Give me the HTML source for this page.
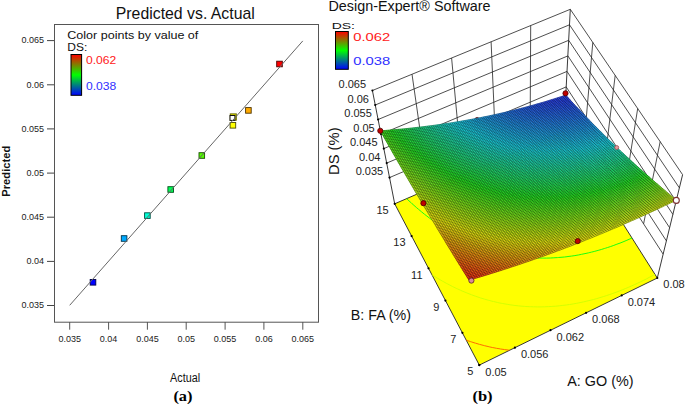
<!DOCTYPE html>
<html><head><meta charset="utf-8"><style>
html,body{margin:0;padding:0;background:#fff;}
svg{display:block;font-family:"Liberation Sans",sans-serif;}
</style></head><body>
<svg width="685" height="404" viewBox="0 0 685 404">
<text x="115.8" y="18.7" font-size="17" textLength="139" lengthAdjust="spacingAndGlyphs" fill="#111">Predicted vs. Actual</text>
<rect x="54.5" y="24.5" width="264" height="297.7" fill="none" stroke="#555" stroke-width="1"/>
<line x1="47" y1="305.5" x2="54" y2="305.5" stroke="#444"/>
<text x="44" y="308.3" font-size="9" text-anchor="end" fill="#222">0.035</text>
<line x1="47" y1="261.4" x2="54" y2="261.4" stroke="#444"/>
<text x="44" y="264.2" font-size="9" text-anchor="end" fill="#222">0.04</text>
<line x1="47" y1="217.2" x2="54" y2="217.2" stroke="#444"/>
<text x="44" y="220" font-size="9" text-anchor="end" fill="#222">0.045</text>
<line x1="47" y1="173.1" x2="54" y2="173.1" stroke="#444"/>
<text x="44" y="175.9" font-size="9" text-anchor="end" fill="#222">0.05</text>
<line x1="47" y1="128.9" x2="54" y2="128.9" stroke="#444"/>
<text x="44" y="131.7" font-size="9" text-anchor="end" fill="#222">0.055</text>
<line x1="47" y1="84.8" x2="54" y2="84.8" stroke="#444"/>
<text x="44" y="87.5" font-size="9" text-anchor="end" fill="#222">0.06</text>
<line x1="47" y1="40.6" x2="54" y2="40.6" stroke="#444"/>
<text x="44" y="43.4" font-size="9" text-anchor="end" fill="#222">0.065</text>
<line x1="69.7" y1="322" x2="69.7" y2="329.7" stroke="#555"/>
<text x="69.7" y="342" font-size="9" text-anchor="middle" fill="#222">0.035</text>
<line x1="108.6" y1="322" x2="108.6" y2="329.7" stroke="#555"/>
<text x="108.6" y="342" font-size="9" text-anchor="middle" fill="#222">0.04</text>
<line x1="147.4" y1="322" x2="147.4" y2="329.7" stroke="#555"/>
<text x="147.4" y="342" font-size="9" text-anchor="middle" fill="#222">0.045</text>
<line x1="186.2" y1="322" x2="186.2" y2="329.7" stroke="#555"/>
<text x="186.2" y="342" font-size="9" text-anchor="middle" fill="#222">0.05</text>
<line x1="225.1" y1="322" x2="225.1" y2="329.7" stroke="#555"/>
<text x="225.1" y="342" font-size="9" text-anchor="middle" fill="#222">0.055</text>
<line x1="263.9" y1="322" x2="263.9" y2="329.7" stroke="#555"/>
<text x="263.9" y="342" font-size="9" text-anchor="middle" fill="#222">0.06</text>
<line x1="302.8" y1="322" x2="302.8" y2="329.7" stroke="#555"/>
<text x="302.8" y="342" font-size="9" text-anchor="middle" fill="#222">0.065</text>
<rect x="90.2" y="279.5" width="5.6" height="5.6" fill="#0000ff" stroke="#00004c" stroke-width="0.9"/>
<rect x="121.3" y="235.7" width="5.6" height="5.6" fill="#00aaff" stroke="#00334c" stroke-width="0.9"/>
<rect x="144.6" y="212.8" width="5.6" height="5.6" fill="#00ffd5" stroke="#004c40" stroke-width="0.9"/>
<rect x="167.9" y="186.7" width="5.6" height="5.6" fill="#00ff55" stroke="#004c19" stroke-width="0.9"/>
<rect x="199" y="152.7" width="5.6" height="5.6" fill="#55ff00" stroke="#194c00" stroke-width="0.9"/>
<rect x="230.1" y="122.5" width="5.6" height="5.6" fill="#ffff00" stroke="#4c4c00" stroke-width="0.9"/>
<rect x="245.6" y="107.6" width="5.6" height="5.6" fill="#ffaa00" stroke="#4c3300" stroke-width="0.9"/>
<rect x="276.7" y="61.2" width="5.6" height="5.6" fill="#ff0000" stroke="#4c0000" stroke-width="0.9"/>
<rect x="230.3" y="113.9" width="6" height="6.3" fill="#e8e800" stroke="#6a6a00" stroke-width="1"/>
<rect x="230" y="115.5" width="4.9" height="4.9" fill="#fff" stroke="#111" stroke-width="1"/>
<line x1="69.7" y1="305.3" x2="302.8" y2="40.9" stroke="#666" stroke-width="1"/>
<text x="67.3" y="38.5" font-size="11" textLength="131" lengthAdjust="spacingAndGlyphs" fill="#111">Color points by value of</text>
<text x="67.3" y="51.3" font-size="11" textLength="20" lengthAdjust="spacingAndGlyphs" fill="#111">DS:</text>
<defs><linearGradient id="cb" x1="0" y1="0" x2="0" y2="1"><stop offset="0" stop-color="#ff0000"/><stop offset="0.5" stop-color="#00ff00"/><stop offset="1" stop-color="#0000ff"/></linearGradient></defs>
<rect x="71" y="54.5" width="10.6" height="40.8" fill="url(#cb)" stroke="#000" stroke-width="1"/>
<text x="86" y="64" font-size="10.5" textLength="30.3" lengthAdjust="spacingAndGlyphs" fill="#ff2020">0.062</text>
<text x="86" y="90" font-size="10.5" textLength="30.3" lengthAdjust="spacingAndGlyphs" fill="#3030ff">0.038</text>
<text transform="translate(10,171.2) rotate(-90)" font-size="11" font-weight="bold" text-anchor="middle" textLength="51" lengthAdjust="spacingAndGlyphs" fill="#111">Predicted</text>
<text x="170.1" y="382.3" font-size="12.5" textLength="30" lengthAdjust="spacingAndGlyphs" fill="#111">Actual</text>
<text x="173.4" y="400.5" font-size="15" font-family="Liberation Serif" font-weight="bold" textLength="19.1" lengthAdjust="spacingAndGlyphs" fill="#000">(a)</text>
<polyline points="389.5,177.6 565.4,102.5" fill="none" stroke="#222" stroke-width="0.8"/>
<polyline points="386.7,163.1 566.2,86.9" fill="none" stroke="#222" stroke-width="0.8"/>
<polyline points="383.8,148.6 567,71.4" fill="none" stroke="#222" stroke-width="0.8"/>
<polyline points="381,134.1 567.9,55.9" fill="none" stroke="#222" stroke-width="0.8"/>
<polyline points="378.1,119.5 568.7,40.3" fill="none" stroke="#222" stroke-width="0.8"/>
<polyline points="375.2,105 569.5,24.8" fill="none" stroke="#222" stroke-width="0.8"/>
<polyline points="372.4,90.5 570.3,9.3" fill="none" stroke="#222" stroke-width="0.8"/>
<polyline points="412,74.2 424.7,162.6" fill="none" stroke="#222" stroke-width="0.8"/>
<polyline points="451.6,58 459.9,147.6" fill="none" stroke="#222" stroke-width="0.8"/>
<polyline points="491.1,41.7 495.1,132.5" fill="none" stroke="#222" stroke-width="0.8"/>
<polyline points="530.7,25.5 530.2,117.5" fill="none" stroke="#222" stroke-width="0.8"/>
<polyline points="565.4,102.5 663.1,254.1" fill="none" stroke="#222" stroke-width="0.8"/>
<polyline points="566.2,86.9 666.4,240.9" fill="none" stroke="#222" stroke-width="0.8"/>
<polyline points="567,71.4 669.6,227.7" fill="none" stroke="#222" stroke-width="0.8"/>
<polyline points="567.9,55.9 672.9,214.4" fill="none" stroke="#222" stroke-width="0.8"/>
<polyline points="568.7,40.3 676.1,201.2" fill="none" stroke="#222" stroke-width="0.8"/>
<polyline points="569.5,24.8 679.4,187.9" fill="none" stroke="#222" stroke-width="0.8"/>
<polyline points="570.3,9.3 682.6,174.7" fill="none" stroke="#222" stroke-width="0.8"/>
<polyline points="660.2,141.6 643.6,223.8" fill="none" stroke="#222" stroke-width="0.8"/>
<polyline points="637.7,108.5 624.1,193.5" fill="none" stroke="#222" stroke-width="0.8"/>
<polyline points="615.2,75.4 604.5,163.1" fill="none" stroke="#222" stroke-width="0.8"/>
<polyline points="592.8,42.3 585,132.8" fill="none" stroke="#222" stroke-width="0.8"/>
<polyline points="372.4,90.5 394.7,203.8" fill="none" stroke="#222" stroke-width="0.9"/>
<polyline points="570.3,9.3 563.9,130.4" fill="none" stroke="#222" stroke-width="0.9"/>
<polyline points="682.6,174.7 657.3,278" fill="none" stroke="#222" stroke-width="0.9"/>
<polygon points="479.3,365.1 657.3,278 563.9,130.4 394.7,203.8" fill="#ffff00" stroke="#222" stroke-width="0.9"/>
<path d="M411.9,203.5L411.5,203.1M411.5,203.1L409,200.9M409,200.9L406.7,198.6M418.4,209.2L416.4,207.5M416.4,207.5L413.9,205.3M413.9,205.3L411.9,203.5M424.7,214.4L424.2,214M424.2,214L421.5,211.8M421.5,211.8L419,209.7M419,209.7L418.4,209.2M430.7,219L429.6,218.2M429.6,218.2L426.9,216.1M426.9,216.1L424.7,214.4M436.4,223.1L435.2,222.3M435.2,222.3L432.4,220.2M432.4,220.2L430.7,219M442,226.9L441,226.2M441,226.2L438.1,224.3M438.1,224.3L436.4,223.1M447.4,230.3L447.1,230.1M447.1,230.1L444,228.2M444,228.2L442,226.9M452.6,233.4L450.2,232M450.2,232L447.4,230.3M457.7,236.2L456.7,235.7M456.7,235.7L453.4,233.8M453.4,233.8L452.6,233.4M462.7,238.8L460.1,237.4M460.1,237.4L457.7,236.2M467.6,241.1L467,240.9M467,240.9L463.5,239.2M463.5,239.2L462.7,238.8M472.4,243.2L470.7,242.5M470.7,242.5L467.6,241.1M477,245.2L474.4,244.1M474.4,244.1L472.4,243.2M481.6,247L478.2,245.6M478.2,245.6L477,245.2M486.1,248.5L482.1,247.1M482.1,247.1L481.6,247M490.6,250L490.3,249.9M490.3,249.9L486.2,248.6M486.2,248.6L486.1,248.5M494.9,251.3L494.7,251.2M494.7,251.2L490.6,250M499.2,252.4L499.1,252.4M499.1,252.4L494.9,251.3M503.4,253.5L499.2,252.4M507.6,254.4L503.8,253.6M503.8,253.6L503.4,253.5M511.7,255.2L508.6,254.6M508.6,254.6L507.6,254.4M515.8,255.9L513.7,255.5M513.7,255.5L511.7,255.2M519.8,256.5L519,256.4M519,256.4L515.8,255.9M523.7,257L519.8,256.5M527.6,257.4L524.5,257M524.5,257L523.7,257M531.5,257.7L530.4,257.6M530.4,257.6L527.6,257.4M535.3,257.9L531.5,257.7M539.1,258L536.6,257.9M536.6,257.9L535.3,257.9M542.8,258.1L539.1,258M546.5,258.1L543.2,258.1M543.2,258.1L542.8,258.1M550.2,258L546.5,258.1M553.8,257.8L550.4,258M550.4,258L550.2,258M557.4,257.6L553.8,257.8M561,257.3L558.3,257.5M558.3,257.5L557.4,257.6M564.5,257L561,257.3M568,256.5L567,256.7M567,256.7L564.5,257M571.4,256.1L568,256.5M574.9,255.6L571.4,256.1M578.3,255L577,255.2M577,255.2L574.9,255.6M581.6,254.3L578.3,255M585,253.6L581.6,254.3M588.3,252.9L585,253.6M591.6,252.1L589.1,252.7M589.1,252.7L588.3,252.9M594.8,251.3L591.6,252.1M598.1,250.4L594.8,251.3M601.3,249.5L598.1,250.4M604.4,248.5L601.3,249.5M607.6,247.5L605.5,248.2M605.5,248.2L604.4,248.5M610.7,246.5L607.6,247.5M613.8,245.4L610.7,246.5M616.9,244.2L613.8,245.4M620,243.1L616.9,244.2M623,241.9L620,243.1M626.1,240.6L623,241.9M629.1,239.3L626.1,240.6M632,238L629.1,239.3" stroke="#00ff11" stroke-width="0.9" fill="none"/>
<path d="M437.2,278L436.9,277.8M436.9,277.8L433.8,275.9M433.8,275.9L431.9,274.7M442.4,281.1L440,279.7M440,279.7L437.2,278M447.5,283.9L446.5,283.4M446.5,283.4L443.2,281.5M443.2,281.5L442.4,281.1M452.5,286.5L449.9,285.1M449.9,285.1L447.5,283.9M457.3,288.8L456.8,288.6M456.8,288.6L453.3,286.9M453.3,286.9L452.5,286.5M462.1,291L460.4,290.2M460.4,290.2L457.3,288.8M466.8,292.9L464.1,291.8M464.1,291.8L462.1,291M471.4,294.7L467.9,293.4M467.9,293.4L466.8,292.9M476,296.4L475.8,296.3M475.8,296.3L471.8,294.9M471.8,294.9L471.4,294.7M480.4,297.9L479.9,297.7M479.9,297.7L476,296.4M484.8,299.2L484.2,299M484.2,299L480.4,297.9M489.2,300.4L488.6,300.3M488.6,300.3L484.8,299.2M493.5,301.5L493.1,301.5M493.1,301.5L489.2,300.4M497.7,302.5L493.5,301.5M501.8,303.4L497.8,302.6M497.8,302.6L497.7,302.5M506,304.1L502.7,303.5M502.7,303.5L501.8,303.4M510,304.8L507.8,304.4M507.8,304.4L506,304.1M514.1,305.4L513.1,305.2M513.1,305.2L510,304.8M518,305.8L514.1,305.4M522,306.2L518.6,305.9M518.6,305.9L518,305.8M525.9,306.5L524.5,306.4M524.5,306.4L522,306.2M529.7,306.7L525.9,306.5M533.5,306.8L530.7,306.7M530.7,306.7L529.7,306.7M537.3,306.9L537.2,306.9M537.2,306.9L533.5,306.8M541,306.9L537.3,306.9M544.8,306.8L544.2,306.8M544.2,306.8L541,306.9M548.4,306.6L544.8,306.8M552.1,306.4L551.8,306.5M551.8,306.5L548.4,306.6M555.7,306.2L552.1,306.4M559.3,305.8L555.7,306.2M562.8,305.4L560.1,305.7M560.1,305.7L559.3,305.8M566.3,305L562.8,305.4M569.8,304.5L569.4,304.5M569.4,304.5L566.3,305M573.3,303.9L569.8,304.5M576.7,303.3L573.3,303.9M580.1,302.6L576.7,303.3M583.5,301.9L580.1,302.6M580.1,302.6L580.1,302.6M586.8,301.1L583.5,301.9M590.2,300.3L586.8,301.1M593.5,299.5L593.1,299.6M593.1,299.6L590.2,300.3M596.8,298.6L593.5,299.5M600,297.6L596.8,298.6M603.3,296.6L600,297.6M606.5,295.6L603.3,296.6M609.7,294.5L606.5,295.6M612.8,293.4L611.2,294M611.2,294L609.7,294.5M616,292.3L612.8,293.4M619.1,291.1L616,292.3M622.2,289.9L619.1,291.1M625.3,288.6L622.2,289.9M628.3,287.4L625.3,288.6M631.4,286L628.3,287.4M634.4,284.7L631.4,286M637.4,283.3L634.4,284.7M640.4,281.9L637.4,283.3M643.4,280.4L640.4,281.9M646.3,279L643.4,280.4M649.2,277.4L646.3,279M652.1,275.9L649.2,277.4M655,274.3L652.1,275.9" stroke="#ceff00" stroke-width="0.9" fill="none"/>
<path d="M470.7,341.7L467.3,340.5M467.3,340.5L466.2,340.1M475.2,343.1L471.4,341.9M471.4,341.9L470.7,341.7M479.5,344.4L475.7,343.2M475.7,343.2L475.2,343.1M483.9,345.5L480,344.5M480,344.5L479.5,344.4M488.1,346.5L484.5,345.7M484.5,345.7L483.9,345.5M492.3,347.5L489.2,346.8M489.2,346.8L488.1,346.5M496.5,348.3L494,347.8M494,347.8L492.3,347.5M500.6,349L499,348.7M499,348.7L496.5,348.3M504.7,349.6L504.2,349.5M504.2,349.5L500.6,349M508.7,350.1L504.7,349.6M509.6,350.2L508.7,350.1" stroke="#ff5900" stroke-width="0.9" fill="none"/>
<circle cx="479.3" cy="365.1" r="1.1" fill="#000"/>
<circle cx="479.3" cy="365.1" r="1.1" fill="#000"/>
<circle cx="462.4" cy="332.8" r="1.1" fill="#000"/>
<circle cx="514.9" cy="347.7" r="1.1" fill="#000"/>
<circle cx="445.4" cy="300.6" r="1.1" fill="#000"/>
<circle cx="550.5" cy="330.2" r="1.1" fill="#000"/>
<circle cx="428.5" cy="268.3" r="1.1" fill="#000"/>
<circle cx="586.1" cy="312.8" r="1.1" fill="#000"/>
<circle cx="411.6" cy="236.1" r="1.1" fill="#000"/>
<circle cx="621.7" cy="295.4" r="1.1" fill="#000"/>
<circle cx="394.7" cy="203.8" r="1.1" fill="#000"/>
<circle cx="657.3" cy="278" r="1.1" fill="#000"/>
<circle cx="389.5" cy="177.6" r="1.1" fill="#000"/>
<circle cx="386.7" cy="163.1" r="1.1" fill="#000"/>
<circle cx="383.8" cy="148.6" r="1.1" fill="#000"/>
<circle cx="381" cy="134.1" r="1.1" fill="#000"/>
<circle cx="378.1" cy="119.5" r="1.1" fill="#000"/>
<circle cx="375.2" cy="105" r="1.1" fill="#000"/>
<circle cx="372.4" cy="90.5" r="1.1" fill="#000"/>
<circle cx="477.1" cy="119.8" r="2.3" fill="#c00000" stroke="#4a0000" stroke-width="0.8"/>
<g><polygon points="469,280.2 473.9,278.8 471.8,275.5 466.9,276.9" fill="#fa3119" stroke="#fa3119" stroke-width="0.6"/><polygon points="466.9,276.9 471.8,275.5 469.8,272.3 464.9,273.7" fill="#f93d19" stroke="#f93d19" stroke-width="0.6"/><polygon points="464.9,273.7 469.8,272.3 467.7,269 462.8,270.4" fill="#f94818" stroke="#f94818" stroke-width="0.6"/><polygon points="462.8,270.4 467.7,269 465.6,265.7 460.8,267.1" fill="#f85318" stroke="#f85318" stroke-width="0.6"/><polygon points="460.8,267.1 465.6,265.7 463.6,262.4 458.7,263.8" fill="#f75e18" stroke="#f75e18" stroke-width="0.6"/><polygon points="458.7,263.8 463.6,262.4 461.5,259.2 456.7,260.4" fill="#f76917" stroke="#f76917" stroke-width="0.6"/><polygon points="456.7,260.4 461.5,259.2 459.5,255.9 454.7,257.1" fill="#f67417" stroke="#f67417" stroke-width="0.6"/><polygon points="454.7,257.1 459.5,255.9 457.4,252.6 452.6,253.8" fill="#f67f17" stroke="#f67f17" stroke-width="0.6"/><polygon points="452.6,253.8 457.4,252.6 455.4,249.3 450.6,250.5" fill="#f58917" stroke="#f58917" stroke-width="0.6"/><polygon points="450.6,250.5 455.4,249.3 453.3,246 448.6,247.2" fill="#f59316" stroke="#f59316" stroke-width="0.6"/><polygon points="448.6,247.2 453.3,246 451.3,242.7 446.5,243.9" fill="#f49d16" stroke="#f49d16" stroke-width="0.6"/><polygon points="446.5,243.9 451.3,242.7 449.3,239.4 444.5,240.5" fill="#f4a716" stroke="#f4a716" stroke-width="0.6"/><polygon points="444.5,240.5 449.3,239.4 447.2,236.1 442.5,237.2" fill="#f3b116" stroke="#f3b116" stroke-width="0.6"/><polygon points="442.5,237.2 447.2,236.1 445.2,232.8 440.5,233.9" fill="#f3bb15" stroke="#f3bb15" stroke-width="0.6"/><polygon points="440.5,233.9 445.2,232.8 443.2,229.5 438.4,230.5" fill="#f2c415" stroke="#f2c415" stroke-width="0.6"/><polygon points="438.4,230.5 443.2,229.5 441.2,226.1 436.4,227.2" fill="#f2ce15" stroke="#f2ce15" stroke-width="0.6"/><polygon points="436.4,227.2 441.2,226.1 439.1,222.8 434.4,223.8" fill="#f1d715" stroke="#f1d715" stroke-width="0.6"/><polygon points="434.4,223.8 439.1,222.8 437.1,219.5 432.4,220.5" fill="#f1e014" stroke="#f1e014" stroke-width="0.6"/><polygon points="432.4,220.5 437.1,219.5 435.1,216.2 430.4,217.1" fill="#f0e914" stroke="#f0e914" stroke-width="0.6"/><polygon points="430.4,217.1 435.1,216.2 433.1,212.8 428.4,213.8" fill="#eef014" stroke="#eef014" stroke-width="0.6"/><polygon points="428.4,213.8 433.1,212.8 431,209.5 426.4,210.4" fill="#e5f015" stroke="#e5f015" stroke-width="0.6"/><polygon points="426.4,210.4 431,209.5 429,206.1 424.4,207" fill="#ddf016" stroke="#ddf016" stroke-width="0.6"/><polygon points="424.4,207 429,206.1 427,202.8 422.3,203.6" fill="#d4f017" stroke="#d4f017" stroke-width="0.6"/><polygon points="422.3,203.6 427,202.8 425,199.4 420.3,200.2" fill="#ccf018" stroke="#ccf018" stroke-width="0.6"/><polygon points="420.3,200.2 425,199.4 423,196 418.3,196.8" fill="#c4f018" stroke="#c4f018" stroke-width="0.6"/><polygon points="418.3,196.8 423,196 421,192.6 416.3,193.4" fill="#bcf019" stroke="#bcf019" stroke-width="0.6"/><polygon points="416.3,193.4 421,192.6 419,189.3 414.3,190" fill="#b4f01a" stroke="#b4f01a" stroke-width="0.6"/><polygon points="414.3,190 419,189.3 417,185.9 412.3,186.6" fill="#acf01b" stroke="#acf01b" stroke-width="0.6"/><polygon points="412.3,186.6 417,185.9 414.9,182.5 410.3,183.2" fill="#a5f01c" stroke="#a5f01c" stroke-width="0.6"/><polygon points="410.3,183.2 414.9,182.5 412.9,179.1 408.3,179.7" fill="#9df01c" stroke="#9df01c" stroke-width="0.6"/><polygon points="408.3,179.7 412.9,179.1 410.9,175.6 406.3,176.3" fill="#96f01d" stroke="#96f01d" stroke-width="0.6"/><polygon points="406.3,176.3 410.9,175.6 408.9,172.2 404.3,172.9" fill="#8ff01e" stroke="#8ff01e" stroke-width="0.6"/><polygon points="404.3,172.9 408.9,172.2 406.9,168.8 402.3,169.4" fill="#88f01e" stroke="#88f01e" stroke-width="0.6"/><polygon points="402.3,169.4 406.9,168.8 404.9,165.3 400.3,165.9" fill="#82f01f" stroke="#82f01f" stroke-width="0.6"/><polygon points="400.3,165.9 404.9,165.3 402.9,161.9 398.3,162.5" fill="#7bf020" stroke="#7bf020" stroke-width="0.6"/><polygon points="398.3,162.5 402.9,161.9 400.9,158.4 396.3,159" fill="#75f020" stroke="#75f020" stroke-width="0.6"/><polygon points="396.3,159 400.9,158.4 398.9,155 394.3,155.5" fill="#6ff021" stroke="#6ff021" stroke-width="0.6"/><polygon points="394.3,155.5 398.9,155 396.9,151.5 392.3,152" fill="#68f022" stroke="#68f022" stroke-width="0.6"/><polygon points="392.3,152 396.9,151.5 394.9,148 390.3,148.5" fill="#63f022" stroke="#63f022" stroke-width="0.6"/><polygon points="390.3,148.5 394.9,148 392.9,144.5 388.3,145" fill="#5df023" stroke="#5df023" stroke-width="0.6"/><polygon points="388.3,145 392.9,144.5 390.9,141 386.3,141.4" fill="#57f023" stroke="#57f023" stroke-width="0.6"/><polygon points="386.3,141.4 390.9,141 388.9,137.5 384.3,137.9" fill="#52f024" stroke="#52f024" stroke-width="0.6"/><polygon points="384.3,137.9 388.9,137.5 386.9,134 382.3,134.4" fill="#4cf024" stroke="#4cf024" stroke-width="0.6"/><polygon points="382.3,134.4 386.9,134 384.9,130.5 380.3,130.8" fill="#47f025" stroke="#47f025" stroke-width="0.6"/><polygon points="473.9,278.8 478.8,277.3 476.7,274.1 471.8,275.5" fill="#f93c19" stroke="#f93c19" stroke-width="0.6"/><polygon points="471.8,275.5 476.7,274.1 474.6,270.9 469.8,272.3" fill="#f94818" stroke="#f94818" stroke-width="0.6"/><polygon points="469.8,272.3 474.6,270.9 472.5,267.6 467.7,269" fill="#f85318" stroke="#f85318" stroke-width="0.6"/><polygon points="467.7,269 472.5,267.6 470.5,264.4 465.6,265.7" fill="#f75e18" stroke="#f75e18" stroke-width="0.6"/><polygon points="465.6,265.7 470.5,264.4 468.4,261.1 463.6,262.4" fill="#f76a17" stroke="#f76a17" stroke-width="0.6"/><polygon points="463.6,262.4 468.4,261.1 466.3,257.8 461.5,259.2" fill="#f67517" stroke="#f67517" stroke-width="0.6"/><polygon points="461.5,259.2 466.3,257.8 464.3,254.6 459.5,255.9" fill="#f68017" stroke="#f68017" stroke-width="0.6"/><polygon points="459.5,255.9 464.3,254.6 462.2,251.3 457.4,252.6" fill="#f58a17" stroke="#f58a17" stroke-width="0.6"/><polygon points="457.4,252.6 462.2,251.3 460.2,248.1 455.4,249.3" fill="#f59516" stroke="#f59516" stroke-width="0.6"/><polygon points="455.4,249.3 460.2,248.1 458.1,244.8 453.3,246" fill="#f49f16" stroke="#f49f16" stroke-width="0.6"/><polygon points="453.3,246 458.1,244.8 456.1,241.5 451.3,242.7" fill="#f4aa16" stroke="#f4aa16" stroke-width="0.6"/><polygon points="451.3,242.7 456.1,241.5 454,238.2 449.3,239.4" fill="#f3b416" stroke="#f3b416" stroke-width="0.6"/><polygon points="449.3,239.4 454,238.2 452,235 447.2,236.1" fill="#f3be15" stroke="#f3be15" stroke-width="0.6"/><polygon points="447.2,236.1 452,235 449.9,231.7 445.2,232.8" fill="#f2c715" stroke="#f2c715" stroke-width="0.6"/><polygon points="445.2,232.8 449.9,231.7 447.9,228.4 443.2,229.5" fill="#f2d115" stroke="#f2d115" stroke-width="0.6"/><polygon points="443.2,229.5 447.9,228.4 445.9,225.1 441.2,226.1" fill="#f1da15" stroke="#f1da15" stroke-width="0.6"/><polygon points="441.2,226.1 445.9,225.1 443.8,221.8 439.1,222.8" fill="#f1e414" stroke="#f1e414" stroke-width="0.6"/><polygon points="439.1,222.8 443.8,221.8 441.8,218.5 437.1,219.5" fill="#f0ed14" stroke="#f0ed14" stroke-width="0.6"/><polygon points="437.1,219.5 441.8,218.5 439.8,215.2 435.1,216.2" fill="#eaf015" stroke="#eaf015" stroke-width="0.6"/><polygon points="435.1,216.2 439.8,215.2 437.7,211.8 433.1,212.8" fill="#e1f016" stroke="#e1f016" stroke-width="0.6"/><polygon points="433.1,212.8 437.7,211.8 435.7,208.5 431,209.5" fill="#d8f016" stroke="#d8f016" stroke-width="0.6"/><polygon points="431,209.5 435.7,208.5 433.7,205.2 429,206.1" fill="#cff017" stroke="#cff017" stroke-width="0.6"/><polygon points="429,206.1 433.7,205.2 431.7,201.9 427,202.8" fill="#c7f018" stroke="#c7f018" stroke-width="0.6"/><polygon points="427,202.8 431.7,201.9 429.6,198.5 425,199.4" fill="#bef019" stroke="#bef019" stroke-width="0.6"/><polygon points="425,199.4 429.6,198.5 427.6,195.2 423,196" fill="#b6f01a" stroke="#b6f01a" stroke-width="0.6"/><polygon points="423,196 427.6,195.2 425.6,191.8 421,192.6" fill="#aef01b" stroke="#aef01b" stroke-width="0.6"/><polygon points="421,192.6 425.6,191.8 423.6,188.5 419,189.3" fill="#a6f01b" stroke="#a6f01b" stroke-width="0.6"/><polygon points="419,189.3 423.6,188.5 421.6,185.1 417,185.9" fill="#9ef01c" stroke="#9ef01c" stroke-width="0.6"/><polygon points="417,185.9 421.6,185.1 419.6,181.7 414.9,182.5" fill="#96f01d" stroke="#96f01d" stroke-width="0.6"/><polygon points="414.9,182.5 419.6,181.7 417.5,178.3 412.9,179.1" fill="#8ff01e" stroke="#8ff01e" stroke-width="0.6"/><polygon points="412.9,179.1 417.5,178.3 415.5,174.9 410.9,175.6" fill="#88f01e" stroke="#88f01e" stroke-width="0.6"/><polygon points="410.9,175.6 415.5,174.9 413.5,171.5 408.9,172.2" fill="#80f01f" stroke="#80f01f" stroke-width="0.6"/><polygon points="408.9,172.2 413.5,171.5 411.5,168.1 406.9,168.8" fill="#79f020" stroke="#79f020" stroke-width="0.6"/><polygon points="406.9,168.8 411.5,168.1 409.5,164.7 404.9,165.3" fill="#73f021" stroke="#73f021" stroke-width="0.6"/><polygon points="404.9,165.3 409.5,164.7 407.5,161.3 402.9,161.9" fill="#6cf021" stroke="#6cf021" stroke-width="0.6"/><polygon points="402.9,161.9 407.5,161.3 405.5,157.9 400.9,158.4" fill="#65f022" stroke="#65f022" stroke-width="0.6"/><polygon points="400.9,158.4 405.5,157.9 403.5,154.4 398.9,155" fill="#5ff022" stroke="#5ff022" stroke-width="0.6"/><polygon points="398.9,155 403.5,154.4 401.4,151 396.9,151.5" fill="#59f023" stroke="#59f023" stroke-width="0.6"/><polygon points="396.9,151.5 401.4,151 399.4,147.5 394.9,148" fill="#53f024" stroke="#53f024" stroke-width="0.6"/><polygon points="394.9,148 399.4,147.5 397.4,144.1 392.9,144.5" fill="#4df024" stroke="#4df024" stroke-width="0.6"/><polygon points="392.9,144.5 397.4,144.1 395.4,140.6 390.9,141" fill="#47f025" stroke="#47f025" stroke-width="0.6"/><polygon points="390.9,141 395.4,140.6 393.4,137.1 388.9,137.5" fill="#42f025" stroke="#42f025" stroke-width="0.6"/><polygon points="388.9,137.5 393.4,137.1 391.4,133.6 386.9,134" fill="#3cf026" stroke="#3cf026" stroke-width="0.6"/><polygon points="386.9,134 391.4,133.6 389.4,130.1 384.9,130.5" fill="#37f026" stroke="#37f026" stroke-width="0.6"/><polygon points="478.8,277.3 483.7,275.9 481.6,272.7 476.7,274.1" fill="#f94718" stroke="#f94718" stroke-width="0.6"/><polygon points="476.7,274.1 481.6,272.7 479.5,269.4 474.6,270.9" fill="#f85218" stroke="#f85218" stroke-width="0.6"/><polygon points="474.6,270.9 479.5,269.4 477.4,266.2 472.5,267.6" fill="#f75e18" stroke="#f75e18" stroke-width="0.6"/><polygon points="472.5,267.6 477.4,266.2 475.3,263 470.5,264.4" fill="#f76917" stroke="#f76917" stroke-width="0.6"/><polygon points="470.5,264.4 475.3,263 473.2,259.8 468.4,261.1" fill="#f67517" stroke="#f67517" stroke-width="0.6"/><polygon points="468.4,261.1 473.2,259.8 471.1,256.5 466.3,257.8" fill="#f68017" stroke="#f68017" stroke-width="0.6"/><polygon points="466.3,257.8 471.1,256.5 469.1,253.3 464.3,254.6" fill="#f58b17" stroke="#f58b17" stroke-width="0.6"/><polygon points="464.3,254.6 469.1,253.3 467,250.1 462.2,251.3" fill="#f59616" stroke="#f59616" stroke-width="0.6"/><polygon points="462.2,251.3 467,250.1 464.9,246.8 460.2,248.1" fill="#f4a016" stroke="#f4a016" stroke-width="0.6"/><polygon points="460.2,248.1 464.9,246.8 462.9,243.6 458.1,244.8" fill="#f4ab16" stroke="#f4ab16" stroke-width="0.6"/><polygon points="458.1,244.8 462.9,243.6 460.8,240.3 456.1,241.5" fill="#f3b516" stroke="#f3b516" stroke-width="0.6"/><polygon points="456.1,241.5 460.8,240.3 458.8,237.1 454,238.2" fill="#f2c015" stroke="#f2c015" stroke-width="0.6"/><polygon points="454,238.2 458.8,237.1 456.7,233.8 452,235" fill="#f2ca15" stroke="#f2ca15" stroke-width="0.6"/><polygon points="452,235 456.7,233.8 454.7,230.5 449.9,231.7" fill="#f1d415" stroke="#f1d415" stroke-width="0.6"/><polygon points="449.9,231.7 454.7,230.5 452.6,227.3 447.9,228.4" fill="#f1dd14" stroke="#f1dd14" stroke-width="0.6"/><polygon points="447.9,228.4 452.6,227.3 450.6,224 445.9,225.1" fill="#f0e714" stroke="#f0e714" stroke-width="0.6"/><polygon points="445.9,225.1 450.6,224 448.5,220.7 443.8,221.8" fill="#f0f014" stroke="#f0f014" stroke-width="0.6"/><polygon points="443.8,221.8 448.5,220.7 446.5,217.4 441.8,218.5" fill="#e6f015" stroke="#e6f015" stroke-width="0.6"/><polygon points="441.8,218.5 446.5,217.4 444.4,214.2 439.8,215.2" fill="#ddf016" stroke="#ddf016" stroke-width="0.6"/><polygon points="439.8,215.2 444.4,214.2 442.4,210.9 437.7,211.8" fill="#d4f017" stroke="#d4f017" stroke-width="0.6"/><polygon points="437.7,211.8 442.4,210.9 440.4,207.6 435.7,208.5" fill="#cbf018" stroke="#cbf018" stroke-width="0.6"/><polygon points="435.7,208.5 440.4,207.6 438.3,204.3 433.7,205.2" fill="#c2f019" stroke="#c2f019" stroke-width="0.6"/><polygon points="433.7,205.2 438.3,204.3 436.3,201 431.7,201.9" fill="#b9f019" stroke="#b9f019" stroke-width="0.6"/><polygon points="431.7,201.9 436.3,201 434.3,197.6 429.6,198.5" fill="#b0f01a" stroke="#b0f01a" stroke-width="0.6"/><polygon points="429.6,198.5 434.3,197.6 432.2,194.3 427.6,195.2" fill="#a8f01b" stroke="#a8f01b" stroke-width="0.6"/><polygon points="427.6,195.2 432.2,194.3 430.2,191 425.6,191.8" fill="#a0f01c" stroke="#a0f01c" stroke-width="0.6"/><polygon points="425.6,191.8 430.2,191 428.2,187.7 423.6,188.5" fill="#98f01d" stroke="#98f01d" stroke-width="0.6"/><polygon points="423.6,188.5 428.2,187.7 426.2,184.3 421.6,185.1" fill="#90f01e" stroke="#90f01e" stroke-width="0.6"/><polygon points="421.6,185.1 426.2,184.3 424.1,181 419.6,181.7" fill="#88f01e" stroke="#88f01e" stroke-width="0.6"/><polygon points="419.6,181.7 424.1,181 422.1,177.6 417.5,178.3" fill="#81f01f" stroke="#81f01f" stroke-width="0.6"/><polygon points="417.5,178.3 422.1,177.6 420.1,174.2 415.5,174.9" fill="#79f020" stroke="#79f020" stroke-width="0.6"/><polygon points="415.5,174.9 420.1,174.2 418.1,170.9 413.5,171.5" fill="#72f021" stroke="#72f021" stroke-width="0.6"/><polygon points="413.5,171.5 418.1,170.9 416.1,167.5 411.5,168.1" fill="#6bf021" stroke="#6bf021" stroke-width="0.6"/><polygon points="411.5,168.1 416.1,167.5 414,164.1 409.5,164.7" fill="#64f022" stroke="#64f022" stroke-width="0.6"/><polygon points="409.5,164.7 414,164.1 412,160.7 407.5,161.3" fill="#5df023" stroke="#5df023" stroke-width="0.6"/><polygon points="407.5,161.3 412,160.7 410,157.3 405.5,157.9" fill="#56f023" stroke="#56f023" stroke-width="0.6"/><polygon points="405.5,157.9 410,157.3 408,153.9 403.5,154.4" fill="#50f024" stroke="#50f024" stroke-width="0.6"/><polygon points="403.5,154.4 408,153.9 406,150.5 401.4,151" fill="#4af025" stroke="#4af025" stroke-width="0.6"/><polygon points="401.4,151 406,150.5 404,147 399.4,147.5" fill="#43f025" stroke="#43f025" stroke-width="0.6"/><polygon points="399.4,147.5 404,147 401.9,143.6 397.4,144.1" fill="#3df026" stroke="#3df026" stroke-width="0.6"/><polygon points="397.4,144.1 401.9,143.6 399.9,140.1 395.4,140.6" fill="#38f026" stroke="#38f026" stroke-width="0.6"/><polygon points="395.4,140.6 399.9,140.1 397.9,136.7 393.4,137.1" fill="#32f027" stroke="#32f027" stroke-width="0.6"/><polygon points="393.4,137.1 397.9,136.7 395.9,133.2 391.4,133.6" fill="#2cf028" stroke="#2cf028" stroke-width="0.6"/><polygon points="391.4,133.6 395.9,133.2 393.9,129.7 389.4,130.1" fill="#28f029" stroke="#28f029" stroke-width="0.6"/><polygon points="483.7,275.9 488.5,274.4 486.4,271.2 481.6,272.7" fill="#f85118" stroke="#f85118" stroke-width="0.6"/><polygon points="481.6,272.7 486.4,271.2 484.3,268 479.5,269.4" fill="#f85d18" stroke="#f85d18" stroke-width="0.6"/><polygon points="479.5,269.4 484.3,268 482.2,264.8 477.4,266.2" fill="#f76917" stroke="#f76917" stroke-width="0.6"/><polygon points="477.4,266.2 482.2,264.8 480.1,261.6 475.3,263" fill="#f67417" stroke="#f67417" stroke-width="0.6"/><polygon points="475.3,263 480.1,261.6 478,258.4 473.2,259.8" fill="#f68017" stroke="#f68017" stroke-width="0.6"/><polygon points="473.2,259.8 478,258.4 475.9,255.2 471.1,256.5" fill="#f58b17" stroke="#f58b17" stroke-width="0.6"/><polygon points="471.1,256.5 475.9,255.2 473.8,252 469.1,253.3" fill="#f59616" stroke="#f59616" stroke-width="0.6"/><polygon points="469.1,253.3 473.8,252 471.8,248.8 467,250.1" fill="#f4a116" stroke="#f4a116" stroke-width="0.6"/><polygon points="467,250.1 471.8,248.8 469.7,245.5 464.9,246.8" fill="#f4ac16" stroke="#f4ac16" stroke-width="0.6"/><polygon points="464.9,246.8 469.7,245.5 467.6,242.3 462.9,243.6" fill="#f3b615" stroke="#f3b615" stroke-width="0.6"/><polygon points="462.9,243.6 467.6,242.3 465.5,239.1 460.8,240.3" fill="#f2c115" stroke="#f2c115" stroke-width="0.6"/><polygon points="460.8,240.3 465.5,239.1 463.5,235.9 458.8,237.1" fill="#f2cb15" stroke="#f2cb15" stroke-width="0.6"/><polygon points="458.8,237.1 463.5,235.9 461.4,232.6 456.7,233.8" fill="#f1d515" stroke="#f1d515" stroke-width="0.6"/><polygon points="456.7,233.8 461.4,232.6 459.3,229.4 454.7,230.5" fill="#f1df14" stroke="#f1df14" stroke-width="0.6"/><polygon points="454.7,230.5 459.3,229.4 457.3,226.2 452.6,227.3" fill="#f0e914" stroke="#f0e914" stroke-width="0.6"/><polygon points="452.6,227.3 457.3,226.2 455.2,222.9 450.6,224" fill="#edf014" stroke="#edf014" stroke-width="0.6"/><polygon points="450.6,224 455.2,222.9 453.2,219.7 448.5,220.7" fill="#e3f015" stroke="#e3f015" stroke-width="0.6"/><polygon points="448.5,220.7 453.2,219.7 451.1,216.4 446.5,217.4" fill="#daf016" stroke="#daf016" stroke-width="0.6"/><polygon points="446.5,217.4 451.1,216.4 449.1,213.1 444.4,214.2" fill="#d0f017" stroke="#d0f017" stroke-width="0.6"/><polygon points="444.4,214.2 449.1,213.1 447,209.9 442.4,210.9" fill="#c7f018" stroke="#c7f018" stroke-width="0.6"/><polygon points="442.4,210.9 447,209.9 445,206.6 440.4,207.6" fill="#bef019" stroke="#bef019" stroke-width="0.6"/><polygon points="440.4,207.6 445,206.6 442.9,203.3 438.3,204.3" fill="#b5f01a" stroke="#b5f01a" stroke-width="0.6"/><polygon points="438.3,204.3 442.9,203.3 440.9,200 436.3,201" fill="#acf01b" stroke="#acf01b" stroke-width="0.6"/><polygon points="436.3,201 440.9,200 438.9,196.7 434.3,197.6" fill="#a3f01c" stroke="#a3f01c" stroke-width="0.6"/><polygon points="434.3,197.6 438.9,196.7 436.8,193.4 432.2,194.3" fill="#9bf01d" stroke="#9bf01d" stroke-width="0.6"/><polygon points="432.2,194.3 436.8,193.4 434.8,190.1 430.2,191" fill="#92f01d" stroke="#92f01d" stroke-width="0.6"/><polygon points="430.2,191 434.8,190.1 432.8,186.8 428.2,187.7" fill="#8af01e" stroke="#8af01e" stroke-width="0.6"/><polygon points="428.2,187.7 432.8,186.8 430.7,183.5 426.2,184.3" fill="#82f01f" stroke="#82f01f" stroke-width="0.6"/><polygon points="426.2,184.3 430.7,183.5 428.7,180.2 424.1,181" fill="#7af020" stroke="#7af020" stroke-width="0.6"/><polygon points="424.1,181 428.7,180.2 426.7,176.8 422.1,177.6" fill="#72f021" stroke="#72f021" stroke-width="0.6"/><polygon points="422.1,177.6 426.7,176.8 424.6,173.5 420.1,174.2" fill="#6bf021" stroke="#6bf021" stroke-width="0.6"/><polygon points="420.1,174.2 424.6,173.5 422.6,170.2 418.1,170.9" fill="#63f022" stroke="#63f022" stroke-width="0.6"/><polygon points="418.1,170.9 422.6,170.2 420.6,166.8 416.1,167.5" fill="#5cf023" stroke="#5cf023" stroke-width="0.6"/><polygon points="416.1,167.5 420.6,166.8 418.6,163.4 414,164.1" fill="#55f023" stroke="#55f023" stroke-width="0.6"/><polygon points="414,164.1 418.6,163.4 416.5,160.1 412,160.7" fill="#4ef024" stroke="#4ef024" stroke-width="0.6"/><polygon points="412,160.7 416.5,160.1 414.5,156.7 410,157.3" fill="#48f025" stroke="#48f025" stroke-width="0.6"/><polygon points="410,157.3 414.5,156.7 412.5,153.3 408,153.9" fill="#41f026" stroke="#41f026" stroke-width="0.6"/><polygon points="408,153.9 412.5,153.3 410.5,149.9 406,150.5" fill="#3af026" stroke="#3af026" stroke-width="0.6"/><polygon points="406,150.5 410.5,149.9 408.5,146.5 404,147" fill="#34f027" stroke="#34f027" stroke-width="0.6"/><polygon points="404,147 408.5,146.5 406.4,143.1 401.9,143.6" fill="#2ef027" stroke="#2ef027" stroke-width="0.6"/><polygon points="401.9,143.6 406.4,143.1 404.4,139.7 399.9,140.1" fill="#28f028" stroke="#28f028" stroke-width="0.6"/><polygon points="399.9,140.1 404.4,139.7 402.4,136.2 397.9,136.7" fill="#28f02e" stroke="#28f02e" stroke-width="0.6"/><polygon points="397.9,136.7 402.4,136.2 400.4,132.8 395.9,133.2" fill="#27ef33" stroke="#27ef33" stroke-width="0.6"/><polygon points="395.9,133.2 400.4,132.8 398.4,129.3 393.9,129.7" fill="#27ef39" stroke="#27ef39" stroke-width="0.6"/><polygon points="488.5,274.4 493.3,272.9 491.2,269.7 486.4,271.2" fill="#f85b18" stroke="#f85b18" stroke-width="0.6"/><polygon points="486.4,271.2 491.2,269.7 489.1,266.5 484.3,268" fill="#f76718" stroke="#f76718" stroke-width="0.6"/><polygon points="484.3,268 489.1,266.5 487,263.4 482.2,264.8" fill="#f67317" stroke="#f67317" stroke-width="0.6"/><polygon points="482.2,264.8 487,263.4 484.9,260.2 480.1,261.6" fill="#f67f17" stroke="#f67f17" stroke-width="0.6"/><polygon points="480.1,261.6 484.9,260.2 482.8,257 478,258.4" fill="#f58a17" stroke="#f58a17" stroke-width="0.6"/><polygon points="478,258.4 482.8,257 480.7,253.8 475.9,255.2" fill="#f59516" stroke="#f59516" stroke-width="0.6"/><polygon points="475.9,255.2 480.7,253.8 478.6,250.6 473.8,252" fill="#f4a116" stroke="#f4a116" stroke-width="0.6"/><polygon points="473.8,252 478.6,250.6 476.5,247.5 471.8,248.8" fill="#f3ac16" stroke="#f3ac16" stroke-width="0.6"/><polygon points="471.8,248.8 476.5,247.5 474.4,244.3 469.7,245.5" fill="#f3b715" stroke="#f3b715" stroke-width="0.6"/><polygon points="469.7,245.5 474.4,244.3 472.3,241.1 467.6,242.3" fill="#f2c115" stroke="#f2c115" stroke-width="0.6"/><polygon points="467.6,242.3 472.3,241.1 470.2,237.9 465.5,239.1" fill="#f2cc15" stroke="#f2cc15" stroke-width="0.6"/><polygon points="465.5,239.1 470.2,237.9 468.2,234.7 463.5,235.9" fill="#f1d715" stroke="#f1d715" stroke-width="0.6"/><polygon points="463.5,235.9 468.2,234.7 466.1,231.4 461.4,232.6" fill="#f1e114" stroke="#f1e114" stroke-width="0.6"/><polygon points="461.4,232.6 466.1,231.4 464,228.2 459.3,229.4" fill="#f0eb14" stroke="#f0eb14" stroke-width="0.6"/><polygon points="459.3,229.4 464,228.2 462,225 457.3,226.2" fill="#ebf015" stroke="#ebf015" stroke-width="0.6"/><polygon points="457.3,226.2 462,225 459.9,221.8 455.2,222.9" fill="#e1f016" stroke="#e1f016" stroke-width="0.6"/><polygon points="455.2,222.9 459.9,221.8 457.8,218.6 453.2,219.7" fill="#d7f017" stroke="#d7f017" stroke-width="0.6"/><polygon points="453.2,219.7 457.8,218.6 455.8,215.3 451.1,216.4" fill="#cdf017" stroke="#cdf017" stroke-width="0.6"/><polygon points="451.1,216.4 455.8,215.3 453.7,212.1 449.1,213.1" fill="#c4f018" stroke="#c4f018" stroke-width="0.6"/><polygon points="449.1,213.1 453.7,212.1 451.7,208.8 447,209.9" fill="#baf019" stroke="#baf019" stroke-width="0.6"/><polygon points="447,209.9 451.7,208.8 449.6,205.6 445,206.6" fill="#b1f01a" stroke="#b1f01a" stroke-width="0.6"/><polygon points="445,206.6 449.6,205.6 447.5,202.3 442.9,203.3" fill="#a8f01b" stroke="#a8f01b" stroke-width="0.6"/><polygon points="442.9,203.3 447.5,202.3 445.5,199.1 440.9,200" fill="#9ff01c" stroke="#9ff01c" stroke-width="0.6"/><polygon points="440.9,200 445.5,199.1 443.5,195.8 438.9,196.7" fill="#96f01d" stroke="#96f01d" stroke-width="0.6"/><polygon points="438.9,196.7 443.5,195.8 441.4,192.5 436.8,193.4" fill="#8df01e" stroke="#8df01e" stroke-width="0.6"/><polygon points="436.8,193.4 441.4,192.5 439.4,189.3 434.8,190.1" fill="#85f01f" stroke="#85f01f" stroke-width="0.6"/><polygon points="434.8,190.1 439.4,189.3 437.3,186 432.8,186.8" fill="#7df020" stroke="#7df020" stroke-width="0.6"/><polygon points="432.8,186.8 437.3,186 435.3,182.7 430.7,183.5" fill="#74f020" stroke="#74f020" stroke-width="0.6"/><polygon points="430.7,183.5 435.3,182.7 433.3,179.4 428.7,180.2" fill="#6cf021" stroke="#6cf021" stroke-width="0.6"/><polygon points="428.7,180.2 433.3,179.4 431.2,176.1 426.7,176.8" fill="#65f022" stroke="#65f022" stroke-width="0.6"/><polygon points="426.7,176.8 431.2,176.1 429.2,172.8 424.6,173.5" fill="#5df023" stroke="#5df023" stroke-width="0.6"/><polygon points="424.6,173.5 429.2,172.8 427.1,169.4 422.6,170.2" fill="#55f023" stroke="#55f023" stroke-width="0.6"/><polygon points="422.6,170.2 427.1,169.4 425.1,166.1 420.6,166.8" fill="#4ef024" stroke="#4ef024" stroke-width="0.6"/><polygon points="420.6,166.8 425.1,166.1 423.1,162.8 418.6,163.4" fill="#47f025" stroke="#47f025" stroke-width="0.6"/><polygon points="418.6,163.4 423.1,162.8 421.1,159.4 416.5,160.1" fill="#40f026" stroke="#40f026" stroke-width="0.6"/><polygon points="416.5,160.1 421.1,159.4 419,156.1 414.5,156.7" fill="#39f026" stroke="#39f026" stroke-width="0.6"/><polygon points="414.5,156.7 419,156.1 417,152.7 412.5,153.3" fill="#32f027" stroke="#32f027" stroke-width="0.6"/><polygon points="412.5,153.3 417,152.7 415,149.3 410.5,149.9" fill="#2cf028" stroke="#2cf028" stroke-width="0.6"/><polygon points="410.5,149.9 415,149.3 412.9,145.9 408.5,146.5" fill="#28f02b" stroke="#28f02b" stroke-width="0.6"/><polygon points="408.5,146.5 412.9,145.9 410.9,142.6 406.4,143.1" fill="#28ef31" stroke="#28ef31" stroke-width="0.6"/><polygon points="406.4,143.1 410.9,142.6 408.9,139.2 404.4,139.7" fill="#27ef37" stroke="#27ef37" stroke-width="0.6"/><polygon points="404.4,139.7 408.9,139.2 406.9,135.8 402.4,136.2" fill="#27ee3d" stroke="#27ee3d" stroke-width="0.6"/><polygon points="402.4,136.2 406.9,135.8 404.8,132.3 400.4,132.8" fill="#27ee43" stroke="#27ee43" stroke-width="0.6"/><polygon points="400.4,132.8 404.8,132.3 402.8,128.9 398.4,129.3" fill="#26ee48" stroke="#26ee48" stroke-width="0.6"/><polygon points="493.3,272.9 498.2,271.4 496,268.2 491.2,269.7" fill="#f76518" stroke="#f76518" stroke-width="0.6"/><polygon points="491.2,269.7 496,268.2 493.9,265.1 489.1,266.5" fill="#f77117" stroke="#f77117" stroke-width="0.6"/><polygon points="489.1,266.5 493.9,265.1 491.8,261.9 487,263.4" fill="#f67d17" stroke="#f67d17" stroke-width="0.6"/><polygon points="487,263.4 491.8,261.9 489.7,258.8 484.9,260.2" fill="#f58917" stroke="#f58917" stroke-width="0.6"/><polygon points="484.9,260.2 489.7,258.8 487.6,255.6 482.8,257" fill="#f59416" stroke="#f59416" stroke-width="0.6"/><polygon points="482.8,257 487.6,255.6 485.4,252.5 480.7,253.8" fill="#f4a016" stroke="#f4a016" stroke-width="0.6"/><polygon points="480.7,253.8 485.4,252.5 483.3,249.3 478.6,250.6" fill="#f4ab16" stroke="#f4ab16" stroke-width="0.6"/><polygon points="478.6,250.6 483.3,249.3 481.2,246.1 476.5,247.5" fill="#f3b615" stroke="#f3b615" stroke-width="0.6"/><polygon points="476.5,247.5 481.2,246.1 479.1,243 474.4,244.3" fill="#f2c115" stroke="#f2c115" stroke-width="0.6"/><polygon points="474.4,244.3 479.1,243 477,239.8 472.3,241.1" fill="#f2cc15" stroke="#f2cc15" stroke-width="0.6"/><polygon points="472.3,241.1 477,239.8 474.9,236.6 470.2,237.9" fill="#f1d715" stroke="#f1d715" stroke-width="0.6"/><polygon points="470.2,237.9 474.9,236.6 472.9,233.4 468.2,234.7" fill="#f1e214" stroke="#f1e214" stroke-width="0.6"/><polygon points="468.2,234.7 472.9,233.4 470.8,230.2 466.1,231.4" fill="#f0ec14" stroke="#f0ec14" stroke-width="0.6"/><polygon points="466.1,231.4 470.8,230.2 468.7,227 464,228.2" fill="#eaf015" stroke="#eaf015" stroke-width="0.6"/><polygon points="464,228.2 468.7,227 466.6,223.9 462,225" fill="#dff016" stroke="#dff016" stroke-width="0.6"/><polygon points="462,225 466.6,223.9 464.5,220.7 459.9,221.8" fill="#d5f017" stroke="#d5f017" stroke-width="0.6"/><polygon points="459.9,221.8 464.5,220.7 462.5,217.5 457.8,218.6" fill="#cbf018" stroke="#cbf018" stroke-width="0.6"/><polygon points="457.8,218.6 462.5,217.5 460.4,214.2 455.8,215.3" fill="#c1f019" stroke="#c1f019" stroke-width="0.6"/><polygon points="455.8,215.3 460.4,214.2 458.3,211 453.7,212.1" fill="#b7f01a" stroke="#b7f01a" stroke-width="0.6"/><polygon points="453.7,212.1 458.3,211 456.3,207.8 451.7,208.8" fill="#aef01b" stroke="#aef01b" stroke-width="0.6"/><polygon points="451.7,208.8 456.3,207.8 454.2,204.6 449.6,205.6" fill="#a4f01c" stroke="#a4f01c" stroke-width="0.6"/><polygon points="449.6,205.6 454.2,204.6 452.1,201.4 447.5,202.3" fill="#9bf01c" stroke="#9bf01c" stroke-width="0.6"/><polygon points="447.5,202.3 452.1,201.4 450.1,198.1 445.5,199.1" fill="#92f01d" stroke="#92f01d" stroke-width="0.6"/><polygon points="445.5,199.1 450.1,198.1 448,194.9 443.5,195.8" fill="#89f01e" stroke="#89f01e" stroke-width="0.6"/><polygon points="443.5,195.8 448,194.9 446,191.6 441.4,192.5" fill="#80f01f" stroke="#80f01f" stroke-width="0.6"/><polygon points="441.4,192.5 446,191.6 443.9,188.4 439.4,189.3" fill="#78f020" stroke="#78f020" stroke-width="0.6"/><polygon points="439.4,189.3 443.9,188.4 441.9,185.1 437.3,186" fill="#6ff021" stroke="#6ff021" stroke-width="0.6"/><polygon points="437.3,186 441.9,185.1 439.8,181.8 435.3,182.7" fill="#67f022" stroke="#67f022" stroke-width="0.6"/><polygon points="435.3,182.7 439.8,181.8 437.8,178.6 433.3,179.4" fill="#5ff022" stroke="#5ff022" stroke-width="0.6"/><polygon points="433.3,179.4 437.8,178.6 435.7,175.3 431.2,176.1" fill="#57f023" stroke="#57f023" stroke-width="0.6"/><polygon points="431.2,176.1 435.7,175.3 433.7,172 429.2,172.8" fill="#4ff024" stroke="#4ff024" stroke-width="0.6"/><polygon points="429.2,172.8 433.7,172 431.7,168.7 427.1,169.4" fill="#48f025" stroke="#48f025" stroke-width="0.6"/><polygon points="427.1,169.4 431.7,168.7 429.6,165.4 425.1,166.1" fill="#40f026" stroke="#40f026" stroke-width="0.6"/><polygon points="425.1,166.1 429.6,165.4 427.6,162.1 423.1,162.8" fill="#39f026" stroke="#39f026" stroke-width="0.6"/><polygon points="423.1,162.8 427.6,162.1 425.5,158.8 421.1,159.4" fill="#32f027" stroke="#32f027" stroke-width="0.6"/><polygon points="421.1,159.4 425.5,158.8 423.5,155.4 419,156.1" fill="#2bf028" stroke="#2bf028" stroke-width="0.6"/><polygon points="419,156.1 423.5,155.4 421.5,152.1 417,152.7" fill="#28f02c" stroke="#28f02c" stroke-width="0.6"/><polygon points="417,152.7 421.5,152.1 419.4,148.7 415,149.3" fill="#27ef33" stroke="#27ef33" stroke-width="0.6"/><polygon points="415,149.3 419.4,148.7 417.4,145.4 412.9,145.9" fill="#27ef39" stroke="#27ef39" stroke-width="0.6"/><polygon points="412.9,145.9 417.4,145.4 415.4,142 410.9,142.6" fill="#27ee40" stroke="#27ee40" stroke-width="0.6"/><polygon points="410.9,142.6 415.4,142 413.3,138.6 408.9,139.2" fill="#27ee46" stroke="#27ee46" stroke-width="0.6"/><polygon points="408.9,139.2 413.3,138.6 411.3,135.3 406.9,135.8" fill="#26ed4c" stroke="#26ed4c" stroke-width="0.6"/><polygon points="406.9,135.8 411.3,135.3 409.3,131.9 404.8,132.3" fill="#26ed52" stroke="#26ed52" stroke-width="0.6"/><polygon points="404.8,132.3 409.3,131.9 407.3,128.5 402.8,128.9" fill="#26ec57" stroke="#26ec57" stroke-width="0.6"/><polygon points="498.2,271.4 503,269.8 500.8,266.7 496,268.2" fill="#f76e17" stroke="#f76e17" stroke-width="0.6"/><polygon points="496,268.2 500.8,266.7 498.7,263.6 493.9,265.1" fill="#f67b17" stroke="#f67b17" stroke-width="0.6"/><polygon points="493.9,265.1 498.7,263.6 496.6,260.5 491.8,261.9" fill="#f58717" stroke="#f58717" stroke-width="0.6"/><polygon points="491.8,261.9 496.6,260.5 494.4,257.3 489.7,258.8" fill="#f59316" stroke="#f59316" stroke-width="0.6"/><polygon points="489.7,258.8 494.4,257.3 492.3,254.2 487.6,255.6" fill="#f49e16" stroke="#f49e16" stroke-width="0.6"/><polygon points="487.6,255.6 492.3,254.2 490.2,251.1 485.4,252.5" fill="#f4aa16" stroke="#f4aa16" stroke-width="0.6"/><polygon points="485.4,252.5 490.2,251.1 488.1,247.9 483.3,249.3" fill="#f3b516" stroke="#f3b516" stroke-width="0.6"/><polygon points="483.3,249.3 488.1,247.9 485.9,244.8 481.2,246.1" fill="#f2c115" stroke="#f2c115" stroke-width="0.6"/><polygon points="481.2,246.1 485.9,244.8 483.8,241.6 479.1,243" fill="#f2cc15" stroke="#f2cc15" stroke-width="0.6"/><polygon points="479.1,243 483.8,241.6 481.7,238.5 477,239.8" fill="#f1d715" stroke="#f1d715" stroke-width="0.6"/><polygon points="477,239.8 481.7,238.5 479.6,235.3 474.9,236.6" fill="#f1e214" stroke="#f1e214" stroke-width="0.6"/><polygon points="474.9,236.6 479.6,235.3 477.5,232.2 472.9,233.4" fill="#f0ec14" stroke="#f0ec14" stroke-width="0.6"/><polygon points="472.9,233.4 477.5,232.2 475.4,229 470.8,230.2" fill="#e9f015" stroke="#e9f015" stroke-width="0.6"/><polygon points="470.8,230.2 475.4,229 473.3,225.9 468.7,227" fill="#def016" stroke="#def016" stroke-width="0.6"/><polygon points="468.7,227 473.3,225.9 471.2,222.7 466.6,223.9" fill="#d4f017" stroke="#d4f017" stroke-width="0.6"/><polygon points="466.6,223.9 471.2,222.7 469.2,219.5 464.5,220.7" fill="#c9f018" stroke="#c9f018" stroke-width="0.6"/><polygon points="464.5,220.7 469.2,219.5 467.1,216.3 462.5,217.5" fill="#bff019" stroke="#bff019" stroke-width="0.6"/><polygon points="462.5,217.5 467.1,216.3 465,213.1 460.4,214.2" fill="#b5f01a" stroke="#b5f01a" stroke-width="0.6"/><polygon points="460.4,214.2 465,213.1 462.9,210 458.3,211" fill="#acf01b" stroke="#acf01b" stroke-width="0.6"/><polygon points="458.3,211 462.9,210 460.8,206.8 456.3,207.8" fill="#a2f01c" stroke="#a2f01c" stroke-width="0.6"/><polygon points="456.3,207.8 460.8,206.8 458.8,203.6 454.2,204.6" fill="#98f01d" stroke="#98f01d" stroke-width="0.6"/><polygon points="454.2,204.6 458.8,203.6 456.7,200.3 452.1,201.4" fill="#8ff01e" stroke="#8ff01e" stroke-width="0.6"/><polygon points="452.1,201.4 456.7,200.3 454.6,197.1 450.1,198.1" fill="#86f01f" stroke="#86f01f" stroke-width="0.6"/><polygon points="450.1,198.1 454.6,197.1 452.6,193.9 448,194.9" fill="#7df020" stroke="#7df020" stroke-width="0.6"/><polygon points="448,194.9 452.6,193.9 450.5,190.7 446,191.6" fill="#74f020" stroke="#74f020" stroke-width="0.6"/><polygon points="446,191.6 450.5,190.7 448.5,187.5 443.9,188.4" fill="#6bf021" stroke="#6bf021" stroke-width="0.6"/><polygon points="443.9,188.4 448.5,187.5 446.4,184.2 441.9,185.1" fill="#63f022" stroke="#63f022" stroke-width="0.6"/><polygon points="441.9,185.1 446.4,184.2 444.3,181 439.8,181.8" fill="#5af023" stroke="#5af023" stroke-width="0.6"/><polygon points="439.8,181.8 444.3,181 442.3,177.7 437.8,178.6" fill="#52f024" stroke="#52f024" stroke-width="0.6"/><polygon points="437.8,178.6 442.3,177.7 440.2,174.5 435.7,175.3" fill="#4af025" stroke="#4af025" stroke-width="0.6"/><polygon points="435.7,175.3 440.2,174.5 438.2,171.2 433.7,172" fill="#42f025" stroke="#42f025" stroke-width="0.6"/><polygon points="433.7,172 438.2,171.2 436.1,167.9 431.7,168.7" fill="#3af026" stroke="#3af026" stroke-width="0.6"/><polygon points="431.7,168.7 436.1,167.9 434.1,164.7 429.6,165.4" fill="#33f027" stroke="#33f027" stroke-width="0.6"/><polygon points="429.6,165.4 434.1,164.7 432.1,161.4 427.6,162.1" fill="#2bf028" stroke="#2bf028" stroke-width="0.6"/><polygon points="427.6,162.1 432.1,161.4 430,158.1 425.5,158.8" fill="#28f02c" stroke="#28f02c" stroke-width="0.6"/><polygon points="425.5,158.8 430,158.1 428,154.8 423.5,155.4" fill="#27ef33" stroke="#27ef33" stroke-width="0.6"/><polygon points="423.5,155.4 428,154.8 425.9,151.4 421.5,152.1" fill="#27ef3a" stroke="#27ef3a" stroke-width="0.6"/><polygon points="421.5,152.1 425.9,151.4 423.9,148.1 419.4,148.7" fill="#27ee41" stroke="#27ee41" stroke-width="0.6"/><polygon points="419.4,148.7 423.9,148.1 421.9,144.8 417.4,145.4" fill="#26ee48" stroke="#26ee48" stroke-width="0.6"/><polygon points="417.4,145.4 421.9,144.8 419.8,141.5 415.4,142" fill="#26ed4e" stroke="#26ed4e" stroke-width="0.6"/><polygon points="415.4,142 419.8,141.5 417.8,138.1 413.3,138.6" fill="#26ed54" stroke="#26ed54" stroke-width="0.6"/><polygon points="413.3,138.6 417.8,138.1 415.7,134.7 411.3,135.3" fill="#25ec5a" stroke="#25ec5a" stroke-width="0.6"/><polygon points="411.3,135.3 415.7,134.7 413.7,131.4 409.3,131.9" fill="#25ec60" stroke="#25ec60" stroke-width="0.6"/><polygon points="409.3,131.9 413.7,131.4 411.7,128 407.3,128.5" fill="#25eb66" stroke="#25eb66" stroke-width="0.6"/><polygon points="503,269.8 507.8,268.3 505.6,265.2 500.8,266.7" fill="#f67817" stroke="#f67817" stroke-width="0.6"/><polygon points="500.8,266.7 505.6,265.2 503.5,262.1 498.7,263.6" fill="#f68417" stroke="#f68417" stroke-width="0.6"/><polygon points="498.7,263.6 503.5,262.1 501.3,259 496.6,260.5" fill="#f59016" stroke="#f59016" stroke-width="0.6"/><polygon points="496.6,260.5 501.3,259 499.2,255.9 494.4,257.3" fill="#f49c16" stroke="#f49c16" stroke-width="0.6"/><polygon points="494.4,257.3 499.2,255.9 497,252.8 492.3,254.2" fill="#f4a816" stroke="#f4a816" stroke-width="0.6"/><polygon points="492.3,254.2 497,252.8 494.9,249.7 490.2,251.1" fill="#f3b416" stroke="#f3b416" stroke-width="0.6"/><polygon points="490.2,251.1 494.9,249.7 492.8,246.5 488.1,247.9" fill="#f2bf15" stroke="#f2bf15" stroke-width="0.6"/><polygon points="488.1,247.9 492.8,246.5 490.6,243.4 485.9,244.8" fill="#f2cb15" stroke="#f2cb15" stroke-width="0.6"/><polygon points="485.9,244.8 490.6,243.4 488.5,240.3 483.8,241.6" fill="#f1d615" stroke="#f1d615" stroke-width="0.6"/><polygon points="483.8,241.6 488.5,240.3 486.4,237.2 481.7,238.5" fill="#f1e114" stroke="#f1e114" stroke-width="0.6"/><polygon points="481.7,238.5 486.4,237.2 484.3,234 479.6,235.3" fill="#f0ec14" stroke="#f0ec14" stroke-width="0.6"/><polygon points="479.6,235.3 484.3,234 482.2,230.9 477.5,232.2" fill="#e9f015" stroke="#e9f015" stroke-width="0.6"/><polygon points="477.5,232.2 482.2,230.9 480.1,227.8 475.4,229" fill="#def016" stroke="#def016" stroke-width="0.6"/><polygon points="475.4,229 480.1,227.8 478,224.6 473.3,225.9" fill="#d3f017" stroke="#d3f017" stroke-width="0.6"/><polygon points="473.3,225.9 478,224.6 475.9,221.5 471.2,222.7" fill="#c9f018" stroke="#c9f018" stroke-width="0.6"/><polygon points="471.2,222.7 475.9,221.5 473.8,218.3 469.2,219.5" fill="#bef019" stroke="#bef019" stroke-width="0.6"/><polygon points="469.2,219.5 473.8,218.3 471.7,215.2 467.1,216.3" fill="#b4f01a" stroke="#b4f01a" stroke-width="0.6"/><polygon points="467.1,216.3 471.7,215.2 469.6,212 465,213.1" fill="#aaf01b" stroke="#aaf01b" stroke-width="0.6"/><polygon points="465,213.1 469.6,212 467.5,208.9 462.9,210" fill="#a0f01c" stroke="#a0f01c" stroke-width="0.6"/><polygon points="462.9,210 467.5,208.9 465.4,205.7 460.8,206.8" fill="#96f01d" stroke="#96f01d" stroke-width="0.6"/><polygon points="460.8,206.8 465.4,205.7 463.3,202.5 458.8,203.6" fill="#8cf01e" stroke="#8cf01e" stroke-width="0.6"/><polygon points="458.8,203.6 463.3,202.5 461.3,199.3 456.7,200.3" fill="#83f01f" stroke="#83f01f" stroke-width="0.6"/><polygon points="456.7,200.3 461.3,199.3 459.2,196.1 454.6,197.1" fill="#7af020" stroke="#7af020" stroke-width="0.6"/><polygon points="454.6,197.1 459.2,196.1 457.1,192.9 452.6,193.9" fill="#71f021" stroke="#71f021" stroke-width="0.6"/><polygon points="452.6,193.9 457.1,192.9 455,189.7 450.5,190.7" fill="#68f022" stroke="#68f022" stroke-width="0.6"/><polygon points="450.5,190.7 455,189.7 453,186.5 448.5,187.5" fill="#5ff023" stroke="#5ff023" stroke-width="0.6"/><polygon points="448.5,187.5 453,186.5 450.9,183.3 446.4,184.2" fill="#56f023" stroke="#56f023" stroke-width="0.6"/><polygon points="446.4,184.2 450.9,183.3 448.8,180.1 444.3,181" fill="#4ef024" stroke="#4ef024" stroke-width="0.6"/><polygon points="444.3,181 448.8,180.1 446.8,176.9 442.3,177.7" fill="#45f025" stroke="#45f025" stroke-width="0.6"/><polygon points="442.3,177.7 446.8,176.9 444.7,173.6 440.2,174.5" fill="#3df026" stroke="#3df026" stroke-width="0.6"/><polygon points="440.2,174.5 444.7,173.6 442.7,170.4 438.2,171.2" fill="#35f027" stroke="#35f027" stroke-width="0.6"/><polygon points="438.2,171.2 442.7,170.4 440.6,167.2 436.1,167.9" fill="#2df027" stroke="#2df027" stroke-width="0.6"/><polygon points="436.1,167.9 440.6,167.2 438.6,163.9 434.1,164.7" fill="#28f02b" stroke="#28f02b" stroke-width="0.6"/><polygon points="434.1,164.7 438.6,163.9 436.5,160.6 432.1,161.4" fill="#27ef32" stroke="#27ef32" stroke-width="0.6"/><polygon points="432.1,161.4 436.5,160.6 434.5,157.4 430,158.1" fill="#27ef3a" stroke="#27ef3a" stroke-width="0.6"/><polygon points="430,158.1 434.5,157.4 432.4,154.1 428,154.8" fill="#27ee41" stroke="#27ee41" stroke-width="0.6"/><polygon points="428,154.8 432.4,154.1 430.4,150.8 425.9,151.4" fill="#26ee48" stroke="#26ee48" stroke-width="0.6"/><polygon points="425.9,151.4 430.4,150.8 428.3,147.5 423.9,148.1" fill="#26ed4f" stroke="#26ed4f" stroke-width="0.6"/><polygon points="423.9,148.1 428.3,147.5 426.3,144.2 421.9,144.8" fill="#26ed56" stroke="#26ed56" stroke-width="0.6"/><polygon points="421.9,144.8 426.3,144.2 424.2,140.9 419.8,141.5" fill="#25ec5c" stroke="#25ec5c" stroke-width="0.6"/><polygon points="419.8,141.5 424.2,140.9 422.2,137.5 417.8,138.1" fill="#25ec63" stroke="#25ec63" stroke-width="0.6"/><polygon points="417.8,138.1 422.2,137.5 420.2,134.2 415.7,134.7" fill="#25eb69" stroke="#25eb69" stroke-width="0.6"/><polygon points="415.7,134.7 420.2,134.2 418.1,130.9 413.7,131.4" fill="#24eb6f" stroke="#24eb6f" stroke-width="0.6"/><polygon points="413.7,131.4 418.1,130.9 416.1,127.5 411.7,128" fill="#24ea75" stroke="#24ea75" stroke-width="0.6"/><polygon points="507.8,268.3 512.6,266.7 510.4,263.7 505.6,265.2" fill="#f68017" stroke="#f68017" stroke-width="0.6"/><polygon points="505.6,265.2 510.4,263.7 508.2,260.6 503.5,262.1" fill="#f58d17" stroke="#f58d17" stroke-width="0.6"/><polygon points="503.5,262.1 508.2,260.6 506.1,257.5 501.3,259" fill="#f49916" stroke="#f49916" stroke-width="0.6"/><polygon points="501.3,259 506.1,257.5 503.9,254.4 499.2,255.9" fill="#f4a516" stroke="#f4a516" stroke-width="0.6"/><polygon points="499.2,255.9 503.9,254.4 501.8,251.3 497,252.8" fill="#f3b116" stroke="#f3b116" stroke-width="0.6"/><polygon points="497,252.8 501.8,251.3 499.6,248.2 494.9,249.7" fill="#f3bd15" stroke="#f3bd15" stroke-width="0.6"/><polygon points="494.9,249.7 499.6,248.2 497.5,245.1 492.8,246.5" fill="#f2c915" stroke="#f2c915" stroke-width="0.6"/><polygon points="492.8,246.5 497.5,245.1 495.3,242 490.6,243.4" fill="#f1d515" stroke="#f1d515" stroke-width="0.6"/><polygon points="490.6,243.4 495.3,242 493.2,238.9 488.5,240.3" fill="#f1e014" stroke="#f1e014" stroke-width="0.6"/><polygon points="488.5,240.3 493.2,238.9 491.1,235.8 486.4,237.2" fill="#f0eb14" stroke="#f0eb14" stroke-width="0.6"/><polygon points="486.4,237.2 491.1,235.8 488.9,232.7 484.3,234" fill="#eaf015" stroke="#eaf015" stroke-width="0.6"/><polygon points="484.3,234 488.9,232.7 486.8,229.6 482.2,230.9" fill="#def016" stroke="#def016" stroke-width="0.6"/><polygon points="482.2,230.9 486.8,229.6 484.7,226.5 480.1,227.8" fill="#d3f017" stroke="#d3f017" stroke-width="0.6"/><polygon points="480.1,227.8 484.7,226.5 482.6,223.4 478,224.6" fill="#c8f018" stroke="#c8f018" stroke-width="0.6"/><polygon points="478,224.6 482.6,223.4 480.5,220.3 475.9,221.5" fill="#bef019" stroke="#bef019" stroke-width="0.6"/><polygon points="475.9,221.5 480.5,220.3 478.4,217.2 473.8,218.3" fill="#b3f01a" stroke="#b3f01a" stroke-width="0.6"/><polygon points="473.8,218.3 478.4,217.2 476.3,214 471.7,215.2" fill="#a9f01b" stroke="#a9f01b" stroke-width="0.6"/><polygon points="471.7,215.2 476.3,214 474.2,210.9 469.6,212" fill="#9ff01c" stroke="#9ff01c" stroke-width="0.6"/><polygon points="469.6,212 474.2,210.9 472.1,207.7 467.5,208.9" fill="#95f01d" stroke="#95f01d" stroke-width="0.6"/><polygon points="467.5,208.9 472.1,207.7 470,204.6 465.4,205.7" fill="#8bf01e" stroke="#8bf01e" stroke-width="0.6"/><polygon points="465.4,205.7 470,204.6 467.9,201.4 463.3,202.5" fill="#81f01f" stroke="#81f01f" stroke-width="0.6"/><polygon points="463.3,202.5 467.9,201.4 465.8,198.3 461.3,199.3" fill="#77f020" stroke="#77f020" stroke-width="0.6"/><polygon points="461.3,199.3 465.8,198.3 463.7,195.1 459.2,196.1" fill="#6ef021" stroke="#6ef021" stroke-width="0.6"/><polygon points="459.2,196.1 463.7,195.1 461.6,191.9 457.1,192.9" fill="#65f022" stroke="#65f022" stroke-width="0.6"/><polygon points="457.1,192.9 461.6,191.9 459.6,188.8 455,189.7" fill="#5bf023" stroke="#5bf023" stroke-width="0.6"/><polygon points="455,189.7 459.6,188.8 457.5,185.6 453,186.5" fill="#53f024" stroke="#53f024" stroke-width="0.6"/><polygon points="453,186.5 457.5,185.6 455.4,182.4 450.9,183.3" fill="#4af025" stroke="#4af025" stroke-width="0.6"/><polygon points="450.9,183.3 455.4,182.4 453.3,179.2 448.8,180.1" fill="#41f025" stroke="#41f025" stroke-width="0.6"/><polygon points="448.8,180.1 453.3,179.2 451.3,176 446.8,176.9" fill="#39f026" stroke="#39f026" stroke-width="0.6"/><polygon points="446.8,176.9 451.3,176 449.2,172.8 444.7,173.6" fill="#30f027" stroke="#30f027" stroke-width="0.6"/><polygon points="444.7,173.6 449.2,172.8 447.1,169.6 442.7,170.4" fill="#28f028" stroke="#28f028" stroke-width="0.6"/><polygon points="442.7,170.4 447.1,169.6 445.1,166.3 440.6,167.2" fill="#28ef30" stroke="#28ef30" stroke-width="0.6"/><polygon points="440.6,167.2 445.1,166.3 443,163.1 438.6,163.9" fill="#27ef38" stroke="#27ef38" stroke-width="0.6"/><polygon points="438.6,163.9 443,163.1 441,159.9 436.5,160.6" fill="#27ee3f" stroke="#27ee3f" stroke-width="0.6"/><polygon points="436.5,160.6 441,159.9 438.9,156.6 434.5,157.4" fill="#26ee47" stroke="#26ee47" stroke-width="0.6"/><polygon points="434.5,157.4 438.9,156.6 436.8,153.4 432.4,154.1" fill="#26ed4e" stroke="#26ed4e" stroke-width="0.6"/><polygon points="432.4,154.1 436.8,153.4 434.8,150.1 430.4,150.8" fill="#26ed55" stroke="#26ed55" stroke-width="0.6"/><polygon points="430.4,150.8 434.8,150.1 432.7,146.8 428.3,147.5" fill="#25ec5c" stroke="#25ec5c" stroke-width="0.6"/><polygon points="428.3,147.5 432.7,146.8 430.7,143.6 426.3,144.2" fill="#25ec63" stroke="#25ec63" stroke-width="0.6"/><polygon points="426.3,144.2 430.7,143.6 428.6,140.3 424.2,140.9" fill="#25eb6a" stroke="#25eb6a" stroke-width="0.6"/><polygon points="424.2,140.9 428.6,140.3 426.6,137 422.2,137.5" fill="#24eb71" stroke="#24eb71" stroke-width="0.6"/><polygon points="422.2,137.5 426.6,137 424.6,133.7 420.2,134.2" fill="#24ea77" stroke="#24ea77" stroke-width="0.6"/><polygon points="420.2,134.2 424.6,133.7 422.5,130.3 418.1,130.9" fill="#24ea7d" stroke="#24ea7d" stroke-width="0.6"/><polygon points="418.1,130.9 422.5,130.3 420.5,127 416.1,127.5" fill="#23e983" stroke="#23e983" stroke-width="0.6"/><polygon points="512.6,266.7 517.3,265.1 515.2,262.1 510.4,263.7" fill="#f58917" stroke="#f58917" stroke-width="0.6"/><polygon points="510.4,263.7 515.2,262.1 513,259 508.2,260.6" fill="#f59616" stroke="#f59616" stroke-width="0.6"/><polygon points="508.2,260.6 513,259 510.8,256 506.1,257.5" fill="#f4a216" stroke="#f4a216" stroke-width="0.6"/><polygon points="506.1,257.5 510.8,256 508.6,252.9 503.9,254.4" fill="#f3ae16" stroke="#f3ae16" stroke-width="0.6"/><polygon points="503.9,254.4 508.6,252.9 506.5,249.9 501.8,251.3" fill="#f3bb15" stroke="#f3bb15" stroke-width="0.6"/><polygon points="501.8,251.3 506.5,249.9 504.3,246.8 499.6,248.2" fill="#f2c715" stroke="#f2c715" stroke-width="0.6"/><polygon points="499.6,248.2 504.3,246.8 502.1,243.7 497.5,245.1" fill="#f2d215" stroke="#f2d215" stroke-width="0.6"/><polygon points="497.5,245.1 502.1,243.7 500,240.7 495.3,242" fill="#f1de14" stroke="#f1de14" stroke-width="0.6"/><polygon points="495.3,242 500,240.7 497.8,237.6 493.2,238.9" fill="#f0ea14" stroke="#f0ea14" stroke-width="0.6"/><polygon points="493.2,238.9 497.8,237.6 495.7,234.5 491.1,235.8" fill="#ebf015" stroke="#ebf015" stroke-width="0.6"/><polygon points="491.1,235.8 495.7,234.5 493.6,231.4 488.9,232.7" fill="#dff016" stroke="#dff016" stroke-width="0.6"/><polygon points="488.9,232.7 493.6,231.4 491.4,228.3 486.8,229.6" fill="#d4f017" stroke="#d4f017" stroke-width="0.6"/><polygon points="486.8,229.6 491.4,228.3 489.3,225.2 484.7,226.5" fill="#c9f018" stroke="#c9f018" stroke-width="0.6"/><polygon points="484.7,226.5 489.3,225.2 487.2,222.1 482.6,223.4" fill="#bef019" stroke="#bef019" stroke-width="0.6"/><polygon points="482.6,223.4 487.2,222.1 485.1,219 480.5,220.3" fill="#b3f01a" stroke="#b3f01a" stroke-width="0.6"/><polygon points="480.5,220.3 485.1,219 482.9,215.9 478.4,217.2" fill="#a9f01b" stroke="#a9f01b" stroke-width="0.6"/><polygon points="478.4,217.2 482.9,215.9 480.8,212.8 476.3,214" fill="#9ef01c" stroke="#9ef01c" stroke-width="0.6"/><polygon points="476.3,214 480.8,212.8 478.7,209.7 474.2,210.9" fill="#94f01d" stroke="#94f01d" stroke-width="0.6"/><polygon points="474.2,210.9 478.7,209.7 476.6,206.6 472.1,207.7" fill="#89f01e" stroke="#89f01e" stroke-width="0.6"/><polygon points="472.1,207.7 476.6,206.6 474.5,203.5 470,204.6" fill="#7ff01f" stroke="#7ff01f" stroke-width="0.6"/><polygon points="470,204.6 474.5,203.5 472.4,200.4 467.9,201.4" fill="#76f020" stroke="#76f020" stroke-width="0.6"/><polygon points="467.9,201.4 472.4,200.4 470.3,197.2 465.8,198.3" fill="#6cf021" stroke="#6cf021" stroke-width="0.6"/><polygon points="465.8,198.3 470.3,197.2 468.2,194.1 463.7,195.1" fill="#62f022" stroke="#62f022" stroke-width="0.6"/><polygon points="463.7,195.1 468.2,194.1 466.1,190.9 461.6,191.9" fill="#59f023" stroke="#59f023" stroke-width="0.6"/><polygon points="461.6,191.9 466.1,190.9 464,187.8 459.6,188.8" fill="#50f024" stroke="#50f024" stroke-width="0.6"/><polygon points="459.6,188.8 464,187.8 462,184.6 457.5,185.6" fill="#47f025" stroke="#47f025" stroke-width="0.6"/><polygon points="457.5,185.6 462,184.6 459.9,181.5 455.4,182.4" fill="#3ef026" stroke="#3ef026" stroke-width="0.6"/><polygon points="455.4,182.4 459.9,181.5 457.8,178.3 453.3,179.2" fill="#35f027" stroke="#35f027" stroke-width="0.6"/><polygon points="453.3,179.2 457.8,178.3 455.7,175.1 451.3,176" fill="#2cf028" stroke="#2cf028" stroke-width="0.6"/><polygon points="451.3,176 455.7,175.1 453.7,171.9 449.2,172.8" fill="#28f02c" stroke="#28f02c" stroke-width="0.6"/><polygon points="449.2,172.8 453.7,171.9 451.6,168.7 447.1,169.6" fill="#27ef34" stroke="#27ef34" stroke-width="0.6"/><polygon points="447.1,169.6 451.6,168.7 449.5,165.5 445.1,166.3" fill="#27ee3c" stroke="#27ee3c" stroke-width="0.6"/><polygon points="445.1,166.3 449.5,165.5 447.4,162.3 443,163.1" fill="#27ee44" stroke="#27ee44" stroke-width="0.6"/><polygon points="443,163.1 447.4,162.3 445.4,159.1 441,159.9" fill="#26ed4c" stroke="#26ed4c" stroke-width="0.6"/><polygon points="441,159.9 445.4,159.1 443.3,155.9 438.9,156.6" fill="#26ed54" stroke="#26ed54" stroke-width="0.6"/><polygon points="438.9,156.6 443.3,155.9 441.3,152.6 436.8,153.4" fill="#25ec5b" stroke="#25ec5b" stroke-width="0.6"/><polygon points="436.8,153.4 441.3,152.6 439.2,149.4 434.8,150.1" fill="#25ec63" stroke="#25ec63" stroke-width="0.6"/><polygon points="434.8,150.1 439.2,149.4 437.1,146.2 432.7,146.8" fill="#25eb6a" stroke="#25eb6a" stroke-width="0.6"/><polygon points="432.7,146.8 437.1,146.2 435.1,142.9 430.7,143.6" fill="#24eb71" stroke="#24eb71" stroke-width="0.6"/><polygon points="430.7,143.6 435.1,142.9 433,139.6 428.6,140.3" fill="#24ea78" stroke="#24ea78" stroke-width="0.6"/><polygon points="428.6,140.3 433,139.6 431,136.4 426.6,137" fill="#24ea7e" stroke="#24ea7e" stroke-width="0.6"/><polygon points="426.6,137 431,136.4 428.9,133.1 424.6,133.7" fill="#23e985" stroke="#23e985" stroke-width="0.6"/><polygon points="424.6,133.7 428.9,133.1 426.9,129.8 422.5,130.3" fill="#23e98b" stroke="#23e98b" stroke-width="0.6"/><polygon points="422.5,130.3 426.9,129.8 424.8,126.5 420.5,127" fill="#23e891" stroke="#23e891" stroke-width="0.6"/><polygon points="517.3,265.1 522.1,263.5 519.9,260.5 515.2,262.1" fill="#f59216" stroke="#f59216" stroke-width="0.6"/><polygon points="515.2,262.1 519.9,260.5 517.7,257.5 513,259" fill="#f49e16" stroke="#f49e16" stroke-width="0.6"/><polygon points="513,259 517.7,257.5 515.5,254.5 510.8,256" fill="#f4ab16" stroke="#f4ab16" stroke-width="0.6"/><polygon points="510.8,256 515.5,254.5 513.3,251.4 508.6,252.9" fill="#f3b715" stroke="#f3b715" stroke-width="0.6"/><polygon points="508.6,252.9 513.3,251.4 511.2,248.4 506.5,249.9" fill="#f2c315" stroke="#f2c315" stroke-width="0.6"/><polygon points="506.5,249.9 511.2,248.4 509,245.3 504.3,246.8" fill="#f2d015" stroke="#f2d015" stroke-width="0.6"/><polygon points="504.3,246.8 509,245.3 506.8,242.3 502.1,243.7" fill="#f1dc15" stroke="#f1dc15" stroke-width="0.6"/><polygon points="502.1,243.7 506.8,242.3 504.7,239.2 500,240.7" fill="#f0e714" stroke="#f0e714" stroke-width="0.6"/><polygon points="500,240.7 504.7,239.2 502.5,236.2 497.8,237.6" fill="#edf014" stroke="#edf014" stroke-width="0.6"/><polygon points="497.8,237.6 502.5,236.2 500.3,233.1 495.7,234.5" fill="#e1f015" stroke="#e1f015" stroke-width="0.6"/><polygon points="495.7,234.5 500.3,233.1 498.2,230.1 493.6,231.4" fill="#d6f017" stroke="#d6f017" stroke-width="0.6"/><polygon points="493.6,231.4 498.2,230.1 496,227 491.4,228.3" fill="#caf018" stroke="#caf018" stroke-width="0.6"/><polygon points="491.4,228.3 496,227 493.9,223.9 489.3,225.2" fill="#bff019" stroke="#bff019" stroke-width="0.6"/><polygon points="489.3,225.2 493.9,223.9 491.8,220.9 487.2,222.1" fill="#b4f01a" stroke="#b4f01a" stroke-width="0.6"/><polygon points="487.2,222.1 491.8,220.9 489.6,217.8 485.1,219" fill="#a9f01b" stroke="#a9f01b" stroke-width="0.6"/><polygon points="485.1,219 489.6,217.8 487.5,214.7 482.9,215.9" fill="#9ef01c" stroke="#9ef01c" stroke-width="0.6"/><polygon points="482.9,215.9 487.5,214.7 485.4,211.6 480.8,212.8" fill="#93f01d" stroke="#93f01d" stroke-width="0.6"/><polygon points="480.8,212.8 485.4,211.6 483.3,208.5 478.7,209.7" fill="#89f01e" stroke="#89f01e" stroke-width="0.6"/><polygon points="478.7,209.7 483.3,208.5 481.1,205.5 476.6,206.6" fill="#7ff01f" stroke="#7ff01f" stroke-width="0.6"/><polygon points="476.6,206.6 481.1,205.5 479,202.4 474.5,203.5" fill="#75f020" stroke="#75f020" stroke-width="0.6"/><polygon points="474.5,203.5 479,202.4 476.9,199.3 472.4,200.4" fill="#6bf021" stroke="#6bf021" stroke-width="0.6"/><polygon points="472.4,200.4 476.9,199.3 474.8,196.1 470.3,197.2" fill="#61f022" stroke="#61f022" stroke-width="0.6"/><polygon points="470.3,197.2 474.8,196.1 472.7,193 468.2,194.1" fill="#57f023" stroke="#57f023" stroke-width="0.6"/><polygon points="468.2,194.1 472.7,193 470.6,189.9 466.1,190.9" fill="#4ef024" stroke="#4ef024" stroke-width="0.6"/><polygon points="466.1,190.9 470.6,189.9 468.5,186.8 464,187.8" fill="#44f025" stroke="#44f025" stroke-width="0.6"/><polygon points="464,187.8 468.5,186.8 466.4,183.6 462,184.6" fill="#3bf026" stroke="#3bf026" stroke-width="0.6"/><polygon points="462,184.6 466.4,183.6 464.3,180.5 459.9,181.5" fill="#32f027" stroke="#32f027" stroke-width="0.6"/><polygon points="459.9,181.5 464.3,180.5 462.3,177.3 457.8,178.3" fill="#29f028" stroke="#29f028" stroke-width="0.6"/><polygon points="457.8,178.3 462.3,177.3 460.2,174.2 455.7,175.1" fill="#28ef30" stroke="#28ef30" stroke-width="0.6"/><polygon points="455.7,175.1 460.2,174.2 458.1,171 453.7,171.9" fill="#27ef38" stroke="#27ef38" stroke-width="0.6"/><polygon points="453.7,171.9 458.1,171 456,167.9 451.6,168.7" fill="#27ee41" stroke="#27ee41" stroke-width="0.6"/><polygon points="451.6,168.7 456,167.9 453.9,164.7 449.5,165.5" fill="#26ee49" stroke="#26ee49" stroke-width="0.6"/><polygon points="449.5,165.5 453.9,164.7 451.9,161.5 447.4,162.3" fill="#26ed51" stroke="#26ed51" stroke-width="0.6"/><polygon points="447.4,162.3 451.9,161.5 449.8,158.3 445.4,159.1" fill="#26ec59" stroke="#26ec59" stroke-width="0.6"/><polygon points="445.4,159.1 449.8,158.3 447.7,155.1 443.3,155.9" fill="#25ec60" stroke="#25ec60" stroke-width="0.6"/><polygon points="443.3,155.9 447.7,155.1 445.7,151.9 441.3,152.6" fill="#25eb68" stroke="#25eb68" stroke-width="0.6"/><polygon points="441.3,152.6 445.7,151.9 443.6,148.7 439.2,149.4" fill="#24eb70" stroke="#24eb70" stroke-width="0.6"/><polygon points="439.2,149.4 443.6,148.7 441.5,145.5 437.1,146.2" fill="#24ea77" stroke="#24ea77" stroke-width="0.6"/><polygon points="437.1,146.2 441.5,145.5 439.5,142.2 435.1,142.9" fill="#24ea7e" stroke="#24ea7e" stroke-width="0.6"/><polygon points="435.1,142.9 439.5,142.2 437.4,139 433,139.6" fill="#23e985" stroke="#23e985" stroke-width="0.6"/><polygon points="433,139.6 437.4,139 435.3,135.7 431,136.4" fill="#23e98c" stroke="#23e98c" stroke-width="0.6"/><polygon points="431,136.4 435.3,135.7 433.3,132.5 428.9,133.1" fill="#23e892" stroke="#23e892" stroke-width="0.6"/><polygon points="428.9,133.1 433.3,132.5 431.2,129.2 426.9,129.8" fill="#22e899" stroke="#22e899" stroke-width="0.6"/><polygon points="426.9,129.8 431.2,129.2 429.2,125.9 424.8,126.5" fill="#22e79f" stroke="#22e79f" stroke-width="0.6"/><polygon points="522.1,263.5 526.9,261.9 524.6,258.9 519.9,260.5" fill="#f49a16" stroke="#f49a16" stroke-width="0.6"/><polygon points="519.9,260.5 524.6,258.9 522.4,255.9 517.7,257.5" fill="#f4a716" stroke="#f4a716" stroke-width="0.6"/><polygon points="517.7,257.5 522.4,255.9 520.2,252.9 515.5,254.5" fill="#f3b316" stroke="#f3b316" stroke-width="0.6"/><polygon points="515.5,254.5 520.2,252.9 518,249.9 513.3,251.4" fill="#f2c015" stroke="#f2c015" stroke-width="0.6"/><polygon points="513.3,251.4 518,249.9 515.8,246.9 511.2,248.4" fill="#f2cc15" stroke="#f2cc15" stroke-width="0.6"/><polygon points="511.2,248.4 515.8,246.9 513.7,243.9 509,245.3" fill="#f1d815" stroke="#f1d815" stroke-width="0.6"/><polygon points="509,245.3 513.7,243.9 511.5,240.8 506.8,242.3" fill="#f1e414" stroke="#f1e414" stroke-width="0.6"/><polygon points="506.8,242.3 511.5,240.8 509.3,237.8 504.7,239.2" fill="#f0f014" stroke="#f0f014" stroke-width="0.6"/><polygon points="504.7,239.2 509.3,237.8 507.1,234.8 502.5,236.2" fill="#e4f015" stroke="#e4f015" stroke-width="0.6"/><polygon points="502.5,236.2 507.1,234.8 505,231.8 500.3,233.1" fill="#d8f016" stroke="#d8f016" stroke-width="0.6"/><polygon points="500.3,233.1 505,231.8 502.8,228.7 498.2,230.1" fill="#ccf018" stroke="#ccf018" stroke-width="0.6"/><polygon points="498.2,230.1 502.8,228.7 500.6,225.7 496,227" fill="#c1f019" stroke="#c1f019" stroke-width="0.6"/><polygon points="496,227 500.6,225.7 498.5,222.6 493.9,223.9" fill="#b5f01a" stroke="#b5f01a" stroke-width="0.6"/><polygon points="493.9,223.9 498.5,222.6 496.3,219.6 491.8,220.9" fill="#aaf01b" stroke="#aaf01b" stroke-width="0.6"/><polygon points="491.8,220.9 496.3,219.6 494.2,216.5 489.6,217.8" fill="#9ff01c" stroke="#9ff01c" stroke-width="0.6"/><polygon points="489.6,217.8 494.2,216.5 492.1,213.5 487.5,214.7" fill="#94f01d" stroke="#94f01d" stroke-width="0.6"/><polygon points="487.5,214.7 492.1,213.5 489.9,210.4 485.4,211.6" fill="#89f01e" stroke="#89f01e" stroke-width="0.6"/><polygon points="485.4,211.6 489.9,210.4 487.8,207.4 483.3,208.5" fill="#7ff01f" stroke="#7ff01f" stroke-width="0.6"/><polygon points="483.3,208.5 487.8,207.4 485.7,204.3 481.1,205.5" fill="#74f020" stroke="#74f020" stroke-width="0.6"/><polygon points="481.1,205.5 485.7,204.3 483.5,201.2 479,202.4" fill="#6af021" stroke="#6af021" stroke-width="0.6"/><polygon points="479,202.4 483.5,201.2 481.4,198.1 476.9,199.3" fill="#60f022" stroke="#60f022" stroke-width="0.6"/><polygon points="476.9,199.3 481.4,198.1 479.3,195 474.8,196.1" fill="#56f023" stroke="#56f023" stroke-width="0.6"/><polygon points="474.8,196.1 479.3,195 477.2,191.9 472.7,193" fill="#4cf024" stroke="#4cf024" stroke-width="0.6"/><polygon points="472.7,193 477.2,191.9 475.1,188.8 470.6,189.9" fill="#42f025" stroke="#42f025" stroke-width="0.6"/><polygon points="470.6,189.9 475.1,188.8 473,185.7 468.5,186.8" fill="#39f026" stroke="#39f026" stroke-width="0.6"/><polygon points="468.5,186.8 473,185.7 470.9,182.6 466.4,183.6" fill="#30f027" stroke="#30f027" stroke-width="0.6"/><polygon points="466.4,183.6 470.9,182.6 468.8,179.5 464.3,180.5" fill="#28f029" stroke="#28f029" stroke-width="0.6"/><polygon points="464.3,180.5 468.8,179.5 466.7,176.4 462.3,177.3" fill="#27ef32" stroke="#27ef32" stroke-width="0.6"/><polygon points="462.3,177.3 466.7,176.4 464.6,173.3 460.2,174.2" fill="#27ef3b" stroke="#27ef3b" stroke-width="0.6"/><polygon points="460.2,174.2 464.6,173.3 462.5,170.1 458.1,171" fill="#27ee44" stroke="#27ee44" stroke-width="0.6"/><polygon points="458.1,171 462.5,170.1 460.4,167 456,167.9" fill="#26ed4c" stroke="#26ed4c" stroke-width="0.6"/><polygon points="456,167.9 460.4,167 458.3,163.8 453.9,164.7" fill="#26ed55" stroke="#26ed55" stroke-width="0.6"/><polygon points="453.9,164.7 458.3,163.8 456.3,160.7 451.9,161.5" fill="#25ec5d" stroke="#25ec5d" stroke-width="0.6"/><polygon points="451.9,161.5 456.3,160.7 454.2,157.5 449.8,158.3" fill="#25eb65" stroke="#25eb65" stroke-width="0.6"/><polygon points="449.8,158.3 454.2,157.5 452.1,154.3 447.7,155.1" fill="#25eb6d" stroke="#25eb6d" stroke-width="0.6"/><polygon points="447.7,155.1 452.1,154.3 450,151.1 445.7,151.9" fill="#24ea75" stroke="#24ea75" stroke-width="0.6"/><polygon points="445.7,151.9 450,151.1 448,148 443.6,148.7" fill="#24ea7c" stroke="#24ea7c" stroke-width="0.6"/><polygon points="443.6,148.7 448,148 445.9,144.8 441.5,145.5" fill="#23e984" stroke="#23e984" stroke-width="0.6"/><polygon points="441.5,145.5 445.9,144.8 443.8,141.5 439.5,142.2" fill="#23e98b" stroke="#23e98b" stroke-width="0.6"/><polygon points="439.5,142.2 443.8,141.5 441.8,138.3 437.4,139" fill="#23e892" stroke="#23e892" stroke-width="0.6"/><polygon points="437.4,139 441.8,138.3 439.7,135.1 435.3,135.7" fill="#22e899" stroke="#22e899" stroke-width="0.6"/><polygon points="435.3,135.7 439.7,135.1 437.6,131.9 433.3,132.5" fill="#22e79f" stroke="#22e79f" stroke-width="0.6"/><polygon points="433.3,132.5 437.6,131.9 435.6,128.6 431.2,129.2" fill="#22e7a6" stroke="#22e7a6" stroke-width="0.6"/><polygon points="431.2,129.2 435.6,128.6 433.5,125.4 429.2,125.9" fill="#21e6ac" stroke="#21e6ac" stroke-width="0.6"/><polygon points="526.9,261.9 531.6,260.3 529.4,257.3 524.6,258.9" fill="#f4a216" stroke="#f4a216" stroke-width="0.6"/><polygon points="524.6,258.9 529.4,257.3 527.2,254.3 522.4,255.9" fill="#f3af16" stroke="#f3af16" stroke-width="0.6"/><polygon points="522.4,255.9 527.2,254.3 524.9,251.3 520.2,252.9" fill="#f3bb15" stroke="#f3bb15" stroke-width="0.6"/><polygon points="520.2,252.9 524.9,251.3 522.7,248.3 518,249.9" fill="#f2c815" stroke="#f2c815" stroke-width="0.6"/><polygon points="518,249.9 522.7,248.3 520.5,245.4 515.8,246.9" fill="#f1d415" stroke="#f1d415" stroke-width="0.6"/><polygon points="515.8,246.9 520.5,245.4 518.3,242.4 513.7,243.9" fill="#f1e114" stroke="#f1e114" stroke-width="0.6"/><polygon points="513.7,243.9 518.3,242.4 516.1,239.4 511.5,240.8" fill="#f0ed14" stroke="#f0ed14" stroke-width="0.6"/><polygon points="511.5,240.8 516.1,239.4 513.9,236.4 509.3,237.8" fill="#e7f015" stroke="#e7f015" stroke-width="0.6"/><polygon points="509.3,237.8 513.9,236.4 511.7,233.4 507.1,234.8" fill="#dbf016" stroke="#dbf016" stroke-width="0.6"/><polygon points="507.1,234.8 511.7,233.4 509.6,230.4 505,231.8" fill="#cff017" stroke="#cff017" stroke-width="0.6"/><polygon points="505,231.8 509.6,230.4 507.4,227.3 502.8,228.7" fill="#c3f019" stroke="#c3f019" stroke-width="0.6"/><polygon points="502.8,228.7 507.4,227.3 505.2,224.3 500.6,225.7" fill="#b7f01a" stroke="#b7f01a" stroke-width="0.6"/><polygon points="500.6,225.7 505.2,224.3 503.1,221.3 498.5,222.6" fill="#acf01b" stroke="#acf01b" stroke-width="0.6"/><polygon points="498.5,222.6 503.1,221.3 500.9,218.3 496.3,219.6" fill="#a0f01c" stroke="#a0f01c" stroke-width="0.6"/><polygon points="496.3,219.6 500.9,218.3 498.7,215.3 494.2,216.5" fill="#95f01d" stroke="#95f01d" stroke-width="0.6"/><polygon points="494.2,216.5 498.7,215.3 496.6,212.2 492.1,213.5" fill="#8af01e" stroke="#8af01e" stroke-width="0.6"/><polygon points="492.1,213.5 496.6,212.2 494.5,209.2 489.9,210.4" fill="#7ff01f" stroke="#7ff01f" stroke-width="0.6"/><polygon points="489.9,210.4 494.5,209.2 492.3,206.1 487.8,207.4" fill="#75f020" stroke="#75f020" stroke-width="0.6"/><polygon points="487.8,207.4 492.3,206.1 490.2,203.1 485.7,204.3" fill="#6af021" stroke="#6af021" stroke-width="0.6"/><polygon points="485.7,204.3 490.2,203.1 488,200 483.5,201.2" fill="#60f022" stroke="#60f022" stroke-width="0.6"/><polygon points="483.5,201.2 488,200 485.9,197 481.4,198.1" fill="#55f023" stroke="#55f023" stroke-width="0.6"/><polygon points="481.4,198.1 485.9,197 483.8,193.9 479.3,195" fill="#4bf024" stroke="#4bf024" stroke-width="0.6"/><polygon points="479.3,195 483.8,193.9 481.7,190.9 477.2,191.9" fill="#41f025" stroke="#41f025" stroke-width="0.6"/><polygon points="477.2,191.9 481.7,190.9 479.6,187.8 475.1,188.8" fill="#38f026" stroke="#38f026" stroke-width="0.6"/><polygon points="475.1,188.8 479.6,187.8 477.4,184.7 473,185.7" fill="#2ef027" stroke="#2ef027" stroke-width="0.6"/><polygon points="473,185.7 477.4,184.7 475.3,181.6 470.9,182.6" fill="#28f02b" stroke="#28f02b" stroke-width="0.6"/><polygon points="470.9,182.6 475.3,181.6 473.2,178.5 468.8,179.5" fill="#27ef35" stroke="#27ef35" stroke-width="0.6"/><polygon points="468.8,179.5 473.2,178.5 471.1,175.4 466.7,176.4" fill="#27ee3e" stroke="#27ee3e" stroke-width="0.6"/><polygon points="466.7,176.4 471.1,175.4 469,172.3 464.6,173.3" fill="#26ee47" stroke="#26ee47" stroke-width="0.6"/><polygon points="464.6,173.3 469,172.3 466.9,169.2 462.5,170.1" fill="#26ed4f" stroke="#26ed4f" stroke-width="0.6"/><polygon points="462.5,170.1 466.9,169.2 464.8,166.1 460.4,167" fill="#26ec58" stroke="#26ec58" stroke-width="0.6"/><polygon points="460.4,167 464.8,166.1 462.7,162.9 458.3,163.8" fill="#25ec61" stroke="#25ec61" stroke-width="0.6"/><polygon points="458.3,163.8 462.7,162.9 460.7,159.8 456.3,160.7" fill="#25eb69" stroke="#25eb69" stroke-width="0.6"/><polygon points="456.3,160.7 460.7,159.8 458.6,156.7 454.2,157.5" fill="#24eb71" stroke="#24eb71" stroke-width="0.6"/><polygon points="454.2,157.5 458.6,156.7 456.5,153.5 452.1,154.3" fill="#24ea79" stroke="#24ea79" stroke-width="0.6"/><polygon points="452.1,154.3 456.5,153.5 454.4,150.4 450,151.1" fill="#24e981" stroke="#24e981" stroke-width="0.6"/><polygon points="450,151.1 454.4,150.4 452.3,147.2 448,148" fill="#23e989" stroke="#23e989" stroke-width="0.6"/><polygon points="448,148 452.3,147.2 450.2,144 445.9,144.8" fill="#23e890" stroke="#23e890" stroke-width="0.6"/><polygon points="445.9,144.8 450.2,144 448.2,140.8 443.8,141.5" fill="#22e897" stroke="#22e897" stroke-width="0.6"/><polygon points="443.8,141.5 448.2,140.8 446.1,137.6 441.8,138.3" fill="#22e79f" stroke="#22e79f" stroke-width="0.6"/><polygon points="441.8,138.3 446.1,137.6 444,134.4 439.7,135.1" fill="#22e7a6" stroke="#22e7a6" stroke-width="0.6"/><polygon points="439.7,135.1 444,134.4 442,131.2 437.6,131.9" fill="#21e6ac" stroke="#21e6ac" stroke-width="0.6"/><polygon points="437.6,131.9 442,131.2 439.9,128 435.6,128.6" fill="#21e6b3" stroke="#21e6b3" stroke-width="0.6"/><polygon points="435.6,128.6 439.9,128 437.8,124.8 433.5,125.4" fill="#21e5ba" stroke="#21e5ba" stroke-width="0.6"/><polygon points="531.6,260.3 536.3,258.6 534.1,255.7 529.4,257.3" fill="#f4a916" stroke="#f4a916" stroke-width="0.6"/><polygon points="529.4,257.3 534.1,255.7 531.9,252.7 527.2,254.3" fill="#f3b615" stroke="#f3b615" stroke-width="0.6"/><polygon points="527.2,254.3 531.9,252.7 529.6,249.8 524.9,251.3" fill="#f2c315" stroke="#f2c315" stroke-width="0.6"/><polygon points="524.9,251.3 529.6,249.8 527.4,246.8 522.7,248.3" fill="#f2d015" stroke="#f2d015" stroke-width="0.6"/><polygon points="522.7,248.3 527.4,246.8 525.2,243.8 520.5,245.4" fill="#f1dc15" stroke="#f1dc15" stroke-width="0.6"/><polygon points="520.5,245.4 525.2,243.8 523,240.8 518.3,242.4" fill="#f0e914" stroke="#f0e914" stroke-width="0.6"/><polygon points="518.3,242.4 523,240.8 520.8,237.9 516.1,239.4" fill="#ebf015" stroke="#ebf015" stroke-width="0.6"/><polygon points="516.1,239.4 520.8,237.9 518.6,234.9 513.9,236.4" fill="#def016" stroke="#def016" stroke-width="0.6"/><polygon points="513.9,236.4 518.6,234.9 516.4,231.9 511.7,233.4" fill="#d2f017" stroke="#d2f017" stroke-width="0.6"/><polygon points="511.7,233.4 516.4,231.9 514.2,228.9 509.6,230.4" fill="#c6f018" stroke="#c6f018" stroke-width="0.6"/><polygon points="509.6,230.4 514.2,228.9 512,225.9 507.4,227.3" fill="#baf019" stroke="#baf019" stroke-width="0.6"/><polygon points="507.4,227.3 512,225.9 509.8,223 505.2,224.3" fill="#aef01b" stroke="#aef01b" stroke-width="0.6"/><polygon points="505.2,224.3 509.8,223 507.6,220 503.1,221.3" fill="#a2f01c" stroke="#a2f01c" stroke-width="0.6"/><polygon points="503.1,221.3 507.6,220 505.5,217 500.9,218.3" fill="#97f01d" stroke="#97f01d" stroke-width="0.6"/><polygon points="500.9,218.3 505.5,217 503.3,213.9 498.7,215.3" fill="#8cf01e" stroke="#8cf01e" stroke-width="0.6"/><polygon points="498.7,215.3 503.3,213.9 501.1,210.9 496.6,212.2" fill="#81f01f" stroke="#81f01f" stroke-width="0.6"/><polygon points="496.6,212.2 501.1,210.9 499,207.9 494.5,209.2" fill="#76f020" stroke="#76f020" stroke-width="0.6"/><polygon points="494.5,209.2 499,207.9 496.8,204.9 492.3,206.1" fill="#6bf021" stroke="#6bf021" stroke-width="0.6"/><polygon points="492.3,206.1 496.8,204.9 494.7,201.9 490.2,203.1" fill="#60f022" stroke="#60f022" stroke-width="0.6"/><polygon points="490.2,203.1 494.7,201.9 492.5,198.9 488,200" fill="#56f023" stroke="#56f023" stroke-width="0.6"/><polygon points="488,200 492.5,198.9 490.4,195.8 485.9,197" fill="#4bf024" stroke="#4bf024" stroke-width="0.6"/><polygon points="485.9,197 490.4,195.8 488.3,192.8 483.8,193.9" fill="#41f025" stroke="#41f025" stroke-width="0.6"/><polygon points="483.8,193.9 488.3,192.8 486.1,189.7 481.7,190.9" fill="#37f027" stroke="#37f027" stroke-width="0.6"/><polygon points="481.7,190.9 486.1,189.7 484,186.7 479.6,187.8" fill="#2df027" stroke="#2df027" stroke-width="0.6"/><polygon points="479.6,187.8 484,186.7 481.9,183.6 477.4,184.7" fill="#28f02d" stroke="#28f02d" stroke-width="0.6"/><polygon points="477.4,184.7 481.9,183.6 479.8,180.6 475.3,181.6" fill="#27ef36" stroke="#27ef36" stroke-width="0.6"/><polygon points="475.3,181.6 479.8,180.6 477.6,177.5 473.2,178.5" fill="#27ee40" stroke="#27ee40" stroke-width="0.6"/><polygon points="473.2,178.5 477.6,177.5 475.5,174.4 471.1,175.4" fill="#26ee49" stroke="#26ee49" stroke-width="0.6"/><polygon points="471.1,175.4 475.5,174.4 473.4,171.3 469,172.3" fill="#26ed52" stroke="#26ed52" stroke-width="0.6"/><polygon points="469,172.3 473.4,171.3 471.3,168.2 466.9,169.2" fill="#25ec5b" stroke="#25ec5b" stroke-width="0.6"/><polygon points="466.9,169.2 471.3,168.2 469.2,165.1 464.8,166.1" fill="#25ec63" stroke="#25ec63" stroke-width="0.6"/><polygon points="464.8,166.1 469.2,165.1 467.1,162 462.7,162.9" fill="#25eb6c" stroke="#25eb6c" stroke-width="0.6"/><polygon points="462.7,162.9 467.1,162 465,158.9 460.7,159.8" fill="#24ea74" stroke="#24ea74" stroke-width="0.6"/><polygon points="460.7,159.8 465,158.9 462.9,155.8 458.6,156.7" fill="#24ea7d" stroke="#24ea7d" stroke-width="0.6"/><polygon points="458.6,156.7 462.9,155.8 460.8,152.7 456.5,153.5" fill="#23e985" stroke="#23e985" stroke-width="0.6"/><polygon points="456.5,153.5 460.8,152.7 458.8,149.6 454.4,150.4" fill="#23e88d" stroke="#23e88d" stroke-width="0.6"/><polygon points="454.4,150.4 458.8,149.6 456.7,146.4 452.3,147.2" fill="#23e895" stroke="#23e895" stroke-width="0.6"/><polygon points="452.3,147.2 456.7,146.4 454.6,143.3 450.2,144" fill="#22e79c" stroke="#22e79c" stroke-width="0.6"/><polygon points="450.2,144 454.6,143.3 452.5,140.1 448.2,140.8" fill="#22e7a4" stroke="#22e7a4" stroke-width="0.6"/><polygon points="448.2,140.8 452.5,140.1 450.4,136.9 446.1,137.6" fill="#21e6ab" stroke="#21e6ab" stroke-width="0.6"/><polygon points="446.1,137.6 450.4,136.9 448.3,133.7 444,134.4" fill="#21e6b2" stroke="#21e6b2" stroke-width="0.6"/><polygon points="444,134.4 448.3,133.7 446.3,130.6 442,131.2" fill="#21e5b9" stroke="#21e5b9" stroke-width="0.6"/><polygon points="442,131.2 446.3,130.6 444.2,127.4 439.9,128" fill="#20e5c0" stroke="#20e5c0" stroke-width="0.6"/><polygon points="439.9,128 444.2,127.4 442.1,124.2 437.8,124.8" fill="#20e4c7" stroke="#20e4c7" stroke-width="0.6"/><polygon points="536.3,258.6 541.1,257 538.8,254 534.1,255.7" fill="#f3b016" stroke="#f3b016" stroke-width="0.6"/><polygon points="534.1,255.7 538.8,254 536.5,251.1 531.9,252.7" fill="#f3be15" stroke="#f3be15" stroke-width="0.6"/><polygon points="531.9,252.7 536.5,251.1 534.3,248.2 529.6,249.8" fill="#f2cb15" stroke="#f2cb15" stroke-width="0.6"/><polygon points="529.6,249.8 534.3,248.2 532.1,245.2 527.4,246.8" fill="#f1d815" stroke="#f1d815" stroke-width="0.6"/><polygon points="527.4,246.8 532.1,245.2 529.8,242.3 525.2,243.8" fill="#f1e414" stroke="#f1e414" stroke-width="0.6"/><polygon points="525.2,243.8 529.8,242.3 527.6,239.3 523,240.8" fill="#eff014" stroke="#eff014" stroke-width="0.6"/><polygon points="523,240.8 527.6,239.3 525.4,236.4 520.8,237.9" fill="#e2f015" stroke="#e2f015" stroke-width="0.6"/><polygon points="520.8,237.9 525.4,236.4 523.2,233.4 518.6,234.9" fill="#d6f017" stroke="#d6f017" stroke-width="0.6"/><polygon points="518.6,234.9 523.2,233.4 521,230.5 516.4,231.9" fill="#caf018" stroke="#caf018" stroke-width="0.6"/><polygon points="516.4,231.9 521,230.5 518.8,227.5 514.2,228.9" fill="#bdf019" stroke="#bdf019" stroke-width="0.6"/><polygon points="514.2,228.9 518.8,227.5 516.6,224.5 512,225.9" fill="#b1f01a" stroke="#b1f01a" stroke-width="0.6"/><polygon points="512,225.9 516.6,224.5 514.4,221.6 509.8,223" fill="#a5f01b" stroke="#a5f01b" stroke-width="0.6"/><polygon points="509.8,223 514.4,221.6 512.2,218.6 507.6,220" fill="#9af01d" stroke="#9af01d" stroke-width="0.6"/><polygon points="507.6,220 512.2,218.6 510,215.6 505.5,217" fill="#8ef01e" stroke="#8ef01e" stroke-width="0.6"/><polygon points="505.5,217 510,215.6 507.8,212.6 503.3,213.9" fill="#83f01f" stroke="#83f01f" stroke-width="0.6"/><polygon points="503.3,213.9 507.8,212.6 505.6,209.6 501.1,210.9" fill="#77f020" stroke="#77f020" stroke-width="0.6"/><polygon points="501.1,210.9 505.6,209.6 503.5,206.7 499,207.9" fill="#6cf021" stroke="#6cf021" stroke-width="0.6"/><polygon points="499,207.9 503.5,206.7 501.3,203.7 496.8,204.9" fill="#61f022" stroke="#61f022" stroke-width="0.6"/><polygon points="496.8,204.9 501.3,203.7 499.2,200.7 494.7,201.9" fill="#56f023" stroke="#56f023" stroke-width="0.6"/><polygon points="494.7,201.9 499.2,200.7 497,197.7 492.5,198.9" fill="#4cf024" stroke="#4cf024" stroke-width="0.6"/><polygon points="492.5,198.9 497,197.7 494.9,194.6 490.4,195.8" fill="#41f025" stroke="#41f025" stroke-width="0.6"/><polygon points="490.4,195.8 494.9,194.6 492.7,191.6 488.3,192.8" fill="#37f026" stroke="#37f026" stroke-width="0.6"/><polygon points="488.3,192.8 492.7,191.6 490.6,188.6 486.1,189.7" fill="#2df028" stroke="#2df028" stroke-width="0.6"/><polygon points="486.1,189.7 490.6,188.6 488.4,185.6 484,186.7" fill="#28f02d" stroke="#28f02d" stroke-width="0.6"/><polygon points="484,186.7 488.4,185.6 486.3,182.5 481.9,183.6" fill="#27ef37" stroke="#27ef37" stroke-width="0.6"/><polygon points="481.9,183.6 486.3,182.5 484.2,179.5 479.8,180.6" fill="#27ee41" stroke="#27ee41" stroke-width="0.6"/><polygon points="479.8,180.6 484.2,179.5 482.1,176.5 477.6,177.5" fill="#26ed4a" stroke="#26ed4a" stroke-width="0.6"/><polygon points="477.6,177.5 482.1,176.5 479.9,173.4 475.5,174.4" fill="#26ed53" stroke="#26ed53" stroke-width="0.6"/><polygon points="475.5,174.4 479.9,173.4 477.8,170.3 473.4,171.3" fill="#25ec5d" stroke="#25ec5d" stroke-width="0.6"/><polygon points="473.4,171.3 477.8,170.3 475.7,167.3 471.3,168.2" fill="#25eb66" stroke="#25eb66" stroke-width="0.6"/><polygon points="471.3,168.2 475.7,167.3 473.6,164.2 469.2,165.1" fill="#24eb6f" stroke="#24eb6f" stroke-width="0.6"/><polygon points="469.2,165.1 473.6,164.2 471.5,161.1 467.1,162" fill="#24ea77" stroke="#24ea77" stroke-width="0.6"/><polygon points="467.1,162 471.5,161.1 469.4,158 465,158.9" fill="#24e980" stroke="#24e980" stroke-width="0.6"/><polygon points="465,158.9 469.4,158 467.3,154.9 462.9,155.8" fill="#23e988" stroke="#23e988" stroke-width="0.6"/><polygon points="462.9,155.8 467.3,154.9 465.2,151.8 460.8,152.7" fill="#23e890" stroke="#23e890" stroke-width="0.6"/><polygon points="460.8,152.7 465.2,151.8 463.1,148.7 458.8,149.6" fill="#22e898" stroke="#22e898" stroke-width="0.6"/><polygon points="458.8,149.6 463.1,148.7 461,145.6 456.7,146.4" fill="#22e7a0" stroke="#22e7a0" stroke-width="0.6"/><polygon points="456.7,146.4 461,145.6 458.9,142.5 454.6,143.3" fill="#22e6a8" stroke="#22e6a8" stroke-width="0.6"/><polygon points="454.6,143.3 458.9,142.5 456.8,139.3 452.5,140.1" fill="#21e6b0" stroke="#21e6b0" stroke-width="0.6"/><polygon points="452.5,140.1 456.8,139.3 454.7,136.2 450.4,136.9" fill="#21e5b7" stroke="#21e5b7" stroke-width="0.6"/><polygon points="450.4,136.9 454.7,136.2 452.6,133 448.3,133.7" fill="#20e5be" stroke="#20e5be" stroke-width="0.6"/><polygon points="448.3,133.7 452.6,133 450.6,129.9 446.3,130.6" fill="#20e4c5" stroke="#20e4c5" stroke-width="0.6"/><polygon points="446.3,130.6 450.6,129.9 448.5,126.7 444.2,127.4" fill="#20e4cc" stroke="#20e4cc" stroke-width="0.6"/><polygon points="444.2,127.4 448.5,126.7 446.4,123.5 442.1,124.2" fill="#1fe3d3" stroke="#1fe3d3" stroke-width="0.6"/><polygon points="541.1,257 545.8,255.3 543.5,252.4 538.8,254" fill="#f3b815" stroke="#f3b815" stroke-width="0.6"/><polygon points="538.8,254 543.5,252.4 541.2,249.5 536.5,251.1" fill="#f2c515" stroke="#f2c515" stroke-width="0.6"/><polygon points="536.5,251.1 541.2,249.5 539,246.5 534.3,248.2" fill="#f2d215" stroke="#f2d215" stroke-width="0.6"/><polygon points="534.3,248.2 539,246.5 536.7,243.6 532.1,245.2" fill="#f1df14" stroke="#f1df14" stroke-width="0.6"/><polygon points="532.1,245.2 536.7,243.6 534.5,240.7 529.8,242.3" fill="#f0ec14" stroke="#f0ec14" stroke-width="0.6"/><polygon points="529.8,242.3 534.5,240.7 532.2,237.8 527.6,239.3" fill="#e7f015" stroke="#e7f015" stroke-width="0.6"/><polygon points="527.6,239.3 532.2,237.8 530,234.8 525.4,236.4" fill="#dbf016" stroke="#dbf016" stroke-width="0.6"/><polygon points="525.4,236.4 530,234.8 527.8,231.9 523.2,233.4" fill="#cef017" stroke="#cef017" stroke-width="0.6"/><polygon points="523.2,233.4 527.8,231.9 525.5,229 521,230.5" fill="#c1f019" stroke="#c1f019" stroke-width="0.6"/><polygon points="521,230.5 525.5,229 523.3,226 518.8,227.5" fill="#b5f01a" stroke="#b5f01a" stroke-width="0.6"/><polygon points="518.8,227.5 523.3,226 521.1,223.1 516.6,224.5" fill="#a9f01b" stroke="#a9f01b" stroke-width="0.6"/><polygon points="516.6,224.5 521.1,223.1 518.9,220.1 514.4,221.6" fill="#9df01c" stroke="#9df01c" stroke-width="0.6"/><polygon points="514.4,221.6 518.9,220.1 516.7,217.2 512.2,218.6" fill="#91f01e" stroke="#91f01e" stroke-width="0.6"/><polygon points="512.2,218.6 516.7,217.2 514.5,214.2 510,215.6" fill="#85f01f" stroke="#85f01f" stroke-width="0.6"/><polygon points="510,215.6 514.5,214.2 512.3,211.3 507.8,212.6" fill="#7af020" stroke="#7af020" stroke-width="0.6"/><polygon points="507.8,212.6 512.3,211.3 510.1,208.3 505.6,209.6" fill="#6ef021" stroke="#6ef021" stroke-width="0.6"/><polygon points="505.6,209.6 510.1,208.3 508,205.4 503.5,206.7" fill="#63f022" stroke="#63f022" stroke-width="0.6"/><polygon points="503.5,206.7 508,205.4 505.8,202.4 501.3,203.7" fill="#58f023" stroke="#58f023" stroke-width="0.6"/><polygon points="501.3,203.7 505.8,202.4 503.6,199.4 499.2,200.7" fill="#4df024" stroke="#4df024" stroke-width="0.6"/><polygon points="499.2,200.7 503.6,199.4 501.5,196.4 497,197.7" fill="#42f025" stroke="#42f025" stroke-width="0.6"/><polygon points="497,197.7 501.5,196.4 499.3,193.4 494.9,194.6" fill="#38f026" stroke="#38f026" stroke-width="0.6"/><polygon points="494.9,194.6 499.3,193.4 497.2,190.4 492.7,191.6" fill="#2df027" stroke="#2df027" stroke-width="0.6"/><polygon points="492.7,191.6 497.2,190.4 495,187.4 490.6,188.6" fill="#28f02d" stroke="#28f02d" stroke-width="0.6"/><polygon points="490.6,188.6 495,187.4 492.9,184.4 488.4,185.6" fill="#27ef37" stroke="#27ef37" stroke-width="0.6"/><polygon points="488.4,185.6 492.9,184.4 490.7,181.4 486.3,182.5" fill="#27ee41" stroke="#27ee41" stroke-width="0.6"/><polygon points="486.3,182.5 490.7,181.4 488.6,178.4 484.2,179.5" fill="#26ed4b" stroke="#26ed4b" stroke-width="0.6"/><polygon points="484.2,179.5 488.6,178.4 486.4,175.4 482.1,176.5" fill="#26ed54" stroke="#26ed54" stroke-width="0.6"/><polygon points="482.1,176.5 486.4,175.4 484.3,172.4 479.9,173.4" fill="#25ec5e" stroke="#25ec5e" stroke-width="0.6"/><polygon points="479.9,173.4 484.3,172.4 482.2,169.3 477.8,170.3" fill="#25eb67" stroke="#25eb67" stroke-width="0.6"/><polygon points="477.8,170.3 482.2,169.3 480.1,166.3 475.7,167.3" fill="#24eb70" stroke="#24eb70" stroke-width="0.6"/><polygon points="475.7,167.3 480.1,166.3 478,163.2 473.6,164.2" fill="#24ea79" stroke="#24ea79" stroke-width="0.6"/><polygon points="473.6,164.2 478,163.2 475.8,160.2 471.5,161.1" fill="#23e982" stroke="#23e982" stroke-width="0.6"/><polygon points="471.5,161.1 475.8,160.2 473.7,157.1 469.4,158" fill="#23e98b" stroke="#23e98b" stroke-width="0.6"/><polygon points="469.4,158 473.7,157.1 471.6,154 467.3,154.9" fill="#23e893" stroke="#23e893" stroke-width="0.6"/><polygon points="467.3,154.9 471.6,154 469.5,151 465.2,151.8" fill="#22e79c" stroke="#22e79c" stroke-width="0.6"/><polygon points="465.2,151.8 469.5,151 467.4,147.9 463.1,148.7" fill="#22e7a4" stroke="#22e7a4" stroke-width="0.6"/><polygon points="463.1,148.7 467.4,147.9 465.3,144.8 461,145.6" fill="#21e6ac" stroke="#21e6ac" stroke-width="0.6"/><polygon points="461,145.6 465.3,144.8 463.2,141.7 458.9,142.5" fill="#21e6b4" stroke="#21e6b4" stroke-width="0.6"/><polygon points="458.9,142.5 463.2,141.7 461.1,138.6 456.8,139.3" fill="#21e5bb" stroke="#21e5bb" stroke-width="0.6"/><polygon points="456.8,139.3 461.1,138.6 459,135.4 454.7,136.2" fill="#20e4c3" stroke="#20e4c3" stroke-width="0.6"/><polygon points="454.7,136.2 459,135.4 456.9,132.3 452.6,133" fill="#20e4ca" stroke="#20e4ca" stroke-width="0.6"/><polygon points="452.6,133 456.9,132.3 454.8,129.2 450.6,129.9" fill="#20e3d2" stroke="#20e3d2" stroke-width="0.6"/><polygon points="450.6,129.9 454.8,129.2 452.8,126 448.5,126.7" fill="#1fe3d9" stroke="#1fe3d9" stroke-width="0.6"/><polygon points="448.5,126.7 452.8,126 450.7,122.9 446.4,123.5" fill="#1fe2e0" stroke="#1fe2e0" stroke-width="0.6"/><polygon points="545.8,255.3 550.5,253.6 548.2,250.7 543.5,252.4" fill="#f3be15" stroke="#f3be15" stroke-width="0.6"/><polygon points="543.5,252.4 548.2,250.7 545.9,247.8 541.2,249.5" fill="#f2cc15" stroke="#f2cc15" stroke-width="0.6"/><polygon points="541.2,249.5 545.9,247.8 543.6,244.9 539,246.5" fill="#f1d915" stroke="#f1d915" stroke-width="0.6"/><polygon points="539,246.5 543.6,244.9 541.4,242 536.7,243.6" fill="#f1e614" stroke="#f1e614" stroke-width="0.6"/><polygon points="536.7,243.6 541.4,242 539.1,239.1 534.5,240.7" fill="#edf014" stroke="#edf014" stroke-width="0.6"/><polygon points="534.5,240.7 539.1,239.1 536.8,236.2 532.2,237.8" fill="#e0f016" stroke="#e0f016" stroke-width="0.6"/><polygon points="532.2,237.8 536.8,236.2 534.6,233.3 530,234.8" fill="#d3f017" stroke="#d3f017" stroke-width="0.6"/><polygon points="530,234.8 534.6,233.3 532.4,230.4 527.8,231.9" fill="#c6f018" stroke="#c6f018" stroke-width="0.6"/><polygon points="527.8,231.9 532.4,230.4 530.1,227.5 525.5,229" fill="#b9f019" stroke="#b9f019" stroke-width="0.6"/><polygon points="525.5,229 530.1,227.5 527.9,224.6 523.3,226" fill="#adf01b" stroke="#adf01b" stroke-width="0.6"/><polygon points="523.3,226 527.9,224.6 525.7,221.6 521.1,223.1" fill="#a1f01c" stroke="#a1f01c" stroke-width="0.6"/><polygon points="521.1,223.1 525.7,221.6 523.5,218.7 518.9,220.1" fill="#95f01d" stroke="#95f01d" stroke-width="0.6"/><polygon points="518.9,220.1 523.5,218.7 521.2,215.8 516.7,217.2" fill="#89f01e" stroke="#89f01e" stroke-width="0.6"/><polygon points="516.7,217.2 521.2,215.8 519,212.9 514.5,214.2" fill="#7df020" stroke="#7df020" stroke-width="0.6"/><polygon points="514.5,214.2 519,212.9 516.8,209.9 512.3,211.3" fill="#71f021" stroke="#71f021" stroke-width="0.6"/><polygon points="512.3,211.3 516.8,209.9 514.6,207 510.1,208.3" fill="#66f022" stroke="#66f022" stroke-width="0.6"/><polygon points="510.1,208.3 514.6,207 512.4,204 508,205.4" fill="#5af023" stroke="#5af023" stroke-width="0.6"/><polygon points="508,205.4 512.4,204 510.3,201.1 505.8,202.4" fill="#4ff024" stroke="#4ff024" stroke-width="0.6"/><polygon points="505.8,202.4 510.3,201.1 508.1,198.1 503.6,199.4" fill="#44f025" stroke="#44f025" stroke-width="0.6"/><polygon points="503.6,199.4 508.1,198.1 505.9,195.2 501.5,196.4" fill="#39f026" stroke="#39f026" stroke-width="0.6"/><polygon points="501.5,196.4 505.9,195.2 503.7,192.2 499.3,193.4" fill="#2ef027" stroke="#2ef027" stroke-width="0.6"/><polygon points="499.3,193.4 503.7,192.2 501.6,189.2 497.2,190.4" fill="#28f02c" stroke="#28f02c" stroke-width="0.6"/><polygon points="497.2,190.4 501.6,189.2 499.4,186.3 495,187.4" fill="#27ef37" stroke="#27ef37" stroke-width="0.6"/><polygon points="495,187.4 499.4,186.3 497.3,183.3 492.9,184.4" fill="#27ee41" stroke="#27ee41" stroke-width="0.6"/><polygon points="492.9,184.4 497.3,183.3 495.1,180.3 490.7,181.4" fill="#26ed4b" stroke="#26ed4b" stroke-width="0.6"/><polygon points="490.7,181.4 495.1,180.3 493,177.3 488.6,178.4" fill="#26ed55" stroke="#26ed55" stroke-width="0.6"/><polygon points="488.6,178.4 493,177.3 490.8,174.3 486.4,175.4" fill="#25ec5e" stroke="#25ec5e" stroke-width="0.6"/><polygon points="486.4,175.4 490.8,174.3 488.7,171.3 484.3,172.4" fill="#25eb68" stroke="#25eb68" stroke-width="0.6"/><polygon points="484.3,172.4 488.7,171.3 486.6,168.3 482.2,169.3" fill="#24ea71" stroke="#24ea71" stroke-width="0.6"/><polygon points="482.2,169.3 486.6,168.3 484.4,165.3 480.1,166.3" fill="#24ea7b" stroke="#24ea7b" stroke-width="0.6"/><polygon points="480.1,166.3 484.4,165.3 482.3,162.2 478,163.2" fill="#23e984" stroke="#23e984" stroke-width="0.6"/><polygon points="478,163.2 482.3,162.2 480.2,159.2 475.8,160.2" fill="#23e88d" stroke="#23e88d" stroke-width="0.6"/><polygon points="475.8,160.2 480.2,159.2 478.1,156.2 473.7,157.1" fill="#23e896" stroke="#23e896" stroke-width="0.6"/><polygon points="473.7,157.1 478.1,156.2 475.9,153.1 471.6,154" fill="#22e79e" stroke="#22e79e" stroke-width="0.6"/><polygon points="471.6,154 475.9,153.1 473.8,150.1 469.5,151" fill="#22e7a7" stroke="#22e7a7" stroke-width="0.6"/><polygon points="469.5,151 473.8,150.1 471.7,147 467.4,147.9" fill="#21e6af" stroke="#21e6af" stroke-width="0.6"/><polygon points="467.4,147.9 471.7,147 469.6,143.9 465.3,144.8" fill="#21e5b7" stroke="#21e5b7" stroke-width="0.6"/><polygon points="465.3,144.8 469.6,143.9 467.5,140.9 463.2,141.7" fill="#20e5bf" stroke="#20e5bf" stroke-width="0.6"/><polygon points="463.2,141.7 467.5,140.9 465.4,137.8 461.1,138.6" fill="#20e4c7" stroke="#20e4c7" stroke-width="0.6"/><polygon points="461.1,138.6 465.4,137.8 463.3,134.7 459,135.4" fill="#20e4cf" stroke="#20e4cf" stroke-width="0.6"/><polygon points="459,135.4 463.3,134.7 461.2,131.6 456.9,132.3" fill="#1fe3d6" stroke="#1fe3d6" stroke-width="0.6"/><polygon points="456.9,132.3 461.2,131.6 459.1,128.4 454.8,129.2" fill="#1fe2dd" stroke="#1fe2dd" stroke-width="0.6"/><polygon points="454.8,129.2 459.1,128.4 457,125.3 452.8,126" fill="#1fe2e5" stroke="#1fe2e5" stroke-width="0.6"/><polygon points="452.8,126 457,125.3 454.9,122.2 450.7,122.9" fill="#1ee1ec" stroke="#1ee1ec" stroke-width="0.6"/><polygon points="550.5,253.6 555.2,251.9 552.9,249 548.2,250.7" fill="#f2c515" stroke="#f2c515" stroke-width="0.6"/><polygon points="548.2,250.7 552.9,249 550.6,246.1 545.9,247.8" fill="#f2d215" stroke="#f2d215" stroke-width="0.6"/><polygon points="545.9,247.8 550.6,246.1 548.3,243.2 543.6,244.9" fill="#f1e014" stroke="#f1e014" stroke-width="0.6"/><polygon points="543.6,244.9 548.3,243.2 546,240.4 541.4,242" fill="#f0ed14" stroke="#f0ed14" stroke-width="0.6"/><polygon points="541.4,242 546,240.4 543.7,237.5 539.1,239.1" fill="#e6f015" stroke="#e6f015" stroke-width="0.6"/><polygon points="539.1,239.1 543.7,237.5 541.5,234.6 536.8,236.2" fill="#d9f016" stroke="#d9f016" stroke-width="0.6"/><polygon points="536.8,236.2 541.5,234.6 539.2,231.7 534.6,233.3" fill="#ccf018" stroke="#ccf018" stroke-width="0.6"/><polygon points="534.6,233.3 539.2,231.7 536.9,228.8 532.4,230.4" fill="#bff019" stroke="#bff019" stroke-width="0.6"/><polygon points="532.4,230.4 536.9,228.8 534.7,226 530.1,227.5" fill="#b2f01a" stroke="#b2f01a" stroke-width="0.6"/><polygon points="530.1,227.5 534.7,226 532.4,223.1 527.9,224.6" fill="#a5f01b" stroke="#a5f01b" stroke-width="0.6"/><polygon points="527.9,224.6 532.4,223.1 530.2,220.2 525.7,221.6" fill="#99f01d" stroke="#99f01d" stroke-width="0.6"/><polygon points="525.7,221.6 530.2,220.2 528,217.3 523.5,218.7" fill="#8df01e" stroke="#8df01e" stroke-width="0.6"/><polygon points="523.5,218.7 528,217.3 525.8,214.4 521.2,215.8" fill="#80f01f" stroke="#80f01f" stroke-width="0.6"/><polygon points="521.2,215.8 525.8,214.4 523.5,211.5 519,212.9" fill="#75f020" stroke="#75f020" stroke-width="0.6"/><polygon points="519,212.9 523.5,211.5 521.3,208.5 516.8,209.9" fill="#69f022" stroke="#69f022" stroke-width="0.6"/><polygon points="516.8,209.9 521.3,208.5 519.1,205.6 514.6,207" fill="#5df023" stroke="#5df023" stroke-width="0.6"/><polygon points="514.6,207 519.1,205.6 516.9,202.7 512.4,204" fill="#52f024" stroke="#52f024" stroke-width="0.6"/><polygon points="512.4,204 516.9,202.7 514.7,199.8 510.3,201.1" fill="#46f025" stroke="#46f025" stroke-width="0.6"/><polygon points="510.3,201.1 514.7,199.8 512.5,196.9 508.1,198.1" fill="#3bf026" stroke="#3bf026" stroke-width="0.6"/><polygon points="508.1,198.1 512.5,196.9 510.4,193.9 505.9,195.2" fill="#30f027" stroke="#30f027" stroke-width="0.6"/><polygon points="505.9,195.2 510.4,193.9 508.2,191 503.7,192.2" fill="#28f02b" stroke="#28f02b" stroke-width="0.6"/><polygon points="503.7,192.2 508.2,191 506,188 501.6,189.2" fill="#27ef35" stroke="#27ef35" stroke-width="0.6"/><polygon points="501.6,189.2 506,188 503.8,185.1 499.4,186.3" fill="#27ee40" stroke="#27ee40" stroke-width="0.6"/><polygon points="499.4,186.3 503.8,185.1 501.7,182.1 497.3,183.3" fill="#26ed4a" stroke="#26ed4a" stroke-width="0.6"/><polygon points="497.3,183.3 501.7,182.1 499.5,179.2 495.1,180.3" fill="#26ed54" stroke="#26ed54" stroke-width="0.6"/><polygon points="495.1,180.3 499.5,179.2 497.3,176.2 493,177.3" fill="#25ec5e" stroke="#25ec5e" stroke-width="0.6"/><polygon points="493,177.3 497.3,176.2 495.2,173.2 490.8,174.3" fill="#25eb68" stroke="#25eb68" stroke-width="0.6"/><polygon points="490.8,174.3 495.2,173.2 493,170.2 488.7,171.3" fill="#24ea72" stroke="#24ea72" stroke-width="0.6"/><polygon points="488.7,171.3 493,170.2 490.9,167.2 486.6,168.3" fill="#24ea7b" stroke="#24ea7b" stroke-width="0.6"/><polygon points="486.6,168.3 490.9,167.2 488.8,164.2 484.4,165.3" fill="#23e985" stroke="#23e985" stroke-width="0.6"/><polygon points="484.4,165.3 488.8,164.2 486.6,161.2 482.3,162.2" fill="#23e88e" stroke="#23e88e" stroke-width="0.6"/><polygon points="482.3,162.2 486.6,161.2 484.5,158.2 480.2,159.2" fill="#22e897" stroke="#22e897" stroke-width="0.6"/><polygon points="480.2,159.2 484.5,158.2 482.4,155.2 478.1,156.2" fill="#22e7a0" stroke="#22e7a0" stroke-width="0.6"/><polygon points="478.1,156.2 482.4,155.2 480.2,152.2 475.9,153.1" fill="#22e6a9" stroke="#22e6a9" stroke-width="0.6"/><polygon points="475.9,153.1 480.2,152.2 478.1,149.2 473.8,150.1" fill="#21e6b1" stroke="#21e6b1" stroke-width="0.6"/><polygon points="473.8,150.1 478.1,149.2 476,146.1 471.7,147" fill="#21e5ba" stroke="#21e5ba" stroke-width="0.6"/><polygon points="471.7,147 476,146.1 473.9,143.1 469.6,143.9" fill="#20e4c2" stroke="#20e4c2" stroke-width="0.6"/><polygon points="469.6,143.9 473.9,143.1 471.8,140 467.5,140.9" fill="#20e4ca" stroke="#20e4ca" stroke-width="0.6"/><polygon points="467.5,140.9 471.8,140 469.7,136.9 465.4,137.8" fill="#1fe3d2" stroke="#1fe3d2" stroke-width="0.6"/><polygon points="465.4,137.8 469.7,136.9 467.6,133.9 463.3,134.7" fill="#1fe3da" stroke="#1fe3da" stroke-width="0.6"/><polygon points="463.3,134.7 467.6,133.9 465.5,130.8 461.2,131.6" fill="#1fe2e1" stroke="#1fe2e1" stroke-width="0.6"/><polygon points="461.2,131.6 465.5,130.8 463.4,127.7 459.1,128.4" fill="#1ee2e9" stroke="#1ee2e9" stroke-width="0.6"/><polygon points="459.1,128.4 463.4,127.7 461.3,124.6 457,125.3" fill="#1ee1f0" stroke="#1ee1f0" stroke-width="0.6"/><polygon points="457,125.3 461.3,124.6 459.2,121.5 454.9,122.2" fill="#1fdbf1" stroke="#1fdbf1" stroke-width="0.6"/><polygon points="555.2,251.9 559.9,250.1 557.6,247.3 552.9,249" fill="#f2cb15" stroke="#f2cb15" stroke-width="0.6"/><polygon points="552.9,249 557.6,247.3 555.2,244.4 550.6,246.1" fill="#f1d915" stroke="#f1d915" stroke-width="0.6"/><polygon points="550.6,246.1 555.2,244.4 552.9,241.6 548.3,243.2" fill="#f1e614" stroke="#f1e614" stroke-width="0.6"/><polygon points="548.3,243.2 552.9,241.6 550.6,238.7 546,240.4" fill="#edf014" stroke="#edf014" stroke-width="0.6"/><polygon points="546,240.4 550.6,238.7 548.3,235.9 543.7,237.5" fill="#dff016" stroke="#dff016" stroke-width="0.6"/><polygon points="543.7,237.5 548.3,235.9 546.1,233 541.5,234.6" fill="#d2f017" stroke="#d2f017" stroke-width="0.6"/><polygon points="541.5,234.6 546.1,233 543.8,230.2 539.2,231.7" fill="#c4f018" stroke="#c4f018" stroke-width="0.6"/><polygon points="539.2,231.7 543.8,230.2 541.5,227.3 536.9,228.8" fill="#b7f01a" stroke="#b7f01a" stroke-width="0.6"/><polygon points="536.9,228.8 541.5,227.3 539.3,224.4 534.7,226" fill="#abf01b" stroke="#abf01b" stroke-width="0.6"/><polygon points="534.7,226 539.3,224.4 537,221.6 532.4,223.1" fill="#9ef01c" stroke="#9ef01c" stroke-width="0.6"/><polygon points="532.4,223.1 537,221.6 534.7,218.7 530.2,220.2" fill="#91f01d" stroke="#91f01d" stroke-width="0.6"/><polygon points="530.2,220.2 534.7,218.7 532.5,215.8 528,217.3" fill="#85f01f" stroke="#85f01f" stroke-width="0.6"/><polygon points="528,217.3 532.5,215.8 530.3,212.9 525.8,214.4" fill="#79f020" stroke="#79f020" stroke-width="0.6"/><polygon points="525.8,214.4 530.3,212.9 528,210 523.5,211.5" fill="#6df021" stroke="#6df021" stroke-width="0.6"/><polygon points="523.5,211.5 528,210 525.8,207.2 521.3,208.5" fill="#61f022" stroke="#61f022" stroke-width="0.6"/><polygon points="521.3,208.5 525.8,207.2 523.6,204.3 519.1,205.6" fill="#55f024" stroke="#55f024" stroke-width="0.6"/><polygon points="519.1,205.6 523.6,204.3 521.4,201.4 516.9,202.7" fill="#49f025" stroke="#49f025" stroke-width="0.6"/><polygon points="516.9,202.7 521.4,201.4 519.2,198.5 514.7,199.8" fill="#3ef026" stroke="#3ef026" stroke-width="0.6"/><polygon points="514.7,199.8 519.2,198.5 517,195.5 512.5,196.9" fill="#33f027" stroke="#33f027" stroke-width="0.6"/><polygon points="512.5,196.9 517,195.5 514.8,192.6 510.4,193.9" fill="#28f028" stroke="#28f028" stroke-width="0.6"/><polygon points="510.4,193.9 514.8,192.6 512.6,189.7 508.2,191" fill="#27ef33" stroke="#27ef33" stroke-width="0.6"/><polygon points="508.2,191 512.6,189.7 510.4,186.8 506,188" fill="#27ee3e" stroke="#27ee3e" stroke-width="0.6"/><polygon points="506,188 510.4,186.8 508.2,183.9 503.8,185.1" fill="#26ee49" stroke="#26ee49" stroke-width="0.6"/><polygon points="503.8,185.1 508.2,183.9 506,180.9 501.7,182.1" fill="#26ed53" stroke="#26ed53" stroke-width="0.6"/><polygon points="501.7,182.1 506,180.9 503.9,178 499.5,179.2" fill="#25ec5e" stroke="#25ec5e" stroke-width="0.6"/><polygon points="499.5,179.2 503.9,178 501.7,175 497.3,176.2" fill="#25eb68" stroke="#25eb68" stroke-width="0.6"/><polygon points="497.3,176.2 501.7,175 499.6,172.1 495.2,173.2" fill="#24ea72" stroke="#24ea72" stroke-width="0.6"/><polygon points="495.2,173.2 499.6,172.1 497.4,169.1 493,170.2" fill="#24ea7c" stroke="#24ea7c" stroke-width="0.6"/><polygon points="493,170.2 497.4,169.1 495.2,166.2 490.9,167.2" fill="#23e985" stroke="#23e985" stroke-width="0.6"/><polygon points="490.9,167.2 495.2,166.2 493.1,163.2 488.8,164.2" fill="#23e88f" stroke="#23e88f" stroke-width="0.6"/><polygon points="488.8,164.2 493.1,163.2 491,160.2 486.6,161.2" fill="#22e898" stroke="#22e898" stroke-width="0.6"/><polygon points="486.6,161.2 491,160.2 488.8,157.2 484.5,158.2" fill="#22e7a1" stroke="#22e7a1" stroke-width="0.6"/><polygon points="484.5,158.2 488.8,157.2 486.7,154.2 482.4,155.2" fill="#21e6aa" stroke="#21e6aa" stroke-width="0.6"/><polygon points="482.4,155.2 486.7,154.2 484.5,151.2 480.2,152.2" fill="#21e6b3" stroke="#21e6b3" stroke-width="0.6"/><polygon points="480.2,152.2 484.5,151.2 482.4,148.2 478.1,149.2" fill="#21e5bc" stroke="#21e5bc" stroke-width="0.6"/><polygon points="478.1,149.2 482.4,148.2 480.3,145.2 476,146.1" fill="#20e4c4" stroke="#20e4c4" stroke-width="0.6"/><polygon points="476,146.1 480.3,145.2 478.2,142.2 473.9,143.1" fill="#20e4cd" stroke="#20e4cd" stroke-width="0.6"/><polygon points="473.9,143.1 478.2,142.2 476,139.1 471.8,140" fill="#1fe3d5" stroke="#1fe3d5" stroke-width="0.6"/><polygon points="471.8,140 476,139.1 473.9,136.1 469.7,136.9" fill="#1fe2dd" stroke="#1fe2dd" stroke-width="0.6"/><polygon points="469.7,136.9 473.9,136.1 471.8,133.1 467.6,133.9" fill="#1fe2e5" stroke="#1fe2e5" stroke-width="0.6"/><polygon points="467.6,133.9 471.8,133.1 469.7,130 465.5,130.8" fill="#1ee1ed" stroke="#1ee1ed" stroke-width="0.6"/><polygon points="465.5,130.8 469.7,130 467.6,126.9 463.4,127.7" fill="#1edef0" stroke="#1edef0" stroke-width="0.6"/><polygon points="463.4,127.7 467.6,126.9 465.5,123.9 461.3,124.6" fill="#1fd8f1" stroke="#1fd8f1" stroke-width="0.6"/><polygon points="461.3,124.6 465.5,123.9 463.4,120.8 459.2,121.5" fill="#1fd3f1" stroke="#1fd3f1" stroke-width="0.6"/><polygon points="559.9,250.1 564.6,248.4 562.2,245.5 557.6,247.3" fill="#f2d115" stroke="#f2d115" stroke-width="0.6"/><polygon points="557.6,247.3 562.2,245.5 559.9,242.7 555.2,244.4" fill="#f1df14" stroke="#f1df14" stroke-width="0.6"/><polygon points="555.2,244.4 559.9,242.7 557.6,239.9 552.9,241.6" fill="#f0ec14" stroke="#f0ec14" stroke-width="0.6"/><polygon points="552.9,241.6 557.6,239.9 555.3,237.1 550.6,238.7" fill="#e6f015" stroke="#e6f015" stroke-width="0.6"/><polygon points="550.6,238.7 555.3,237.1 553,234.2 548.3,235.9" fill="#d8f016" stroke="#d8f016" stroke-width="0.6"/><polygon points="548.3,235.9 553,234.2 550.7,231.4 546.1,233" fill="#cbf018" stroke="#cbf018" stroke-width="0.6"/><polygon points="546.1,233 550.7,231.4 548.4,228.6 543.8,230.2" fill="#bef019" stroke="#bef019" stroke-width="0.6"/><polygon points="543.8,230.2 548.4,228.6 546.1,225.7 541.5,227.3" fill="#b1f01a" stroke="#b1f01a" stroke-width="0.6"/><polygon points="541.5,227.3 546.1,225.7 543.8,222.9 539.3,224.4" fill="#a4f01c" stroke="#a4f01c" stroke-width="0.6"/><polygon points="539.3,224.4 543.8,222.9 541.5,220 537,221.6" fill="#97f01d" stroke="#97f01d" stroke-width="0.6"/><polygon points="537,221.6 541.5,220 539.3,217.2 534.7,218.7" fill="#8af01e" stroke="#8af01e" stroke-width="0.6"/><polygon points="534.7,218.7 539.3,217.2 537,214.3 532.5,215.8" fill="#7ef01f" stroke="#7ef01f" stroke-width="0.6"/><polygon points="532.5,215.8 537,214.3 534.8,211.5 530.3,212.9" fill="#71f021" stroke="#71f021" stroke-width="0.6"/><polygon points="530.3,212.9 534.8,211.5 532.5,208.6 528,210" fill="#65f022" stroke="#65f022" stroke-width="0.6"/><polygon points="528,210 532.5,208.6 530.3,205.7 525.8,207.2" fill="#59f023" stroke="#59f023" stroke-width="0.6"/><polygon points="525.8,207.2 530.3,205.7 528.1,202.9 523.6,204.3" fill="#4df024" stroke="#4df024" stroke-width="0.6"/><polygon points="523.6,204.3 528.1,202.9 525.8,200 521.4,201.4" fill="#41f025" stroke="#41f025" stroke-width="0.6"/><polygon points="521.4,201.4 525.8,200 523.6,197.1 519.2,198.5" fill="#36f027" stroke="#36f027" stroke-width="0.6"/><polygon points="519.2,198.5 523.6,197.1 521.4,194.2 517,195.5" fill="#2af028" stroke="#2af028" stroke-width="0.6"/><polygon points="517,195.5 521.4,194.2 519.2,191.3 514.8,192.6" fill="#28ef31" stroke="#28ef31" stroke-width="0.6"/><polygon points="514.8,192.6 519.2,191.3 517,188.4 512.6,189.7" fill="#27ef3c" stroke="#27ef3c" stroke-width="0.6"/><polygon points="512.6,189.7 517,188.4 514.8,185.5 510.4,186.8" fill="#26ee47" stroke="#26ee47" stroke-width="0.6"/><polygon points="510.4,186.8 514.8,185.5 512.6,182.6 508.2,183.9" fill="#26ed51" stroke="#26ed51" stroke-width="0.6"/><polygon points="508.2,183.9 512.6,182.6 510.4,179.7 506,180.9" fill="#25ec5c" stroke="#25ec5c" stroke-width="0.6"/><polygon points="506,180.9 510.4,179.7 508.2,176.8 503.9,178" fill="#25eb66" stroke="#25eb66" stroke-width="0.6"/><polygon points="503.9,178 508.2,176.8 506.1,173.9 501.7,175" fill="#24eb71" stroke="#24eb71" stroke-width="0.6"/><polygon points="501.7,175 506.1,173.9 503.9,170.9 499.6,172.1" fill="#24ea7b" stroke="#24ea7b" stroke-width="0.6"/><polygon points="499.6,172.1 503.9,170.9 501.7,168 497.4,169.1" fill="#23e985" stroke="#23e985" stroke-width="0.6"/><polygon points="497.4,169.1 501.7,168 499.6,165.1 495.2,166.2" fill="#23e88f" stroke="#23e88f" stroke-width="0.6"/><polygon points="495.2,166.2 499.6,165.1 497.4,162.1 493.1,163.2" fill="#22e898" stroke="#22e898" stroke-width="0.6"/><polygon points="493.1,163.2 497.4,162.1 495.3,159.2 491,160.2" fill="#22e7a2" stroke="#22e7a2" stroke-width="0.6"/><polygon points="491,160.2 495.3,159.2 493.1,156.2 488.8,157.2" fill="#21e6ab" stroke="#21e6ab" stroke-width="0.6"/><polygon points="488.8,157.2 493.1,156.2 491,153.2 486.7,154.2" fill="#21e5b4" stroke="#21e5b4" stroke-width="0.6"/><polygon points="486.7,154.2 491,153.2 488.8,150.3 484.5,151.2" fill="#21e5bd" stroke="#21e5bd" stroke-width="0.6"/><polygon points="484.5,151.2 488.8,150.3 486.7,147.3 482.4,148.2" fill="#20e4c6" stroke="#20e4c6" stroke-width="0.6"/><polygon points="482.4,148.2 486.7,147.3 484.6,144.3 480.3,145.2" fill="#20e4cf" stroke="#20e4cf" stroke-width="0.6"/><polygon points="480.3,145.2 484.6,144.3 482.4,141.3 478.2,142.2" fill="#1fe3d7" stroke="#1fe3d7" stroke-width="0.6"/><polygon points="478.2,142.2 482.4,141.3 480.3,138.3 476,139.1" fill="#1fe2df" stroke="#1fe2df" stroke-width="0.6"/><polygon points="476,139.1 480.3,138.3 478.2,135.2 473.9,136.1" fill="#1ee2e8" stroke="#1ee2e8" stroke-width="0.6"/><polygon points="473.9,136.1 478.2,135.2 476.1,132.2 471.8,133.1" fill="#1ee1f0" stroke="#1ee1f0" stroke-width="0.6"/><polygon points="471.8,133.1 476.1,132.2 473.9,129.2 469.7,130" fill="#1fdbf1" stroke="#1fdbf1" stroke-width="0.6"/><polygon points="469.7,130 473.9,129.2 471.8,126.1 467.6,126.9" fill="#1fd6f1" stroke="#1fd6f1" stroke-width="0.6"/><polygon points="467.6,126.9 471.8,126.1 469.7,123.1 465.5,123.9" fill="#20d0f2" stroke="#20d0f2" stroke-width="0.6"/><polygon points="465.5,123.9 469.7,123.1 467.6,120 463.4,120.8" fill="#20caf2" stroke="#20caf2" stroke-width="0.6"/><polygon points="564.6,248.4 569.2,246.6 566.9,243.8 562.2,245.5" fill="#f1d715" stroke="#f1d715" stroke-width="0.6"/><polygon points="562.2,245.5 566.9,243.8 564.5,241 559.9,242.7" fill="#f1e414" stroke="#f1e414" stroke-width="0.6"/><polygon points="559.9,242.7 564.5,241 562.2,238.2 557.6,239.9" fill="#eef014" stroke="#eef014" stroke-width="0.6"/><polygon points="557.6,239.9 562.2,238.2 559.9,235.4 555.3,237.1" fill="#e0f016" stroke="#e0f016" stroke-width="0.6"/><polygon points="555.3,237.1 559.9,235.4 557.6,232.6 553,234.2" fill="#d2f017" stroke="#d2f017" stroke-width="0.6"/><polygon points="553,234.2 557.6,232.6 555.2,229.7 550.7,231.4" fill="#c5f018" stroke="#c5f018" stroke-width="0.6"/><polygon points="550.7,231.4 555.2,229.7 552.9,226.9 548.4,228.6" fill="#b7f01a" stroke="#b7f01a" stroke-width="0.6"/><polygon points="548.4,228.6 552.9,226.9 550.6,224.1 546.1,225.7" fill="#aaf01b" stroke="#aaf01b" stroke-width="0.6"/><polygon points="546.1,225.7 550.6,224.1 548.3,221.3 543.8,222.9" fill="#9df01c" stroke="#9df01c" stroke-width="0.6"/><polygon points="543.8,222.9 548.3,221.3 546.1,218.5 541.5,220" fill="#90f01e" stroke="#90f01e" stroke-width="0.6"/><polygon points="541.5,220 546.1,218.5 543.8,215.6 539.3,217.2" fill="#83f01f" stroke="#83f01f" stroke-width="0.6"/><polygon points="539.3,217.2 543.8,215.6 541.5,212.8 537,214.3" fill="#76f020" stroke="#76f020" stroke-width="0.6"/><polygon points="537,214.3 541.5,212.8 539.3,210 534.8,211.5" fill="#6af021" stroke="#6af021" stroke-width="0.6"/><polygon points="534.8,211.5 539.3,210 537,207.1 532.5,208.6" fill="#5ef023" stroke="#5ef023" stroke-width="0.6"/><polygon points="532.5,208.6 537,207.1 534.8,204.3 530.3,205.7" fill="#52f024" stroke="#52f024" stroke-width="0.6"/><polygon points="530.3,205.7 534.8,204.3 532.5,201.4 528.1,202.9" fill="#46f025" stroke="#46f025" stroke-width="0.6"/><polygon points="528.1,202.9 532.5,201.4 530.3,198.6 525.8,200" fill="#3af026" stroke="#3af026" stroke-width="0.6"/><polygon points="525.8,200 530.3,198.6 528,195.7 523.6,197.1" fill="#2ef027" stroke="#2ef027" stroke-width="0.6"/><polygon points="523.6,197.1 528,195.7 525.8,192.9 521.4,194.2" fill="#28f02d" stroke="#28f02d" stroke-width="0.6"/><polygon points="521.4,194.2 525.8,192.9 523.6,190 519.2,191.3" fill="#27ef39" stroke="#27ef39" stroke-width="0.6"/><polygon points="519.2,191.3 523.6,190 521.4,187.1 517,188.4" fill="#27ee44" stroke="#27ee44" stroke-width="0.6"/><polygon points="517,188.4 521.4,187.1 519.2,184.3 514.8,185.5" fill="#26ed4f" stroke="#26ed4f" stroke-width="0.6"/><polygon points="514.8,185.5 519.2,184.3 517,181.4 512.6,182.6" fill="#26ec5a" stroke="#26ec5a" stroke-width="0.6"/><polygon points="512.6,182.6 517,181.4 514.8,178.5 510.4,179.7" fill="#25eb65" stroke="#25eb65" stroke-width="0.6"/><polygon points="510.4,179.7 514.8,178.5 512.6,175.6 508.2,176.8" fill="#24eb6f" stroke="#24eb6f" stroke-width="0.6"/><polygon points="508.2,176.8 512.6,175.6 510.4,172.7 506.1,173.9" fill="#24ea7a" stroke="#24ea7a" stroke-width="0.6"/><polygon points="506.1,173.9 510.4,172.7 508.2,169.8 503.9,170.9" fill="#23e984" stroke="#23e984" stroke-width="0.6"/><polygon points="503.9,170.9 508.2,169.8 506.1,166.9 501.7,168" fill="#23e88e" stroke="#23e88e" stroke-width="0.6"/><polygon points="501.7,168 506.1,166.9 503.9,164 499.6,165.1" fill="#22e898" stroke="#22e898" stroke-width="0.6"/><polygon points="499.6,165.1 503.9,164 501.7,161 497.4,162.1" fill="#22e7a1" stroke="#22e7a1" stroke-width="0.6"/><polygon points="497.4,162.1 501.7,161 499.6,158.1 495.3,159.2" fill="#21e6ab" stroke="#21e6ab" stroke-width="0.6"/><polygon points="495.3,159.2 499.6,158.1 497.4,155.2 493.1,156.2" fill="#21e5b4" stroke="#21e5b4" stroke-width="0.6"/><polygon points="493.1,156.2 497.4,155.2 495.2,152.2 491,153.2" fill="#21e5be" stroke="#21e5be" stroke-width="0.6"/><polygon points="491,153.2 495.2,152.2 493.1,149.2 488.8,150.3" fill="#20e4c7" stroke="#20e4c7" stroke-width="0.6"/><polygon points="488.8,150.3 493.1,149.2 491,146.3 486.7,147.3" fill="#20e3d0" stroke="#20e3d0" stroke-width="0.6"/><polygon points="486.7,147.3 491,146.3 488.8,143.3 484.6,144.3" fill="#1fe3d9" stroke="#1fe3d9" stroke-width="0.6"/><polygon points="484.6,144.3 488.8,143.3 486.7,140.3 482.4,141.3" fill="#1fe2e1" stroke="#1fe2e1" stroke-width="0.6"/><polygon points="482.4,141.3 486.7,140.3 484.5,137.4 480.3,138.3" fill="#1ee1ea" stroke="#1ee1ea" stroke-width="0.6"/><polygon points="480.3,138.3 484.5,137.4 482.4,134.4 478.2,135.2" fill="#1ee0f0" stroke="#1ee0f0" stroke-width="0.6"/><polygon points="478.2,135.2 482.4,134.4 480.3,131.4 476.1,132.2" fill="#1fd9f1" stroke="#1fd9f1" stroke-width="0.6"/><polygon points="476.1,132.2 480.3,131.4 478.2,128.3 473.9,129.2" fill="#1fd3f1" stroke="#1fd3f1" stroke-width="0.6"/><polygon points="473.9,129.2 478.2,128.3 476,125.3 471.8,126.1" fill="#20cef2" stroke="#20cef2" stroke-width="0.6"/><polygon points="471.8,126.1 476,125.3 473.9,122.3 469.7,123.1" fill="#21c8f3" stroke="#21c8f3" stroke-width="0.6"/><polygon points="469.7,123.1 473.9,122.3 471.8,119.3 467.6,120" fill="#21c2f3" stroke="#21c2f3" stroke-width="0.6"/><polygon points="569.2,246.6 573.9,244.8 571.5,242 566.9,243.8" fill="#f1dc15" stroke="#f1dc15" stroke-width="0.6"/><polygon points="566.9,243.8 571.5,242 569.2,239.2 564.5,241" fill="#f0ea14" stroke="#f0ea14" stroke-width="0.6"/><polygon points="564.5,241 569.2,239.2 566.8,236.4 562.2,238.2" fill="#e8f015" stroke="#e8f015" stroke-width="0.6"/><polygon points="562.2,238.2 566.8,236.4 564.5,233.7 559.9,235.4" fill="#daf016" stroke="#daf016" stroke-width="0.6"/><polygon points="559.9,235.4 564.5,233.7 562.1,230.9 557.6,232.6" fill="#ccf018" stroke="#ccf018" stroke-width="0.6"/><polygon points="557.6,232.6 562.1,230.9 559.8,228.1 555.2,229.7" fill="#bef019" stroke="#bef019" stroke-width="0.6"/><polygon points="555.2,229.7 559.8,228.1 557.5,225.3 552.9,226.9" fill="#b1f01a" stroke="#b1f01a" stroke-width="0.6"/><polygon points="552.9,226.9 557.5,225.3 555.2,222.5 550.6,224.1" fill="#a4f01c" stroke="#a4f01c" stroke-width="0.6"/><polygon points="550.6,224.1 555.2,222.5 552.9,219.7 548.3,221.3" fill="#96f01d" stroke="#96f01d" stroke-width="0.6"/><polygon points="548.3,221.3 552.9,219.7 550.6,216.9 546.1,218.5" fill="#89f01e" stroke="#89f01e" stroke-width="0.6"/><polygon points="546.1,218.5 550.6,216.9 548.3,214.1 543.8,215.6" fill="#7cf020" stroke="#7cf020" stroke-width="0.6"/><polygon points="543.8,215.6 548.3,214.1 546,211.3 541.5,212.8" fill="#70f021" stroke="#70f021" stroke-width="0.6"/><polygon points="541.5,212.8 546,211.3 543.7,208.5 539.3,210" fill="#63f022" stroke="#63f022" stroke-width="0.6"/><polygon points="539.3,210 543.7,208.5 541.5,205.7 537,207.1" fill="#57f023" stroke="#57f023" stroke-width="0.6"/><polygon points="537,207.1 541.5,205.7 539.2,202.8 534.8,204.3" fill="#4af025" stroke="#4af025" stroke-width="0.6"/><polygon points="534.8,204.3 539.2,202.8 537,200 532.5,201.4" fill="#3ef026" stroke="#3ef026" stroke-width="0.6"/><polygon points="532.5,201.4 537,200 534.7,197.2 530.3,198.6" fill="#32f027" stroke="#32f027" stroke-width="0.6"/><polygon points="530.3,198.6 534.7,197.2 532.5,194.3 528,195.7" fill="#28f02a" stroke="#28f02a" stroke-width="0.6"/><polygon points="528,195.7 532.5,194.3 530.2,191.5 525.8,192.9" fill="#27ef35" stroke="#27ef35" stroke-width="0.6"/><polygon points="525.8,192.9 530.2,191.5 528,188.7 523.6,190" fill="#27ee41" stroke="#27ee41" stroke-width="0.6"/><polygon points="523.6,190 528,188.7 525.8,185.8 521.4,187.1" fill="#26ed4c" stroke="#26ed4c" stroke-width="0.6"/><polygon points="521.4,187.1 525.8,185.8 523.6,183 519.2,184.3" fill="#26ec57" stroke="#26ec57" stroke-width="0.6"/><polygon points="519.2,184.3 523.6,183 521.3,180.1 517,181.4" fill="#25ec62" stroke="#25ec62" stroke-width="0.6"/><polygon points="517,181.4 521.3,180.1 519.1,177.2 514.8,178.5" fill="#25eb6d" stroke="#25eb6d" stroke-width="0.6"/><polygon points="514.8,178.5 519.1,177.2 516.9,174.4 512.6,175.6" fill="#24ea78" stroke="#24ea78" stroke-width="0.6"/><polygon points="512.6,175.6 516.9,174.4 514.7,171.5 510.4,172.7" fill="#23e982" stroke="#23e982" stroke-width="0.6"/><polygon points="510.4,172.7 514.7,171.5 512.6,168.6 508.2,169.8" fill="#23e88c" stroke="#23e88c" stroke-width="0.6"/><polygon points="508.2,169.8 512.6,168.6 510.4,165.7 506.1,166.9" fill="#22e897" stroke="#22e897" stroke-width="0.6"/><polygon points="506.1,166.9 510.4,165.7 508.2,162.8 503.9,164" fill="#22e7a1" stroke="#22e7a1" stroke-width="0.6"/><polygon points="503.9,164 508.2,162.8 506,159.9 501.7,161" fill="#21e6aa" stroke="#21e6aa" stroke-width="0.6"/><polygon points="501.7,161 506,159.9 503.8,157 499.6,158.1" fill="#21e5b4" stroke="#21e5b4" stroke-width="0.6"/><polygon points="499.6,158.1 503.8,157 501.7,154.1 497.4,155.2" fill="#21e5be" stroke="#21e5be" stroke-width="0.6"/><polygon points="497.4,155.2 501.7,154.1 499.5,151.2 495.2,152.2" fill="#20e4c7" stroke="#20e4c7" stroke-width="0.6"/><polygon points="495.2,152.2 499.5,151.2 497.4,148.2 493.1,149.2" fill="#20e3d0" stroke="#20e3d0" stroke-width="0.6"/><polygon points="493.1,149.2 497.4,148.2 495.2,145.3 491,146.3" fill="#1fe3d9" stroke="#1fe3d9" stroke-width="0.6"/><polygon points="491,146.3 495.2,145.3 493.1,142.3 488.8,143.3" fill="#1fe2e2" stroke="#1fe2e2" stroke-width="0.6"/><polygon points="488.8,143.3 493.1,142.3 490.9,139.4 486.7,140.3" fill="#1ee1eb" stroke="#1ee1eb" stroke-width="0.6"/><polygon points="486.7,140.3 490.9,139.4 488.8,136.4 484.5,137.4" fill="#1edef0" stroke="#1edef0" stroke-width="0.6"/><polygon points="484.5,137.4 488.8,136.4 486.6,133.5 482.4,134.4" fill="#1fd8f1" stroke="#1fd8f1" stroke-width="0.6"/><polygon points="482.4,134.4 486.6,133.5 484.5,130.5 480.3,131.4" fill="#20d2f2" stroke="#20d2f2" stroke-width="0.6"/><polygon points="480.3,131.4 484.5,130.5 482.4,127.5 478.2,128.3" fill="#20ccf2" stroke="#20ccf2" stroke-width="0.6"/><polygon points="478.2,128.3 482.4,127.5 480.2,124.5 476,125.3" fill="#21c6f3" stroke="#21c6f3" stroke-width="0.6"/><polygon points="476,125.3 480.2,124.5 478.1,121.5 473.9,122.3" fill="#21c0f3" stroke="#21c0f3" stroke-width="0.6"/><polygon points="473.9,122.3 478.1,121.5 476,118.5 471.8,119.3" fill="#22baf4" stroke="#22baf4" stroke-width="0.6"/><polygon points="573.9,244.8 578.6,243 576.2,240.2 571.5,242" fill="#f1e114" stroke="#f1e114" stroke-width="0.6"/><polygon points="571.5,242 576.2,240.2 573.8,237.5 569.2,239.2" fill="#f0ef14" stroke="#f0ef14" stroke-width="0.6"/><polygon points="569.2,239.2 573.8,237.5 571.4,234.7 566.8,236.4" fill="#e3f015" stroke="#e3f015" stroke-width="0.6"/><polygon points="566.8,236.4 571.4,234.7 569.1,231.9 564.5,233.7" fill="#d4f017" stroke="#d4f017" stroke-width="0.6"/><polygon points="564.5,233.7 569.1,231.9 566.7,229.2 562.1,230.9" fill="#c6f018" stroke="#c6f018" stroke-width="0.6"/><polygon points="562.1,230.9 566.7,229.2 564.4,226.4 559.8,228.1" fill="#b9f01a" stroke="#b9f01a" stroke-width="0.6"/><polygon points="559.8,228.1 564.4,226.4 562.1,223.6 557.5,225.3" fill="#abf01b" stroke="#abf01b" stroke-width="0.6"/><polygon points="557.5,225.3 562.1,223.6 559.7,220.9 555.2,222.5" fill="#9df01c" stroke="#9df01c" stroke-width="0.6"/><polygon points="555.2,222.5 559.7,220.9 557.4,218.1 552.9,219.7" fill="#90f01e" stroke="#90f01e" stroke-width="0.6"/><polygon points="552.9,219.7 557.4,218.1 555.1,215.3 550.6,216.9" fill="#83f01f" stroke="#83f01f" stroke-width="0.6"/><polygon points="550.6,216.9 555.1,215.3 552.8,212.5 548.3,214.1" fill="#76f020" stroke="#76f020" stroke-width="0.6"/><polygon points="548.3,214.1 552.8,212.5 550.5,209.7 546,211.3" fill="#69f021" stroke="#69f021" stroke-width="0.6"/><polygon points="546,211.3 550.5,209.7 548.2,207 543.7,208.5" fill="#5cf023" stroke="#5cf023" stroke-width="0.6"/><polygon points="543.7,208.5 548.2,207 545.9,204.2 541.5,205.7" fill="#50f024" stroke="#50f024" stroke-width="0.6"/><polygon points="541.5,205.7 545.9,204.2 543.7,201.4 539.2,202.8" fill="#43f025" stroke="#43f025" stroke-width="0.6"/><polygon points="539.2,202.8 543.7,201.4 541.4,198.6 537,200" fill="#37f026" stroke="#37f026" stroke-width="0.6"/><polygon points="537,200 541.4,198.6 539.1,195.7 534.7,197.2" fill="#2bf028" stroke="#2bf028" stroke-width="0.6"/><polygon points="534.7,197.2 539.1,195.7 536.9,192.9 532.5,194.3" fill="#28ef31" stroke="#28ef31" stroke-width="0.6"/><polygon points="532.5,194.3 536.9,192.9 534.6,190.1 530.2,191.5" fill="#27ee3d" stroke="#27ee3d" stroke-width="0.6"/><polygon points="530.2,191.5 534.6,190.1 532.4,187.3 528,188.7" fill="#26ee48" stroke="#26ee48" stroke-width="0.6"/><polygon points="528,188.7 532.4,187.3 530.2,184.5 525.8,185.8" fill="#26ed54" stroke="#26ed54" stroke-width="0.6"/><polygon points="525.8,185.8 530.2,184.5 527.9,181.6 523.6,183" fill="#25ec5f" stroke="#25ec5f" stroke-width="0.6"/><polygon points="523.6,183 527.9,181.6 525.7,178.8 521.3,180.1" fill="#25eb6a" stroke="#25eb6a" stroke-width="0.6"/><polygon points="521.3,180.1 525.7,178.8 523.5,176 519.1,177.2" fill="#24ea75" stroke="#24ea75" stroke-width="0.6"/><polygon points="519.1,177.2 523.5,176 521.3,173.1 516.9,174.4" fill="#24e980" stroke="#24e980" stroke-width="0.6"/><polygon points="516.9,174.4 521.3,173.1 519.1,170.3 514.7,171.5" fill="#23e98a" stroke="#23e98a" stroke-width="0.6"/><polygon points="514.7,171.5 519.1,170.3 516.9,167.4 512.6,168.6" fill="#23e895" stroke="#23e895" stroke-width="0.6"/><polygon points="512.6,168.6 516.9,167.4 514.7,164.5 510.4,165.7" fill="#22e79f" stroke="#22e79f" stroke-width="0.6"/><polygon points="510.4,165.7 514.7,164.5 512.5,161.7 508.2,162.8" fill="#22e6a9" stroke="#22e6a9" stroke-width="0.6"/><polygon points="508.2,162.8 512.5,161.7 510.3,158.8 506,159.9" fill="#21e6b3" stroke="#21e6b3" stroke-width="0.6"/><polygon points="506,159.9 510.3,158.8 508.1,155.9 503.8,157" fill="#21e5bd" stroke="#21e5bd" stroke-width="0.6"/><polygon points="503.8,157 508.1,155.9 505.9,153 501.7,154.1" fill="#20e4c7" stroke="#20e4c7" stroke-width="0.6"/><polygon points="501.7,154.1 505.9,153 503.8,150.1 499.5,151.2" fill="#20e3d0" stroke="#20e3d0" stroke-width="0.6"/><polygon points="499.5,151.2 503.8,150.1 501.6,147.2 497.4,148.2" fill="#1fe3d9" stroke="#1fe3d9" stroke-width="0.6"/><polygon points="497.4,148.2 501.6,147.2 499.4,144.3 495.2,145.3" fill="#1fe2e3" stroke="#1fe2e3" stroke-width="0.6"/><polygon points="495.2,145.3 499.4,144.3 497.3,141.3 493.1,142.3" fill="#1ee1ec" stroke="#1ee1ec" stroke-width="0.6"/><polygon points="493.1,142.3 497.3,141.3 495.1,138.4 490.9,139.4" fill="#1edef0" stroke="#1edef0" stroke-width="0.6"/><polygon points="490.9,139.4 495.1,138.4 493,135.5 488.8,136.4" fill="#1fd7f1" stroke="#1fd7f1" stroke-width="0.6"/><polygon points="488.8,136.4 493,135.5 490.8,132.5 486.6,133.5" fill="#20d1f2" stroke="#20d1f2" stroke-width="0.6"/><polygon points="486.6,133.5 490.8,132.5 488.7,129.6 484.5,130.5" fill="#20caf2" stroke="#20caf2" stroke-width="0.6"/><polygon points="484.5,130.5 488.7,129.6 486.6,126.6 482.4,127.5" fill="#21c4f3" stroke="#21c4f3" stroke-width="0.6"/><polygon points="482.4,127.5 486.6,126.6 484.4,123.6 480.2,124.5" fill="#21bef3" stroke="#21bef3" stroke-width="0.6"/><polygon points="480.2,124.5 484.4,123.6 482.3,120.6 478.1,121.5" fill="#22b8f4" stroke="#22b8f4" stroke-width="0.6"/><polygon points="478.1,121.5 482.3,120.6 480.2,117.7 476,118.5" fill="#23b2f5" stroke="#23b2f5" stroke-width="0.6"/><polygon points="578.6,243 583.2,241.1 580.8,238.4 576.2,240.2" fill="#f1e614" stroke="#f1e614" stroke-width="0.6"/><polygon points="576.2,240.2 580.8,238.4 578.4,235.7 573.8,237.5" fill="#ecf014" stroke="#ecf014" stroke-width="0.6"/><polygon points="573.8,237.5 578.4,235.7 576.1,232.9 571.4,234.7" fill="#ddf016" stroke="#ddf016" stroke-width="0.6"/><polygon points="571.4,234.7 576.1,232.9 573.7,230.2 569.1,231.9" fill="#cff017" stroke="#cff017" stroke-width="0.6"/><polygon points="569.1,231.9 573.7,230.2 571.3,227.4 566.7,229.2" fill="#c1f019" stroke="#c1f019" stroke-width="0.6"/><polygon points="566.7,229.2 571.3,227.4 569,224.7 564.4,226.4" fill="#b3f01a" stroke="#b3f01a" stroke-width="0.6"/><polygon points="564.4,226.4 569,224.7 566.6,222 562.1,223.6" fill="#a5f01b" stroke="#a5f01b" stroke-width="0.6"/><polygon points="562.1,223.6 566.6,222 564.3,219.2 559.7,220.9" fill="#98f01d" stroke="#98f01d" stroke-width="0.6"/><polygon points="559.7,220.9 564.3,219.2 561.9,216.5 557.4,218.1" fill="#8af01e" stroke="#8af01e" stroke-width="0.6"/><polygon points="557.4,218.1 561.9,216.5 559.6,213.7 555.1,215.3" fill="#7df020" stroke="#7df020" stroke-width="0.6"/><polygon points="555.1,215.3 559.6,213.7 557.3,210.9 552.8,212.5" fill="#70f021" stroke="#70f021" stroke-width="0.6"/><polygon points="552.8,212.5 557.3,210.9 555,208.2 550.5,209.7" fill="#63f022" stroke="#63f022" stroke-width="0.6"/><polygon points="550.5,209.7 555,208.2 552.7,205.4 548.2,207" fill="#56f023" stroke="#56f023" stroke-width="0.6"/><polygon points="548.2,207 552.7,205.4 550.4,202.6 545.9,204.2" fill="#49f025" stroke="#49f025" stroke-width="0.6"/><polygon points="545.9,204.2 550.4,202.6 548.1,199.9 543.7,201.4" fill="#3df026" stroke="#3df026" stroke-width="0.6"/><polygon points="543.7,201.4 548.1,199.9 545.8,197.1 541.4,198.6" fill="#30f027" stroke="#30f027" stroke-width="0.6"/><polygon points="541.4,198.6 545.8,197.1 543.6,194.3 539.1,195.7" fill="#28f02c" stroke="#28f02c" stroke-width="0.6"/><polygon points="539.1,195.7 543.6,194.3 541.3,191.5 536.9,192.9" fill="#27ef38" stroke="#27ef38" stroke-width="0.6"/><polygon points="536.9,192.9 541.3,191.5 539,188.7 534.6,190.1" fill="#27ee44" stroke="#27ee44" stroke-width="0.6"/><polygon points="534.6,190.1 539,188.7 536.8,185.9 532.4,187.3" fill="#26ed4f" stroke="#26ed4f" stroke-width="0.6"/><polygon points="532.4,187.3 536.8,185.9 534.5,183.1 530.2,184.5" fill="#25ec5b" stroke="#25ec5b" stroke-width="0.6"/><polygon points="530.2,184.5 534.5,183.1 532.3,180.3 527.9,181.6" fill="#25eb66" stroke="#25eb66" stroke-width="0.6"/><polygon points="527.9,181.6 532.3,180.3 530.1,177.5 525.7,178.8" fill="#24ea71" stroke="#24ea71" stroke-width="0.6"/><polygon points="525.7,178.8 530.1,177.5 527.8,174.7 523.5,176" fill="#24ea7d" stroke="#24ea7d" stroke-width="0.6"/><polygon points="523.5,176 527.8,174.7 525.6,171.8 521.3,173.1" fill="#23e987" stroke="#23e987" stroke-width="0.6"/><polygon points="521.3,173.1 525.6,171.8 523.4,169 519.1,170.3" fill="#23e892" stroke="#23e892" stroke-width="0.6"/><polygon points="519.1,170.3 523.4,169 521.2,166.2 516.9,167.4" fill="#22e79d" stroke="#22e79d" stroke-width="0.6"/><polygon points="516.9,167.4 521.2,166.2 519,163.3 514.7,164.5" fill="#22e6a7" stroke="#22e6a7" stroke-width="0.6"/><polygon points="514.7,164.5 519,163.3 516.8,160.5 512.5,161.7" fill="#21e6b1" stroke="#21e6b1" stroke-width="0.6"/><polygon points="512.5,161.7 516.8,160.5 514.6,157.6 510.3,158.8" fill="#21e5bc" stroke="#21e5bc" stroke-width="0.6"/><polygon points="510.3,158.8 514.6,157.6 512.4,154.8 508.1,155.9" fill="#20e4c5" stroke="#20e4c5" stroke-width="0.6"/><polygon points="508.1,155.9 512.4,154.8 510.2,151.9 505.9,153" fill="#20e3cf" stroke="#20e3cf" stroke-width="0.6"/><polygon points="505.9,153 510.2,151.9 508,149 503.8,150.1" fill="#1fe3d9" stroke="#1fe3d9" stroke-width="0.6"/><polygon points="503.8,150.1 508,149 505.9,146.1 501.6,147.2" fill="#1fe2e2" stroke="#1fe2e2" stroke-width="0.6"/><polygon points="501.6,147.2 505.9,146.1 503.7,143.2 499.4,144.3" fill="#1ee1ec" stroke="#1ee1ec" stroke-width="0.6"/><polygon points="499.4,144.3 503.7,143.2 501.5,140.3 497.3,141.3" fill="#1eddf0" stroke="#1eddf0" stroke-width="0.6"/><polygon points="497.3,141.3 501.5,140.3 499.4,137.4 495.1,138.4" fill="#1fd7f1" stroke="#1fd7f1" stroke-width="0.6"/><polygon points="495.1,138.4 499.4,137.4 497.2,134.5 493,135.5" fill="#20d0f2" stroke="#20d0f2" stroke-width="0.6"/><polygon points="493,135.5 497.2,134.5 495,131.6 490.8,132.5" fill="#20caf2" stroke="#20caf2" stroke-width="0.6"/><polygon points="490.8,132.5 495,131.6 492.9,128.6 488.7,129.6" fill="#21c3f3" stroke="#21c3f3" stroke-width="0.6"/><polygon points="488.7,129.6 492.9,128.6 490.8,125.7 486.6,126.6" fill="#22bdf4" stroke="#22bdf4" stroke-width="0.6"/><polygon points="486.6,126.6 490.8,125.7 488.6,122.7 484.4,123.6" fill="#22b7f4" stroke="#22b7f4" stroke-width="0.6"/><polygon points="484.4,123.6 488.6,122.7 486.5,119.8 482.3,120.6" fill="#23b1f5" stroke="#23b1f5" stroke-width="0.6"/><polygon points="482.3,120.6 486.5,119.8 484.3,116.8 480.2,117.7" fill="#23abf5" stroke="#23abf5" stroke-width="0.6"/><polygon points="583.2,241.1 587.9,239.3 585.5,236.6 580.8,238.4" fill="#f0ea14" stroke="#f0ea14" stroke-width="0.6"/><polygon points="580.8,238.4 585.5,236.6 583.1,233.9 578.4,235.7" fill="#e7f015" stroke="#e7f015" stroke-width="0.6"/><polygon points="578.4,235.7 583.1,233.9 580.7,231.1 576.1,232.9" fill="#d9f016" stroke="#d9f016" stroke-width="0.6"/><polygon points="576.1,232.9 580.7,231.1 578.3,228.4 573.7,230.2" fill="#caf018" stroke="#caf018" stroke-width="0.6"/><polygon points="573.7,230.2 578.3,228.4 575.9,225.7 571.3,227.4" fill="#bcf019" stroke="#bcf019" stroke-width="0.6"/><polygon points="571.3,227.4 575.9,225.7 573.5,223 569,224.7" fill="#aef01b" stroke="#aef01b" stroke-width="0.6"/><polygon points="569,224.7 573.5,223 571.2,220.3 566.6,222" fill="#a0f01c" stroke="#a0f01c" stroke-width="0.6"/><polygon points="566.6,222 571.2,220.3 568.8,217.5 564.3,219.2" fill="#92f01d" stroke="#92f01d" stroke-width="0.6"/><polygon points="564.3,219.2 568.8,217.5 566.5,214.8 561.9,216.5" fill="#85f01f" stroke="#85f01f" stroke-width="0.6"/><polygon points="561.9,216.5 566.5,214.8 564.1,212.1 559.6,213.7" fill="#77f020" stroke="#77f020" stroke-width="0.6"/><polygon points="559.6,213.7 564.1,212.1 561.8,209.3 557.3,210.9" fill="#6af021" stroke="#6af021" stroke-width="0.6"/><polygon points="557.3,210.9 561.8,209.3 559.5,206.6 555,208.2" fill="#5df023" stroke="#5df023" stroke-width="0.6"/><polygon points="555,208.2 559.5,206.6 557.2,203.8 552.7,205.4" fill="#50f024" stroke="#50f024" stroke-width="0.6"/><polygon points="552.7,205.4 557.2,203.8 554.8,201.1 550.4,202.6" fill="#43f025" stroke="#43f025" stroke-width="0.6"/><polygon points="550.4,202.6 554.8,201.1 552.5,198.3 548.1,199.9" fill="#36f027" stroke="#36f027" stroke-width="0.6"/><polygon points="548.1,199.9 552.5,198.3 550.2,195.6 545.8,197.1" fill="#2af028" stroke="#2af028" stroke-width="0.6"/><polygon points="545.8,197.1 550.2,195.6 548,192.8 543.6,194.3" fill="#27ef32" stroke="#27ef32" stroke-width="0.6"/><polygon points="543.6,194.3 548,192.8 545.7,190.1 541.3,191.5" fill="#27ee3e" stroke="#27ee3e" stroke-width="0.6"/><polygon points="541.3,191.5 545.7,190.1 543.4,187.3 539,188.7" fill="#26ed4a" stroke="#26ed4a" stroke-width="0.6"/><polygon points="539,188.7 543.4,187.3 541.1,184.5 536.8,185.9" fill="#26ed56" stroke="#26ed56" stroke-width="0.6"/><polygon points="536.8,185.9 541.1,184.5 538.9,181.7 534.5,183.1" fill="#25ec62" stroke="#25ec62" stroke-width="0.6"/><polygon points="534.5,183.1 538.9,181.7 536.6,178.9 532.3,180.3" fill="#25eb6d" stroke="#25eb6d" stroke-width="0.6"/><polygon points="532.3,180.3 536.6,178.9 534.4,176.1 530.1,177.5" fill="#24ea79" stroke="#24ea79" stroke-width="0.6"/><polygon points="530.1,177.5 534.4,176.1 532.2,173.3 527.8,174.7" fill="#23e984" stroke="#23e984" stroke-width="0.6"/><polygon points="527.8,174.7 532.2,173.3 529.9,170.5 525.6,171.8" fill="#23e88f" stroke="#23e88f" stroke-width="0.6"/><polygon points="525.6,171.8 529.9,170.5 527.7,167.7 523.4,169" fill="#22e79a" stroke="#22e79a" stroke-width="0.6"/><polygon points="523.4,169 527.7,167.7 525.5,164.9 521.2,166.2" fill="#22e7a5" stroke="#22e7a5" stroke-width="0.6"/><polygon points="521.2,166.2 525.5,164.9 523.3,162.1 519,163.3" fill="#21e6af" stroke="#21e6af" stroke-width="0.6"/><polygon points="519,163.3 523.3,162.1 521,159.3 516.8,160.5" fill="#21e5b9" stroke="#21e5b9" stroke-width="0.6"/><polygon points="516.8,160.5 521,159.3 518.8,156.4 514.6,157.6" fill="#20e4c4" stroke="#20e4c4" stroke-width="0.6"/><polygon points="514.6,157.6 518.8,156.4 516.6,153.6 512.4,154.8" fill="#20e4ce" stroke="#20e4ce" stroke-width="0.6"/><polygon points="512.4,154.8 516.6,153.6 514.5,150.7 510.2,151.9" fill="#1fe3d8" stroke="#1fe3d8" stroke-width="0.6"/><polygon points="510.2,151.9 514.5,150.7 512.3,147.9 508,149" fill="#1fe2e1" stroke="#1fe2e1" stroke-width="0.6"/><polygon points="508,149 512.3,147.9 510.1,145 505.9,146.1" fill="#1ee1eb" stroke="#1ee1eb" stroke-width="0.6"/><polygon points="505.9,146.1 510.1,145 507.9,142.2 503.7,143.2" fill="#1edef0" stroke="#1edef0" stroke-width="0.6"/><polygon points="503.7,143.2 507.9,142.2 505.7,139.3 501.5,140.3" fill="#1fd7f1" stroke="#1fd7f1" stroke-width="0.6"/><polygon points="501.5,140.3 505.7,139.3 503.6,136.4 499.4,137.4" fill="#20d0f2" stroke="#20d0f2" stroke-width="0.6"/><polygon points="499.4,137.4 503.6,136.4 501.4,133.5 497.2,134.5" fill="#20c9f2" stroke="#20c9f2" stroke-width="0.6"/><polygon points="497.2,134.5 501.4,133.5 499.2,130.6 495,131.6" fill="#21c3f3" stroke="#21c3f3" stroke-width="0.6"/><polygon points="495,131.6 499.2,130.6 497.1,127.7 492.9,128.6" fill="#22bcf4" stroke="#22bcf4" stroke-width="0.6"/><polygon points="492.9,128.6 497.1,127.7 494.9,124.8 490.8,125.7" fill="#22b6f4" stroke="#22b6f4" stroke-width="0.6"/><polygon points="490.8,125.7 494.9,124.8 492.8,121.8 488.6,122.7" fill="#23b0f5" stroke="#23b0f5" stroke-width="0.6"/><polygon points="488.6,122.7 492.8,121.8 490.6,118.9 486.5,119.8" fill="#24aaf6" stroke="#24aaf6" stroke-width="0.6"/><polygon points="486.5,119.8 490.6,118.9 488.5,116 484.3,116.8" fill="#24a4f6" stroke="#24a4f6" stroke-width="0.6"/><polygon points="587.9,239.3 592.6,237.4 590.1,234.7 585.5,236.6" fill="#f0ef14" stroke="#f0ef14" stroke-width="0.6"/><polygon points="585.5,236.6 590.1,234.7 587.7,232 583.1,233.9" fill="#e3f015" stroke="#e3f015" stroke-width="0.6"/><polygon points="583.1,233.9 587.7,232 585.3,229.3 580.7,231.1" fill="#d4f017" stroke="#d4f017" stroke-width="0.6"/><polygon points="580.7,231.1 585.3,229.3 582.9,226.6 578.3,228.4" fill="#c5f018" stroke="#c5f018" stroke-width="0.6"/><polygon points="578.3,228.4 582.9,226.6 580.5,223.9 575.9,225.7" fill="#b7f01a" stroke="#b7f01a" stroke-width="0.6"/><polygon points="575.9,225.7 580.5,223.9 578.1,221.2 573.5,223" fill="#a9f01b" stroke="#a9f01b" stroke-width="0.6"/><polygon points="573.5,223 578.1,221.2 575.7,218.5 571.2,220.3" fill="#9bf01d" stroke="#9bf01d" stroke-width="0.6"/><polygon points="571.2,220.3 575.7,218.5 573.3,215.8 568.8,217.5" fill="#8df01e" stroke="#8df01e" stroke-width="0.6"/><polygon points="568.8,217.5 573.3,215.8 571,213.1 566.5,214.8" fill="#7ff01f" stroke="#7ff01f" stroke-width="0.6"/><polygon points="566.5,214.8 571,213.1 568.6,210.4 564.1,212.1" fill="#72f021" stroke="#72f021" stroke-width="0.6"/><polygon points="564.1,212.1 568.6,210.4 566.3,207.7 561.8,209.3" fill="#64f022" stroke="#64f022" stroke-width="0.6"/><polygon points="561.8,209.3 566.3,207.7 563.9,205 559.5,206.6" fill="#57f023" stroke="#57f023" stroke-width="0.6"/><polygon points="559.5,206.6 563.9,205 561.6,202.3 557.2,203.8" fill="#4af025" stroke="#4af025" stroke-width="0.6"/><polygon points="557.2,203.8 561.6,202.3 559.3,199.5 554.8,201.1" fill="#3df026" stroke="#3df026" stroke-width="0.6"/><polygon points="554.8,201.1 559.3,199.5 557,196.8 552.5,198.3" fill="#30f027" stroke="#30f027" stroke-width="0.6"/><polygon points="552.5,198.3 557,196.8 554.7,194.1 550.2,195.6" fill="#28f02c" stroke="#28f02c" stroke-width="0.6"/><polygon points="550.2,195.6 554.7,194.1 552.4,191.3 548,192.8" fill="#27ef39" stroke="#27ef39" stroke-width="0.6"/><polygon points="548,192.8 552.4,191.3 550.1,188.6 545.7,190.1" fill="#27ee45" stroke="#27ee45" stroke-width="0.6"/><polygon points="545.7,190.1 550.1,188.6 547.8,185.8 543.4,187.3" fill="#26ed51" stroke="#26ed51" stroke-width="0.6"/><polygon points="543.4,187.3 547.8,185.8 545.5,183.1 541.1,184.5" fill="#25ec5d" stroke="#25ec5d" stroke-width="0.6"/><polygon points="541.1,184.5 545.5,183.1 543.2,180.3 538.9,181.7" fill="#25eb69" stroke="#25eb69" stroke-width="0.6"/><polygon points="538.9,181.7 543.2,180.3 541,177.6 536.6,178.9" fill="#24ea74" stroke="#24ea74" stroke-width="0.6"/><polygon points="536.6,178.9 541,177.6 538.7,174.8 534.4,176.1" fill="#24e980" stroke="#24e980" stroke-width="0.6"/><polygon points="534.4,176.1 538.7,174.8 536.5,172 532.2,173.3" fill="#23e98b" stroke="#23e98b" stroke-width="0.6"/><polygon points="532.2,173.3 536.5,172 534.2,169.2 529.9,170.5" fill="#22e896" stroke="#22e896" stroke-width="0.6"/><polygon points="529.9,170.5 534.2,169.2 532,166.4 527.7,167.7" fill="#22e7a1" stroke="#22e7a1" stroke-width="0.6"/><polygon points="527.7,167.7 532,166.4 529.8,163.7 525.5,164.9" fill="#21e6ac" stroke="#21e6ac" stroke-width="0.6"/><polygon points="525.5,164.9 529.8,163.7 527.5,160.9 523.3,162.1" fill="#21e5b7" stroke="#21e5b7" stroke-width="0.6"/><polygon points="523.3,162.1 527.5,160.9 525.3,158 521,159.3" fill="#20e5c1" stroke="#20e5c1" stroke-width="0.6"/><polygon points="521,159.3 525.3,158 523.1,155.2 518.8,156.4" fill="#20e4cb" stroke="#20e4cb" stroke-width="0.6"/><polygon points="518.8,156.4 523.1,155.2 520.9,152.4 516.6,153.6" fill="#1fe3d6" stroke="#1fe3d6" stroke-width="0.6"/><polygon points="516.6,153.6 520.9,152.4 518.7,149.6 514.5,150.7" fill="#1fe2e0" stroke="#1fe2e0" stroke-width="0.6"/><polygon points="514.5,150.7 518.7,149.6 516.5,146.8 512.3,147.9" fill="#1ee1ea" stroke="#1ee1ea" stroke-width="0.6"/><polygon points="512.3,147.9 516.5,146.8 514.3,143.9 510.1,145" fill="#1edff0" stroke="#1edff0" stroke-width="0.6"/><polygon points="510.1,145 514.3,143.9 512.1,141.1 507.9,142.2" fill="#1fd7f1" stroke="#1fd7f1" stroke-width="0.6"/><polygon points="507.9,142.2 512.1,141.1 509.9,138.2 505.7,139.3" fill="#20d0f2" stroke="#20d0f2" stroke-width="0.6"/><polygon points="505.7,139.3 509.9,138.2 507.8,135.3 503.6,136.4" fill="#20c9f2" stroke="#20c9f2" stroke-width="0.6"/><polygon points="503.6,136.4 507.8,135.3 505.6,132.5 501.4,133.5" fill="#21c3f3" stroke="#21c3f3" stroke-width="0.6"/><polygon points="501.4,133.5 505.6,132.5 503.4,129.6 499.2,130.6" fill="#22bcf4" stroke="#22bcf4" stroke-width="0.6"/><polygon points="499.2,130.6 503.4,129.6 501.2,126.7 497.1,127.7" fill="#22b5f4" stroke="#22b5f4" stroke-width="0.6"/><polygon points="497.1,127.7 501.2,126.7 499.1,123.8 494.9,124.8" fill="#23aff5" stroke="#23aff5" stroke-width="0.6"/><polygon points="494.9,124.8 499.1,123.8 496.9,120.9 492.8,121.8" fill="#24a9f6" stroke="#24a9f6" stroke-width="0.6"/><polygon points="492.8,121.8 496.9,120.9 494.8,118 490.6,118.9" fill="#24a3f6" stroke="#24a3f6" stroke-width="0.6"/><polygon points="490.6,118.9 494.8,118 492.6,115.1 488.5,116" fill="#259cf7" stroke="#259cf7" stroke-width="0.6"/><polygon points="592.6,237.4 597.2,235.5 594.8,232.8 590.1,234.7" fill="#edf014" stroke="#edf014" stroke-width="0.6"/><polygon points="590.1,234.7 594.8,232.8 592.3,230.2 587.7,232" fill="#def016" stroke="#def016" stroke-width="0.6"/><polygon points="587.7,232 592.3,230.2 589.9,227.5 585.3,229.3" fill="#d0f017" stroke="#d0f017" stroke-width="0.6"/><polygon points="585.3,229.3 589.9,227.5 587.5,224.8 582.9,226.6" fill="#c1f019" stroke="#c1f019" stroke-width="0.6"/><polygon points="582.9,226.6 587.5,224.8 585,222.2 580.5,223.9" fill="#b3f01a" stroke="#b3f01a" stroke-width="0.6"/><polygon points="580.5,223.9 585,222.2 582.6,219.5 578.1,221.2" fill="#a4f01c" stroke="#a4f01c" stroke-width="0.6"/><polygon points="578.1,221.2 582.6,219.5 580.2,216.8 575.7,218.5" fill="#96f01d" stroke="#96f01d" stroke-width="0.6"/><polygon points="575.7,218.5 580.2,216.8 577.9,214.1 573.3,215.8" fill="#88f01e" stroke="#88f01e" stroke-width="0.6"/><polygon points="573.3,215.8 577.9,214.1 575.5,211.4 571,213.1" fill="#7af020" stroke="#7af020" stroke-width="0.6"/><polygon points="571,213.1 575.5,211.4 573.1,208.7 568.6,210.4" fill="#6df021" stroke="#6df021" stroke-width="0.6"/><polygon points="568.6,210.4 573.1,208.7 570.8,206.1 566.3,207.7" fill="#5ff022" stroke="#5ff022" stroke-width="0.6"/><polygon points="566.3,207.7 570.8,206.1 568.4,203.4 563.9,205" fill="#52f024" stroke="#52f024" stroke-width="0.6"/><polygon points="563.9,205 568.4,203.4 566.1,200.7 561.6,202.3" fill="#45f025" stroke="#45f025" stroke-width="0.6"/><polygon points="561.6,202.3 566.1,200.7 563.7,197.9 559.3,199.5" fill="#38f026" stroke="#38f026" stroke-width="0.6"/><polygon points="559.3,199.5 563.7,197.9 561.4,195.2 557,196.8" fill="#2bf028" stroke="#2bf028" stroke-width="0.6"/><polygon points="557,196.8 561.4,195.2 559.1,192.5 554.7,194.1" fill="#27ef32" stroke="#27ef32" stroke-width="0.6"/><polygon points="554.7,194.1 559.1,192.5 556.8,189.8 552.4,191.3" fill="#27ee3f" stroke="#27ee3f" stroke-width="0.6"/><polygon points="552.4,191.3 556.8,189.8 554.5,187.1 550.1,188.6" fill="#26ed4b" stroke="#26ed4b" stroke-width="0.6"/><polygon points="550.1,188.6 554.5,187.1 552.2,184.4 547.8,185.8" fill="#26ec57" stroke="#26ec57" stroke-width="0.6"/><polygon points="547.8,185.8 552.2,184.4 549.9,181.6 545.5,183.1" fill="#25ec63" stroke="#25ec63" stroke-width="0.6"/><polygon points="545.5,183.1 549.9,181.6 547.6,178.9 543.2,180.3" fill="#24eb6f" stroke="#24eb6f" stroke-width="0.6"/><polygon points="543.2,180.3 547.6,178.9 545.3,176.2 541,177.6" fill="#24ea7b" stroke="#24ea7b" stroke-width="0.6"/><polygon points="541,177.6 545.3,176.2 543,173.4 538.7,174.8" fill="#23e986" stroke="#23e986" stroke-width="0.6"/><polygon points="538.7,174.8 543,173.4 540.8,170.7 536.5,172" fill="#23e892" stroke="#23e892" stroke-width="0.6"/><polygon points="536.5,172 540.8,170.7 538.5,167.9 534.2,169.2" fill="#22e79d" stroke="#22e79d" stroke-width="0.6"/><polygon points="534.2,169.2 538.5,167.9 536.3,165.1 532,166.4" fill="#22e6a8" stroke="#22e6a8" stroke-width="0.6"/><polygon points="532,166.4 536.3,165.1 534,162.4 529.8,163.7" fill="#21e6b3" stroke="#21e6b3" stroke-width="0.6"/><polygon points="529.8,163.7 534,162.4 531.8,159.6 527.5,160.9" fill="#21e5be" stroke="#21e5be" stroke-width="0.6"/><polygon points="527.5,160.9 531.8,159.6 529.6,156.8 525.3,158" fill="#20e4c9" stroke="#20e4c9" stroke-width="0.6"/><polygon points="525.3,158 529.6,156.8 527.4,154 523.1,155.2" fill="#1fe3d3" stroke="#1fe3d3" stroke-width="0.6"/><polygon points="523.1,155.2 527.4,154 525.1,151.2 520.9,152.4" fill="#1fe2dd" stroke="#1fe2dd" stroke-width="0.6"/><polygon points="520.9,152.4 525.1,151.2 522.9,148.4 518.7,149.6" fill="#1ee2e7" stroke="#1ee2e7" stroke-width="0.6"/><polygon points="518.7,149.6 522.9,148.4 520.7,145.6 516.5,146.8" fill="#1ee0f0" stroke="#1ee0f0" stroke-width="0.6"/><polygon points="516.5,146.8 520.7,145.6 518.5,142.8 514.3,143.9" fill="#1fd9f1" stroke="#1fd9f1" stroke-width="0.6"/><polygon points="514.3,143.9 518.5,142.8 516.3,140 512.1,141.1" fill="#20d1f2" stroke="#20d1f2" stroke-width="0.6"/><polygon points="512.1,141.1 516.3,140 514.1,137.1 509.9,138.2" fill="#20caf2" stroke="#20caf2" stroke-width="0.6"/><polygon points="509.9,138.2 514.1,137.1 511.9,134.3 507.8,135.3" fill="#21c3f3" stroke="#21c3f3" stroke-width="0.6"/><polygon points="507.8,135.3 511.9,134.3 509.8,131.4 505.6,132.5" fill="#22bcf4" stroke="#22bcf4" stroke-width="0.6"/><polygon points="505.6,132.5 509.8,131.4 507.6,128.6 503.4,129.6" fill="#22b6f4" stroke="#22b6f4" stroke-width="0.6"/><polygon points="503.4,129.6 507.6,128.6 505.4,125.7 501.2,126.7" fill="#23aff5" stroke="#23aff5" stroke-width="0.6"/><polygon points="501.2,126.7 505.4,125.7 503.2,122.8 499.1,123.8" fill="#24a8f6" stroke="#24a8f6" stroke-width="0.6"/><polygon points="499.1,123.8 503.2,122.8 501.1,120 496.9,120.9" fill="#24a2f6" stroke="#24a2f6" stroke-width="0.6"/><polygon points="496.9,120.9 501.1,120 498.9,117.1 494.8,118" fill="#259cf7" stroke="#259cf7" stroke-width="0.6"/><polygon points="494.8,118 498.9,117.1 496.8,114.2 492.6,115.1" fill="#2696f8" stroke="#2696f8" stroke-width="0.6"/><polygon points="597.2,235.5 601.9,233.6 599.4,230.9 594.8,232.8" fill="#eaf015" stroke="#eaf015" stroke-width="0.6"/><polygon points="594.8,232.8 599.4,230.9 596.9,228.3 592.3,230.2" fill="#daf016" stroke="#daf016" stroke-width="0.6"/><polygon points="592.3,230.2 596.9,228.3 594.5,225.7 589.9,227.5" fill="#ccf018" stroke="#ccf018" stroke-width="0.6"/><polygon points="589.9,227.5 594.5,225.7 592,223 587.5,224.8" fill="#bdf019" stroke="#bdf019" stroke-width="0.6"/><polygon points="587.5,224.8 592,223 589.6,220.4 585,222.2" fill="#aef01b" stroke="#aef01b" stroke-width="0.6"/><polygon points="585,222.2 589.6,220.4 587.2,217.7 582.6,219.5" fill="#a0f01c" stroke="#a0f01c" stroke-width="0.6"/><polygon points="582.6,219.5 587.2,217.7 584.8,215 580.2,216.8" fill="#92f01d" stroke="#92f01d" stroke-width="0.6"/><polygon points="580.2,216.8 584.8,215 582.4,212.4 577.9,214.1" fill="#83f01f" stroke="#83f01f" stroke-width="0.6"/><polygon points="577.9,214.1 582.4,212.4 580,209.7 575.5,211.4" fill="#75f020" stroke="#75f020" stroke-width="0.6"/><polygon points="575.5,211.4 580,209.7 577.6,207.1 573.1,208.7" fill="#68f022" stroke="#68f022" stroke-width="0.6"/><polygon points="573.1,208.7 577.6,207.1 575.2,204.4 570.8,206.1" fill="#5af023" stroke="#5af023" stroke-width="0.6"/><polygon points="570.8,206.1 575.2,204.4 572.9,201.7 568.4,203.4" fill="#4df024" stroke="#4df024" stroke-width="0.6"/><polygon points="568.4,203.4 572.9,201.7 570.5,199 566.1,200.7" fill="#3ff026" stroke="#3ff026" stroke-width="0.6"/><polygon points="566.1,200.7 570.5,199 568.2,196.3 563.7,197.9" fill="#32f027" stroke="#32f027" stroke-width="0.6"/><polygon points="563.7,197.9 568.2,196.3 565.8,193.7 561.4,195.2" fill="#28f02b" stroke="#28f02b" stroke-width="0.6"/><polygon points="561.4,195.2 565.8,193.7 563.5,191 559.1,192.5" fill="#27ef38" stroke="#27ef38" stroke-width="0.6"/><polygon points="559.1,192.5 563.5,191 561.2,188.3 556.8,189.8" fill="#27ee44" stroke="#27ee44" stroke-width="0.6"/><polygon points="556.8,189.8 561.2,188.3 558.8,185.6 554.5,187.1" fill="#26ed51" stroke="#26ed51" stroke-width="0.6"/><polygon points="554.5,187.1 558.8,185.6 556.5,182.9 552.2,184.4" fill="#25ec5d" stroke="#25ec5d" stroke-width="0.6"/><polygon points="552.2,184.4 556.5,182.9 554.2,180.2 549.9,181.6" fill="#25eb69" stroke="#25eb69" stroke-width="0.6"/><polygon points="549.9,181.6 554.2,180.2 551.9,177.4 547.6,178.9" fill="#24ea75" stroke="#24ea75" stroke-width="0.6"/><polygon points="547.6,178.9 551.9,177.4 549.6,174.7 545.3,176.2" fill="#24e981" stroke="#24e981" stroke-width="0.6"/><polygon points="545.3,176.2 549.6,174.7 547.4,172 543,173.4" fill="#23e88d" stroke="#23e88d" stroke-width="0.6"/><polygon points="543,173.4 547.4,172 545.1,169.3 540.8,170.7" fill="#22e898" stroke="#22e898" stroke-width="0.6"/><polygon points="540.8,170.7 545.1,169.3 542.8,166.5 538.5,167.9" fill="#22e7a4" stroke="#22e7a4" stroke-width="0.6"/><polygon points="538.5,167.9 542.8,166.5 540.6,163.8 536.3,165.1" fill="#21e6af" stroke="#21e6af" stroke-width="0.6"/><polygon points="536.3,165.1 540.6,163.8 538.3,161 534,162.4" fill="#21e5ba" stroke="#21e5ba" stroke-width="0.6"/><polygon points="534,162.4 538.3,161 536.1,158.3 531.8,159.6" fill="#20e4c5" stroke="#20e4c5" stroke-width="0.6"/><polygon points="531.8,159.6 536.1,158.3 533.8,155.5 529.6,156.8" fill="#20e3d0" stroke="#20e3d0" stroke-width="0.6"/><polygon points="529.6,156.8 533.8,155.5 531.6,152.8 527.4,154" fill="#1fe3da" stroke="#1fe3da" stroke-width="0.6"/><polygon points="527.4,154 531.6,152.8 529.4,150 525.1,151.2" fill="#1fe2e5" stroke="#1fe2e5" stroke-width="0.6"/><polygon points="525.1,151.2 529.4,150 527.1,147.2 522.9,148.4" fill="#1ee1ef" stroke="#1ee1ef" stroke-width="0.6"/><polygon points="522.9,148.4 527.1,147.2 524.9,144.4 520.7,145.6" fill="#1fdaf1" stroke="#1fdaf1" stroke-width="0.6"/><polygon points="520.7,145.6 524.9,144.4 522.7,141.6 518.5,142.8" fill="#1fd3f1" stroke="#1fd3f1" stroke-width="0.6"/><polygon points="518.5,142.8 522.7,141.6 520.5,138.8 516.3,140" fill="#20cbf2" stroke="#20cbf2" stroke-width="0.6"/><polygon points="516.3,140 520.5,138.8 518.3,136 514.1,137.1" fill="#21c4f3" stroke="#21c4f3" stroke-width="0.6"/><polygon points="514.1,137.1 518.3,136 516.1,133.2 511.9,134.3" fill="#22bdf4" stroke="#22bdf4" stroke-width="0.6"/><polygon points="511.9,134.3 516.1,133.2 513.9,130.4 509.8,131.4" fill="#22b6f4" stroke="#22b6f4" stroke-width="0.6"/><polygon points="509.8,131.4 513.9,130.4 511.7,127.5 507.6,128.6" fill="#23aff5" stroke="#23aff5" stroke-width="0.6"/><polygon points="507.6,128.6 511.7,127.5 509.6,124.7 505.4,125.7" fill="#24a9f6" stroke="#24a9f6" stroke-width="0.6"/><polygon points="505.4,125.7 509.6,124.7 507.4,121.8 503.2,122.8" fill="#24a2f6" stroke="#24a2f6" stroke-width="0.6"/><polygon points="503.2,122.8 507.4,121.8 505.2,119 501.1,120" fill="#259bf7" stroke="#259bf7" stroke-width="0.6"/><polygon points="501.1,120 505.2,119 503,116.1 498.9,117.1" fill="#2695f8" stroke="#2695f8" stroke-width="0.6"/><polygon points="498.9,117.1 503,116.1 500.9,113.2 496.8,114.2" fill="#268ff8" stroke="#268ff8" stroke-width="0.6"/><polygon points="601.9,233.6 606.5,231.7 604,229 599.4,230.9" fill="#e6f015" stroke="#e6f015" stroke-width="0.6"/><polygon points="599.4,230.9 604,229 601.5,226.4 596.9,228.3" fill="#d7f017" stroke="#d7f017" stroke-width="0.6"/><polygon points="596.9,228.3 601.5,226.4 599.1,223.8 594.5,225.7" fill="#c8f018" stroke="#c8f018" stroke-width="0.6"/><polygon points="594.5,225.7 599.1,223.8 596.6,221.2 592,223" fill="#b9f01a" stroke="#b9f01a" stroke-width="0.6"/><polygon points="592,223 596.6,221.2 594.2,218.5 589.6,220.4" fill="#aaf01b" stroke="#aaf01b" stroke-width="0.6"/><polygon points="589.6,220.4 594.2,218.5 591.7,215.9 587.2,217.7" fill="#9cf01c" stroke="#9cf01c" stroke-width="0.6"/><polygon points="587.2,217.7 591.7,215.9 589.3,213.3 584.8,215" fill="#8df01e" stroke="#8df01e" stroke-width="0.6"/><polygon points="584.8,215 589.3,213.3 586.9,210.6 582.4,212.4" fill="#7ff01f" stroke="#7ff01f" stroke-width="0.6"/><polygon points="582.4,212.4 586.9,210.6 584.5,208 580,209.7" fill="#71f021" stroke="#71f021" stroke-width="0.6"/><polygon points="580,209.7 584.5,208 582.1,205.3 577.6,207.1" fill="#63f022" stroke="#63f022" stroke-width="0.6"/><polygon points="577.6,207.1 582.1,205.3 579.7,202.7 575.2,204.4" fill="#55f023" stroke="#55f023" stroke-width="0.6"/><polygon points="575.2,204.4 579.7,202.7 577.3,200 572.9,201.7" fill="#48f025" stroke="#48f025" stroke-width="0.6"/><polygon points="572.9,201.7 577.3,200 574.9,197.4 570.5,199" fill="#3af026" stroke="#3af026" stroke-width="0.6"/><polygon points="570.5,199 574.9,197.4 572.6,194.7 568.2,196.3" fill="#2df027" stroke="#2df027" stroke-width="0.6"/><polygon points="568.2,196.3 572.6,194.7 570.2,192.1 565.8,193.7" fill="#28ef30" stroke="#28ef30" stroke-width="0.6"/><polygon points="565.8,193.7 570.2,192.1 567.9,189.4 563.5,191" fill="#27ee3d" stroke="#27ee3d" stroke-width="0.6"/><polygon points="563.5,191 567.9,189.4 565.5,186.7 561.2,188.3" fill="#26ed4a" stroke="#26ed4a" stroke-width="0.6"/><polygon points="561.2,188.3 565.5,186.7 563.2,184 558.8,185.6" fill="#26ed56" stroke="#26ed56" stroke-width="0.6"/><polygon points="558.8,185.6 563.2,184 560.9,181.4 556.5,182.9" fill="#25ec63" stroke="#25ec63" stroke-width="0.6"/><polygon points="556.5,182.9 560.9,181.4 558.6,178.7 554.2,180.2" fill="#24eb6f" stroke="#24eb6f" stroke-width="0.6"/><polygon points="554.2,180.2 558.6,178.7 556.3,176 551.9,177.4" fill="#24ea7b" stroke="#24ea7b" stroke-width="0.6"/><polygon points="551.9,177.4 556.3,176 554,173.3 549.6,174.7" fill="#23e987" stroke="#23e987" stroke-width="0.6"/><polygon points="549.6,174.7 554,173.3 551.7,170.6 547.4,172" fill="#23e893" stroke="#23e893" stroke-width="0.6"/><polygon points="547.4,172 551.7,170.6 549.4,167.9 545.1,169.3" fill="#22e79f" stroke="#22e79f" stroke-width="0.6"/><polygon points="545.1,169.3 549.4,167.9 547.1,165.2 542.8,166.5" fill="#21e6aa" stroke="#21e6aa" stroke-width="0.6"/><polygon points="542.8,166.5 547.1,165.2 544.8,162.4 540.6,163.8" fill="#21e5b6" stroke="#21e5b6" stroke-width="0.6"/><polygon points="540.6,163.8 544.8,162.4 542.6,159.7 538.3,161" fill="#20e5c1" stroke="#20e5c1" stroke-width="0.6"/><polygon points="538.3,161 542.6,159.7 540.3,157 536.1,158.3" fill="#20e4cc" stroke="#20e4cc" stroke-width="0.6"/><polygon points="536.1,158.3 540.3,157 538.1,154.2 533.8,155.5" fill="#1fe3d7" stroke="#1fe3d7" stroke-width="0.6"/><polygon points="533.8,155.5 538.1,154.2 535.8,151.5 531.6,152.8" fill="#1fe2e1" stroke="#1fe2e1" stroke-width="0.6"/><polygon points="531.6,152.8 535.8,151.5 533.6,148.7 529.4,150" fill="#1ee1ec" stroke="#1ee1ec" stroke-width="0.6"/><polygon points="529.4,150 533.6,148.7 531.4,146 527.1,147.2" fill="#1edcf0" stroke="#1edcf0" stroke-width="0.6"/><polygon points="527.1,147.2 531.4,146 529.1,143.2 524.9,144.4" fill="#1fd5f1" stroke="#1fd5f1" stroke-width="0.6"/><polygon points="524.9,144.4 529.1,143.2 526.9,140.4 522.7,141.6" fill="#20cdf2" stroke="#20cdf2" stroke-width="0.6"/><polygon points="522.7,141.6 526.9,140.4 524.7,137.7 520.5,138.8" fill="#21c6f3" stroke="#21c6f3" stroke-width="0.6"/><polygon points="520.5,138.8 524.7,137.7 522.5,134.9 518.3,136" fill="#21bef3" stroke="#21bef3" stroke-width="0.6"/><polygon points="518.3,136 522.5,134.9 520.3,132.1 516.1,133.2" fill="#22b7f4" stroke="#22b7f4" stroke-width="0.6"/><polygon points="516.1,133.2 520.3,132.1 518.1,129.3 513.9,130.4" fill="#23b0f5" stroke="#23b0f5" stroke-width="0.6"/><polygon points="513.9,130.4 518.1,129.3 515.9,126.5 511.7,127.5" fill="#24a9f6" stroke="#24a9f6" stroke-width="0.6"/><polygon points="511.7,127.5 515.9,126.5 513.7,123.7 509.6,124.7" fill="#24a2f6" stroke="#24a2f6" stroke-width="0.6"/><polygon points="509.6,124.7 513.7,123.7 511.5,120.8 507.4,121.8" fill="#259cf7" stroke="#259cf7" stroke-width="0.6"/><polygon points="507.4,121.8 511.5,120.8 509.3,118 505.2,119" fill="#2695f8" stroke="#2695f8" stroke-width="0.6"/><polygon points="505.2,119 509.3,118 507.2,115.1 503,116.1" fill="#268ff8" stroke="#268ff8" stroke-width="0.6"/><polygon points="503,116.1 507.2,115.1 505,112.3 500.9,113.2" fill="#2788f9" stroke="#2788f9" stroke-width="0.6"/><polygon points="606.5,231.7 611.2,229.7 608.6,227.1 604,229" fill="#e3f015" stroke="#e3f015" stroke-width="0.6"/><polygon points="604,229 608.6,227.1 606.2,224.5 601.5,226.4" fill="#d3f017" stroke="#d3f017" stroke-width="0.6"/><polygon points="601.5,226.4 606.2,224.5 603.7,221.9 599.1,223.8" fill="#c4f018" stroke="#c4f018" stroke-width="0.6"/><polygon points="599.1,223.8 603.7,221.9 601.2,219.3 596.6,221.2" fill="#b5f01a" stroke="#b5f01a" stroke-width="0.6"/><polygon points="596.6,221.2 601.2,219.3 598.7,216.7 594.2,218.5" fill="#a6f01b" stroke="#a6f01b" stroke-width="0.6"/><polygon points="594.2,218.5 598.7,216.7 596.3,214.1 591.7,215.9" fill="#98f01d" stroke="#98f01d" stroke-width="0.6"/><polygon points="591.7,215.9 596.3,214.1 593.8,211.5 589.3,213.3" fill="#89f01e" stroke="#89f01e" stroke-width="0.6"/><polygon points="589.3,213.3 593.8,211.5 591.4,208.8 586.9,210.6" fill="#7bf020" stroke="#7bf020" stroke-width="0.6"/><polygon points="586.9,210.6 591.4,208.8 589,206.2 584.5,208" fill="#6df021" stroke="#6df021" stroke-width="0.6"/><polygon points="584.5,208 589,206.2 586.6,203.6 582.1,205.3" fill="#5ff023" stroke="#5ff023" stroke-width="0.6"/><polygon points="582.1,205.3 586.6,203.6 584.2,201 579.7,202.7" fill="#51f024" stroke="#51f024" stroke-width="0.6"/><polygon points="579.7,202.7 584.2,201 581.8,198.3 577.3,200" fill="#43f025" stroke="#43f025" stroke-width="0.6"/><polygon points="577.3,200 581.8,198.3 579.4,195.7 574.9,197.4" fill="#36f027" stroke="#36f027" stroke-width="0.6"/><polygon points="574.9,197.4 579.4,195.7 577,193.1 572.6,194.7" fill="#28f028" stroke="#28f028" stroke-width="0.6"/><polygon points="572.6,194.7 577,193.1 574.6,190.4 570.2,192.1" fill="#27ef35" stroke="#27ef35" stroke-width="0.6"/><polygon points="570.2,192.1 574.6,190.4 572.3,187.8 567.9,189.4" fill="#27ee42" stroke="#27ee42" stroke-width="0.6"/><polygon points="567.9,189.4 572.3,187.8 569.9,185.1 565.5,186.7" fill="#26ed4f" stroke="#26ed4f" stroke-width="0.6"/><polygon points="565.5,186.7 569.9,185.1 567.6,182.5 563.2,184" fill="#25ec5c" stroke="#25ec5c" stroke-width="0.6"/><polygon points="563.2,184 567.6,182.5 565.2,179.8 560.9,181.4" fill="#25eb68" stroke="#25eb68" stroke-width="0.6"/><polygon points="560.9,181.4 565.2,179.8 562.9,177.2 558.6,178.7" fill="#24ea75" stroke="#24ea75" stroke-width="0.6"/><polygon points="558.6,178.7 562.9,177.2 560.6,174.5 556.3,176" fill="#24e981" stroke="#24e981" stroke-width="0.6"/><polygon points="556.3,176 560.6,174.5 558.3,171.8 554,173.3" fill="#23e88d" stroke="#23e88d" stroke-width="0.6"/><polygon points="554,173.3 558.3,171.8 556,169.1 551.7,170.6" fill="#22e899" stroke="#22e899" stroke-width="0.6"/><polygon points="551.7,170.6 556,169.1 553.7,166.4 549.4,167.9" fill="#22e7a5" stroke="#22e7a5" stroke-width="0.6"/><polygon points="549.4,167.9 553.7,166.4 551.4,163.8 547.1,165.2" fill="#21e6b0" stroke="#21e6b0" stroke-width="0.6"/><polygon points="547.1,165.2 551.4,163.8 549.1,161.1 544.8,162.4" fill="#21e5bc" stroke="#21e5bc" stroke-width="0.6"/><polygon points="544.8,162.4 549.1,161.1 546.8,158.4 542.6,159.7" fill="#20e4c7" stroke="#20e4c7" stroke-width="0.6"/><polygon points="542.6,159.7 546.8,158.4 544.6,155.6 540.3,157" fill="#1fe3d2" stroke="#1fe3d2" stroke-width="0.6"/><polygon points="540.3,157 544.6,155.6 542.3,152.9 538.1,154.2" fill="#1fe2dd" stroke="#1fe2dd" stroke-width="0.6"/><polygon points="538.1,154.2 542.3,152.9 540.1,150.2 535.8,151.5" fill="#1ee2e8" stroke="#1ee2e8" stroke-width="0.6"/><polygon points="535.8,151.5 540.1,150.2 537.8,147.5 533.6,148.7" fill="#1edff0" stroke="#1edff0" stroke-width="0.6"/><polygon points="533.6,148.7 537.8,147.5 535.6,144.7 531.4,146" fill="#1fd7f1" stroke="#1fd7f1" stroke-width="0.6"/><polygon points="531.4,146 535.6,144.7 533.3,142 529.1,143.2" fill="#20cff2" stroke="#20cff2" stroke-width="0.6"/><polygon points="529.1,143.2 533.3,142 531.1,139.2 526.9,140.4" fill="#21c8f3" stroke="#21c8f3" stroke-width="0.6"/><polygon points="526.9,140.4 531.1,139.2 528.9,136.5 524.7,137.7" fill="#21c0f3" stroke="#21c0f3" stroke-width="0.6"/><polygon points="524.7,137.7 528.9,136.5 526.7,133.7 522.5,134.9" fill="#22b9f4" stroke="#22b9f4" stroke-width="0.6"/><polygon points="522.5,134.9 526.7,133.7 524.4,131 520.3,132.1" fill="#23b2f5" stroke="#23b2f5" stroke-width="0.6"/><polygon points="520.3,132.1 524.4,131 522.2,128.2 518.1,129.3" fill="#23aaf5" stroke="#23aaf5" stroke-width="0.6"/><polygon points="518.1,129.3 522.2,128.2 520,125.4 515.9,126.5" fill="#24a3f6" stroke="#24a3f6" stroke-width="0.6"/><polygon points="515.9,126.5 520,125.4 517.8,122.6 513.7,123.7" fill="#259cf7" stroke="#259cf7" stroke-width="0.6"/><polygon points="513.7,123.7 517.8,122.6 515.6,119.8 511.5,120.8" fill="#2696f8" stroke="#2696f8" stroke-width="0.6"/><polygon points="511.5,120.8 515.6,119.8 513.5,117 509.3,118" fill="#268ff8" stroke="#268ff8" stroke-width="0.6"/><polygon points="509.3,118 513.5,117 511.3,114.1 507.2,115.1" fill="#2788f9" stroke="#2788f9" stroke-width="0.6"/><polygon points="507.2,115.1 511.3,114.1 509.1,111.3 505,112.3" fill="#2782f9" stroke="#2782f9" stroke-width="0.6"/><polygon points="611.2,229.7 615.8,227.7 613.3,225.2 608.6,227.1" fill="#e0f016" stroke="#e0f016" stroke-width="0.6"/><polygon points="608.6,227.1 613.3,225.2 610.8,222.6 606.2,224.5" fill="#d0f017" stroke="#d0f017" stroke-width="0.6"/><polygon points="606.2,224.5 610.8,222.6 608.3,220 603.7,221.9" fill="#c1f019" stroke="#c1f019" stroke-width="0.6"/><polygon points="603.7,221.9 608.3,220 605.8,217.4 601.2,219.3" fill="#b2f01a" stroke="#b2f01a" stroke-width="0.6"/><polygon points="601.2,219.3 605.8,217.4 603.3,214.8 598.7,216.7" fill="#a3f01c" stroke="#a3f01c" stroke-width="0.6"/><polygon points="598.7,216.7 603.3,214.8 600.8,212.2 596.3,214.1" fill="#94f01d" stroke="#94f01d" stroke-width="0.6"/><polygon points="596.3,214.1 600.8,212.2 598.4,209.6 593.8,211.5" fill="#86f01f" stroke="#86f01f" stroke-width="0.6"/><polygon points="593.8,211.5 598.4,209.6 595.9,207 591.4,208.8" fill="#77f020" stroke="#77f020" stroke-width="0.6"/><polygon points="591.4,208.8 595.9,207 593.5,204.4 589,206.2" fill="#69f022" stroke="#69f022" stroke-width="0.6"/><polygon points="589,206.2 593.5,204.4 591.1,201.8 586.6,203.6" fill="#5bf023" stroke="#5bf023" stroke-width="0.6"/><polygon points="586.6,203.6 591.1,201.8 588.6,199.2 584.2,201" fill="#4df024" stroke="#4df024" stroke-width="0.6"/><polygon points="584.2,201 588.6,199.2 586.2,196.6 581.8,198.3" fill="#3ff026" stroke="#3ff026" stroke-width="0.6"/><polygon points="581.8,198.3 586.2,196.6 583.8,194 579.4,195.7" fill="#31f027" stroke="#31f027" stroke-width="0.6"/><polygon points="579.4,195.7 583.8,194 581.4,191.4 577,193.1" fill="#28f02c" stroke="#28f02c" stroke-width="0.6"/><polygon points="577,193.1 581.4,191.4 579,188.8 574.6,190.4" fill="#27ef3a" stroke="#27ef3a" stroke-width="0.6"/><polygon points="574.6,190.4 579,188.8 576.7,186.2 572.3,187.8" fill="#26ee47" stroke="#26ee47" stroke-width="0.6"/><polygon points="572.3,187.8 576.7,186.2 574.3,183.5 569.9,185.1" fill="#26ed54" stroke="#26ed54" stroke-width="0.6"/><polygon points="569.9,185.1 574.3,183.5 571.9,180.9 567.6,182.5" fill="#25ec61" stroke="#25ec61" stroke-width="0.6"/><polygon points="567.6,182.5 571.9,180.9 569.6,178.3 565.2,179.8" fill="#25eb6d" stroke="#25eb6d" stroke-width="0.6"/><polygon points="565.2,179.8 569.6,178.3 567.3,175.6 562.9,177.2" fill="#24ea7a" stroke="#24ea7a" stroke-width="0.6"/><polygon points="562.9,177.2 567.3,175.6 564.9,173 560.6,174.5" fill="#23e986" stroke="#23e986" stroke-width="0.6"/><polygon points="560.6,174.5 564.9,173 562.6,170.3 558.3,171.8" fill="#23e892" stroke="#23e892" stroke-width="0.6"/><polygon points="558.3,171.8 562.6,170.3 560.3,167.7 556,169.1" fill="#22e79f" stroke="#22e79f" stroke-width="0.6"/><polygon points="556,169.1 560.3,167.7 558,165 553.7,166.4" fill="#21e6aa" stroke="#21e6aa" stroke-width="0.6"/><polygon points="553.7,166.4 558,165 555.7,162.3 551.4,163.8" fill="#21e5b6" stroke="#21e5b6" stroke-width="0.6"/><polygon points="551.4,163.8 555.7,162.3 553.4,159.7 549.1,161.1" fill="#20e4c2" stroke="#20e4c2" stroke-width="0.6"/><polygon points="549.1,161.1 553.4,159.7 551.1,157 546.8,158.4" fill="#20e4cd" stroke="#20e4cd" stroke-width="0.6"/><polygon points="546.8,158.4 551.1,157 548.8,154.3 544.6,155.6" fill="#1fe3d8" stroke="#1fe3d8" stroke-width="0.6"/><polygon points="544.6,155.6 548.8,154.3 546.5,151.6 542.3,152.9" fill="#1fe2e4" stroke="#1fe2e4" stroke-width="0.6"/><polygon points="542.3,152.9 546.5,151.6 544.3,148.9 540.1,150.2" fill="#1ee1ee" stroke="#1ee1ee" stroke-width="0.6"/><polygon points="540.1,150.2 544.3,148.9 542,146.2 537.8,147.5" fill="#1fdaf1" stroke="#1fdaf1" stroke-width="0.6"/><polygon points="537.8,147.5 542,146.2 539.8,143.5 535.6,144.7" fill="#1fd2f1" stroke="#1fd2f1" stroke-width="0.6"/><polygon points="535.6,144.7 539.8,143.5 537.5,140.8 533.3,142" fill="#20caf2" stroke="#20caf2" stroke-width="0.6"/><polygon points="533.3,142 537.5,140.8 535.3,138 531.1,139.2" fill="#21c3f3" stroke="#21c3f3" stroke-width="0.6"/><polygon points="531.1,139.2 535.3,138 533,135.3 528.9,136.5" fill="#22bbf4" stroke="#22bbf4" stroke-width="0.6"/><polygon points="528.9,136.5 533,135.3 530.8,132.5 526.7,133.7" fill="#23b3f5" stroke="#23b3f5" stroke-width="0.6"/><polygon points="526.7,133.7 530.8,132.5 528.6,129.8 524.4,131" fill="#23acf5" stroke="#23acf5" stroke-width="0.6"/><polygon points="524.4,131 528.6,129.8 526.4,127 522.2,128.2" fill="#24a5f6" stroke="#24a5f6" stroke-width="0.6"/><polygon points="522.2,128.2 526.4,127 524.2,124.3 520,125.4" fill="#259ef7" stroke="#259ef7" stroke-width="0.6"/><polygon points="520,125.4 524.2,124.3 522,121.5 517.8,122.6" fill="#2597f7" stroke="#2597f7" stroke-width="0.6"/><polygon points="517.8,122.6 522,121.5 519.8,118.7 515.6,119.8" fill="#2690f8" stroke="#2690f8" stroke-width="0.6"/><polygon points="515.6,119.8 519.8,118.7 517.6,115.9 513.5,117" fill="#2789f9" stroke="#2789f9" stroke-width="0.6"/><polygon points="513.5,117 517.6,115.9 515.4,113.1 511.3,114.1" fill="#2782f9" stroke="#2782f9" stroke-width="0.6"/><polygon points="511.3,114.1 515.4,113.1 513.2,110.3 509.1,111.3" fill="#287cfa" stroke="#287cfa" stroke-width="0.6"/><polygon points="615.8,227.7 620.4,225.7 617.9,223.2 613.3,225.2" fill="#ddf016" stroke="#ddf016" stroke-width="0.6"/><polygon points="613.3,225.2 617.9,223.2 615.4,220.6 610.8,222.6" fill="#cef017" stroke="#cef017" stroke-width="0.6"/><polygon points="610.8,222.6 615.4,220.6 612.9,218.1 608.3,220" fill="#bef019" stroke="#bef019" stroke-width="0.6"/><polygon points="608.3,220 612.9,218.1 610.4,215.5 605.8,217.4" fill="#aff01b" stroke="#aff01b" stroke-width="0.6"/><polygon points="605.8,217.4 610.4,215.5 607.9,212.9 603.3,214.8" fill="#a0f01c" stroke="#a0f01c" stroke-width="0.6"/><polygon points="603.3,214.8 607.9,212.9 605.4,210.4 600.8,212.2" fill="#91f01d" stroke="#91f01d" stroke-width="0.6"/><polygon points="600.8,212.2 605.4,210.4 602.9,207.8 598.4,209.6" fill="#82f01f" stroke="#82f01f" stroke-width="0.6"/><polygon points="598.4,209.6 602.9,207.8 600.4,205.2 595.9,207" fill="#74f020" stroke="#74f020" stroke-width="0.6"/><polygon points="595.9,207 600.4,205.2 598,202.7 593.5,204.4" fill="#65f022" stroke="#65f022" stroke-width="0.6"/><polygon points="593.5,204.4 598,202.7 595.5,200.1 591.1,201.8" fill="#57f023" stroke="#57f023" stroke-width="0.6"/><polygon points="591.1,201.8 595.5,200.1 593.1,197.5 588.6,199.2" fill="#49f025" stroke="#49f025" stroke-width="0.6"/><polygon points="588.6,199.2 593.1,197.5 590.7,194.9 586.2,196.6" fill="#3bf026" stroke="#3bf026" stroke-width="0.6"/><polygon points="586.2,196.6 590.7,194.9 588.3,192.3 583.8,194" fill="#2df027" stroke="#2df027" stroke-width="0.6"/><polygon points="583.8,194 588.3,192.3 585.8,189.7 581.4,191.4" fill="#28ef30" stroke="#28ef30" stroke-width="0.6"/><polygon points="581.4,191.4 585.8,189.7 583.5,187.1 579,188.8" fill="#27ee3e" stroke="#27ee3e" stroke-width="0.6"/><polygon points="579,188.8 583.5,187.1 581.1,184.5 576.7,186.2" fill="#26ed4b" stroke="#26ed4b" stroke-width="0.6"/><polygon points="576.7,186.2 581.1,184.5 578.7,181.9 574.3,183.5" fill="#26ec58" stroke="#26ec58" stroke-width="0.6"/><polygon points="574.3,183.5 578.7,181.9 576.3,179.3 571.9,180.9" fill="#25eb65" stroke="#25eb65" stroke-width="0.6"/><polygon points="571.9,180.9 576.3,179.3 573.9,176.7 569.6,178.3" fill="#24ea72" stroke="#24ea72" stroke-width="0.6"/><polygon points="569.6,178.3 573.9,176.7 571.6,174.1 567.3,175.6" fill="#24e97f" stroke="#24e97f" stroke-width="0.6"/><polygon points="567.3,175.6 571.6,174.1 569.2,171.4 564.9,173" fill="#23e98b" stroke="#23e98b" stroke-width="0.6"/><polygon points="564.9,173 569.2,171.4 566.9,168.8 562.6,170.3" fill="#22e898" stroke="#22e898" stroke-width="0.6"/><polygon points="562.6,170.3 566.9,168.8 564.6,166.2 560.3,167.7" fill="#22e7a4" stroke="#22e7a4" stroke-width="0.6"/><polygon points="560.3,167.7 564.6,166.2 562.3,163.5 558,165" fill="#21e6b0" stroke="#21e6b0" stroke-width="0.6"/><polygon points="558,165 562.3,163.5 559.9,160.9 555.7,162.3" fill="#21e5bc" stroke="#21e5bc" stroke-width="0.6"/><polygon points="555.7,162.3 559.9,160.9 557.6,158.2 553.4,159.7" fill="#20e4c7" stroke="#20e4c7" stroke-width="0.6"/><polygon points="553.4,159.7 557.6,158.2 555.3,155.6 551.1,157" fill="#1fe3d3" stroke="#1fe3d3" stroke-width="0.6"/><polygon points="551.1,157 555.3,155.6 553.1,152.9 548.8,154.3" fill="#1fe2de" stroke="#1fe2de" stroke-width="0.6"/><polygon points="548.8,154.3 553.1,152.9 550.8,150.2 546.5,151.6" fill="#1ee1ea" stroke="#1ee1ea" stroke-width="0.6"/><polygon points="546.5,151.6 550.8,150.2 548.5,147.6 544.3,148.9" fill="#1edef0" stroke="#1edef0" stroke-width="0.6"/><polygon points="544.3,148.9 548.5,147.6 546.2,144.9 542,146.2" fill="#1fd5f1" stroke="#1fd5f1" stroke-width="0.6"/><polygon points="542,146.2 546.2,144.9 544,142.2 539.8,143.5" fill="#20cdf2" stroke="#20cdf2" stroke-width="0.6"/><polygon points="539.8,143.5 544,142.2 541.7,139.5 537.5,140.8" fill="#21c5f3" stroke="#21c5f3" stroke-width="0.6"/><polygon points="537.5,140.8 541.7,139.5 539.5,136.8 535.3,138" fill="#22bef4" stroke="#22bef4" stroke-width="0.6"/><polygon points="535.3,138 539.5,136.8 537.2,134.1 533,135.3" fill="#22b6f4" stroke="#22b6f4" stroke-width="0.6"/><polygon points="533,135.3 537.2,134.1 535,131.3 530.8,132.5" fill="#23aef5" stroke="#23aef5" stroke-width="0.6"/><polygon points="530.8,132.5 535,131.3 532.7,128.6 528.6,129.8" fill="#24a7f6" stroke="#24a7f6" stroke-width="0.6"/><polygon points="528.6,129.8 532.7,128.6 530.5,125.9 526.4,127" fill="#25a0f7" stroke="#25a0f7" stroke-width="0.6"/><polygon points="526.4,127 530.5,125.9 528.3,123.1 524.2,124.3" fill="#2598f7" stroke="#2598f7" stroke-width="0.6"/><polygon points="524.2,124.3 528.3,123.1 526.1,120.4 522,121.5" fill="#2691f8" stroke="#2691f8" stroke-width="0.6"/><polygon points="522,121.5 526.1,120.4 523.9,117.6 519.8,118.7" fill="#278af9" stroke="#278af9" stroke-width="0.6"/><polygon points="519.8,118.7 523.9,117.6 521.7,114.9 517.6,115.9" fill="#2783f9" stroke="#2783f9" stroke-width="0.6"/><polygon points="517.6,115.9 521.7,114.9 519.5,112.1 515.4,113.1" fill="#287dfa" stroke="#287dfa" stroke-width="0.6"/><polygon points="515.4,113.1 519.5,112.1 517.3,109.3 513.2,110.3" fill="#2976fb" stroke="#2976fb" stroke-width="0.6"/><polygon points="620.4,225.7 625.1,223.7 622.5,221.2 617.9,223.2" fill="#dbf016" stroke="#dbf016" stroke-width="0.6"/><polygon points="617.9,223.2 622.5,221.2 620,218.6 615.4,220.6" fill="#cbf018" stroke="#cbf018" stroke-width="0.6"/><polygon points="615.4,220.6 620,218.6 617.5,216.1 612.9,218.1" fill="#bcf019" stroke="#bcf019" stroke-width="0.6"/><polygon points="612.9,218.1 617.5,216.1 614.9,213.6 610.4,215.5" fill="#acf01b" stroke="#acf01b" stroke-width="0.6"/><polygon points="610.4,215.5 614.9,213.6 612.4,211 607.9,212.9" fill="#9df01c" stroke="#9df01c" stroke-width="0.6"/><polygon points="607.9,212.9 612.4,211 609.9,208.5 605.4,210.4" fill="#8ef01e" stroke="#8ef01e" stroke-width="0.6"/><polygon points="605.4,210.4 609.9,208.5 607.4,205.9 602.9,207.8" fill="#7ff01f" stroke="#7ff01f" stroke-width="0.6"/><polygon points="602.9,207.8 607.4,205.9 604.9,203.4 600.4,205.2" fill="#70f021" stroke="#70f021" stroke-width="0.6"/><polygon points="600.4,205.2 604.9,203.4 602.5,200.8 598,202.7" fill="#62f022" stroke="#62f022" stroke-width="0.6"/><polygon points="598,202.7 602.5,200.8 600,198.3 595.5,200.1" fill="#54f024" stroke="#54f024" stroke-width="0.6"/><polygon points="595.5,200.1 600,198.3 597.6,195.7 593.1,197.5" fill="#45f025" stroke="#45f025" stroke-width="0.6"/><polygon points="593.1,197.5 597.6,195.7 595.1,193.2 590.7,194.9" fill="#37f026" stroke="#37f026" stroke-width="0.6"/><polygon points="590.7,194.9 595.1,193.2 592.7,190.6 588.3,192.3" fill="#29f028" stroke="#29f028" stroke-width="0.6"/><polygon points="588.3,192.3 592.7,190.6 590.3,188 585.8,189.7" fill="#27ef34" stroke="#27ef34" stroke-width="0.6"/><polygon points="585.8,189.7 590.3,188 587.9,185.4 583.5,187.1" fill="#27ee42" stroke="#27ee42" stroke-width="0.6"/><polygon points="583.5,187.1 587.9,185.4 585.4,182.9 581.1,184.5" fill="#26ed4f" stroke="#26ed4f" stroke-width="0.6"/><polygon points="581.1,184.5 585.4,182.9 583.1,180.3 578.7,181.9" fill="#25ec5d" stroke="#25ec5d" stroke-width="0.6"/><polygon points="578.7,181.9 583.1,180.3 580.7,177.7 576.3,179.3" fill="#25eb6a" stroke="#25eb6a" stroke-width="0.6"/><polygon points="576.3,179.3 580.7,177.7 578.3,175.1 573.9,176.7" fill="#24ea77" stroke="#24ea77" stroke-width="0.6"/><polygon points="573.9,176.7 578.3,175.1 575.9,172.5 571.6,174.1" fill="#23e983" stroke="#23e983" stroke-width="0.6"/><polygon points="571.6,174.1 575.9,172.5 573.6,169.9 569.2,171.4" fill="#23e890" stroke="#23e890" stroke-width="0.6"/><polygon points="569.2,171.4 573.6,169.9 571.2,167.3 566.9,168.8" fill="#22e79d" stroke="#22e79d" stroke-width="0.6"/><polygon points="566.9,168.8 571.2,167.3 568.9,164.7 564.6,166.2" fill="#22e6a9" stroke="#22e6a9" stroke-width="0.6"/><polygon points="564.6,166.2 568.9,164.7 566.5,162 562.3,163.5" fill="#21e5b5" stroke="#21e5b5" stroke-width="0.6"/><polygon points="562.3,163.5 566.5,162 564.2,159.4 559.9,160.9" fill="#20e5c1" stroke="#20e5c1" stroke-width="0.6"/><polygon points="559.9,160.9 564.2,159.4 561.9,156.8 557.6,158.2" fill="#20e4cd" stroke="#20e4cd" stroke-width="0.6"/><polygon points="557.6,158.2 561.9,156.8 559.6,154.1 555.3,155.6" fill="#1fe3d8" stroke="#1fe3d8" stroke-width="0.6"/><polygon points="555.3,155.6 559.6,154.1 557.3,151.5 553.1,152.9" fill="#1fe2e4" stroke="#1fe2e4" stroke-width="0.6"/><polygon points="553.1,152.9 557.3,151.5 555,148.9 550.8,150.2" fill="#1ee1ef" stroke="#1ee1ef" stroke-width="0.6"/><polygon points="550.8,150.2 555,148.9 552.7,146.2 548.5,147.6" fill="#1fd9f1" stroke="#1fd9f1" stroke-width="0.6"/><polygon points="548.5,147.6 552.7,146.2 550.4,143.5 546.2,144.9" fill="#20d1f2" stroke="#20d1f2" stroke-width="0.6"/><polygon points="546.2,144.9 550.4,143.5 548.1,140.9 544,142.2" fill="#20c9f2" stroke="#20c9f2" stroke-width="0.6"/><polygon points="544,142.2 548.1,140.9 545.9,138.2 541.7,139.5" fill="#21c1f3" stroke="#21c1f3" stroke-width="0.6"/><polygon points="541.7,139.5 545.9,138.2 543.6,135.5 539.5,136.8" fill="#22b9f4" stroke="#22b9f4" stroke-width="0.6"/><polygon points="539.5,136.8 543.6,135.5 541.4,132.8 537.2,134.1" fill="#23b1f5" stroke="#23b1f5" stroke-width="0.6"/><polygon points="537.2,134.1 541.4,132.8 539.1,130.1 535,131.3" fill="#24a9f6" stroke="#24a9f6" stroke-width="0.6"/><polygon points="535,131.3 539.1,130.1 536.9,127.4 532.7,128.6" fill="#24a2f6" stroke="#24a2f6" stroke-width="0.6"/><polygon points="532.7,128.6 536.9,127.4 534.6,124.7 530.5,125.9" fill="#259af7" stroke="#259af7" stroke-width="0.6"/><polygon points="530.5,125.9 534.6,124.7 532.4,122 528.3,123.1" fill="#2693f8" stroke="#2693f8" stroke-width="0.6"/><polygon points="528.3,123.1 532.4,122 530.2,119.2 526.1,120.4" fill="#278cf9" stroke="#278cf9" stroke-width="0.6"/><polygon points="526.1,120.4 530.2,119.2 528,116.5 523.9,117.6" fill="#2785f9" stroke="#2785f9" stroke-width="0.6"/><polygon points="523.9,117.6 528,116.5 525.8,113.8 521.7,114.9" fill="#287efa" stroke="#287efa" stroke-width="0.6"/><polygon points="521.7,114.9 525.8,113.8 523.6,111 519.5,112.1" fill="#2977fb" stroke="#2977fb" stroke-width="0.6"/><polygon points="519.5,112.1 523.6,111 521.4,108.2 517.3,109.3" fill="#2970fb" stroke="#2970fb" stroke-width="0.6"/><polygon points="625.1,223.7 629.7,221.7 627.2,219.2 622.5,221.2" fill="#d9f016" stroke="#d9f016" stroke-width="0.6"/><polygon points="622.5,221.2 627.2,219.2 624.6,216.7 620,218.6" fill="#c9f018" stroke="#c9f018" stroke-width="0.6"/><polygon points="620,218.6 624.6,216.7 622,214.1 617.5,216.1" fill="#b9f019" stroke="#b9f019" stroke-width="0.6"/><polygon points="617.5,216.1 622,214.1 619.5,211.6 614.9,213.6" fill="#aaf01b" stroke="#aaf01b" stroke-width="0.6"/><polygon points="614.9,213.6 619.5,211.6 617,209.1 612.4,211" fill="#9af01d" stroke="#9af01d" stroke-width="0.6"/><polygon points="612.4,211 617,209.1 614.5,206.6 609.9,208.5" fill="#8bf01e" stroke="#8bf01e" stroke-width="0.6"/><polygon points="609.9,208.5 614.5,206.6 611.9,204.1 607.4,205.9" fill="#7cf020" stroke="#7cf020" stroke-width="0.6"/><polygon points="607.4,205.9 611.9,204.1 609.4,201.5 604.9,203.4" fill="#6ef021" stroke="#6ef021" stroke-width="0.6"/><polygon points="604.9,203.4 609.4,201.5 607,199 602.5,200.8" fill="#5ff023" stroke="#5ff023" stroke-width="0.6"/><polygon points="602.5,200.8 607,199 604.5,196.5 600,198.3" fill="#50f024" stroke="#50f024" stroke-width="0.6"/><polygon points="600,198.3 604.5,196.5 602,193.9 597.6,195.7" fill="#42f025" stroke="#42f025" stroke-width="0.6"/><polygon points="597.6,195.7 602,193.9 599.6,191.4 595.1,193.2" fill="#34f027" stroke="#34f027" stroke-width="0.6"/><polygon points="595.1,193.2 599.6,191.4 597.1,188.8 592.7,190.6" fill="#28f02a" stroke="#28f02a" stroke-width="0.6"/><polygon points="592.7,190.6 597.1,188.8 594.7,186.3 590.3,188" fill="#27ef38" stroke="#27ef38" stroke-width="0.6"/><polygon points="590.3,188 594.7,186.3 592.2,183.7 587.9,185.4" fill="#27ee46" stroke="#27ee46" stroke-width="0.6"/><polygon points="587.9,185.4 592.2,183.7 589.8,181.2 585.4,182.9" fill="#26ed53" stroke="#26ed53" stroke-width="0.6"/><polygon points="585.4,182.9 589.8,181.2 587.4,178.6 583.1,180.3" fill="#25ec61" stroke="#25ec61" stroke-width="0.6"/><polygon points="583.1,180.3 587.4,178.6 585,176 580.7,177.7" fill="#25eb6e" stroke="#25eb6e" stroke-width="0.6"/><polygon points="580.7,177.7 585,176 582.6,173.5 578.3,175.1" fill="#24ea7b" stroke="#24ea7b" stroke-width="0.6"/><polygon points="578.3,175.1 582.6,173.5 580.3,170.9 575.9,172.5" fill="#23e988" stroke="#23e988" stroke-width="0.6"/><polygon points="575.9,172.5 580.3,170.9 577.9,168.3 573.6,169.9" fill="#23e895" stroke="#23e895" stroke-width="0.6"/><polygon points="573.6,169.9 577.9,168.3 575.5,165.7 571.2,167.3" fill="#22e7a1" stroke="#22e7a1" stroke-width="0.6"/><polygon points="571.2,167.3 575.5,165.7 573.2,163.1 568.9,164.7" fill="#21e6ae" stroke="#21e6ae" stroke-width="0.6"/><polygon points="568.9,164.7 573.2,163.1 570.8,160.5 566.5,162" fill="#21e5ba" stroke="#21e5ba" stroke-width="0.6"/><polygon points="566.5,162 570.8,160.5 568.5,157.9 564.2,159.4" fill="#20e4c6" stroke="#20e4c6" stroke-width="0.6"/><polygon points="564.2,159.4 568.5,157.9 566.1,155.3 561.9,156.8" fill="#20e3d2" stroke="#20e3d2" stroke-width="0.6"/><polygon points="561.9,156.8 566.1,155.3 563.8,152.7 559.6,154.1" fill="#1fe2de" stroke="#1fe2de" stroke-width="0.6"/><polygon points="559.6,154.1 563.8,152.7 561.5,150.1 557.3,151.5" fill="#1ee2e9" stroke="#1ee2e9" stroke-width="0.6"/><polygon points="557.3,151.5 561.5,150.1 559.2,147.5 555,148.9" fill="#1eddf0" stroke="#1eddf0" stroke-width="0.6"/><polygon points="555,148.9 559.2,147.5 556.9,144.8 552.7,146.2" fill="#1fd5f1" stroke="#1fd5f1" stroke-width="0.6"/><polygon points="552.7,146.2 556.9,144.8 554.6,142.2 550.4,143.5" fill="#20cdf2" stroke="#20cdf2" stroke-width="0.6"/><polygon points="550.4,143.5 554.6,142.2 552.3,139.5 548.1,140.9" fill="#21c4f3" stroke="#21c4f3" stroke-width="0.6"/><polygon points="548.1,140.9 552.3,139.5 550,136.9 545.9,138.2" fill="#22bcf4" stroke="#22bcf4" stroke-width="0.6"/><polygon points="545.9,138.2 550,136.9 547.8,134.2 543.6,135.5" fill="#22b4f4" stroke="#22b4f4" stroke-width="0.6"/><polygon points="543.6,135.5 547.8,134.2 545.5,131.5 541.4,132.8" fill="#23acf5" stroke="#23acf5" stroke-width="0.6"/><polygon points="541.4,132.8 545.5,131.5 543.3,128.9 539.1,130.1" fill="#24a5f6" stroke="#24a5f6" stroke-width="0.6"/><polygon points="539.1,130.1 543.3,128.9 541,126.2 536.9,127.4" fill="#259df7" stroke="#259df7" stroke-width="0.6"/><polygon points="536.9,127.4 541,126.2 538.8,123.5 534.6,124.7" fill="#2696f8" stroke="#2696f8" stroke-width="0.6"/><polygon points="534.6,124.7 538.8,123.5 536.5,120.8 532.4,122" fill="#268ef8" stroke="#268ef8" stroke-width="0.6"/><polygon points="532.4,122 536.5,120.8 534.3,118.1 530.2,119.2" fill="#2787f9" stroke="#2787f9" stroke-width="0.6"/><polygon points="530.2,119.2 534.3,118.1 532.1,115.4 528,116.5" fill="#2880fa" stroke="#2880fa" stroke-width="0.6"/><polygon points="528,116.5 532.1,115.4 529.8,112.6 525.8,113.8" fill="#2879fa" stroke="#2879fa" stroke-width="0.6"/><polygon points="525.8,113.8 529.8,112.6 527.6,109.9 523.6,111" fill="#2972fb" stroke="#2972fb" stroke-width="0.6"/><polygon points="523.6,111 527.6,109.9 525.4,107.2 521.4,108.2" fill="#2a6bfc" stroke="#2a6bfc" stroke-width="0.6"/><polygon points="629.7,221.7 634.4,219.6 631.8,217.1 627.2,219.2" fill="#d7f017" stroke="#d7f017" stroke-width="0.6"/><polygon points="627.2,219.2 631.8,217.1 629.2,214.6 624.6,216.7" fill="#c7f018" stroke="#c7f018" stroke-width="0.6"/><polygon points="624.6,216.7 629.2,214.6 626.6,212.1 622,214.1" fill="#b7f01a" stroke="#b7f01a" stroke-width="0.6"/><polygon points="622,214.1 626.6,212.1 624.1,209.6 619.5,211.6" fill="#a8f01b" stroke="#a8f01b" stroke-width="0.6"/><polygon points="619.5,211.6 624.1,209.6 621.5,207.1 617,209.1" fill="#98f01d" stroke="#98f01d" stroke-width="0.6"/><polygon points="617,209.1 621.5,207.1 619,204.6 614.5,206.6" fill="#89f01e" stroke="#89f01e" stroke-width="0.6"/><polygon points="614.5,206.6 619,204.6 616.5,202.1 611.9,204.1" fill="#7af020" stroke="#7af020" stroke-width="0.6"/><polygon points="611.9,204.1 616.5,202.1 614,199.6 609.4,201.5" fill="#6bf021" stroke="#6bf021" stroke-width="0.6"/><polygon points="609.4,201.5 614,199.6 611.5,197.1 607,199" fill="#5cf023" stroke="#5cf023" stroke-width="0.6"/><polygon points="607,199 611.5,197.1 609,194.6 604.5,196.5" fill="#4df024" stroke="#4df024" stroke-width="0.6"/><polygon points="604.5,196.5 609,194.6 606.5,192.1 602,193.9" fill="#3ff026" stroke="#3ff026" stroke-width="0.6"/><polygon points="602,193.9 606.5,192.1 604,189.6 599.6,191.4" fill="#31f027" stroke="#31f027" stroke-width="0.6"/><polygon points="599.6,191.4 604,189.6 601.5,187.1 597.1,188.8" fill="#28f02d" stroke="#28f02d" stroke-width="0.6"/><polygon points="597.1,188.8 601.5,187.1 599.1,184.5 594.7,186.3" fill="#27ef3b" stroke="#27ef3b" stroke-width="0.6"/><polygon points="594.7,186.3 599.1,184.5 596.6,182 592.2,183.7" fill="#26ee49" stroke="#26ee49" stroke-width="0.6"/><polygon points="592.2,183.7 596.6,182 594.2,179.5 589.8,181.2" fill="#26ec57" stroke="#26ec57" stroke-width="0.6"/><polygon points="589.8,181.2 594.2,179.5 591.8,176.9 587.4,178.6" fill="#25eb64" stroke="#25eb64" stroke-width="0.6"/><polygon points="587.4,178.6 591.8,176.9 589.4,174.4 585,176" fill="#24ea72" stroke="#24ea72" stroke-width="0.6"/><polygon points="585,176 589.4,174.4 587,171.8 582.6,173.5" fill="#24e97f" stroke="#24e97f" stroke-width="0.6"/><polygon points="582.6,173.5 587,171.8 584.6,169.3 580.3,170.9" fill="#23e98c" stroke="#23e98c" stroke-width="0.6"/><polygon points="580.3,170.9 584.6,169.3 582.2,166.7 577.9,168.3" fill="#22e899" stroke="#22e899" stroke-width="0.6"/><polygon points="577.9,168.3 582.2,166.7 579.8,164.1 575.5,165.7" fill="#22e7a5" stroke="#22e7a5" stroke-width="0.6"/><polygon points="575.5,165.7 579.8,164.1 577.4,161.6 573.2,163.1" fill="#21e6b2" stroke="#21e6b2" stroke-width="0.6"/><polygon points="573.2,163.1 577.4,161.6 575.1,159 570.8,160.5" fill="#20e5be" stroke="#20e5be" stroke-width="0.6"/><polygon points="570.8,160.5 575.1,159 572.7,156.4 568.5,157.9" fill="#20e4cb" stroke="#20e4cb" stroke-width="0.6"/><polygon points="568.5,157.9 572.7,156.4 570.4,153.8 566.1,155.3" fill="#1fe3d7" stroke="#1fe3d7" stroke-width="0.6"/><polygon points="566.1,155.3 570.4,153.8 568.1,151.2 563.8,152.7" fill="#1fe2e3" stroke="#1fe2e3" stroke-width="0.6"/><polygon points="563.8,152.7 568.1,151.2 565.7,148.6 561.5,150.1" fill="#1ee1ee" stroke="#1ee1ee" stroke-width="0.6"/><polygon points="561.5,150.1 565.7,148.6 563.4,146 559.2,147.5" fill="#1fdaf1" stroke="#1fdaf1" stroke-width="0.6"/><polygon points="559.2,147.5 563.4,146 561.1,143.4 556.9,144.8" fill="#20d1f2" stroke="#20d1f2" stroke-width="0.6"/><polygon points="556.9,144.8 561.1,143.4 558.8,140.8 554.6,142.2" fill="#20c9f2" stroke="#20c9f2" stroke-width="0.6"/><polygon points="554.6,142.2 558.8,140.8 556.5,138.2 552.3,139.5" fill="#21c0f3" stroke="#21c0f3" stroke-width="0.6"/><polygon points="552.3,139.5 556.5,138.2 554.2,135.5 550,136.9" fill="#22b8f4" stroke="#22b8f4" stroke-width="0.6"/><polygon points="550,136.9 554.2,135.5 551.9,132.9 547.8,134.2" fill="#23b0f5" stroke="#23b0f5" stroke-width="0.6"/><polygon points="547.8,134.2 551.9,132.9 549.7,130.3 545.5,131.5" fill="#24a8f6" stroke="#24a8f6" stroke-width="0.6"/><polygon points="545.5,131.5 549.7,130.3 547.4,127.6 543.3,128.9" fill="#24a0f6" stroke="#24a0f6" stroke-width="0.6"/><polygon points="543.3,128.9 547.4,127.6 545.1,124.9 541,126.2" fill="#2598f7" stroke="#2598f7" stroke-width="0.6"/><polygon points="541,126.2 545.1,124.9 542.9,122.3 538.8,123.5" fill="#2691f8" stroke="#2691f8" stroke-width="0.6"/><polygon points="538.8,123.5 542.9,122.3 540.6,119.6 536.5,120.8" fill="#2789f9" stroke="#2789f9" stroke-width="0.6"/><polygon points="536.5,120.8 540.6,119.6 538.4,116.9 534.3,118.1" fill="#2782f9" stroke="#2782f9" stroke-width="0.6"/><polygon points="534.3,118.1 538.4,116.9 536.2,114.2 532.1,115.4" fill="#287bfa" stroke="#287bfa" stroke-width="0.6"/><polygon points="532.1,115.4 536.2,114.2 533.9,111.5 529.8,112.6" fill="#2974fb" stroke="#2974fb" stroke-width="0.6"/><polygon points="529.8,112.6 533.9,111.5 531.7,108.8 527.6,109.9" fill="#2a6dfc" stroke="#2a6dfc" stroke-width="0.6"/><polygon points="527.6,109.9 531.7,108.8 529.5,106.1 525.4,107.2" fill="#2a66fc" stroke="#2a66fc" stroke-width="0.6"/><polygon points="634.4,219.6 639,217.5 636.4,215.1 631.8,217.1" fill="#d5f017" stroke="#d5f017" stroke-width="0.6"/><polygon points="631.8,217.1 636.4,215.1 633.8,212.6 629.2,214.6" fill="#c5f018" stroke="#c5f018" stroke-width="0.6"/><polygon points="629.2,214.6 633.8,212.6 631.2,210.1 626.6,212.1" fill="#b5f01a" stroke="#b5f01a" stroke-width="0.6"/><polygon points="626.6,212.1 631.2,210.1 628.7,207.7 624.1,209.6" fill="#a6f01b" stroke="#a6f01b" stroke-width="0.6"/><polygon points="624.1,209.6 628.7,207.7 626.1,205.2 621.5,207.1" fill="#96f01d" stroke="#96f01d" stroke-width="0.6"/><polygon points="621.5,207.1 626.1,205.2 623.5,202.7 619,204.6" fill="#87f01f" stroke="#87f01f" stroke-width="0.6"/><polygon points="619,204.6 623.5,202.7 621,200.2 616.5,202.1" fill="#78f020" stroke="#78f020" stroke-width="0.6"/><polygon points="616.5,202.1 621,200.2 618.5,197.7 614,199.6" fill="#68f022" stroke="#68f022" stroke-width="0.6"/><polygon points="614,199.6 618.5,197.7 615.9,195.2 611.5,197.1" fill="#5af023" stroke="#5af023" stroke-width="0.6"/><polygon points="611.5,197.1 615.9,195.2 613.4,192.8 609,194.6" fill="#4bf025" stroke="#4bf025" stroke-width="0.6"/><polygon points="609,194.6 613.4,192.8 610.9,190.3 606.5,192.1" fill="#3cf026" stroke="#3cf026" stroke-width="0.6"/><polygon points="606.5,192.1 610.9,190.3 608.4,187.8 604,189.6" fill="#2ef027" stroke="#2ef027" stroke-width="0.6"/><polygon points="604,189.6 608.4,187.8 606,185.3 601.5,187.1" fill="#28ef30" stroke="#28ef30" stroke-width="0.6"/><polygon points="601.5,187.1 606,185.3 603.5,182.7 599.1,184.5" fill="#27ee3f" stroke="#27ee3f" stroke-width="0.6"/><polygon points="599.1,184.5 603.5,182.7 601,180.2 596.6,182" fill="#26ed4c" stroke="#26ed4c" stroke-width="0.6"/><polygon points="596.6,182 601,180.2 598.6,177.7 594.2,179.5" fill="#25ec5a" stroke="#25ec5a" stroke-width="0.6"/><polygon points="594.2,179.5 598.6,177.7 596.2,175.2 591.8,176.9" fill="#25eb68" stroke="#25eb68" stroke-width="0.6"/><polygon points="591.8,176.9 596.2,175.2 593.7,172.7 589.4,174.4" fill="#24ea75" stroke="#24ea75" stroke-width="0.6"/><polygon points="589.4,174.4 593.7,172.7 591.3,170.2 587,171.8" fill="#23e983" stroke="#23e983" stroke-width="0.6"/><polygon points="587,171.8 591.3,170.2 588.9,167.6 584.6,169.3" fill="#23e890" stroke="#23e890" stroke-width="0.6"/><polygon points="584.6,169.3 588.9,167.6 586.5,165.1 582.2,166.7" fill="#22e79d" stroke="#22e79d" stroke-width="0.6"/><polygon points="582.2,166.7 586.5,165.1 584.1,162.5 579.8,164.1" fill="#22e6aa" stroke="#22e6aa" stroke-width="0.6"/><polygon points="579.8,164.1 584.1,162.5 581.7,160 577.4,161.6" fill="#21e5b6" stroke="#21e5b6" stroke-width="0.6"/><polygon points="577.4,161.6 581.7,160 579.4,157.4 575.1,159" fill="#20e4c3" stroke="#20e4c3" stroke-width="0.6"/><polygon points="575.1,159 579.4,157.4 577,154.9 572.7,156.4" fill="#20e3cf" stroke="#20e3cf" stroke-width="0.6"/><polygon points="572.7,156.4 577,154.9 574.6,152.3 570.4,153.8" fill="#1fe3db" stroke="#1fe3db" stroke-width="0.6"/><polygon points="570.4,153.8 574.6,152.3 572.3,149.7 568.1,151.2" fill="#1ee2e7" stroke="#1ee2e7" stroke-width="0.6"/><polygon points="568.1,151.2 572.3,149.7 570,147.2 565.7,148.6" fill="#1edff0" stroke="#1edff0" stroke-width="0.6"/><polygon points="565.7,148.6 570,147.2 567.6,144.6 563.4,146" fill="#1fd6f1" stroke="#1fd6f1" stroke-width="0.6"/><polygon points="563.4,146 567.6,144.6 565.3,142 561.1,143.4" fill="#20cdf2" stroke="#20cdf2" stroke-width="0.6"/><polygon points="561.1,143.4 565.3,142 563,139.4 558.8,140.8" fill="#21c5f3" stroke="#21c5f3" stroke-width="0.6"/><polygon points="558.8,140.8 563,139.4 560.7,136.8 556.5,138.2" fill="#22bcf4" stroke="#22bcf4" stroke-width="0.6"/><polygon points="556.5,138.2 560.7,136.8 558.4,134.2 554.2,135.5" fill="#22b4f4" stroke="#22b4f4" stroke-width="0.6"/><polygon points="554.2,135.5 558.4,134.2 556.1,131.6 551.9,132.9" fill="#23acf5" stroke="#23acf5" stroke-width="0.6"/><polygon points="551.9,132.9 556.1,131.6 553.8,128.9 549.7,130.3" fill="#24a4f6" stroke="#24a4f6" stroke-width="0.6"/><polygon points="549.7,130.3 553.8,128.9 551.5,126.3 547.4,127.6" fill="#259cf7" stroke="#259cf7" stroke-width="0.6"/><polygon points="547.4,127.6 551.5,126.3 549.3,123.7 545.1,124.9" fill="#2694f8" stroke="#2694f8" stroke-width="0.6"/><polygon points="545.1,124.9 549.3,123.7 547,121 542.9,122.3" fill="#268cf8" stroke="#268cf8" stroke-width="0.6"/><polygon points="542.9,122.3 547,121 544.7,118.4 540.6,119.6" fill="#2785f9" stroke="#2785f9" stroke-width="0.6"/><polygon points="540.6,119.6 544.7,118.4 542.5,115.7 538.4,116.9" fill="#287dfa" stroke="#287dfa" stroke-width="0.6"/><polygon points="538.4,116.9 542.5,115.7 540.2,113 536.2,114.2" fill="#2976fb" stroke="#2976fb" stroke-width="0.6"/><polygon points="536.2,114.2 540.2,113 538,110.3 533.9,111.5" fill="#296ffb" stroke="#296ffb" stroke-width="0.6"/><polygon points="533.9,111.5 538,110.3 535.8,107.7 531.7,108.8" fill="#2a68fc" stroke="#2a68fc" stroke-width="0.6"/><polygon points="531.7,108.8 535.8,107.7 533.5,105 529.5,106.1" fill="#2b61fd" stroke="#2b61fd" stroke-width="0.6"/><polygon points="639,217.5 643.7,215.4 641.1,213 636.4,215.1" fill="#d4f017" stroke="#d4f017" stroke-width="0.6"/><polygon points="636.4,215.1 641.1,213 638.4,210.5 633.8,212.6" fill="#c4f018" stroke="#c4f018" stroke-width="0.6"/><polygon points="633.8,212.6 638.4,210.5 635.8,208.1 631.2,210.1" fill="#b4f01a" stroke="#b4f01a" stroke-width="0.6"/><polygon points="631.2,210.1 635.8,208.1 633.2,205.6 628.7,207.7" fill="#a4f01c" stroke="#a4f01c" stroke-width="0.6"/><polygon points="628.7,207.7 633.2,205.6 630.7,203.2 626.1,205.2" fill="#94f01d" stroke="#94f01d" stroke-width="0.6"/><polygon points="626.1,205.2 630.7,203.2 628.1,200.7 623.5,202.7" fill="#85f01f" stroke="#85f01f" stroke-width="0.6"/><polygon points="623.5,202.7 628.1,200.7 625.5,198.3 621,200.2" fill="#76f020" stroke="#76f020" stroke-width="0.6"/><polygon points="621,200.2 625.5,198.3 623,195.8 618.5,197.7" fill="#66f022" stroke="#66f022" stroke-width="0.6"/><polygon points="618.5,197.7 623,195.8 620.4,193.3 615.9,195.2" fill="#57f023" stroke="#57f023" stroke-width="0.6"/><polygon points="615.9,195.2 620.4,193.3 617.9,190.9 613.4,192.8" fill="#48f025" stroke="#48f025" stroke-width="0.6"/><polygon points="613.4,192.8 617.9,190.9 615.4,188.4 610.9,190.3" fill="#3af026" stroke="#3af026" stroke-width="0.6"/><polygon points="610.9,190.3 615.4,188.4 612.9,185.9 608.4,187.8" fill="#2bf028" stroke="#2bf028" stroke-width="0.6"/><polygon points="608.4,187.8 612.9,185.9 610.4,183.4 606,185.3" fill="#27ef33" stroke="#27ef33" stroke-width="0.6"/><polygon points="606,185.3 610.4,183.4 607.9,181 603.5,182.7" fill="#27ee41" stroke="#27ee41" stroke-width="0.6"/><polygon points="603.5,182.7 607.9,181 605.4,178.5 601,180.2" fill="#26ed4f" stroke="#26ed4f" stroke-width="0.6"/><polygon points="601,180.2 605.4,178.5 603,176 598.6,177.7" fill="#25ec5d" stroke="#25ec5d" stroke-width="0.6"/><polygon points="598.6,177.7 603,176 600.5,173.5 596.2,175.2" fill="#25eb6b" stroke="#25eb6b" stroke-width="0.6"/><polygon points="596.2,175.2 600.5,173.5 598.1,171 593.7,172.7" fill="#24ea79" stroke="#24ea79" stroke-width="0.6"/><polygon points="593.7,172.7 598.1,171 595.6,168.5 591.3,170.2" fill="#23e986" stroke="#23e986" stroke-width="0.6"/><polygon points="591.3,170.2 595.6,168.5 593.2,166 588.9,167.6" fill="#23e893" stroke="#23e893" stroke-width="0.6"/><polygon points="588.9,167.6 593.2,166 590.8,163.4 586.5,165.1" fill="#22e7a0" stroke="#22e7a0" stroke-width="0.6"/><polygon points="586.5,165.1 590.8,163.4 588.4,160.9 584.1,162.5" fill="#21e6ad" stroke="#21e6ad" stroke-width="0.6"/><polygon points="584.1,162.5 588.4,160.9 586,158.4 581.7,160" fill="#21e5ba" stroke="#21e5ba" stroke-width="0.6"/><polygon points="581.7,160 586,158.4 583.6,155.9 579.4,157.4" fill="#20e4c7" stroke="#20e4c7" stroke-width="0.6"/><polygon points="579.4,157.4 583.6,155.9 581.2,153.3 577,154.9" fill="#1fe3d3" stroke="#1fe3d3" stroke-width="0.6"/><polygon points="577,154.9 581.2,153.3 578.9,150.8 574.6,152.3" fill="#1fe2df" stroke="#1fe2df" stroke-width="0.6"/><polygon points="574.6,152.3 578.9,150.8 576.5,148.2 572.3,149.7" fill="#1ee1ec" stroke="#1ee1ec" stroke-width="0.6"/><polygon points="572.3,149.7 576.5,148.2 574.2,145.7 570,147.2" fill="#1fdbf1" stroke="#1fdbf1" stroke-width="0.6"/><polygon points="570,147.2 574.2,145.7 571.8,143.1 567.6,144.6" fill="#1fd2f1" stroke="#1fd2f1" stroke-width="0.6"/><polygon points="567.6,144.6 571.8,143.1 569.5,140.5 565.3,142" fill="#20caf2" stroke="#20caf2" stroke-width="0.6"/><polygon points="565.3,142 569.5,140.5 567.2,138 563,139.4" fill="#21c1f3" stroke="#21c1f3" stroke-width="0.6"/><polygon points="563,139.4 567.2,138 564.8,135.4 560.7,136.8" fill="#22b9f4" stroke="#22b9f4" stroke-width="0.6"/><polygon points="560.7,136.8 564.8,135.4 562.5,132.8 558.4,134.2" fill="#23b0f5" stroke="#23b0f5" stroke-width="0.6"/><polygon points="558.4,134.2 562.5,132.8 560.2,130.2 556.1,131.6" fill="#24a8f6" stroke="#24a8f6" stroke-width="0.6"/><polygon points="556.1,131.6 560.2,130.2 557.9,127.6 553.8,128.9" fill="#25a0f7" stroke="#25a0f7" stroke-width="0.6"/><polygon points="553.8,128.9 557.9,127.6 555.6,125 551.5,126.3" fill="#2598f7" stroke="#2598f7" stroke-width="0.6"/><polygon points="551.5,126.3 555.6,125 553.4,122.4 549.3,123.7" fill="#2690f8" stroke="#2690f8" stroke-width="0.6"/><polygon points="549.3,123.7 553.4,122.4 551.1,119.7 547,121" fill="#2788f9" stroke="#2788f9" stroke-width="0.6"/><polygon points="547,121 551.1,119.7 548.8,117.1 544.7,118.4" fill="#2880fa" stroke="#2880fa" stroke-width="0.6"/><polygon points="544.7,118.4 548.8,117.1 546.6,114.5 542.5,115.7" fill="#2879fa" stroke="#2879fa" stroke-width="0.6"/><polygon points="542.5,115.7 546.6,114.5 544.3,111.8 540.2,113" fill="#2972fb" stroke="#2972fb" stroke-width="0.6"/><polygon points="540.2,113 544.3,111.8 542.1,109.2 538,110.3" fill="#2a6afc" stroke="#2a6afc" stroke-width="0.6"/><polygon points="538,110.3 542.1,109.2 539.8,106.5 535.8,107.7" fill="#2b63fd" stroke="#2b63fd" stroke-width="0.6"/><polygon points="535.8,107.7 539.8,106.5 537.6,103.8 533.5,105" fill="#2b5cfd" stroke="#2b5cfd" stroke-width="0.6"/><polygon points="643.7,215.4 648.4,213.3 645.7,210.9 641.1,213" fill="#d3f017" stroke="#d3f017" stroke-width="0.6"/><polygon points="641.1,213 645.7,210.9 643.1,208.5 638.4,210.5" fill="#c3f019" stroke="#c3f019" stroke-width="0.6"/><polygon points="638.4,210.5 643.1,208.5 640.4,206 635.8,208.1" fill="#b3f01a" stroke="#b3f01a" stroke-width="0.6"/><polygon points="635.8,208.1 640.4,206 637.8,203.6 633.2,205.6" fill="#a3f01c" stroke="#a3f01c" stroke-width="0.6"/><polygon points="633.2,205.6 637.8,203.6 635.2,201.2 630.7,203.2" fill="#93f01d" stroke="#93f01d" stroke-width="0.6"/><polygon points="630.7,203.2 635.2,201.2 632.6,198.7 628.1,200.7" fill="#83f01f" stroke="#83f01f" stroke-width="0.6"/><polygon points="628.1,200.7 632.6,198.7 630,196.3 625.5,198.3" fill="#74f020" stroke="#74f020" stroke-width="0.6"/><polygon points="625.5,198.3 630,196.3 627.5,193.9 623,195.8" fill="#65f022" stroke="#65f022" stroke-width="0.6"/><polygon points="623,195.8 627.5,193.9 624.9,191.4 620.4,193.3" fill="#55f023" stroke="#55f023" stroke-width="0.6"/><polygon points="620.4,193.3 624.9,191.4 622.4,189 617.9,190.9" fill="#46f025" stroke="#46f025" stroke-width="0.6"/><polygon points="617.9,190.9 622.4,189 619.8,186.5 615.4,188.4" fill="#38f026" stroke="#38f026" stroke-width="0.6"/><polygon points="615.4,188.4 619.8,186.5 617.3,184.1 612.9,185.9" fill="#29f028" stroke="#29f028" stroke-width="0.6"/><polygon points="612.9,185.9 617.3,184.1 614.8,181.6 610.4,183.4" fill="#27ef36" stroke="#27ef36" stroke-width="0.6"/><polygon points="610.4,183.4 614.8,181.6 612.3,179.1 607.9,181" fill="#27ee44" stroke="#27ee44" stroke-width="0.6"/><polygon points="607.9,181 612.3,179.1 609.8,176.7 605.4,178.5" fill="#26ed52" stroke="#26ed52" stroke-width="0.6"/><polygon points="605.4,178.5 609.8,176.7 607.3,174.2 603,176" fill="#25ec60" stroke="#25ec60" stroke-width="0.6"/><polygon points="603,176 607.3,174.2 604.9,171.7 600.5,173.5" fill="#25eb6e" stroke="#25eb6e" stroke-width="0.6"/><polygon points="600.5,173.5 604.9,171.7 602.4,169.2 598.1,171" fill="#24ea7c" stroke="#24ea7c" stroke-width="0.6"/><polygon points="598.1,171 602.4,169.2 600,166.8 595.6,168.5" fill="#23e989" stroke="#23e989" stroke-width="0.6"/><polygon points="595.6,168.5 600,166.8 597.5,164.3 593.2,166" fill="#22e897" stroke="#22e897" stroke-width="0.6"/><polygon points="593.2,166 597.5,164.3 595.1,161.8 590.8,163.4" fill="#22e7a4" stroke="#22e7a4" stroke-width="0.6"/><polygon points="590.8,163.4 595.1,161.8 592.7,159.3 588.4,160.9" fill="#21e6b1" stroke="#21e6b1" stroke-width="0.6"/><polygon points="588.4,160.9 592.7,159.3 590.3,156.8 586,158.4" fill="#21e5be" stroke="#21e5be" stroke-width="0.6"/><polygon points="586,158.4 590.3,156.8 587.9,154.3 583.6,155.9" fill="#20e4ca" stroke="#20e4ca" stroke-width="0.6"/><polygon points="583.6,155.9 587.9,154.3 585.5,151.7 581.2,153.3" fill="#1fe3d7" stroke="#1fe3d7" stroke-width="0.6"/><polygon points="581.2,153.3 585.5,151.7 583.1,149.2 578.9,150.8" fill="#1fe2e3" stroke="#1fe2e3" stroke-width="0.6"/><polygon points="578.9,150.8 583.1,149.2 580.7,146.7 576.5,148.2" fill="#1ee1f0" stroke="#1ee1f0" stroke-width="0.6"/><polygon points="576.5,148.2 580.7,146.7 578.4,144.2 574.2,145.7" fill="#1fd8f1" stroke="#1fd8f1" stroke-width="0.6"/><polygon points="574.2,145.7 578.4,144.2 576,141.6 571.8,143.1" fill="#20cff2" stroke="#20cff2" stroke-width="0.6"/><polygon points="571.8,143.1 576,141.6 573.7,139.1 569.5,140.5" fill="#21c6f3" stroke="#21c6f3" stroke-width="0.6"/><polygon points="569.5,140.5 573.7,139.1 571.3,136.5 567.2,138" fill="#22bef4" stroke="#22bef4" stroke-width="0.6"/><polygon points="567.2,138 571.3,136.5 569,134 564.8,135.4" fill="#22b5f4" stroke="#22b5f4" stroke-width="0.6"/><polygon points="564.8,135.4 569,134 566.7,131.4 562.5,132.8" fill="#23adf5" stroke="#23adf5" stroke-width="0.6"/><polygon points="562.5,132.8 566.7,131.4 564.4,128.8 560.2,130.2" fill="#24a4f6" stroke="#24a4f6" stroke-width="0.6"/><polygon points="560.2,130.2 564.4,128.8 562.1,126.2 557.9,127.6" fill="#259cf7" stroke="#259cf7" stroke-width="0.6"/><polygon points="557.9,127.6 562.1,126.2 559.8,123.6 555.6,125" fill="#2694f8" stroke="#2694f8" stroke-width="0.6"/><polygon points="555.6,125 559.8,123.6 557.5,121 553.4,122.4" fill="#278cf9" stroke="#278cf9" stroke-width="0.6"/><polygon points="553.4,122.4 557.5,121 555.2,118.4 551.1,119.7" fill="#2784f9" stroke="#2784f9" stroke-width="0.6"/><polygon points="551.1,119.7 555.2,118.4 552.9,115.8 548.8,117.1" fill="#287cfa" stroke="#287cfa" stroke-width="0.6"/><polygon points="548.8,117.1 552.9,115.8 550.6,113.2 546.6,114.5" fill="#2975fb" stroke="#2975fb" stroke-width="0.6"/><polygon points="546.6,114.5 550.6,113.2 548.4,110.6 544.3,111.8" fill="#2a6dfc" stroke="#2a6dfc" stroke-width="0.6"/><polygon points="544.3,111.8 548.4,110.6 546.1,107.9 542.1,109.2" fill="#2a66fc" stroke="#2a66fc" stroke-width="0.6"/><polygon points="542.1,109.2 546.1,107.9 543.9,105.3 539.8,106.5" fill="#2b5ffd" stroke="#2b5ffd" stroke-width="0.6"/><polygon points="539.8,106.5 543.9,105.3 541.6,102.7 537.6,103.8" fill="#2c57fe" stroke="#2c57fe" stroke-width="0.6"/><polygon points="648.4,213.3 653,211.2 650.3,208.8 645.7,210.9" fill="#d2f017" stroke="#d2f017" stroke-width="0.6"/><polygon points="645.7,210.9 650.3,208.8 647.7,206.4 643.1,208.5" fill="#c2f019" stroke="#c2f019" stroke-width="0.6"/><polygon points="643.1,208.5 647.7,206.4 645,204 640.4,206" fill="#b2f01a" stroke="#b2f01a" stroke-width="0.6"/><polygon points="640.4,206 645,204 642.4,201.5 637.8,203.6" fill="#a2f01c" stroke="#a2f01c" stroke-width="0.6"/><polygon points="637.8,203.6 642.4,201.5 639.8,199.1 635.2,201.2" fill="#92f01d" stroke="#92f01d" stroke-width="0.6"/><polygon points="635.2,201.2 639.8,199.1 637.2,196.7 632.6,198.7" fill="#82f01f" stroke="#82f01f" stroke-width="0.6"/><polygon points="632.6,198.7 637.2,196.7 634.6,194.3 630,196.3" fill="#72f021" stroke="#72f021" stroke-width="0.6"/><polygon points="630,196.3 634.6,194.3 632,191.9 627.5,193.9" fill="#63f022" stroke="#63f022" stroke-width="0.6"/><polygon points="627.5,193.9 632,191.9 629.4,189.5 624.9,191.4" fill="#54f024" stroke="#54f024" stroke-width="0.6"/><polygon points="624.9,191.4 629.4,189.5 626.9,187 622.4,189" fill="#45f025" stroke="#45f025" stroke-width="0.6"/><polygon points="622.4,189 626.9,187 624.3,184.6 619.8,186.5" fill="#36f027" stroke="#36f027" stroke-width="0.6"/><polygon points="619.8,186.5 624.3,184.6 621.8,182.2 617.3,184.1" fill="#28f029" stroke="#28f029" stroke-width="0.6"/><polygon points="617.3,184.1 621.8,182.2 619.2,179.7 614.8,181.6" fill="#27ef38" stroke="#27ef38" stroke-width="0.6"/><polygon points="614.8,181.6 619.2,179.7 616.7,177.3 612.3,179.1" fill="#26ee46" stroke="#26ee46" stroke-width="0.6"/><polygon points="612.3,179.1 616.7,177.3 614.2,174.8 609.8,176.7" fill="#26ed54" stroke="#26ed54" stroke-width="0.6"/><polygon points="609.8,176.7 614.2,174.8 611.7,172.4 607.3,174.2" fill="#25ec63" stroke="#25ec63" stroke-width="0.6"/><polygon points="607.3,174.2 611.7,172.4 609.2,169.9 604.9,171.7" fill="#24eb71" stroke="#24eb71" stroke-width="0.6"/><polygon points="604.9,171.7 609.2,169.9 606.8,167.5 602.4,169.2" fill="#24ea7e" stroke="#24ea7e" stroke-width="0.6"/><polygon points="602.4,169.2 606.8,167.5 604.3,165 600,166.8" fill="#23e98c" stroke="#23e98c" stroke-width="0.6"/><polygon points="600,166.8 604.3,165 601.9,162.5 597.5,164.3" fill="#22e799" stroke="#22e799" stroke-width="0.6"/><polygon points="597.5,164.3 601.9,162.5 599.4,160.1 595.1,161.8" fill="#22e6a7" stroke="#22e6a7" stroke-width="0.6"/><polygon points="595.1,161.8 599.4,160.1 597,157.6 592.7,159.3" fill="#21e6b4" stroke="#21e6b4" stroke-width="0.6"/><polygon points="592.7,159.3 597,157.6 594.6,155.1 590.3,156.8" fill="#20e5c1" stroke="#20e5c1" stroke-width="0.6"/><polygon points="590.3,156.8 594.6,155.1 592.1,152.6 587.9,154.3" fill="#20e4ce" stroke="#20e4ce" stroke-width="0.6"/><polygon points="587.9,154.3 592.1,152.6 589.7,150.1 585.5,151.7" fill="#1fe3db" stroke="#1fe3db" stroke-width="0.6"/><polygon points="585.5,151.7 589.7,150.1 587.3,147.6 583.1,149.2" fill="#1ee2e7" stroke="#1ee2e7" stroke-width="0.6"/><polygon points="583.1,149.2 587.3,147.6 585,145.1 580.7,146.7" fill="#1edef0" stroke="#1edef0" stroke-width="0.6"/><polygon points="580.7,146.7 585,145.1 582.6,142.6 578.4,144.2" fill="#1fd5f1" stroke="#1fd5f1" stroke-width="0.6"/><polygon points="578.4,144.2 582.6,142.6 580.2,140.1 576,141.6" fill="#20ccf2" stroke="#20ccf2" stroke-width="0.6"/><polygon points="576,141.6 580.2,140.1 577.9,137.6 573.7,139.1" fill="#21c3f3" stroke="#21c3f3" stroke-width="0.6"/><polygon points="573.7,139.1 577.9,137.6 575.5,135 571.3,136.5" fill="#22baf4" stroke="#22baf4" stroke-width="0.6"/><polygon points="571.3,136.5 575.5,135 573.2,132.5 569,134" fill="#23b2f5" stroke="#23b2f5" stroke-width="0.6"/><polygon points="569,134 573.2,132.5 570.8,130 566.7,131.4" fill="#24a9f6" stroke="#24a9f6" stroke-width="0.6"/><polygon points="566.7,131.4 570.8,130 568.5,127.4 564.4,128.8" fill="#24a1f6" stroke="#24a1f6" stroke-width="0.6"/><polygon points="564.4,128.8 568.5,127.4 566.2,124.8 562.1,126.2" fill="#2599f7" stroke="#2599f7" stroke-width="0.6"/><polygon points="562.1,126.2 566.2,124.8 563.9,122.3 559.8,123.6" fill="#2690f8" stroke="#2690f8" stroke-width="0.6"/><polygon points="559.8,123.6 563.9,122.3 561.6,119.7 557.5,121" fill="#2788f9" stroke="#2788f9" stroke-width="0.6"/><polygon points="557.5,121 561.6,119.7 559.3,117.1 555.2,118.4" fill="#2880fa" stroke="#2880fa" stroke-width="0.6"/><polygon points="555.2,118.4 559.3,117.1 557,114.5 552.9,115.8" fill="#2878fa" stroke="#2878fa" stroke-width="0.6"/><polygon points="552.9,115.8 557,114.5 554.7,111.9 550.6,113.2" fill="#2971fb" stroke="#2971fb" stroke-width="0.6"/><polygon points="550.6,113.2 554.7,111.9 552.4,109.3 548.4,110.6" fill="#2a69fc" stroke="#2a69fc" stroke-width="0.6"/><polygon points="548.4,110.6 552.4,109.3 550.2,106.7 546.1,107.9" fill="#2b62fd" stroke="#2b62fd" stroke-width="0.6"/><polygon points="546.1,107.9 550.2,106.7 547.9,104.1 543.9,105.3" fill="#2b5afd" stroke="#2b5afd" stroke-width="0.6"/><polygon points="543.9,105.3 547.9,104.1 545.7,101.5 541.6,102.7" fill="#2c53fe" stroke="#2c53fe" stroke-width="0.6"/><polygon points="653,211.2 657.7,209 655,206.6 650.3,208.8" fill="#d2f017" stroke="#d2f017" stroke-width="0.6"/><polygon points="650.3,208.8 655,206.6 652.3,204.2 647.7,206.4" fill="#c1f019" stroke="#c1f019" stroke-width="0.6"/><polygon points="647.7,206.4 652.3,204.2 649.6,201.9 645,204" fill="#b1f01a" stroke="#b1f01a" stroke-width="0.6"/><polygon points="645,204 649.6,201.9 647,199.5 642.4,201.5" fill="#a1f01c" stroke="#a1f01c" stroke-width="0.6"/><polygon points="642.4,201.5 647,199.5 644.3,197.1 639.8,199.1" fill="#91f01e" stroke="#91f01e" stroke-width="0.6"/><polygon points="639.8,199.1 644.3,197.1 641.7,194.7 637.2,196.7" fill="#81f01f" stroke="#81f01f" stroke-width="0.6"/><polygon points="637.2,196.7 641.7,194.7 639.1,192.3 634.6,194.3" fill="#71f021" stroke="#71f021" stroke-width="0.6"/><polygon points="634.6,194.3 639.1,192.3 636.5,189.9 632,191.9" fill="#62f022" stroke="#62f022" stroke-width="0.6"/><polygon points="632,191.9 636.5,189.9 633.9,187.5 629.4,189.5" fill="#52f024" stroke="#52f024" stroke-width="0.6"/><polygon points="629.4,189.5 633.9,187.5 631.3,185.1 626.9,187" fill="#43f025" stroke="#43f025" stroke-width="0.6"/><polygon points="626.9,187 631.3,185.1 628.8,182.7 624.3,184.6" fill="#34f027" stroke="#34f027" stroke-width="0.6"/><polygon points="624.3,184.6 628.8,182.7 626.2,180.3 621.8,182.2" fill="#28f02b" stroke="#28f02b" stroke-width="0.6"/><polygon points="621.8,182.2 626.2,180.3 623.7,177.8 619.2,179.7" fill="#27ef39" stroke="#27ef39" stroke-width="0.6"/><polygon points="619.2,179.7 623.7,177.8 621.1,175.4 616.7,177.3" fill="#26ee48" stroke="#26ee48" stroke-width="0.6"/><polygon points="616.7,177.3 621.1,175.4 618.6,173 614.2,174.8" fill="#26ed56" stroke="#26ed56" stroke-width="0.6"/><polygon points="614.2,174.8 618.6,173 616.1,170.6 611.7,172.4" fill="#25eb65" stroke="#25eb65" stroke-width="0.6"/><polygon points="611.7,172.4 616.1,170.6 613.6,168.1 609.2,169.9" fill="#24ea73" stroke="#24ea73" stroke-width="0.6"/><polygon points="609.2,169.9 613.6,168.1 611.1,165.7 606.8,167.5" fill="#24e981" stroke="#24e981" stroke-width="0.6"/><polygon points="606.8,167.5 611.1,165.7 608.6,163.3 604.3,165" fill="#23e88f" stroke="#23e88f" stroke-width="0.6"/><polygon points="604.3,165 608.6,163.3 606.2,160.8 601.9,162.5" fill="#22e79c" stroke="#22e79c" stroke-width="0.6"/><polygon points="601.9,162.5 606.2,160.8 603.7,158.4 599.4,160.1" fill="#22e6aa" stroke="#22e6aa" stroke-width="0.6"/><polygon points="599.4,160.1 603.7,158.4 601.3,155.9 597,157.6" fill="#21e5b7" stroke="#21e5b7" stroke-width="0.6"/><polygon points="597,157.6 601.3,155.9 598.8,153.4 594.6,155.1" fill="#20e4c4" stroke="#20e4c4" stroke-width="0.6"/><polygon points="594.6,155.1 598.8,153.4 596.4,151 592.1,152.6" fill="#20e3d1" stroke="#20e3d1" stroke-width="0.6"/><polygon points="592.1,152.6 596.4,151 594,148.5 589.7,150.1" fill="#1fe2de" stroke="#1fe2de" stroke-width="0.6"/><polygon points="589.7,150.1 594,148.5 591.6,146 587.3,147.6" fill="#1ee1ea" stroke="#1ee1ea" stroke-width="0.6"/><polygon points="587.3,147.6 591.6,146 589.2,143.5 585,145.1" fill="#1fdcf1" stroke="#1fdcf1" stroke-width="0.6"/><polygon points="585,145.1 589.2,143.5 586.8,141 582.6,142.6" fill="#1fd3f1" stroke="#1fd3f1" stroke-width="0.6"/><polygon points="582.6,142.6 586.8,141 584.4,138.5 580.2,140.1" fill="#20c9f2" stroke="#20c9f2" stroke-width="0.6"/><polygon points="580.2,140.1 584.4,138.5 582,136 577.9,137.6" fill="#21c0f3" stroke="#21c0f3" stroke-width="0.6"/><polygon points="577.9,137.6 582,136 579.7,133.5 575.5,135" fill="#22b8f4" stroke="#22b8f4" stroke-width="0.6"/><polygon points="575.5,135 579.7,133.5 577.3,131 573.2,132.5" fill="#23aff5" stroke="#23aff5" stroke-width="0.6"/><polygon points="573.2,132.5 577.3,131 575,128.5 570.8,130" fill="#24a6f6" stroke="#24a6f6" stroke-width="0.6"/><polygon points="570.8,130 575,128.5 572.6,126 568.5,127.4" fill="#259ef7" stroke="#259ef7" stroke-width="0.6"/><polygon points="568.5,127.4 572.6,126 570.3,123.4 566.2,124.8" fill="#2695f8" stroke="#2695f8" stroke-width="0.6"/><polygon points="566.2,124.8 570.3,123.4 568,120.9 563.9,122.3" fill="#268df8" stroke="#268df8" stroke-width="0.6"/><polygon points="563.9,122.3 568,120.9 565.7,118.3 561.6,119.7" fill="#2785f9" stroke="#2785f9" stroke-width="0.6"/><polygon points="561.6,119.7 565.7,118.3 563.4,115.8 559.3,117.1" fill="#287dfa" stroke="#287dfa" stroke-width="0.6"/><polygon points="559.3,117.1 563.4,115.8 561.1,113.2 557,114.5" fill="#2975fb" stroke="#2975fb" stroke-width="0.6"/><polygon points="557,114.5 561.1,113.2 558.8,110.6 554.7,111.9" fill="#2a6dfc" stroke="#2a6dfc" stroke-width="0.6"/><polygon points="554.7,111.9 558.8,110.6 556.5,108 552.4,109.3" fill="#2a65fc" stroke="#2a65fc" stroke-width="0.6"/><polygon points="552.4,109.3 556.5,108 554.2,105.5 550.2,106.7" fill="#2b5efd" stroke="#2b5efd" stroke-width="0.6"/><polygon points="550.2,106.7 554.2,105.5 552,102.9 547.9,104.1" fill="#2c56fe" stroke="#2c56fe" stroke-width="0.6"/><polygon points="547.9,104.1 552,102.9 549.7,100.2 545.7,101.5" fill="#2d4fff" stroke="#2d4fff" stroke-width="0.6"/><polygon points="657.7,209 662.3,206.8 659.6,204.5 655,206.6" fill="#d2f017" stroke="#d2f017" stroke-width="0.6"/><polygon points="655,206.6 659.6,204.5 656.9,202.1 652.3,204.2" fill="#c1f019" stroke="#c1f019" stroke-width="0.6"/><polygon points="652.3,204.2 656.9,202.1 654.3,199.7 649.6,201.9" fill="#b1f01a" stroke="#b1f01a" stroke-width="0.6"/><polygon points="649.6,201.9 654.3,199.7 651.6,197.4 647,199.5" fill="#a0f01c" stroke="#a0f01c" stroke-width="0.6"/><polygon points="647,199.5 651.6,197.4 648.9,195 644.3,197.1" fill="#90f01e" stroke="#90f01e" stroke-width="0.6"/><polygon points="644.3,197.1 648.9,195 646.3,192.6 641.7,194.7" fill="#80f01f" stroke="#80f01f" stroke-width="0.6"/><polygon points="641.7,194.7 646.3,192.6 643.6,190.2 639.1,192.3" fill="#70f021" stroke="#70f021" stroke-width="0.6"/><polygon points="639.1,192.3 643.6,190.2 641,187.9 636.5,189.9" fill="#61f022" stroke="#61f022" stroke-width="0.6"/><polygon points="636.5,189.9 641,187.9 638.4,185.5 633.9,187.5" fill="#51f024" stroke="#51f024" stroke-width="0.6"/><polygon points="633.9,187.5 638.4,185.5 635.8,183.1 631.3,185.1" fill="#42f025" stroke="#42f025" stroke-width="0.6"/><polygon points="631.3,185.1 635.8,183.1 633.2,180.7 628.8,182.7" fill="#33f027" stroke="#33f027" stroke-width="0.6"/><polygon points="628.8,182.7 633.2,180.7 630.7,178.3 626.2,180.3" fill="#28f02c" stroke="#28f02c" stroke-width="0.6"/><polygon points="626.2,180.3 630.7,178.3 628.1,175.9 623.7,177.8" fill="#27ef3b" stroke="#27ef3b" stroke-width="0.6"/><polygon points="623.7,177.8 628.1,175.9 625.6,173.5 621.1,175.4" fill="#26ed4a" stroke="#26ed4a" stroke-width="0.6"/><polygon points="621.1,175.4 625.6,173.5 623,171.1 618.6,173" fill="#26ec58" stroke="#26ec58" stroke-width="0.6"/><polygon points="618.6,173 623,171.1 620.5,168.7 616.1,170.6" fill="#25eb67" stroke="#25eb67" stroke-width="0.6"/><polygon points="616.1,170.6 620.5,168.7 618,166.3 613.6,168.1" fill="#24ea75" stroke="#24ea75" stroke-width="0.6"/><polygon points="613.6,168.1 618,166.3 615.5,163.9 611.1,165.7" fill="#23e983" stroke="#23e983" stroke-width="0.6"/><polygon points="611.1,165.7 615.5,163.9 613,161.5 608.6,163.3" fill="#23e891" stroke="#23e891" stroke-width="0.6"/><polygon points="608.6,163.3 613,161.5 610.5,159.1 606.2,160.8" fill="#22e79f" stroke="#22e79f" stroke-width="0.6"/><polygon points="606.2,160.8 610.5,159.1 608,156.6 603.7,158.4" fill="#21e6ac" stroke="#21e6ac" stroke-width="0.6"/><polygon points="603.7,158.4 608,156.6 605.6,154.2 601.3,155.9" fill="#21e5ba" stroke="#21e5ba" stroke-width="0.6"/><polygon points="601.3,155.9 605.6,154.2 603.1,151.7 598.8,153.4" fill="#20e4c7" stroke="#20e4c7" stroke-width="0.6"/><polygon points="598.8,153.4 603.1,151.7 600.7,149.3 596.4,151" fill="#1fe3d4" stroke="#1fe3d4" stroke-width="0.6"/><polygon points="596.4,151 600.7,149.3 598.2,146.8 594,148.5" fill="#1fe2e1" stroke="#1fe2e1" stroke-width="0.6"/><polygon points="594,148.5 598.2,146.8 595.8,144.4 591.6,146" fill="#1ee1ee" stroke="#1ee1ee" stroke-width="0.6"/><polygon points="591.6,146 595.8,144.4 593.4,141.9 589.2,143.5" fill="#1fd9f1" stroke="#1fd9f1" stroke-width="0.6"/><polygon points="589.2,143.5 593.4,141.9 591,139.5 586.8,141" fill="#20d0f2" stroke="#20d0f2" stroke-width="0.6"/><polygon points="586.8,141 591,139.5 588.6,137 584.4,138.5" fill="#21c7f3" stroke="#21c7f3" stroke-width="0.6"/><polygon points="584.4,138.5 588.6,137 586.2,134.5 582,136" fill="#22bef4" stroke="#22bef4" stroke-width="0.6"/><polygon points="582,136 586.2,134.5 583.9,132 579.7,133.5" fill="#22b5f4" stroke="#22b5f4" stroke-width="0.6"/><polygon points="579.7,133.5 583.9,132 581.5,129.5 577.3,131" fill="#23acf5" stroke="#23acf5" stroke-width="0.6"/><polygon points="577.3,131 581.5,129.5 579.1,127 575,128.5" fill="#24a3f6" stroke="#24a3f6" stroke-width="0.6"/><polygon points="575,128.5 579.1,127 576.8,124.5 572.6,126" fill="#259bf7" stroke="#259bf7" stroke-width="0.6"/><polygon points="572.6,126 576.8,124.5 574.4,122 570.3,123.4" fill="#2692f8" stroke="#2692f8" stroke-width="0.6"/><polygon points="570.3,123.4 574.4,122 572.1,119.5 568,120.9" fill="#278af9" stroke="#278af9" stroke-width="0.6"/><polygon points="568,120.9 572.1,119.5 569.8,116.9 565.7,118.3" fill="#2881fa" stroke="#2881fa" stroke-width="0.6"/><polygon points="565.7,118.3 569.8,116.9 567.5,114.4 563.4,115.8" fill="#2879fa" stroke="#2879fa" stroke-width="0.6"/><polygon points="563.4,115.8 567.5,114.4 565.2,111.9 561.1,113.2" fill="#2971fb" stroke="#2971fb" stroke-width="0.6"/><polygon points="561.1,113.2 565.2,111.9 562.9,109.3 558.8,110.6" fill="#2a69fc" stroke="#2a69fc" stroke-width="0.6"/><polygon points="558.8,110.6 562.9,109.3 560.6,106.7 556.5,108" fill="#2b62fd" stroke="#2b62fd" stroke-width="0.6"/><polygon points="556.5,108 560.6,106.7 558.3,104.2 554.2,105.5" fill="#2c5afe" stroke="#2c5afe" stroke-width="0.6"/><polygon points="554.2,105.5 558.3,104.2 556,101.6 552,102.9" fill="#2c52fe" stroke="#2c52fe" stroke-width="0.6"/><polygon points="552,102.9 556,101.6 553.7,99 549.7,100.2" fill="#2d4bff" stroke="#2d4bff" stroke-width="0.6"/><polygon points="662.3,206.8 667,204.6 664.3,202.3 659.6,204.5" fill="#d2f017" stroke="#d2f017" stroke-width="0.6"/><polygon points="659.6,204.5 664.3,202.3 661.6,199.9 656.9,202.1" fill="#c1f019" stroke="#c1f019" stroke-width="0.6"/><polygon points="656.9,202.1 661.6,199.9 658.9,197.6 654.3,199.7" fill="#b1f01a" stroke="#b1f01a" stroke-width="0.6"/><polygon points="654.3,199.7 658.9,197.6 656.2,195.2 651.6,197.4" fill="#a0f01c" stroke="#a0f01c" stroke-width="0.6"/><polygon points="651.6,197.4 656.2,195.2 653.5,192.9 648.9,195" fill="#90f01e" stroke="#90f01e" stroke-width="0.6"/><polygon points="648.9,195 653.5,192.9 650.8,190.5 646.3,192.6" fill="#80f01f" stroke="#80f01f" stroke-width="0.6"/><polygon points="646.3,192.6 650.8,190.5 648.2,188.2 643.6,190.2" fill="#70f021" stroke="#70f021" stroke-width="0.6"/><polygon points="643.6,190.2 648.2,188.2 645.5,185.8 641,187.9" fill="#60f022" stroke="#60f022" stroke-width="0.6"/><polygon points="641,187.9 645.5,185.8 642.9,183.5 638.4,185.5" fill="#51f024" stroke="#51f024" stroke-width="0.6"/><polygon points="638.4,185.5 642.9,183.5 640.3,181.1 635.8,183.1" fill="#41f025" stroke="#41f025" stroke-width="0.6"/><polygon points="635.8,183.1 640.3,181.1 637.7,178.7 633.2,180.7" fill="#32f027" stroke="#32f027" stroke-width="0.6"/><polygon points="633.2,180.7 637.7,178.7 635.1,176.4 630.7,178.3" fill="#28f02d" stroke="#28f02d" stroke-width="0.6"/><polygon points="630.7,178.3 635.1,176.4 632.5,174 628.1,175.9" fill="#27ee3c" stroke="#27ee3c" stroke-width="0.6"/><polygon points="628.1,175.9 632.5,174 630,171.6 625.6,173.5" fill="#26ed4b" stroke="#26ed4b" stroke-width="0.6"/><polygon points="625.6,173.5 630,171.6 627.4,169.2 623,171.1" fill="#26ec5a" stroke="#26ec5a" stroke-width="0.6"/><polygon points="623,171.1 627.4,169.2 624.9,166.9 620.5,168.7" fill="#25eb68" stroke="#25eb68" stroke-width="0.6"/><polygon points="620.5,168.7 624.9,166.9 622.3,164.5 618,166.3" fill="#24ea77" stroke="#24ea77" stroke-width="0.6"/><polygon points="618,166.3 622.3,164.5 619.8,162.1 615.5,163.9" fill="#23e985" stroke="#23e985" stroke-width="0.6"/><polygon points="615.5,163.9 619.8,162.1 617.3,159.7 613,161.5" fill="#23e893" stroke="#23e893" stroke-width="0.6"/><polygon points="613,161.5 617.3,159.7 614.8,157.3 610.5,159.1" fill="#22e7a1" stroke="#22e7a1" stroke-width="0.6"/><polygon points="610.5,159.1 614.8,157.3 612.3,154.9 608,156.6" fill="#21e6ae" stroke="#21e6ae" stroke-width="0.6"/><polygon points="608,156.6 612.3,154.9 609.9,152.4 605.6,154.2" fill="#21e5bc" stroke="#21e5bc" stroke-width="0.6"/><polygon points="605.6,154.2 609.9,152.4 607.4,150 603.1,151.7" fill="#20e4c9" stroke="#20e4c9" stroke-width="0.6"/><polygon points="603.1,151.7 607.4,150 604.9,147.6 600.7,149.3" fill="#1fe3d6" stroke="#1fe3d6" stroke-width="0.6"/><polygon points="600.7,149.3 604.9,147.6 602.5,145.2 598.2,146.8" fill="#1fe2e4" stroke="#1fe2e4" stroke-width="0.6"/><polygon points="598.2,146.8 602.5,145.2 600,142.7 595.8,144.4" fill="#1ee1f0" stroke="#1ee1f0" stroke-width="0.6"/><polygon points="595.8,144.4 600,142.7 597.6,140.3 593.4,141.9" fill="#1fd7f1" stroke="#1fd7f1" stroke-width="0.6"/><polygon points="593.4,141.9 597.6,140.3 595.2,137.8 591,139.5" fill="#20cef2" stroke="#20cef2" stroke-width="0.6"/><polygon points="591,139.5 595.2,137.8 592.8,135.4 588.6,137" fill="#21c4f3" stroke="#21c4f3" stroke-width="0.6"/><polygon points="588.6,137 592.8,135.4 590.4,132.9 586.2,134.5" fill="#22bbf4" stroke="#22bbf4" stroke-width="0.6"/><polygon points="586.2,134.5 590.4,132.9 588,130.5 583.9,132" fill="#23b2f5" stroke="#23b2f5" stroke-width="0.6"/><polygon points="583.9,132 588,130.5 585.6,128 581.5,129.5" fill="#24a9f6" stroke="#24a9f6" stroke-width="0.6"/><polygon points="581.5,129.5 585.6,128 583.3,125.5 579.1,127" fill="#24a0f6" stroke="#24a0f6" stroke-width="0.6"/><polygon points="579.1,127 583.3,125.5 580.9,123 576.8,124.5" fill="#2598f7" stroke="#2598f7" stroke-width="0.6"/><polygon points="576.8,124.5 580.9,123 578.6,120.5 574.4,122" fill="#268ff8" stroke="#268ff8" stroke-width="0.6"/><polygon points="574.4,122 578.6,120.5 576.2,118 572.1,119.5" fill="#2787f9" stroke="#2787f9" stroke-width="0.6"/><polygon points="572.1,119.5 576.2,118 573.9,115.5 569.8,116.9" fill="#287efa" stroke="#287efa" stroke-width="0.6"/><polygon points="569.8,116.9 573.9,115.5 571.6,113 567.5,114.4" fill="#2976fb" stroke="#2976fb" stroke-width="0.6"/><polygon points="567.5,114.4 571.6,113 569.2,110.5 565.2,111.9" fill="#2a6efc" stroke="#2a6efc" stroke-width="0.6"/><polygon points="565.2,111.9 569.2,110.5 566.9,107.9 562.9,109.3" fill="#2a66fc" stroke="#2a66fc" stroke-width="0.6"/><polygon points="562.9,109.3 566.9,107.9 564.6,105.4 560.6,106.7" fill="#2b5efd" stroke="#2b5efd" stroke-width="0.6"/><polygon points="560.6,106.7 564.6,105.4 562.3,102.9 558.3,104.2" fill="#2c56fe" stroke="#2c56fe" stroke-width="0.6"/><polygon points="558.3,104.2 562.3,102.9 560,100.3 556,101.6" fill="#2d4fff" stroke="#2d4fff" stroke-width="0.6"/><polygon points="556,101.6 560,100.3 557.8,97.7 553.7,99" fill="#2d4bff" stroke="#2d4bff" stroke-width="0.6"/><polygon points="667,204.6 671.7,202.4 668.9,200 664.3,202.3" fill="#d2f017" stroke="#d2f017" stroke-width="0.6"/><polygon points="664.3,202.3 668.9,200 666.2,197.7 661.6,199.9" fill="#c2f019" stroke="#c2f019" stroke-width="0.6"/><polygon points="661.6,199.9 666.2,197.7 663.5,195.4 658.9,197.6" fill="#b1f01a" stroke="#b1f01a" stroke-width="0.6"/><polygon points="658.9,197.6 663.5,195.4 660.8,193.1 656.2,195.2" fill="#a0f01c" stroke="#a0f01c" stroke-width="0.6"/><polygon points="656.2,195.2 660.8,193.1 658.1,190.8 653.5,192.9" fill="#90f01e" stroke="#90f01e" stroke-width="0.6"/><polygon points="653.5,192.9 658.1,190.8 655.4,188.4 650.8,190.5" fill="#80f01f" stroke="#80f01f" stroke-width="0.6"/><polygon points="650.8,190.5 655.4,188.4 652.7,186.1 648.2,188.2" fill="#70f021" stroke="#70f021" stroke-width="0.6"/><polygon points="648.2,188.2 652.7,186.1 650.1,183.8 645.5,185.8" fill="#60f022" stroke="#60f022" stroke-width="0.6"/><polygon points="645.5,185.8 650.1,183.8 647.4,181.4 642.9,183.5" fill="#50f024" stroke="#50f024" stroke-width="0.6"/><polygon points="642.9,183.5 647.4,181.4 644.8,179.1 640.3,181.1" fill="#40f026" stroke="#40f026" stroke-width="0.6"/><polygon points="640.3,181.1 644.8,179.1 642.2,176.7 637.7,178.7" fill="#31f027" stroke="#31f027" stroke-width="0.6"/><polygon points="637.7,178.7 642.2,176.7 639.6,174.4 635.1,176.4" fill="#28f02e" stroke="#28f02e" stroke-width="0.6"/><polygon points="635.1,176.4 639.6,174.4 637,172 632.5,174" fill="#27ee3d" stroke="#27ee3d" stroke-width="0.6"/><polygon points="632.5,174 637,172 634.4,169.7 630,171.6" fill="#26ed4c" stroke="#26ed4c" stroke-width="0.6"/><polygon points="630,171.6 634.4,169.7 631.8,167.3 627.4,169.2" fill="#25ec5b" stroke="#25ec5b" stroke-width="0.6"/><polygon points="627.4,169.2 631.8,167.3 629.3,165 624.9,166.9" fill="#25eb6a" stroke="#25eb6a" stroke-width="0.6"/><polygon points="624.9,166.9 629.3,165 626.7,162.6 622.3,164.5" fill="#24ea78" stroke="#24ea78" stroke-width="0.6"/><polygon points="622.3,164.5 626.7,162.6 624.2,160.2 619.8,162.1" fill="#23e986" stroke="#23e986" stroke-width="0.6"/><polygon points="619.8,162.1 624.2,160.2 621.6,157.8 617.3,159.7" fill="#23e895" stroke="#23e895" stroke-width="0.6"/><polygon points="617.3,159.7 621.6,157.8 619.1,155.5 614.8,157.3" fill="#22e7a2" stroke="#22e7a2" stroke-width="0.6"/><polygon points="614.8,157.3 619.1,155.5 616.6,153.1 612.3,154.9" fill="#21e6b0" stroke="#21e6b0" stroke-width="0.6"/><polygon points="612.3,154.9 616.6,153.1 614.1,150.7 609.9,152.4" fill="#21e5be" stroke="#21e5be" stroke-width="0.6"/><polygon points="609.9,152.4 614.1,150.7 611.7,148.3 607.4,150" fill="#20e4cb" stroke="#20e4cb" stroke-width="0.6"/><polygon points="607.4,150 611.7,148.3 609.2,145.9 604.9,147.6" fill="#1fe3d9" stroke="#1fe3d9" stroke-width="0.6"/><polygon points="604.9,147.6 609.2,145.9 606.7,143.5 602.5,145.2" fill="#1fe2e6" stroke="#1fe2e6" stroke-width="0.6"/><polygon points="602.5,145.2 606.7,143.5 604.3,141.1 600,142.7" fill="#1edff0" stroke="#1edff0" stroke-width="0.6"/><polygon points="600,142.7 604.3,141.1 601.8,138.6 597.6,140.3" fill="#1fd5f1" stroke="#1fd5f1" stroke-width="0.6"/><polygon points="597.6,140.3 601.8,138.6 599.4,136.2 595.2,137.8" fill="#20ccf2" stroke="#20ccf2" stroke-width="0.6"/><polygon points="595.2,137.8 599.4,136.2 597,133.8 592.8,135.4" fill="#21c2f3" stroke="#21c2f3" stroke-width="0.6"/><polygon points="592.8,135.4 597,133.8 594.6,131.3 590.4,132.9" fill="#22b9f4" stroke="#22b9f4" stroke-width="0.6"/><polygon points="590.4,132.9 594.6,131.3 592.2,128.9 588,130.5" fill="#23b0f5" stroke="#23b0f5" stroke-width="0.6"/><polygon points="588,130.5 592.2,128.9 589.8,126.4 585.6,128" fill="#24a7f6" stroke="#24a7f6" stroke-width="0.6"/><polygon points="585.6,128 589.8,126.4 587.4,124 583.3,125.5" fill="#259ef7" stroke="#259ef7" stroke-width="0.6"/><polygon points="583.3,125.5 587.4,124 585,121.5 580.9,123" fill="#2695f8" stroke="#2695f8" stroke-width="0.6"/><polygon points="580.9,123 585,121.5 582.7,119 578.6,120.5" fill="#268cf8" stroke="#268cf8" stroke-width="0.6"/><polygon points="578.6,120.5 582.7,119 580.3,116.6 576.2,118" fill="#2784f9" stroke="#2784f9" stroke-width="0.6"/><polygon points="576.2,118 580.3,116.6 578,114.1 573.9,115.5" fill="#287bfa" stroke="#287bfa" stroke-width="0.6"/><polygon points="573.9,115.5 578,114.1 575.6,111.6 571.6,113" fill="#2973fb" stroke="#2973fb" stroke-width="0.6"/><polygon points="571.6,113 575.6,111.6 573.3,109.1 569.2,110.5" fill="#2a6bfc" stroke="#2a6bfc" stroke-width="0.6"/><polygon points="569.2,110.5 573.3,109.1 571,106.6 566.9,107.9" fill="#2b63fd" stroke="#2b63fd" stroke-width="0.6"/><polygon points="566.9,107.9 571,106.6 568.7,104 564.6,105.4" fill="#2b5bfd" stroke="#2b5bfd" stroke-width="0.6"/><polygon points="564.6,105.4 568.7,104 566.4,101.5 562.3,102.9" fill="#2c53fe" stroke="#2c53fe" stroke-width="0.6"/><polygon points="562.3,102.9 566.4,101.5 564.1,99 560,100.3" fill="#2d4bff" stroke="#2d4bff" stroke-width="0.6"/><polygon points="560,100.3 564.1,99 561.8,96.4 557.8,97.7" fill="#2d4bff" stroke="#2d4bff" stroke-width="0.6"/><polygon points="671.7,202.4 676.4,200.1 673.6,197.8 668.9,200" fill="#d3f017" stroke="#d3f017" stroke-width="0.6"/><polygon points="668.9,200 673.6,197.8 670.9,195.5 666.2,197.7" fill="#c2f019" stroke="#c2f019" stroke-width="0.6"/><polygon points="666.2,197.7 670.9,195.5 668.1,193.2 663.5,195.4" fill="#b1f01a" stroke="#b1f01a" stroke-width="0.6"/><polygon points="663.5,195.4 668.1,193.2 665.4,190.9 660.8,193.1" fill="#a1f01c" stroke="#a1f01c" stroke-width="0.6"/><polygon points="660.8,193.1 665.4,190.9 662.7,188.6 658.1,190.8" fill="#90f01e" stroke="#90f01e" stroke-width="0.6"/><polygon points="658.1,190.8 662.7,188.6 660,186.3 655.4,188.4" fill="#80f01f" stroke="#80f01f" stroke-width="0.6"/><polygon points="655.4,188.4 660,186.3 657.3,184 652.7,186.1" fill="#70f021" stroke="#70f021" stroke-width="0.6"/><polygon points="652.7,186.1 657.3,184 654.6,181.7 650.1,183.8" fill="#60f022" stroke="#60f022" stroke-width="0.6"/><polygon points="650.1,183.8 654.6,181.7 651.9,179.4 647.4,181.4" fill="#50f024" stroke="#50f024" stroke-width="0.6"/><polygon points="647.4,181.4 651.9,179.4 649.3,177 644.8,179.1" fill="#40f026" stroke="#40f026" stroke-width="0.6"/><polygon points="644.8,179.1 649.3,177 646.6,174.7 642.2,176.7" fill="#31f027" stroke="#31f027" stroke-width="0.6"/><polygon points="642.2,176.7 646.6,174.7 644,172.4 639.6,174.4" fill="#28ef2f" stroke="#28ef2f" stroke-width="0.6"/><polygon points="639.6,174.4 644,172.4 641.4,170.1 637,172" fill="#27ee3e" stroke="#27ee3e" stroke-width="0.6"/><polygon points="637,172 641.4,170.1 638.8,167.7 634.4,169.7" fill="#26ed4d" stroke="#26ed4d" stroke-width="0.6"/><polygon points="634.4,169.7 638.8,167.7 636.2,165.4 631.8,167.3" fill="#25ec5c" stroke="#25ec5c" stroke-width="0.6"/><polygon points="631.8,167.3 636.2,165.4 633.6,163 629.3,165" fill="#25eb6b" stroke="#25eb6b" stroke-width="0.6"/><polygon points="629.3,165 633.6,163 631.1,160.7 626.7,162.6" fill="#24ea79" stroke="#24ea79" stroke-width="0.6"/><polygon points="626.7,162.6 631.1,160.7 628.5,158.3 624.2,160.2" fill="#23e988" stroke="#23e988" stroke-width="0.6"/><polygon points="624.2,160.2 628.5,158.3 626,156 621.6,157.8" fill="#23e896" stroke="#23e896" stroke-width="0.6"/><polygon points="621.6,157.8 626,156 623.5,153.6 619.1,155.5" fill="#22e7a4" stroke="#22e7a4" stroke-width="0.6"/><polygon points="619.1,155.5 623.5,153.6 620.9,151.3 616.6,153.1" fill="#21e6b2" stroke="#21e6b2" stroke-width="0.6"/><polygon points="616.6,153.1 620.9,151.3 618.4,148.9 614.1,150.7" fill="#20e5c0" stroke="#20e5c0" stroke-width="0.6"/><polygon points="614.1,150.7 618.4,148.9 615.9,146.5 611.7,148.3" fill="#20e4cd" stroke="#20e4cd" stroke-width="0.6"/><polygon points="611.7,148.3 615.9,146.5 613.5,144.1 609.2,145.9" fill="#1fe3db" stroke="#1fe3db" stroke-width="0.6"/><polygon points="609.2,145.9 613.5,144.1 611,141.7 606.7,143.5" fill="#1ee2e8" stroke="#1ee2e8" stroke-width="0.6"/><polygon points="606.7,143.5 611,141.7 608.5,139.4 604.3,141.1" fill="#1eddf0" stroke="#1eddf0" stroke-width="0.6"/><polygon points="604.3,141.1 608.5,139.4 606.1,137 601.8,138.6" fill="#1fd3f1" stroke="#1fd3f1" stroke-width="0.6"/><polygon points="601.8,138.6 606.1,137 603.6,134.6 599.4,136.2" fill="#20caf2" stroke="#20caf2" stroke-width="0.6"/><polygon points="599.4,136.2 603.6,134.6 601.2,132.1 597,133.8" fill="#21c0f3" stroke="#21c0f3" stroke-width="0.6"/><polygon points="597,133.8 601.2,132.1 598.8,129.7 594.6,131.3" fill="#22b7f4" stroke="#22b7f4" stroke-width="0.6"/><polygon points="594.6,131.3 598.8,129.7 596.4,127.3 592.2,128.9" fill="#23aef5" stroke="#23aef5" stroke-width="0.6"/><polygon points="592.2,128.9 596.4,127.3 593.9,124.9 589.8,126.4" fill="#24a5f6" stroke="#24a5f6" stroke-width="0.6"/><polygon points="589.8,126.4 593.9,124.9 591.6,122.4 587.4,124" fill="#259cf7" stroke="#259cf7" stroke-width="0.6"/><polygon points="587.4,124 591.6,122.4 589.2,120 585,121.5" fill="#2693f8" stroke="#2693f8" stroke-width="0.6"/><polygon points="585,121.5 589.2,120 586.8,117.5 582.7,119" fill="#278af9" stroke="#278af9" stroke-width="0.6"/><polygon points="582.7,119 586.8,117.5 584.4,115.1 580.3,116.6" fill="#2881fa" stroke="#2881fa" stroke-width="0.6"/><polygon points="580.3,116.6 584.4,115.1 582.1,112.6 578,114.1" fill="#2879fa" stroke="#2879fa" stroke-width="0.6"/><polygon points="578,114.1 582.1,112.6 579.7,110.1 575.6,111.6" fill="#2970fb" stroke="#2970fb" stroke-width="0.6"/><polygon points="575.6,111.6 579.7,110.1 577.4,107.7 573.3,109.1" fill="#2a68fc" stroke="#2a68fc" stroke-width="0.6"/><polygon points="573.3,109.1 577.4,107.7 575,105.2 571,106.6" fill="#2b60fd" stroke="#2b60fd" stroke-width="0.6"/><polygon points="571,106.6 575,105.2 572.7,102.7 568.7,104" fill="#2c58fe" stroke="#2c58fe" stroke-width="0.6"/><polygon points="568.7,104 572.7,102.7 570.4,100.2 566.4,101.5" fill="#2d50ff" stroke="#2d50ff" stroke-width="0.6"/><polygon points="566.4,101.5 570.4,100.2 568.1,97.6 564.1,99" fill="#2d4bff" stroke="#2d4bff" stroke-width="0.6"/><polygon points="564.1,99 568.1,97.6 565.8,95.1 561.8,96.4" fill="#2d4bff" stroke="#2d4bff" stroke-width="0.6"/></g>
<path d="M469,280.2l-0.9-1.4-0.9-1.5-0.9-1.4-0.9-1.5-0.9-1.4-0.9-1.5-0.9-1.4-0.9-1.5-0.9-1.4-0.9-1.5-0.9-1.4-0.9-1.5-0.9-1.4-0.9-1.5-0.9-1.4-0.9-1.5-0.9-1.4-0.9-1.5-0.9-1.5-0.9-1.4-0.9-1.5-0.9-1.4-0.9-1.5-0.9-1.5-0.9-1.4-0.9-1.5-0.8-1.5-0.9-1.4-0.9-1.5-0.9-1.5-0.9-1.4-0.9-1.5-0.9-1.5-0.9-1.4-0.9-1.5-0.9-1.5-0.8-1.4-0.9-1.5-0.9-1.5-0.9-1.5-0.9-1.4-0.9-1.5-0.9-1.5-0.8-1.5-0.9-1.5-0.9-1.4-0.9-1.5-0.9-1.5-0.9-1.5-0.8-1.5-0.9-1.5-0.9-1.5-0.9-1.5-0.9-1.5-0.9-1.4-0.8-1.5-0.9-1.5-0.9-1.5-0.9-1.5-0.9-1.5-0.9-1.5-0.8-1.5-0.9-1.5-0.9-1.5-0.9-1.5-0.9-1.6-0.8-1.5-0.9-1.5-0.9-1.5-0.9-1.5-0.9-1.5-0.8-1.5-0.9-1.6-0.9-1.5-0.9-1.5-0.9-1.5-0.8-1.5-0.9-1.6-0.9-1.5-0.9-1.5-0.9-1.6-0.8-1.5-0.9-1.5-0.9-1.6-0.9-1.5-0.9-1.5-0.8-1.6-0.9-1.5-0.9-1.6-0.9-1.5-0.9-1.6-0.8-1.5-0.9-1.6-0.9-1.5-0.9-1.6-0.9-1.5-0.8-1.6-0.9-1.6-0.9-1.5-0.9-1.6M469,280.2l2.1-0.6 2.2-0.6 2.2-0.7 2.1-0.6 2.2-0.6 2.1-0.7 2.1-0.6 2.2-0.7 2.1-0.6 2.1-0.7 2.2-0.7 2.1-0.6 2.1-0.7 2.1-0.7 2.2-0.6 2.1-0.7 2.1-0.7 2.1-0.7 2.1-0.7 2.1-0.7 2.1-0.7 2.1-0.6 2.1-0.7 2.1-0.7 2.1-0.8 2.1-0.7 2.1-0.7 2.1-0.7 2.1-0.7 2.1-0.7 2-0.8 2.1-0.7 2.1-0.7 2.1-0.8 2-0.7 2.1-0.7 2.1-0.8 2.1-0.7 2-0.8 2.1-0.7 2.1-0.8 2-0.8 2.1-0.7 2.1-0.8 2-0.8 2.1-0.8 2-0.7 2.1-0.8 2.1-0.8 2-0.8 2.1-0.8 2-0.8 2.1-0.8 2-0.8 2.1-0.8 2-0.9 2.1-0.8 2-0.8 2.1-0.8 2-0.9 2.1-0.8 2-0.8 2.1-0.9 2-0.8 2-0.9 2.1-0.8 2-0.9 2.1-0.8 2-0.9 2.1-0.9 2-0.8 2.1-0.9 2-0.9 2-0.9 2.1-0.9 2-0.9 2.1-0.9 2-0.9 2.1-0.9 2-0.9 2.1-0.9 2-0.9 2.1-1 2-0.9 2.1-0.9 2-0.9 2.1-1 2-0.9 2.1-1 2-0.9 2.1-1 2-0.9 2.1-1 2-1 2.1-1 2-0.9 2.1-1 2.1-1 2-1 2.1-1M471.1,279.6l-0.9-1.4-0.9-1.5-0.9-1.4-0.9-1.5-0.9-1.4-0.9-1.5-0.9-1.4-0.9-1.5-0.9-1.4-0.9-1.4-0.9-1.5-0.9-1.4-0.9-1.5-0.9-1.4-0.9-1.5-0.9-1.4-0.9-1.5-0.9-1.5-0.9-1.4-0.9-1.5-0.9-1.4-0.9-1.5-0.9-1.4-0.9-1.5-0.9-1.4-0.9-1.5-0.8-1.5-0.9-1.4-0.9-1.5-0.9-1.4-0.9-1.5-0.9-1.5-0.9-1.4-0.9-1.5-0.9-1.5-0.9-1.4-0.9-1.5-0.8-1.5-0.9-1.4-0.9-1.5-0.9-1.5-0.9-1.5-0.9-1.4-0.9-1.5-0.9-1.5-0.8-1.5-0.9-1.4-0.9-1.5-0.9-1.5-0.9-1.5-0.9-1.5-0.9-1.5-0.8-1.4-0.9-1.5-0.9-1.5-0.9-1.5-0.9-1.5-0.9-1.5-0.8-1.5-0.9-1.5-0.9-1.5-0.9-1.5-0.9-1.5-0.9-1.5-0.8-1.5-0.9-1.5-0.9-1.5-0.9-1.5-0.9-1.5-0.8-1.5-0.9-1.5-0.9-1.5-0.9-1.5-0.9-1.5-0.9-1.6-0.8-1.5-0.9-1.5-0.9-1.5-0.9-1.5-0.9-1.6-0.8-1.5-0.9-1.5-0.9-1.6-0.9-1.5-0.9-1.5-0.8-1.6-0.9-1.5-0.9-1.5-0.9-1.6-0.9-1.5-0.9-1.6-0.8-1.5-0.9-1.6-0.9-1.5-0.9-1.6-0.9-1.5-0.8-1.6-0.9-1.5-0.9-1.6-0.9-1.5M468.1,278.8l2.1-0.6 2.2-0.7 2.1-0.6 2.2-0.6 2.1-0.7 2.2-0.6 2.1-0.7 2.2-0.6 2.1-0.7 2.1-0.6 2.1-0.7 2.2-0.6 2.1-0.7 2.1-0.7 2.1-0.6 2.1-0.7 2.1-0.7 2.2-0.6 2.1-0.7 2.1-0.7 2.1-0.7 2.1-0.7 2.1-0.7 2.1-0.7 2-0.7 2.1-0.7 2.1-0.7 2.1-0.7 2.1-0.7 2.1-0.7 2.1-0.8 2-0.7 2.1-0.7 2.1-0.8 2.1-0.7 2-0.7 2.1-0.8 2.1-0.7 2-0.8 2.1-0.7 2.1-0.8 2-0.7 2.1-0.8 2-0.8 2.1-0.7 2-0.8 2.1-0.8 2.1-0.8 2-0.7 2.1-0.8 2-0.8 2.1-0.8 2-0.8 2.1-0.8 2-0.8 2.1-0.8 2-0.9 2-0.8 2.1-0.8 2-0.8 2.1-0.9 2-0.8 2.1-0.8 2-0.9 2.1-0.8 2-0.9 2-0.8 2.1-0.9 2-0.8 2.1-0.9 2-0.9 2-0.9 2.1-0.8 2-0.9 2.1-0.9 2-0.9 2-0.9 2.1-0.9 2-0.9 2.1-0.9 2-0.9 2.1-0.9 2-0.9 2-1 2.1-0.9 2-0.9 2.1-0.9 2-1 2.1-0.9 2-1 2.1-0.9 2-1 2.1-1 2-0.9 2.1-1 2-1 2.1-0.9 2-1 2.1-1 2.1-1M473.3,279l-0.9-1.5-0.9-1.4-0.9-1.4-0.9-1.5-0.9-1.4-0.9-1.5-1-1.4-0.9-1.4-0.9-1.5-0.9-1.4-0.9-1.5-0.9-1.4-0.9-1.5-0.9-1.4-0.9-1.5-0.9-1.4-0.9-1.5-0.9-1.4-0.9-1.4-0.9-1.5-0.9-1.4-0.9-1.5-0.9-1.5-0.9-1.4-0.9-1.5-0.9-1.4-0.9-1.5-0.8-1.4-0.9-1.5-0.9-1.4-0.9-1.5-0.9-1.4-0.9-1.5-0.9-1.5-0.9-1.4-0.9-1.5-0.9-1.5-0.9-1.4-0.9-1.5-0.9-1.5-0.8-1.4-0.9-1.5-0.9-1.5-0.9-1.4-0.9-1.5-0.9-1.5-0.9-1.4-0.9-1.5-0.8-1.5-0.9-1.5-0.9-1.5-0.9-1.4-0.9-1.5-0.9-1.5-0.9-1.5-0.8-1.5-0.9-1.5-0.9-1.4-0.9-1.5-0.9-1.5-0.9-1.5-0.9-1.5-0.8-1.5-0.9-1.5-0.9-1.5-0.9-1.5-0.9-1.5-0.9-1.5-0.8-1.5-0.9-1.5-0.9-1.5-0.9-1.5-0.9-1.5-0.8-1.5-0.9-1.5-0.9-1.6-0.9-1.5-0.9-1.5-0.9-1.5-0.8-1.5-0.9-1.5-0.9-1.6-0.9-1.5-0.9-1.5-0.9-1.5-0.8-1.6-0.9-1.5-0.9-1.5-0.9-1.6-0.9-1.5-0.8-1.6-0.9-1.5-0.9-1.5-0.9-1.6-0.9-1.5-0.9-1.6-0.8-1.5-0.9-1.6-0.9-1.5-0.9-1.6M467.2,277.3l2.1-0.6 2.2-0.6 2.1-0.6 2.2-0.7 2.1-0.6 2.2-0.6 2.1-0.7 2.1-0.6 2.2-0.7 2.1-0.6 2.1-0.7 2.1-0.6 2.1-0.7 2.2-0.6 2.1-0.7 2.1-0.7 2.1-0.6 2.1-0.7 2.1-0.7 2.1-0.7 2.1-0.7 2.1-0.6 2.1-0.7 2.1-0.7 2.1-0.7 2.1-0.7 2-0.7 2.1-0.7 2.1-0.7 2.1-0.8 2.1-0.7 2-0.7 2.1-0.7 2.1-0.7 2.1-0.8 2-0.7 2.1-0.7 2.1-0.8 2-0.7 2.1-0.8 2-0.7 2.1-0.8 2.1-0.7 2-0.8 2.1-0.8 2-0.7 2.1-0.8 2-0.8 2.1-0.8 2-0.8 2.1-0.7 2-0.8 2.1-0.8 2-0.8 2.1-0.8 2-0.8 2-0.9 2.1-0.8 2-0.8 2.1-0.8 2-0.8 2-0.9 2.1-0.8 2-0.8 2.1-0.9 2-0.8 2-0.9 2.1-0.8 2-0.9 2.1-0.8 2-0.9 2-0.9 2.1-0.9 2-0.8 2-0.9 2.1-0.9 2-0.9 2.1-0.9 2-0.9 2-0.9 2.1-0.9 2-0.9 2.1-0.9 2-0.9 2-1 2.1-0.9 2-0.9 2.1-0.9 2-1 2-0.9 2.1-1 2-0.9 2.1-1 2-1 2.1-0.9 2-1 2.1-1 2-0.9 2.1-1 2-1M475.5,278.3l-1-1.4-0.9-1.4-0.9-1.5-0.9-1.4-0.9-1.4-0.9-1.5-0.9-1.4-0.9-1.4-0.9-1.5-0.9-1.4-0.9-1.5-0.9-1.4-1-1.4-0.9-1.5-0.9-1.4-0.9-1.5-0.9-1.4-0.9-1.5-0.9-1.4-0.9-1.4-0.9-1.5-0.9-1.4-0.9-1.5-0.9-1.4-0.9-1.5-0.9-1.4-0.9-1.5-0.9-1.4-0.9-1.5-0.8-1.4-0.9-1.5-0.9-1.4-0.9-1.5-0.9-1.4-0.9-1.5-0.9-1.5-0.9-1.4-0.9-1.5-0.9-1.4-0.9-1.5-0.9-1.5-0.9-1.4-0.9-1.5-0.8-1.5-0.9-1.4-0.9-1.5-0.9-1.5-0.9-1.4-0.9-1.5-0.9-1.5-0.9-1.5-0.9-1.4-0.8-1.5-0.9-1.5-0.9-1.5-0.9-1.4-0.9-1.5-0.9-1.5-0.9-1.5-0.8-1.5-0.9-1.5-0.9-1.4-0.9-1.5-0.9-1.5-0.9-1.5-0.9-1.5-0.8-1.5-0.9-1.5-0.9-1.5-0.9-1.5-0.9-1.5-0.9-1.5-0.8-1.5-0.9-1.5-0.9-1.5-0.9-1.5-0.9-1.5-0.9-1.6-0.8-1.5-0.9-1.5-0.9-1.5-0.9-1.5-0.9-1.5-0.9-1.6-0.8-1.5-0.9-1.5-0.9-1.5-0.9-1.6-0.9-1.5-0.9-1.5-0.8-1.6-0.9-1.5-0.9-1.5-0.9-1.6-0.9-1.5-0.9-1.6-0.8-1.5-0.9-1.5-0.9-1.6-0.9-1.5M466.3,275.9l2.1-0.6 2.2-0.6 2.1-0.7 2.2-0.6 2.1-0.6 2.1-0.7 2.2-0.6 2.1-0.6 2.1-0.7 2.2-0.6 2.1-0.7 2.1-0.6 2.1-0.7 2.1-0.6 2.1-0.7 2.1-0.6 2.2-0.7 2.1-0.7 2.1-0.6 2.1-0.7 2-0.7 2.1-0.7 2.1-0.7 2.1-0.7 2.1-0.7 2.1-0.6 2.1-0.7 2.1-0.8 2-0.7 2.1-0.7 2.1-0.7 2.1-0.7 2-0.7 2.1-0.7 2.1-0.8 2-0.7 2.1-0.7 2-0.8 2.1-0.7 2.1-0.7 2-0.8 2.1-0.7 2-0.8 2.1-0.8 2-0.7 2.1-0.8 2-0.8 2.1-0.7 2-0.8 2.1-0.8 2-0.8 2.1-0.8 2-0.7 2.1-0.8 2-0.8 2-0.8 2.1-0.8 2-0.9 2.1-0.8 2-0.8 2-0.8 2.1-0.8 2-0.9 2-0.8 2.1-0.8 2-0.9 2-0.8 2.1-0.9 2-0.8 2-0.9 2.1-0.8 2-0.9 2-0.9 2.1-0.9 2-0.8 2.1-0.9 2-0.9 2-0.9 2.1-0.9 2-0.9 2-0.9 2.1-0.9 2-0.9 2-0.9 2.1-0.9 2-1 2.1-0.9 2-0.9 2-0.9 2.1-1 2-0.9 2.1-1 2-0.9 2-1 2.1-1 2-0.9 2.1-1 2-1 2.1-0.9 2-1M477.6,277.7l-0.9-1.4-0.9-1.5-0.9-1.4-0.9-1.4-1-1.5-0.9-1.4-0.9-1.4-0.9-1.5-0.9-1.4-0.9-1.4-0.9-1.5-0.9-1.4-0.9-1.4-0.9-1.5-0.9-1.4-0.9-1.4-1-1.5-0.9-1.4-0.9-1.4-0.9-1.5-0.9-1.4-0.9-1.5-0.9-1.4-0.9-1.5-0.9-1.4-0.9-1.4-0.9-1.5-0.9-1.4-0.9-1.5-0.9-1.4-0.9-1.5-0.9-1.4-0.9-1.5-0.8-1.4-0.9-1.5-0.9-1.4-0.9-1.5-0.9-1.4-0.9-1.5-0.9-1.5-0.9-1.4-0.9-1.5-0.9-1.4-0.9-1.5-0.9-1.5-0.9-1.4-0.9-1.5-0.8-1.4-0.9-1.5-0.9-1.5-0.9-1.5-0.9-1.4-0.9-1.5-0.9-1.5-0.9-1.4-0.9-1.5-0.9-1.5-0.8-1.5-0.9-1.4-0.9-1.5-0.9-1.5-0.9-1.5-0.9-1.5-0.9-1.5-0.8-1.5-0.9-1.4-0.9-1.5-0.9-1.5-0.9-1.5-0.9-1.5-0.9-1.5-0.8-1.5-0.9-1.5-0.9-1.5-0.9-1.5-0.9-1.5-0.9-1.5-0.9-1.5-0.8-1.5-0.9-1.5-0.9-1.5-0.9-1.6-0.9-1.5-0.9-1.5-0.8-1.5-0.9-1.5-0.9-1.6-0.9-1.5-0.9-1.5-0.9-1.5-0.8-1.6-0.9-1.5-0.9-1.5-0.9-1.6-0.9-1.5-0.9-1.5-0.9-1.6-0.8-1.5-0.9-1.6-0.9-1.5M465.4,274.4l2.1-0.6 2.2-0.6 2.1-0.6 2.2-0.6 2.1-0.6 2.1-0.7 2.2-0.6 2.1-0.6 2.1-0.7 2.1-0.6 2.1-0.7 2.2-0.6 2.1-0.7 2.1-0.6 2.1-0.7 2.1-0.6 2.1-0.7 2.1-0.6 2.1-0.7 2.1-0.7 2.1-0.7 2.1-0.6 2.1-0.7 2.1-0.7 2-0.7 2.1-0.7 2.1-0.7 2.1-0.7 2.1-0.7 2-0.7 2.1-0.7 2.1-0.7 2-0.7 2.1-0.7 2.1-0.8 2-0.7 2.1-0.7 2-0.7 2.1-0.8 2.1-0.7 2-0.8 2.1-0.7 2-0.8 2.1-0.7 2-0.8 2.1-0.7 2-0.8 2.1-0.8 2-0.7 2-0.8 2.1-0.8 2-0.8 2.1-0.8 2-0.7 2-0.8 2.1-0.8 2-0.8 2.1-0.8 2-0.9 2-0.8 2.1-0.8 2-0.8 2-0.8 2.1-0.9 2-0.8 2-0.8 2.1-0.9 2-0.8 2-0.9 2-0.8 2.1-0.9 2-0.8 2-0.9 2.1-0.9 2-0.8 2-0.9 2.1-0.9 2-0.9 2-0.9 2.1-0.9 2-0.9 2-0.9 2.1-0.9 2-0.9 2-0.9 2.1-0.9 2-0.9 2-1 2.1-0.9 2-0.9 2-1 2.1-0.9 2-1 2.1-0.9 2-1 2-0.9 2.1-1 2-1 2.1-1 2-0.9M479.8,277.1l-1-1.5-0.9-1.4-0.9-1.4-0.9-1.4-0.9-1.5-0.9-1.4-1-1.4-0.9-1.5-0.9-1.4-0.9-1.4-0.9-1.4-0.9-1.5-0.9-1.4-0.9-1.4-0.9-1.5-0.9-1.4-0.9-1.4-1-1.5-0.9-1.4-0.9-1.4-0.9-1.5-0.9-1.4-0.9-1.4-0.9-1.5-0.9-1.4-0.9-1.5-0.9-1.4-0.9-1.4-0.9-1.5-0.9-1.4-0.9-1.5-0.9-1.4-0.9-1.5-0.9-1.4-0.9-1.5-0.9-1.4-0.9-1.5-0.9-1.4-0.9-1.5-0.9-1.4-0.8-1.5-0.9-1.4-0.9-1.5-0.9-1.4-0.9-1.5-0.9-1.4-0.9-1.5-0.9-1.5-0.9-1.4-0.9-1.5-0.9-1.5-0.9-1.4-0.9-1.5-0.8-1.5-0.9-1.4-0.9-1.5-0.9-1.5-0.9-1.4-0.9-1.5-0.9-1.5-0.9-1.5-0.9-1.4-0.8-1.5-0.9-1.5-0.9-1.5-0.9-1.5-0.9-1.5-0.9-1.4-0.9-1.5-0.9-1.5-0.8-1.5-0.9-1.5-0.9-1.5-0.9-1.5-0.9-1.5-0.9-1.5-0.9-1.5-0.8-1.5-0.9-1.5-0.9-1.5-0.9-1.5-0.9-1.5-0.9-1.5-0.9-1.5-0.8-1.5-0.9-1.6-0.9-1.5-0.9-1.5-0.9-1.5-0.9-1.5-0.9-1.6-0.8-1.5-0.9-1.5-0.9-1.5-0.9-1.6-0.9-1.5-0.9-1.5-0.9-1.6-0.8-1.5-0.9-1.6M464.5,273l2.1-0.6 2.2-0.6 2.1-0.6 2.1-0.7 2.2-0.6 2.1-0.6 2.1-0.6 2.2-0.7 2.1-0.6 2.1-0.6 2.1-0.7 2.1-0.6 2.1-0.6 2.2-0.7 2.1-0.6 2.1-0.7 2.1-0.6 2.1-0.7 2.1-0.7 2-0.6 2.1-0.7 2.1-0.7 2.1-0.7 2.1-0.6 2.1-0.7 2.1-0.7 2-0.7 2.1-0.7 2.1-0.7 2-0.7 2.1-0.7 2.1-0.7 2-0.7 2.1-0.7 2.1-0.7 2-0.8 2.1-0.7 2-0.7 2.1-0.7 2.1-0.8 2-0.7 2.1-0.8 2-0.7 2.1-0.8 2-0.7 2-0.8 2.1-0.7 2-0.8 2.1-0.8 2-0.7 2-0.8 2.1-0.8 2-0.8 2.1-0.8 2-0.7 2-0.8 2.1-0.8 2-0.8 2-0.8 2.1-0.8 2-0.9 2-0.8 2-0.8 2.1-0.8 2-0.9 2-0.8 2.1-0.8 2-0.9 2-0.8 2-0.9 2.1-0.8 2-0.9 2-0.8 2.1-0.9 2-0.9 2-0.8 2-0.9 2.1-0.9 2-0.9 2-0.9 2-0.9 2.1-0.9 2-0.9 2-0.9 2.1-0.9 2-0.9 2-0.9 2.1-0.9 2-1 2-0.9 2.1-0.9 2-1 2-0.9 2.1-1 2-0.9 2-1 2.1-0.9 2-1 2.1-1 2-0.9M481.9,276.4l-0.9-1.4-0.9-1.4-1-1.5-0.9-1.4-0.9-1.4-0.9-1.4-0.9-1.4-0.9-1.5-1-1.4-0.9-1.4-0.9-1.4-0.9-1.5-0.9-1.4-0.9-1.4-0.9-1.4-0.9-1.5-0.9-1.4-1-1.4-0.9-1.5-0.9-1.4-0.9-1.4-0.9-1.5-0.9-1.4-0.9-1.4-0.9-1.5-0.9-1.4-0.9-1.4-0.9-1.5-0.9-1.4-0.9-1.4-0.9-1.5-0.9-1.4-0.9-1.5-0.9-1.4-0.9-1.4-0.9-1.5-0.9-1.4-0.9-1.5-0.9-1.4-0.9-1.5-0.9-1.4-0.9-1.5-0.9-1.4-0.9-1.5-0.9-1.4-0.9-1.5-0.9-1.4-0.9-1.5-0.9-1.4-0.8-1.5-0.9-1.5-0.9-1.4-0.9-1.5-0.9-1.4-0.9-1.5-0.9-1.5-0.9-1.4-0.9-1.5-0.9-1.5-0.9-1.4-0.8-1.5-0.9-1.5-0.9-1.5-0.9-1.4-0.9-1.5-0.9-1.5-0.9-1.5-0.9-1.5-0.9-1.4-0.8-1.5-0.9-1.5-0.9-1.5-0.9-1.5-0.9-1.5-0.9-1.5-0.9-1.5-0.9-1.5-0.8-1.5-0.9-1.5-0.9-1.5-0.9-1.5-0.9-1.5-0.9-1.5-0.9-1.5-0.8-1.5-0.9-1.5-0.9-1.5-0.9-1.5-0.9-1.5-0.9-1.6-0.9-1.5-0.9-1.5-0.8-1.5-0.9-1.5-0.9-1.6-0.9-1.5-0.9-1.5-0.9-1.6-0.9-1.5-0.8-1.5M463.6,271.5l2.1-0.6 2.2-0.6 2.1-0.6 2.1-0.6 2.2-0.6 2.1-0.6 2.1-0.6 2.1-0.7 2.2-0.6 2.1-0.6 2.1-0.7 2.1-0.6 2.1-0.6 2.1-0.7 2.1-0.6 2.1-0.7 2.1-0.6 2.1-0.7 2.1-0.6 2.1-0.7 2.1-0.7 2.1-0.6 2.1-0.7 2-0.7 2.1-0.7 2.1-0.6 2.1-0.7 2-0.7 2.1-0.7 2.1-0.7 2-0.7 2.1-0.7 2.1-0.7 2-0.7 2.1-0.7 2-0.7 2.1-0.8 2-0.7 2.1-0.7 2-0.7 2.1-0.8 2-0.7 2.1-0.8 2-0.7 2.1-0.8 2-0.7 2.1-0.8 2-0.7 2-0.8 2.1-0.8 2-0.7 2-0.8 2.1-0.8 2-0.8 2-0.7 2.1-0.8 2-0.8 2-0.8 2.1-0.8 2-0.8 2-0.8 2-0.9 2.1-0.8 2-0.8 2-0.8 2-0.8 2.1-0.9 2-0.8 2-0.9 2-0.8 2.1-0.8 2-0.9 2-0.9 2-0.8 2.1-0.9 2-0.8 2-0.9 2-0.9 2.1-0.9 2-0.9 2-0.9 2-0.8 2.1-0.9 2-0.9 2-0.9 2-1 2.1-0.9 2-0.9 2-0.9 2.1-0.9 2-1 2-0.9 2-1 2.1-0.9 2-0.9 2-1 2.1-1 2-0.9 2.1-1 2-1M484,275.8l-0.9-1.5-0.9-1.4-0.9-1.4-0.9-1.4-1-1.4-0.9-1.4-0.9-1.5-0.9-1.4-0.9-1.4-1-1.4-0.9-1.4-0.9-1.5-0.9-1.4-0.9-1.4-0.9-1.4-0.9-1.4-0.9-1.5-1-1.4-0.9-1.4-0.9-1.4-0.9-1.5-0.9-1.4-0.9-1.4-0.9-1.5-0.9-1.4-0.9-1.4-0.9-1.4-0.9-1.5-0.9-1.4-0.9-1.4-0.9-1.5-0.9-1.4-0.9-1.4-0.9-1.5-0.9-1.4-0.9-1.5-0.9-1.4-0.9-1.4-0.9-1.5-0.9-1.4-0.9-1.5-0.9-1.4-0.9-1.5-0.9-1.4-0.9-1.5-0.9-1.4-0.9-1.5-0.9-1.4-0.9-1.5-0.9-1.4-0.9-1.5-0.9-1.4-0.9-1.5-0.9-1.4-0.9-1.5-0.9-1.5-0.9-1.4-0.9-1.5-0.8-1.4-0.9-1.5-0.9-1.5-0.9-1.5-0.9-1.4-0.9-1.5-0.9-1.5-0.9-1.4-0.9-1.5-0.9-1.5-0.8-1.5-0.9-1.4-0.9-1.5-0.9-1.5-0.9-1.5-0.9-1.5-0.9-1.5-0.9-1.5-0.9-1.5-0.8-1.4-0.9-1.5-0.9-1.5-0.9-1.5-0.9-1.5-0.9-1.5-0.9-1.5-0.9-1.5-0.8-1.5-0.9-1.5-0.9-1.6-0.9-1.5-0.9-1.5-0.9-1.5-0.9-1.5-0.9-1.5-0.8-1.5-0.9-1.6-0.9-1.5-0.9-1.5-0.9-1.5-0.9-1.6-0.9-1.5M462.7,270.1l2.1-0.6 2.1-0.6 2.2-0.6 2.1-0.6 2.1-0.6 2.2-0.6 2.1-0.7 2.1-0.6 2.1-0.6 2.2-0.6 2.1-0.7 2.1-0.6 2.1-0.6 2.1-0.7 2.1-0.6 2.1-0.6 2.1-0.7 2.1-0.6 2.1-0.7 2-0.7 2.1-0.6 2.1-0.7 2.1-0.6 2.1-0.7 2-0.7 2.1-0.7 2.1-0.7 2.1-0.6 2-0.7 2.1-0.7 2.1-0.7 2-0.7 2.1-0.7 2-0.7 2.1-0.7 2-0.7 2.1-0.7 2-0.8 2.1-0.7 2-0.7 2.1-0.7 2-0.8 2.1-0.7 2-0.8 2.1-0.7 2-0.7 2-0.8 2.1-0.8 2-0.7 2-0.8 2.1-0.7 2-0.8 2-0.8 2.1-0.8 2-0.7 2-0.8 2-0.8 2.1-0.8 2-0.8 2-0.8 2.1-0.8 2-0.8 2-0.8 2-0.9 2-0.8 2.1-0.8 2-0.8 2-0.9 2-0.8 2-0.8 2.1-0.9 2-0.8 2-0.9 2-0.8 2.1-0.9 2-0.9 2-0.8 2-0.9 2-0.9 2.1-0.9 2-0.8 2-0.9 2-0.9 2-0.9 2.1-0.9 2-0.9 2-0.9 2-1 2.1-0.9 2-0.9 2-0.9 2-1 2.1-0.9 2-0.9 2-1 2.1-0.9 2-1 2-0.9 2.1-1 2-1M486.2,275.1l-0.9-1.4-1-1.4-0.9-1.4-0.9-1.4-0.9-1.5-1-1.4-0.9-1.4-0.9-1.4-0.9-1.4-0.9-1.4-1-1.4-0.9-1.5-0.9-1.4-0.9-1.4-0.9-1.4-0.9-1.4-0.9-1.4-1-1.5-0.9-1.4-0.9-1.4-0.9-1.4-0.9-1.4-0.9-1.5-0.9-1.4-0.9-1.4-0.9-1.4-0.9-1.5-0.9-1.4-1-1.4-0.9-1.5-0.9-1.4-0.9-1.4-0.9-1.4-0.9-1.5-0.9-1.4-0.9-1.4-0.9-1.5-0.9-1.4-0.9-1.5-0.9-1.4-0.9-1.4-0.9-1.5-0.9-1.4-0.9-1.5-0.9-1.4-0.9-1.4-0.9-1.5-0.9-1.4-0.9-1.5-0.9-1.4-0.9-1.5-0.9-1.4-0.9-1.5-0.9-1.4-0.8-1.5-0.9-1.4-0.9-1.5-0.9-1.5-0.9-1.4-0.9-1.5-0.9-1.4-0.9-1.5-0.9-1.5-0.9-1.4-0.9-1.5-0.9-1.5-0.9-1.4-0.9-1.5-0.8-1.5-0.9-1.5-0.9-1.4-0.9-1.5-0.9-1.5-0.9-1.5-0.9-1.5-0.9-1.5-0.9-1.4-0.8-1.5-0.9-1.5-0.9-1.5-0.9-1.5-0.9-1.5-0.9-1.5-0.9-1.5-0.9-1.5-0.9-1.5-0.8-1.5-0.9-1.5-0.9-1.5-0.9-1.5-0.9-1.5-0.9-1.5-0.9-1.5-0.9-1.5-0.9-1.6-0.8-1.5-0.9-1.5-0.9-1.5-0.9-1.6-0.9-1.5M461.8,268.6l2.1-0.6 2.1-0.5 2.2-0.6 2.1-0.7 2.1-0.6 2.2-0.6 2.1-0.6 2.1-0.6 2.1-0.6 2.1-0.6 2.1-0.7 2.1-0.6 2.1-0.6 2.1-0.6 2.1-0.7 2.1-0.6 2.1-0.7 2.1-0.6 2.1-0.7 2.1-0.6 2.1-0.7 2.1-0.6 2-0.7 2.1-0.7 2.1-0.6 2.1-0.7 2-0.7 2.1-0.7 2.1-0.6 2-0.7 2.1-0.7 2-0.7 2.1-0.7 2.1-0.7 2-0.7 2.1-0.7 2-0.7 2.1-0.7 2-0.8 2-0.7 2.1-0.7 2-0.7 2.1-0.8 2-0.7 2-0.7 2.1-0.8 2-0.7 2-0.8 2.1-0.7 2-0.8 2-0.8 2.1-0.7 2-0.8 2-0.8 2-0.7 2.1-0.8 2-0.8 2-0.8 2-0.8 2.1-0.8 2-0.8 2-0.8 2-0.8 2-0.8 2.1-0.8 2-0.9 2-0.8 2-0.8 2-0.8 2.1-0.9 2-0.8 2-0.9 2-0.8 2-0.9 2-0.8 2.1-0.9 2-0.8 2-0.9 2-0.9 2-0.9 2-0.8 2.1-0.9 2-0.9 2-0.9 2-0.9 2-0.9 2.1-0.9 2-0.9 2-0.9 2-1 2-0.9 2.1-0.9 2-0.9 2-1 2-0.9 2.1-1 2-0.9 2-1 2.1-0.9 2-1M488.3,274.5l-0.9-1.5-0.9-1.4-1-1.4-0.9-1.4-0.9-1.4-0.9-1.4-1-1.4-0.9-1.4-0.9-1.4-0.9-1.4-0.9-1.4-1-1.5-0.9-1.4-0.9-1.4-0.9-1.4-0.9-1.4-0.9-1.4-1-1.4-0.9-1.4-0.9-1.5-0.9-1.4-0.9-1.4-0.9-1.4-0.9-1.4-1-1.5-0.9-1.4-0.9-1.4-0.9-1.4-0.9-1.4-0.9-1.5-0.9-1.4-0.9-1.4-0.9-1.4-0.9-1.5-0.9-1.4-0.9-1.4-0.9-1.5-0.9-1.4-0.9-1.4-0.9-1.5-0.9-1.4-0.9-1.4-0.9-1.5-0.9-1.4-0.9-1.4-0.9-1.5-0.9-1.4-0.9-1.5-0.9-1.4-0.9-1.4-0.9-1.5-0.9-1.4-0.9-1.5-0.9-1.4-0.9-1.5-0.9-1.4-0.9-1.5-0.9-1.4-0.9-1.5-0.9-1.5-0.9-1.4-0.9-1.5-0.9-1.4-0.9-1.5-0.9-1.5-0.9-1.4-0.9-1.5-0.8-1.5-0.9-1.4-0.9-1.5-0.9-1.5-0.9-1.4-0.9-1.5-0.9-1.5-0.9-1.5-0.9-1.4-0.9-1.5-0.9-1.5-0.8-1.5-0.9-1.5-0.9-1.5-0.9-1.5-0.9-1.4-0.9-1.5-0.9-1.5-0.9-1.5-0.9-1.5-0.9-1.5-0.8-1.5-0.9-1.5-0.9-1.5-0.9-1.5-0.9-1.5-0.9-1.6-0.9-1.5-0.9-1.5-0.9-1.5-0.8-1.5-0.9-1.5-0.9-1.6M460.9,267.2l2.1-0.6 2.1-0.6 2.2-0.6 2.1-0.6 2.1-0.6 2.1-0.6 2.2-0.6 2.1-0.6 2.1-0.6 2.1-0.6 2.1-0.7 2.1-0.6 2.1-0.6 2.1-0.6 2.1-0.7 2.1-0.6 2.1-0.6 2.1-0.7 2.1-0.6 2-0.7 2.1-0.6 2.1-0.7 2.1-0.6 2.1-0.7 2-0.7 2.1-0.6 2.1-0.7 2-0.7 2.1-0.7 2-0.6 2.1-0.7 2.1-0.7 2-0.7 2.1-0.7 2-0.7 2.1-0.7 2-0.7 2.1-0.7 2-0.7 2-0.8 2.1-0.7 2-0.7 2.1-0.7 2-0.8 2-0.7 2.1-0.7 2-0.8 2-0.7 2-0.8 2.1-0.7 2-0.8 2-0.7 2.1-0.8 2-0.8 2-0.8 2-0.7 2-0.8 2.1-0.8 2-0.8 2-0.8 2-0.8 2-0.8 2.1-0.8 2-0.8 2-0.8 2-0.8 2-0.8 2-0.9 2-0.8 2.1-0.8 2-0.8 2-0.9 2-0.8 2-0.9 2-0.8 2-0.9 2.1-0.8 2-0.9 2-0.9 2-0.8 2-0.9 2-0.9 2-0.9 2.1-0.9 2-0.9 2-0.9 2-0.9 2-0.9 2-0.9 2.1-0.9 2-0.9 2-0.9 2-1 2-0.9 2.1-0.9 2-1 2-0.9 2-1 2.1-0.9 2-1M490.4,273.8l-0.9-1.4-0.9-1.4-0.9-1.4-1-1.4-0.9-1.4-0.9-1.4-0.9-1.4-1-1.4-0.9-1.4-0.9-1.4-0.9-1.4-1-1.5-0.9-1.4-0.9-1.4-0.9-1.4-0.9-1.4-1-1.4-0.9-1.4-0.9-1.4-0.9-1.4-0.9-1.4-0.9-1.5-1-1.4-0.9-1.4-0.9-1.4-0.9-1.4-0.9-1.4-0.9-1.4-0.9-1.5-0.9-1.4-0.9-1.4-0.9-1.4-1-1.4-0.9-1.5-0.9-1.4-0.9-1.4-0.9-1.4-0.9-1.5-0.9-1.4-0.9-1.4-0.9-1.5-0.9-1.4-0.9-1.4-0.9-1.5-0.9-1.4-0.9-1.4-0.9-1.5-0.9-1.4-0.9-1.4-0.9-1.5-0.9-1.4-0.9-1.5-0.9-1.4-0.9-1.4-0.9-1.5-0.9-1.4-0.9-1.5-0.9-1.4-0.9-1.5-0.9-1.4-0.9-1.5-0.9-1.4-0.9-1.5-0.9-1.5-0.9-1.4-0.9-1.5-0.9-1.4-0.8-1.5-0.9-1.5-0.9-1.4-0.9-1.5-0.9-1.5-0.9-1.4-0.9-1.5-0.9-1.5-0.9-1.4-0.9-1.5-0.9-1.5-0.9-1.5-0.9-1.5-0.8-1.4-0.9-1.5-0.9-1.5-0.9-1.5-0.9-1.5-0.9-1.5-0.9-1.5-0.9-1.5-0.9-1.5-0.9-1.5-0.8-1.5-0.9-1.5-0.9-1.5-0.9-1.5-0.9-1.5-0.9-1.5-0.9-1.5-0.9-1.5-0.9-1.5-0.9-1.5M460,265.7l2.1-0.5 2.1-0.6 2.2-0.6 2.1-0.6 2.1-0.6 2.1-0.6 2.1-0.6 2.2-0.6 2.1-0.6 2.1-0.6 2.1-0.7 2.1-0.6 2.1-0.6 2.1-0.6 2.1-0.6 2.1-0.7 2.1-0.6 2-0.6 2.1-0.7 2.1-0.6 2.1-0.7 2.1-0.6 2-0.7 2.1-0.6 2.1-0.7 2-0.7 2.1-0.6 2.1-0.7 2-0.7 2.1-0.7 2-0.6 2.1-0.7 2-0.7 2.1-0.7 2-0.7 2.1-0.7 2-0.7 2.1-0.7 2-0.7 2-0.7 2.1-0.7 2-0.8 2-0.7 2.1-0.7 2-0.7 2-0.8 2.1-0.7 2-0.8 2-0.7 2-0.8 2.1-0.7 2-0.8 2-0.7 2-0.8 2.1-0.8 2-0.7 2-0.8 2-0.8 2-0.8 2-0.8 2.1-0.7 2-0.8 2-0.8 2-0.8 2-0.9 2-0.8 2-0.8 2-0.8 2.1-0.8 2-0.8 2-0.9 2-0.8 2-0.9 2-0.8 2-0.8 2-0.9 2-0.9 2.1-0.8 2-0.9 2-0.8 2-0.9 2-0.9 2-0.9 2-0.9 2-0.9 2-0.8 2.1-0.9 2-0.9 2-1 2-0.9 2-0.9 2-0.9 2-0.9 2.1-0.9 2-1 2-0.9 2-1 2-0.9 2.1-1 2-0.9M492.6,273.1l-1-1.4-0.9-1.4-0.9-1.4-1-1.4-0.9-1.4-0.9-1.4-0.9-1.4-1-1.4-0.9-1.4-0.9-1.4-0.9-1.4-1-1.4-0.9-1.4-0.9-1.4-0.9-1.4-0.9-1.4-1-1.4-0.9-1.4-0.9-1.4-0.9-1.4-0.9-1.4-1-1.4-0.9-1.4-0.9-1.4-0.9-1.4-0.9-1.5-0.9-1.4-0.9-1.4-1-1.4-0.9-1.4-0.9-1.4-0.9-1.4-0.9-1.5-0.9-1.4-0.9-1.4-0.9-1.4-0.9-1.4-0.9-1.5-0.9-1.4-1-1.4-0.9-1.4-0.9-1.5-0.9-1.4-0.9-1.4-0.9-1.4-0.9-1.5-0.9-1.4-0.9-1.4-0.9-1.5-0.9-1.4-0.9-1.4-0.9-1.5-0.9-1.4-0.9-1.5-0.9-1.4-0.9-1.4-0.9-1.5-0.9-1.4-0.9-1.5-0.9-1.4-0.9-1.5-0.9-1.4-0.9-1.5-0.9-1.4-0.9-1.5-0.9-1.4-0.9-1.5-0.8-1.4-0.9-1.5-0.9-1.5-0.9-1.4-0.9-1.5-0.9-1.4-0.9-1.5-0.9-1.5-0.9-1.5-0.9-1.4-0.9-1.5-0.9-1.5-0.9-1.4-0.9-1.5-0.9-1.5-0.8-1.5-0.9-1.5-0.9-1.4-0.9-1.5-0.9-1.5-0.9-1.5-0.9-1.5-0.9-1.5-0.9-1.5-0.9-1.5-0.9-1.5-0.9-1.5-0.8-1.5-0.9-1.5-0.9-1.5-0.9-1.5-0.9-1.5-0.9-1.5M459.1,264.3l2.1-0.6 2.1-0.6 2.2-0.6 2.1-0.6 2.1-0.5 2.1-0.6 2.1-0.6 2.1-0.6 2.2-0.6 2.1-0.6 2.1-0.7 2.1-0.6 2.1-0.6 2.1-0.6 2-0.6 2.1-0.7 2.1-0.6 2.1-0.6 2.1-0.7 2.1-0.6 2-0.6 2.1-0.7 2.1-0.6 2-0.7 2.1-0.6 2.1-0.7 2-0.7 2.1-0.6 2-0.7 2.1-0.7 2.1-0.6 2-0.7 2.1-0.7 2-0.7 2-0.7 2.1-0.7 2-0.7 2.1-0.7 2-0.7 2-0.7 2.1-0.7 2-0.7 2-0.7 2.1-0.8 2-0.7 2-0.7 2.1-0.8 2-0.7 2-0.7 2-0.8 2-0.7 2.1-0.8 2-0.7 2-0.8 2-0.8 2-0.7 2-0.8 2.1-0.8 2-0.8 2-0.7 2-0.8 2-0.8 2-0.8 2-0.8 2-0.8 2-0.8 2.1-0.8 2-0.8 2-0.9 2-0.8 2-0.8 2-0.8 2-0.9 2-0.8 2-0.9 2-0.8 2-0.9 2-0.8 2-0.9 2.1-0.8 2-0.9 2-0.9 2-0.9 2-0.8 2-0.9 2-0.9 2-0.9 2-0.9 2-0.9 2-0.9 2.1-0.9 2-0.9 2-1 2-0.9 2-0.9 2-0.9 2-1 2.1-0.9 2-1 2-0.9M494.7,272.5l-0.9-1.4-1-1.4-0.9-1.4-0.9-1.4-1-1.4-0.9-1.4-0.9-1.4-1-1.4-0.9-1.4-0.9-1.4-0.9-1.4-1-1.4-0.9-1.4-0.9-1.4-0.9-1.4-1-1.4-0.9-1.4-0.9-1.4-0.9-1.4-0.9-1.4-1-1.4-0.9-1.4-0.9-1.4-0.9-1.4-0.9-1.4-1-1.4-0.9-1.4-0.9-1.4-0.9-1.4-0.9-1.4-0.9-1.4-0.9-1.5-0.9-1.4-1-1.4-0.9-1.4-0.9-1.4-0.9-1.4-0.9-1.4-0.9-1.5-0.9-1.4-0.9-1.4-0.9-1.4-0.9-1.4-0.9-1.5-0.9-1.4-1-1.4-0.9-1.4-0.9-1.5-0.9-1.4-0.9-1.4-0.9-1.5-0.9-1.4-0.9-1.4-0.9-1.5-0.9-1.4-0.9-1.4-0.9-1.5-0.9-1.4-0.9-1.5-0.9-1.4-0.9-1.4-0.9-1.5-0.9-1.4-0.9-1.5-0.9-1.4-0.9-1.5-0.9-1.4-0.9-1.5-0.9-1.4-0.8-1.5-0.9-1.4-0.9-1.5-0.9-1.5-0.9-1.4-0.9-1.5-0.9-1.5-0.9-1.4-0.9-1.5-0.9-1.5-0.9-1.4-0.9-1.5-0.9-1.5-0.9-1.5-0.9-1.4-0.9-1.5-0.9-1.5-0.8-1.5-0.9-1.5-0.9-1.4-0.9-1.5-0.9-1.5-0.9-1.5-0.9-1.5-0.9-1.5-0.9-1.5-0.9-1.5-0.9-1.5-0.9-1.5-0.8-1.5-0.9-1.5M458.2,262.8l2.1-0.5 2.1-0.6 2.2-0.6 2.1-0.6 2.1-0.6 2.1-0.6 2.1-0.6 2.1-0.6 2.1-0.6 2.1-0.6 2.1-0.6 2.1-0.6 2.1-0.6 2.1-0.6 2.1-0.6 2.1-0.6 2.1-0.7 2.1-0.6 2-0.6 2.1-0.7 2.1-0.6 2.1-0.6 2-0.7 2.1-0.6 2-0.7 2.1-0.6 2.1-0.7 2-0.7 2.1-0.6 2-0.7 2.1-0.7 2-0.6 2.1-0.7 2-0.7 2.1-0.7 2-0.7 2-0.7 2.1-0.7 2-0.7 2-0.7 2.1-0.7 2-0.7 2-0.7 2.1-0.7 2-0.7 2-0.8 2-0.7 2.1-0.7 2-0.8 2-0.7 2-0.8 2-0.7 2-0.8 2.1-0.7 2-0.8 2-0.7 2-0.8 2-0.8 2-0.7 2-0.8 2-0.8 2-0.8 2.1-0.8 2-0.8 2-0.8 2-0.8 2-0.8 2-0.8 2-0.8 2-0.8 2-0.9 2-0.8 2-0.8 2-0.8 2-0.9 2-0.8 2-0.9 2-0.8 2-0.9 2-0.8 2-0.9 2-0.9 2-0.8 2-0.9 2.1-0.9 2-0.9 2-0.9 2-0.9 2-0.9 2-0.9 2-0.9 2-0.9 2-0.9 2-0.9 2-1 2-0.9 2.1-0.9 2-0.9 2-1 2-0.9M496.8,271.8l-0.9-1.4-1-1.4-0.9-1.4-0.9-1.4-1-1.3-0.9-1.4-0.9-1.4-1-1.4-0.9-1.4-0.9-1.4-0.9-1.4-1-1.4-0.9-1.4-0.9-1.4-1-1.4-0.9-1.4-0.9-1.4-0.9-1.3-0.9-1.4-1-1.4-0.9-1.4-0.9-1.4-0.9-1.4-1-1.4-0.9-1.4-0.9-1.4-0.9-1.4-0.9-1.5-0.9-1.4-1-1.4-0.9-1.4-0.9-1.4-0.9-1.4-0.9-1.4-0.9-1.4-0.9-1.4-0.9-1.4-1-1.4-0.9-1.4-0.9-1.5-0.9-1.4-0.9-1.4-0.9-1.4-0.9-1.4-0.9-1.5-0.9-1.4-0.9-1.4-0.9-1.4-0.9-1.4-0.9-1.5-1-1.4-0.9-1.4-0.9-1.4-0.9-1.5-0.9-1.4-0.9-1.4-0.9-1.5-0.9-1.4-0.9-1.4-0.9-1.5-0.9-1.4-0.9-1.5-0.9-1.4-0.9-1.4-0.9-1.5-0.9-1.4-0.9-1.5-0.9-1.4-0.9-1.5-0.9-1.4-0.9-1.5-0.9-1.4-0.8-1.5-0.9-1.5-0.9-1.4-0.9-1.5-0.9-1.4-0.9-1.5-0.9-1.5-0.9-1.4-0.9-1.5-0.9-1.5-0.9-1.4-0.9-1.5-0.9-1.5-0.9-1.5-0.9-1.4-0.9-1.5-0.9-1.5-0.9-1.5-0.9-1.5-0.8-1.5-0.9-1.4-0.9-1.5-0.9-1.5-0.9-1.5-0.9-1.5-0.9-1.5-0.9-1.5-0.9-1.5M457.3,261.4l2.1-0.6 2.1-0.6 2.1-0.5 2.2-0.6 2.1-0.6 2.1-0.6 2.1-0.6 2.1-0.6 2.1-0.6 2.1-0.6 2.1-0.6 2.1-0.6 2.1-0.6 2.1-0.6 2.1-0.6 2.1-0.6 2-0.6 2.1-0.7 2.1-0.6 2.1-0.6 2-0.6 2.1-0.7 2.1-0.6 2-0.7 2.1-0.6 2.1-0.7 2-0.6 2.1-0.7 2-0.6 2.1-0.7 2-0.7 2.1-0.6 2-0.7 2-0.7 2.1-0.7 2-0.7 2.1-0.6 2-0.7 2-0.7 2-0.7 2.1-0.7 2-0.7 2-0.8 2.1-0.7 2-0.7 2-0.7 2-0.7 2-0.8 2.1-0.7 2-0.7 2-0.8 2-0.7 2-0.8 2-0.7 2-0.8 2-0.7 2.1-0.8 2-0.8 2-0.7 2-0.8 2-0.8 2-0.8 2-0.8 2-0.7 2-0.8 2-0.8 2-0.8 2-0.8 2-0.9 2-0.8 2-0.8 2-0.8 2-0.8 2-0.9 2-0.8 2-0.8 2-0.9 2-0.8 2-0.9 2-0.8 2-0.9 2-0.9 2-0.8 2-0.9 2-0.9 2-0.9 2-0.8 2-0.9 2-0.9 2-0.9 2-0.9 2-0.9 2-1 2.1-0.9 2-0.9 2-0.9 2-0.9 2-1 2-0.9 2-1M498.9,271.1l-0.9-1.4-0.9-1.3-1-1.4-0.9-1.4-0.9-1.4-1-1.4-0.9-1.4-1-1.3-0.9-1.4-0.9-1.4-0.9-1.4-1-1.4-0.9-1.4-0.9-1.4-1-1.4-0.9-1.4-0.9-1.3-0.9-1.4-1-1.4-0.9-1.4-0.9-1.4-0.9-1.4-1-1.4-0.9-1.4-0.9-1.4-0.9-1.4-1-1.4-0.9-1.4-0.9-1.4-0.9-1.4-0.9-1.4-0.9-1.4-1-1.4-0.9-1.4-0.9-1.4-0.9-1.4-0.9-1.4-0.9-1.4-0.9-1.4-0.9-1.4-1-1.5-0.9-1.4-0.9-1.4-0.9-1.4-0.9-1.4-0.9-1.4-0.9-1.4-0.9-1.5-0.9-1.4-0.9-1.4-0.9-1.4-0.9-1.4-1-1.5-0.9-1.4-0.9-1.4-0.9-1.5-0.9-1.4-0.9-1.4-0.9-1.4-0.9-1.5-0.9-1.4-0.9-1.4-0.9-1.5-0.9-1.4-0.9-1.5-0.9-1.4-0.9-1.4-0.9-1.5-0.9-1.4-0.9-1.5-0.9-1.4-0.9-1.5-0.9-1.4-0.9-1.5-0.9-1.4-0.9-1.5-0.9-1.4-0.9-1.5-0.9-1.5-0.8-1.4-0.9-1.5-0.9-1.4-0.9-1.5-0.9-1.5-0.9-1.5-0.9-1.4-0.9-1.5-0.9-1.5-0.9-1.4-0.9-1.5-0.9-1.5-0.9-1.5-0.9-1.5-0.9-1.5-0.9-1.4-0.9-1.5-0.9-1.5-0.9-1.5-0.8-1.5-0.9-1.5M456.4,259.9l2.1-0.5 2.1-0.6 2.1-0.6 2.2-0.6 2.1-0.5 2.1-0.6 2.1-0.6 2.1-0.6 2.1-0.6 2.1-0.6 2.1-0.6 2.1-0.6 2.1-0.6 2.1-0.6 2-0.6 2.1-0.6 2.1-0.6 2.1-0.6 2.1-0.7 2-0.6 2.1-0.6 2.1-0.6 2-0.7 2.1-0.6 2-0.7 2.1-0.6 2-0.6 2.1-0.7 2-0.7 2.1-0.6 2-0.7 2.1-0.6 2-0.7 2.1-0.7 2-0.7 2-0.6 2.1-0.7 2-0.7 2-0.7 2.1-0.7 2-0.7 2-0.7 2-0.7 2-0.7 2.1-0.7 2-0.8 2-0.7 2-0.7 2-0.7 2.1-0.8 2-0.7 2-0.7 2-0.8 2-0.7 2-0.8 2-0.7 2-0.8 2-0.8 2-0.7 2-0.8 2-0.8 2-0.7 2-0.8 2-0.8 2-0.8 2-0.8 2-0.8 2-0.8 2-0.8 2-0.8 2-0.8 2-0.8 2-0.9 2-0.8 2-0.8 2-0.9 2-0.8 2-0.8 2-0.9 2-0.8 2-0.9 2-0.9 2-0.8 2-0.9 2-0.9 2-0.8 2-0.9 2-0.9 2-0.9 2-0.9 2-0.9 2-0.9 2-0.9 2-0.9 2-0.9 2-0.9 2-1 2-0.9 2-0.9 2-1M501.1,270.5l-1-1.4-0.9-1.4-1-1.4-0.9-1.4-0.9-1.3-1-1.4-0.9-1.4-1-1.4-0.9-1.4-0.9-1.3-1-1.4-0.9-1.4-0.9-1.4-1-1.4-0.9-1.4-0.9-1.4-0.9-1.3-1-1.4-0.9-1.4-0.9-1.4-1-1.4-0.9-1.4-0.9-1.4-0.9-1.4-1-1.4-0.9-1.3-0.9-1.4-0.9-1.4-0.9-1.4-1-1.4-0.9-1.4-0.9-1.4-0.9-1.4-0.9-1.4-0.9-1.4-1-1.4-0.9-1.4-0.9-1.4-0.9-1.4-0.9-1.4-0.9-1.4-0.9-1.5-1-1.4-0.9-1.4-0.9-1.4-0.9-1.4-0.9-1.4-0.9-1.4-0.9-1.4-0.9-1.4-0.9-1.5-0.9-1.4-0.9-1.4-1-1.4-0.9-1.4-0.9-1.5-0.9-1.4-0.9-1.4-0.9-1.4-0.9-1.5-0.9-1.4-0.9-1.4-0.9-1.5-0.9-1.4-0.9-1.4-0.9-1.5-0.9-1.4-0.9-1.4-0.9-1.5-0.9-1.4-0.9-1.5-0.9-1.4-0.9-1.5-0.9-1.4-0.9-1.5-0.9-1.4-0.9-1.5-0.9-1.4-0.9-1.5-0.9-1.4-0.9-1.5-0.9-1.4-0.9-1.5-0.9-1.5-0.9-1.4-0.9-1.5-0.9-1.5-0.9-1.4-0.8-1.5-0.9-1.5-0.9-1.5-0.9-1.4-0.9-1.5-0.9-1.5-0.9-1.5-0.9-1.5-0.9-1.4-0.9-1.5-0.9-1.5-0.9-1.5M455.5,258.5l2.1-0.6 2.1-0.6 2.1-0.5 2.2-0.6 2.1-0.6 2.1-0.5 2.1-0.6 2.1-0.6 2.1-0.6 2.1-0.6 2.1-0.6 2.1-0.6 2-0.6 2.1-0.6 2.1-0.6 2.1-0.6 2.1-0.6 2-0.6 2.1-0.6 2.1-0.6 2-0.7 2.1-0.6 2.1-0.6 2-0.7 2.1-0.6 2-0.6 2.1-0.7 2-0.6 2.1-0.7 2-0.6 2.1-0.7 2-0.7 2-0.6 2.1-0.7 2-0.7 2-0.6 2.1-0.7 2-0.7 2-0.7 2.1-0.7 2-0.7 2-0.7 2-0.7 2-0.7 2.1-0.7 2-0.7 2-0.7 2-0.7 2-0.8 2-0.7 2-0.7 2-0.8 2.1-0.7 2-0.7 2-0.8 2-0.7 2-0.8 2-0.7 2-0.8 2-0.8 2-0.7 2-0.8 2-0.8 2-0.8 2-0.8 2-0.8 2-0.7 2-0.8 2-0.8 1.9-0.9 2-0.8 2-0.8 2-0.8 2-0.8 2-0.8 2-0.9 2-0.8 2-0.8 2-0.9 2-0.8 2-0.9 2-0.8 2-0.9 2-0.9 2-0.8 2-0.9 1.9-0.9 2-0.9 2-0.9 2-0.8 2-0.9 2-0.9 2-0.9 2-0.9 2-1 2-0.9 2-0.9 2-0.9 2-1 2-0.9M503.2,269.8l-1-1.4-0.9-1.4-1-1.3-0.9-1.4-0.9-1.4-1-1.4-0.9-1.3-1-1.4-0.9-1.4-0.9-1.4-1-1.4-0.9-1.3-0.9-1.4-1-1.4-0.9-1.4-0.9-1.4-1-1.3-0.9-1.4-0.9-1.4-1-1.4-0.9-1.4-0.9-1.4-0.9-1.3-1-1.4-0.9-1.4-0.9-1.4-0.9-1.4-1-1.4-0.9-1.4-0.9-1.4-0.9-1.4-1-1.4-0.9-1.3-0.9-1.4-0.9-1.4-0.9-1.4-0.9-1.4-1-1.4-0.9-1.4-0.9-1.4-0.9-1.4-0.9-1.4-0.9-1.4-0.9-1.4-1-1.4-0.9-1.5-0.9-1.4-0.9-1.4-0.9-1.4-0.9-1.4-0.9-1.4-0.9-1.4-0.9-1.4-0.9-1.4-1-1.5-0.9-1.4-0.9-1.4-0.9-1.4-0.9-1.4-0.9-1.5-0.9-1.4-0.9-1.4-0.9-1.4-0.9-1.5-0.9-1.4-0.9-1.4-0.9-1.5-0.9-1.4-0.9-1.4-0.9-1.5-0.9-1.4-0.9-1.5-0.9-1.4-0.9-1.4-0.9-1.5-0.9-1.4-0.9-1.5-0.9-1.4-0.9-1.5-0.9-1.4-0.9-1.5-0.9-1.4-0.9-1.5-0.9-1.4-0.9-1.5-0.9-1.5-0.9-1.4-0.9-1.5-0.9-1.5-0.9-1.4-0.9-1.5-0.9-1.5-0.9-1.5-0.9-1.4-0.9-1.5-0.9-1.5-0.9-1.5-0.9-1.4-0.9-1.5-0.8-1.5M454.6,257l2.1-0.5 2.1-0.6 2.1-0.6 2.2-0.5 2.1-0.6 2.1-0.6 2.1-0.5 2.1-0.6 2.1-0.6 2.1-0.6 2.1-0.6 2-0.6 2.1-0.6 2.1-0.6 2.1-0.6 2.1-0.6 2-0.6 2.1-0.6 2.1-0.6 2-0.6 2.1-0.6 2.1-0.6 2-0.7 2.1-0.6 2-0.6 2.1-0.7 2-0.6 2.1-0.7 2-0.6 2.1-0.7 2-0.6 2-0.7 2.1-0.6 2-0.7 2-0.7 2.1-0.6 2-0.7 2-0.7 2-0.7 2.1-0.7 2-0.6 2-0.7 2-0.7 2-0.7 2.1-0.7 2-0.7 2-0.8 2-0.7 2-0.7 2-0.7 2-0.7 2-0.8 2-0.7 2-0.7 2-0.8 2-0.7 2-0.8 2-0.7 2-0.8 2-0.8 2-0.7 2-0.8 2-0.8 2-0.7 2-0.8 2-0.8 2-0.8 2-0.8 2-0.8 2-0.8 2-0.8 2-0.8 1.9-0.8 2-0.8 2-0.9 2-0.8 2-0.8 2-0.9 2-0.8 2-0.8 2-0.9 2-0.8 1.9-0.9 2-0.9 2-0.8 2-0.9 2-0.9 2-0.8 2-0.9 2-0.9 2-0.9 2-0.9 2-0.9 2-0.9 2-0.9 2-0.9 2-0.9 2-0.9 2-1 2-0.9M505.3,269.1l-1-1.4-0.9-1.3-0.9-1.4-1-1.4-0.9-1.3-1-1.4-0.9-1.4-1-1.4-0.9-1.3-0.9-1.4-1-1.4-0.9-1.4-1-1.3-0.9-1.4-0.9-1.4-1-1.4-0.9-1.3-0.9-1.4-1-1.4-0.9-1.4-0.9-1.4-1-1.3-0.9-1.4-0.9-1.4-0.9-1.4-1-1.4-0.9-1.4-0.9-1.3-0.9-1.4-1-1.4-0.9-1.4-0.9-1.4-0.9-1.4-1-1.4-0.9-1.4-0.9-1.3-0.9-1.4-0.9-1.4-1-1.4-0.9-1.4-0.9-1.4-0.9-1.4-0.9-1.4-0.9-1.4-0.9-1.4-1-1.4-0.9-1.4-0.9-1.4-0.9-1.4-0.9-1.4-0.9-1.4-0.9-1.5-0.9-1.4-1-1.4-0.9-1.4-0.9-1.4-0.9-1.4-0.9-1.4-0.9-1.5-0.9-1.4-0.9-1.4-0.9-1.4-0.9-1.4-0.9-1.5-0.9-1.4-0.9-1.4-0.9-1.4-0.9-1.5-0.9-1.4-0.9-1.4-0.9-1.5-0.9-1.4-1-1.4-0.9-1.5-0.9-1.4-0.9-1.5-0.9-1.4-0.9-1.4-0.9-1.5-0.9-1.4-0.9-1.5-0.9-1.4-0.9-1.5-0.9-1.4-0.8-1.5-0.9-1.4-0.9-1.5-0.9-1.5-0.9-1.4-0.9-1.5-0.9-1.5-0.9-1.4-0.9-1.5-0.9-1.5-0.9-1.4-0.9-1.5-0.9-1.5-0.9-1.5-0.9-1.4-0.9-1.5M453.7,255.6l2.1-0.6 2.1-0.6 2.1-0.5 2.1-0.6 2.2-0.5 2.1-0.6 2.1-0.6 2.1-0.5 2.1-0.6 2-0.6 2.1-0.6 2.1-0.6 2.1-0.6 2.1-0.5 2.1-0.6 2-0.6 2.1-0.6 2.1-0.6 2-0.7 2.1-0.6 2.1-0.6 2-0.6 2.1-0.6 2-0.6 2.1-0.7 2-0.6 2.1-0.6 2-0.7 2.1-0.6 2-0.7 2-0.6 2.1-0.7 2-0.6 2-0.7 2.1-0.7 2-0.6 2-0.7 2-0.7 2.1-0.6 2-0.7 2-0.7 2-0.7 2-0.7 2-0.7 2.1-0.7 2-0.7 2-0.7 2-0.7 2-0.7 2-0.7 2-0.8 2-0.7 2-0.7 2-0.8 2-0.7 2-0.7 2-0.8 2-0.7 2-0.8 2-0.7 2-0.8 2-0.8 2-0.7 2-0.8 1.9-0.8 2-0.8 2-0.8 2-0.7 2-0.8 2-0.8 2-0.8 2-0.8 2-0.9 1.9-0.8 2-0.8 2-0.8 2-0.8 2-0.9 2-0.8 2-0.8 2-0.9 1.9-0.8 2-0.9 2-0.8 2-0.9 2-0.9 2-0.8 2-0.9 2-0.9 1.9-0.9 2-0.8 2-0.9 2-0.9 2-0.9 2-0.9 2-0.9 2-1 2-0.9 2-0.9 2-0.9M507.4,268.4l-0.9-1.3-1-1.4-0.9-1.4-1-1.3-0.9-1.4-1-1.4-0.9-1.3-1-1.4-0.9-1.4-1-1.3-0.9-1.4-0.9-1.4-1-1.4-0.9-1.3-1-1.4-0.9-1.4-0.9-1.3-1-1.4-0.9-1.4-0.9-1.4-1-1.3-0.9-1.4-0.9-1.4-1-1.4-0.9-1.4-0.9-1.3-0.9-1.4-1-1.4-0.9-1.4-0.9-1.4-1-1.3-0.9-1.4-0.9-1.4-0.9-1.4-0.9-1.4-1-1.4-0.9-1.4-0.9-1.3-0.9-1.4-1-1.4-0.9-1.4-0.9-1.4-0.9-1.4-0.9-1.4-0.9-1.4-1-1.4-0.9-1.4-0.9-1.4-0.9-1.4-0.9-1.4-0.9-1.4-0.9-1.4-0.9-1.4-1-1.4-0.9-1.4-0.9-1.4-0.9-1.4-0.9-1.4-0.9-1.5-0.9-1.4-0.9-1.4-0.9-1.4-0.9-1.4-0.9-1.4-0.9-1.5-1-1.4-0.9-1.4-0.9-1.4-0.9-1.5-0.9-1.4-0.9-1.4-0.9-1.4-0.9-1.5-0.9-1.4-0.9-1.4-0.9-1.5-0.9-1.4-0.9-1.5-0.9-1.4-0.9-1.4-0.9-1.5-0.9-1.4-0.9-1.5-0.9-1.4-0.9-1.5-0.9-1.4-0.9-1.5-0.9-1.4-0.9-1.5-0.9-1.5-0.9-1.4-0.9-1.5-0.9-1.4-0.9-1.5-0.9-1.5-0.9-1.4-0.9-1.5-0.9-1.5-0.9-1.5-0.9-1.4M452.8,254.1l2.1-0.6 2.1-0.5 2.1-0.6 2.1-0.5 2.1-0.6 2.1-0.5 2.1-0.6 2.1-0.6 2.1-0.5 2.1-0.6 2.1-0.6 2.1-0.6 2.1-0.5 2.1-0.6 2-0.6 2.1-0.6 2.1-0.6 2-0.6 2.1-0.6 2.1-0.6 2-0.6 2.1-0.7 2-0.6 2.1-0.6 2-0.6 2.1-0.6 2-0.7 2.1-0.6 2-0.6 2-0.7 2.1-0.6 2-0.7 2-0.6 2.1-0.7 2-0.7 2-0.6 2-0.7 2.1-0.6 2-0.7 2-0.7 2-0.7 2-0.7 2-0.7 2-0.6 2.1-0.7 2-0.7 2-0.7 2-0.8 2-0.7 2-0.7 2-0.7 2-0.7 2-0.7 2-0.8 2-0.7 2-0.7 2-0.8 2-0.7 1.9-0.8 2-0.7 2-0.8 2-0.8 2-0.7 2-0.8 2-0.8 2-0.7 2-0.8 1.9-0.8 2-0.8 2-0.8 2-0.8 2-0.8 2-0.8 2-0.8 1.9-0.8 2-0.8 2-0.9 2-0.8 2-0.8 2-0.8 1.9-0.9 2-0.8 2-0.9 2-0.8 2-0.9 2-0.8 1.9-0.9 2-0.9 2-0.8 2-0.9 2-0.9 2-0.9 2-0.9 2-0.9 1.9-0.9 2-0.9 2-0.9 2-0.9 2-0.9 2-0.9M509.5,267.7l-0.9-1.3-1-1.4-0.9-1.3-1-1.4-0.9-1.4-1-1.3-0.9-1.4-1-1.4-0.9-1.3-1-1.4-0.9-1.4-1-1.3-0.9-1.4-0.9-1.4-1-1.3-0.9-1.4-1-1.4-0.9-1.3-0.9-1.4-1-1.4-0.9-1.3-0.9-1.4-1-1.4-0.9-1.3-0.9-1.4-1-1.4-0.9-1.4-0.9-1.3-1-1.4-0.9-1.4-0.9-1.4-0.9-1.4-1-1.3-0.9-1.4-0.9-1.4-0.9-1.4-1-1.4-0.9-1.4-0.9-1.3-0.9-1.4-1-1.4-0.9-1.4-0.9-1.4-0.9-1.4-0.9-1.4-0.9-1.4-1-1.4-0.9-1.4-0.9-1.4-0.9-1.3-0.9-1.4-0.9-1.4-1-1.4-0.9-1.4-0.9-1.5-0.9-1.4-0.9-1.4-0.9-1.4-0.9-1.4-0.9-1.4-0.9-1.4-0.9-1.4-1-1.4-0.9-1.4-0.9-1.4-0.9-1.5-0.9-1.4-0.9-1.4-0.9-1.4-0.9-1.4-0.9-1.5-0.9-1.4-0.9-1.4-0.9-1.5-0.9-1.4-0.9-1.4-0.9-1.4-0.9-1.5-0.9-1.4-0.9-1.5-0.9-1.4-0.9-1.4-0.9-1.5-0.9-1.4-1-1.5-0.9-1.4-0.9-1.5-0.9-1.4-0.9-1.5-0.9-1.4-0.9-1.5-0.9-1.4-0.9-1.5-0.8-1.5-0.9-1.4-0.9-1.5-0.9-1.5-0.9-1.4-0.9-1.5-0.9-1.5M451.9,252.6l2.1-0.5 2.1-0.5 2.1-0.6 2.1-0.5 2.1-0.6 2.1-0.6 2.1-0.5 2.1-0.6 2.1-0.5 2.1-0.6 2.1-0.6 2.1-0.6 2.1-0.5 2-0.6 2.1-0.6 2.1-0.6 2-0.6 2.1-0.6 2.1-0.6 2-0.6 2.1-0.6 2-0.6 2.1-0.6 2-0.6 2.1-0.7 2-0.6 2.1-0.6 2-0.6 2-0.7 2.1-0.6 2-0.6 2-0.7 2.1-0.6 2-0.7 2-0.6 2-0.7 2-0.7 2.1-0.6 2-0.7 2-0.7 2-0.7 2-0.6 2-0.7 2-0.7 2-0.7 2.1-0.7 2-0.7 2-0.7 2-0.7 2-0.7 2-0.7 2-0.7 2-0.8 1.9-0.7 2-0.7 2-0.7 2-0.8 2-0.7 2-0.8 2-0.7 2-0.8 2-0.7 2-0.8 1.9-0.8 2-0.7 2-0.8 2-0.8 2-0.8 2-0.7 1.9-0.8 2-0.8 2-0.8 2-0.8 2-0.8 1.9-0.8 2-0.8 2-0.9 2-0.8 2-0.8 2-0.8 1.9-0.9 2-0.8 2-0.9 2-0.8 2-0.9 1.9-0.8 2-0.9 2-0.8 2-0.9 2-0.9 1.9-0.9 2-0.8 2-0.9 2-0.9 2-0.9 2-0.9 2-0.9 2-0.9 1.9-0.9 2-1M511.6,267l-0.9-1.3-1-1.4-0.9-1.3-1-1.4-1-1.3-0.9-1.4-1-1.4-0.9-1.3-1-1.4-0.9-1.3-0.9-1.4-1-1.4-0.9-1.3-1-1.4-0.9-1.3-1-1.4-0.9-1.4-0.9-1.3-1-1.4-0.9-1.4-1-1.3-0.9-1.4-0.9-1.4-1-1.3-0.9-1.4-0.9-1.4-1-1.3-0.9-1.4-0.9-1.4-1-1.4-0.9-1.3-0.9-1.4-0.9-1.4-1-1.4-0.9-1.3-0.9-1.4-0.9-1.4-1-1.4-0.9-1.3-0.9-1.4-0.9-1.4-1-1.4-0.9-1.4-0.9-1.4-0.9-1.4-0.9-1.3-1-1.4-0.9-1.4-0.9-1.4-0.9-1.4-0.9-1.4-0.9-1.4-1-1.4-0.9-1.4-0.9-1.4-0.9-1.4-0.9-1.4-0.9-1.4-0.9-1.4-1-1.4-0.9-1.4-0.9-1.4-0.9-1.4-0.9-1.4-0.9-1.4-0.9-1.5-0.9-1.4-0.9-1.4-0.9-1.4-0.9-1.4-0.9-1.4-1-1.5-0.9-1.4-0.9-1.4-0.9-1.4-0.9-1.5-0.9-1.4-0.9-1.4-0.9-1.4-0.9-1.5-0.9-1.4-0.9-1.4-0.9-1.5-0.9-1.4-0.9-1.5-0.9-1.4-0.9-1.5-0.9-1.4-0.9-1.4-0.9-1.5-0.9-1.4-0.9-1.5-0.9-1.5-0.9-1.4-0.9-1.5-0.9-1.4-0.9-1.5-0.9-1.5-0.9-1.4-0.9-1.5M451,251.2l2.1-0.6 2.1-0.5 2.1-0.5 2.1-0.6 2.1-0.5 2.1-0.6 2.1-0.5 2.1-0.6 2.1-0.6 2.1-0.5 2.1-0.6 2.1-0.6 2-0.5 2.1-0.6 2.1-0.6 2-0.6 2.1-0.6 2.1-0.6 2-0.6 2.1-0.6 2-0.6 2.1-0.6 2-0.6 2.1-0.6 2-0.6 2.1-0.6 2-0.6 2-0.7 2.1-0.6 2-0.6 2-0.7 2.1-0.6 2-0.6 2-0.7 2-0.6 2.1-0.7 2-0.7 2-0.6 2-0.7 2-0.7 2-0.6 2-0.7 2-0.7 2-0.7 2-0.6 2.1-0.7 2-0.7 2-0.7 1.9-0.7 2-0.7 2-0.7 2-0.8 2-0.7 2-0.7 2-0.7 2-0.8 2-0.7 2-0.7 2-0.8 2-0.7 1.9-0.8 2-0.7 2-0.8 2-0.7 2-0.8 2-0.8 1.9-0.7 2-0.8 2-0.8 2-0.8 1.9-0.8 2-0.8 2-0.8 2-0.8 2-0.8 1.9-0.8 2-0.8 2-0.8 2-0.8 1.9-0.8 2-0.9 2-0.8 2-0.8 2-0.9 1.9-0.8 2-0.9 2-0.8 2-0.9 2-0.9 1.9-0.8 2-0.9 2-0.9 2-0.9 2-0.9 1.9-0.9 2-0.8 2-0.9 2-1 2-0.9 2-0.9M513.7,266.3l-0.9-1.3-1-1.4-1-1.3-0.9-1.4-1-1.3-0.9-1.4-1-1.3-0.9-1.4-1-1.3-0.9-1.4-1-1.3-0.9-1.4-1-1.3-0.9-1.4-1-1.4-0.9-1.3-0.9-1.4-1-1.3-0.9-1.4-1-1.4-0.9-1.3-0.9-1.4-1-1.3-0.9-1.4-1-1.4-0.9-1.3-0.9-1.4-1-1.4-0.9-1.3-0.9-1.4-1-1.4-0.9-1.3-0.9-1.4-0.9-1.4-1-1.4-0.9-1.3-0.9-1.4-1-1.4-0.9-1.4-0.9-1.3-0.9-1.4-1-1.4-0.9-1.4-0.9-1.4-0.9-1.3-0.9-1.4-1-1.4-0.9-1.4-0.9-1.4-0.9-1.4-0.9-1.4-1-1.3-0.9-1.4-0.9-1.4-0.9-1.4-0.9-1.4-0.9-1.4-0.9-1.4-1-1.4-0.9-1.4-0.9-1.4-0.9-1.4-0.9-1.4-0.9-1.4-0.9-1.4-0.9-1.4-1-1.4-0.9-1.5-0.9-1.4-0.9-1.4-0.9-1.4-0.9-1.4-0.9-1.4-0.9-1.5-0.9-1.4-0.9-1.4-0.9-1.4-0.9-1.4-0.9-1.5-0.9-1.4-0.9-1.4-1-1.5-0.9-1.4-0.9-1.4-0.9-1.5-0.9-1.4-0.9-1.4-0.9-1.5-0.9-1.4-0.9-1.5-0.9-1.4-0.9-1.5-0.9-1.4-0.9-1.5-0.9-1.4-0.9-1.5-0.9-1.4-0.9-1.5-0.9-1.5-0.9-1.4M450.1,249.7l2.1-0.5 2.1-0.5 2.1-0.6 2.1-0.5 2.1-0.6 2.1-0.5 2.1-0.6 2.1-0.5 2.1-0.6 2.1-0.5 2.1-0.6 2-0.6 2.1-0.5 2.1-0.6 2-0.6 2.1-0.6 2.1-0.6 2-0.5 2.1-0.6 2-0.6 2.1-0.6 2-0.6 2.1-0.6 2-0.6 2.1-0.6 2-0.7 2-0.6 2.1-0.6 2-0.6 2-0.6 2.1-0.7 2-0.6 2-0.7 2-0.6 2.1-0.6 2-0.7 2-0.6 2-0.7 2-0.7 2-0.6 2-0.7 2-0.7 2-0.6 2-0.7 2-0.7 2-0.7 2-0.7 2-0.7 2-0.7 2-0.7 2-0.7 2-0.7 2-0.7 2-0.7 2-0.7 2-0.8 2-0.7 1.9-0.7 2-0.8 2-0.7 2-0.7 2-0.8 2-0.7 1.9-0.8 2-0.8 2-0.7 2-0.8 1.9-0.8 2-0.7 2-0.8 2-0.8 2-0.8 1.9-0.8 2-0.8 2-0.8 2-0.8 1.9-0.8 2-0.8 2-0.8 1.9-0.8 2-0.9 2-0.8 2-0.8 1.9-0.9 2-0.8 2-0.9 2-0.8 1.9-0.9 2-0.8 2-0.9 2-0.9 1.9-0.8 2-0.9 2-0.9 2-0.9 2-0.9 1.9-0.9 2-0.9 2-0.9 2-0.9M515.8,265.7l-0.9-1.4-1-1.3-1-1.4-0.9-1.3-1-1.4-0.9-1.3-1-1.4-0.9-1.3-1-1.4-0.9-1.3-1-1.4-0.9-1.3-1-1.4-0.9-1.3-1-1.4-0.9-1.3-1-1.4-0.9-1.4-1-1.3-0.9-1.4-1-1.3-0.9-1.4-0.9-1.3-1-1.4-0.9-1.4-1-1.3-0.9-1.4-0.9-1.3-1-1.4-0.9-1.4-0.9-1.3-1-1.4-0.9-1.4-0.9-1.3-1-1.4-0.9-1.4-0.9-1.3-0.9-1.4-1-1.4-0.9-1.4-0.9-1.3-1-1.4-0.9-1.4-0.9-1.4-0.9-1.3-0.9-1.4-1-1.4-0.9-1.4-0.9-1.4-0.9-1.3-1-1.4-0.9-1.4-0.9-1.4-0.9-1.4-0.9-1.4-0.9-1.4-1-1.4-0.9-1.3-0.9-1.4-0.9-1.4-0.9-1.4-0.9-1.4-0.9-1.4-1-1.4-0.9-1.4-0.9-1.4-0.9-1.4-0.9-1.4-0.9-1.4-0.9-1.5-0.9-1.4-0.9-1.4-1-1.4-0.9-1.4-0.9-1.4-0.9-1.4-0.9-1.5-0.9-1.4-0.9-1.4-0.9-1.4-0.9-1.4-0.9-1.5-0.9-1.4-0.9-1.4-0.9-1.5-0.9-1.4-0.9-1.4-0.9-1.5-0.9-1.4-0.9-1.4-0.9-1.5-1-1.4-0.9-1.5-0.9-1.4-0.9-1.5-0.9-1.4-0.9-1.5-0.9-1.4-0.9-1.5-0.9-1.4M449.2,248.3l2.1-0.6 2.1-0.5 2.1-0.5 2.1-0.6 2.1-0.5 2.1-0.6 2.1-0.5 2.1-0.5 2.1-0.6 2.1-0.6 2-0.5 2.1-0.6 2.1-0.5 2.1-0.6 2-0.6 2.1-0.6 2-0.5 2.1-0.6 2.1-0.6 2-0.6 2.1-0.6 2-0.6 2-0.6 2.1-0.6 2-0.6 2.1-0.6 2-0.6 2-0.6 2.1-0.6 2-0.7 2-0.6 2-0.6 2.1-0.7 2-0.6 2-0.6 2-0.7 2-0.6 2-0.7 2-0.6 2-0.7 2-0.7 2.1-0.6 2-0.7 2-0.7 2-0.7 1.9-0.6 2-0.7 2-0.7 2-0.7 2-0.7 2-0.7 2-0.7 2-0.7 2-0.7 2-0.7 1.9-0.8 2-0.7 2-0.7 2-0.8 2-0.7 2-0.7 1.9-0.8 2-0.7 2-0.8 2-0.7 1.9-0.8 2-0.7 2-0.8 2-0.8 1.9-0.8 2-0.7 2-0.8 2-0.8 1.9-0.8 2-0.8 2-0.8 1.9-0.8 2-0.8 2-0.8 1.9-0.9 2-0.8 2-0.8 2-0.8 1.9-0.9 2-0.8 2-0.8 1.9-0.9 2-0.8 2-0.9 2-0.9 1.9-0.8 2-0.9 2-0.9 2-0.9 1.9-0.8 2-0.9 2-0.9 2-0.9 1.9-0.9 2-0.9M517.9,265l-0.9-1.4-1-1.3-1-1.4-0.9-1.3-1-1.4-0.9-1.3-1-1.3-1-1.4-0.9-1.3-1-1.4-0.9-1.3-1-1.4-0.9-1.3-1-1.4-0.9-1.3-1-1.4-0.9-1.3-1-1.4-0.9-1.3-1-1.4-0.9-1.3-1-1.4-0.9-1.3-0.9-1.4-1-1.3-0.9-1.4-1-1.4-0.9-1.3-0.9-1.4-1-1.3-0.9-1.4-0.9-1.4-1-1.3-0.9-1.4-0.9-1.3-1-1.4-0.9-1.4-0.9-1.3-1-1.4-0.9-1.4-0.9-1.3-0.9-1.4-1-1.4-0.9-1.4-0.9-1.3-1-1.4-0.9-1.4-0.9-1.4-0.9-1.3-0.9-1.4-1-1.4-0.9-1.4-0.9-1.4-0.9-1.3-0.9-1.4-1-1.4-0.9-1.4-0.9-1.4-0.9-1.4-0.9-1.4-0.9-1.3-1-1.4-0.9-1.4-0.9-1.4-0.9-1.4-0.9-1.4-0.9-1.4-0.9-1.4-1-1.4-0.9-1.4-0.9-1.4-0.9-1.4-0.9-1.5-0.9-1.4-0.9-1.4-0.9-1.4-0.9-1.4-0.9-1.4-1-1.4-0.9-1.5-0.9-1.4-0.9-1.4-0.9-1.4-0.9-1.4-0.9-1.5-0.9-1.4-0.9-1.4-0.9-1.5-0.9-1.4-0.9-1.4-0.9-1.5-0.9-1.4-0.9-1.4-0.9-1.5-0.9-1.4-0.9-1.5-0.9-1.4-0.9-1.5-0.9-1.4-0.9-1.5M448.3,246.8l2.1-0.5 2.1-0.6 2.1-0.5 2.1-0.5 2.1-0.5 2.1-0.6 2.1-0.5 2.1-0.6 2.1-0.5 2-0.6 2.1-0.5 2.1-0.6 2.1-0.5 2-0.6 2.1-0.6 2.1-0.5 2-0.6 2.1-0.6 2-0.6 2.1-0.6 2-0.5 2.1-0.6 2-0.6 2-0.6 2.1-0.6 2-0.6 2-0.6 2.1-0.7 2-0.6 2-0.6 2-0.6 2.1-0.6 2-0.7 2-0.6 2-0.6 2-0.7 2-0.6 2-0.7 2.1-0.6 2-0.7 2-0.6 2-0.7 2-0.7 2-0.6 2-0.7 2-0.7 1.9-0.7 2-0.7 2-0.6 2-0.7 2-0.7 2-0.7 2-0.7 2-0.7 1.9-0.8 2-0.7 2-0.7 2-0.7 2-0.7 1.9-0.8 2-0.7 2-0.8 2-0.7 1.9-0.7 2-0.8 2-0.7 2-0.8 1.9-0.8 2-0.7 2-0.8 1.9-0.8 2-0.8 2-0.8 1.9-0.7 2-0.8 2-0.8 1.9-0.8 2-0.8 2-0.8 2-0.9 1.9-0.8 2-0.8 2-0.8 1.9-0.9 2-0.8 2-0.8 1.9-0.9 2-0.8 2-0.9 1.9-0.8 2-0.9 2-0.9 1.9-0.8 2-0.9 2-0.9 2-0.9 1.9-0.8 2-0.9 2-0.9 2-0.9M520,264.3l-0.9-1.4-1-1.3-1-1.4-0.9-1.3-1-1.3-1-1.4-0.9-1.3-1-1.4-0.9-1.3-1-1.3-1-1.4-0.9-1.3-1-1.4-0.9-1.3-1-1.4-0.9-1.3-1-1.3-0.9-1.4-1-1.3-0.9-1.4-1-1.3-0.9-1.4-1-1.3-0.9-1.4-0.9-1.3-1-1.4-0.9-1.3-1-1.4-0.9-1.3-0.9-1.4-1-1.4-0.9-1.3-1-1.4-0.9-1.3-0.9-1.4-1-1.3-0.9-1.4-0.9-1.4-1-1.3-0.9-1.4-0.9-1.4-1-1.3-0.9-1.4-0.9-1.4-0.9-1.3-1-1.4-0.9-1.4-0.9-1.3-0.9-1.4-1-1.4-0.9-1.4-0.9-1.3-0.9-1.4-1-1.4-0.9-1.4-0.9-1.3-0.9-1.4-0.9-1.4-0.9-1.4-1-1.4-0.9-1.4-0.9-1.4-0.9-1.4-0.9-1.3-0.9-1.4-1-1.4-0.9-1.4-0.9-1.4-0.9-1.4-0.9-1.4-0.9-1.4-0.9-1.4-1-1.4-0.9-1.4-0.9-1.4-0.9-1.4-0.9-1.5-0.9-1.4-0.9-1.4-0.9-1.4-0.9-1.4-0.9-1.4-0.9-1.4-1-1.5-0.9-1.4-0.9-1.4-0.9-1.4-0.9-1.5-0.9-1.4-0.9-1.4-0.9-1.5-0.9-1.4-0.9-1.4-0.9-1.5-0.9-1.4-0.9-1.4-0.9-1.5-0.9-1.4-0.9-1.5-0.9-1.4M447.4,245.3l2.1-0.5 2.1-0.5 2.1-0.5 2.1-0.6 2.1-0.5 2.1-0.5 2.1-0.6 2.1-0.5 2.1-0.5 2-0.6 2.1-0.5 2.1-0.6 2-0.5 2.1-0.6 2.1-0.6 2-0.5 2.1-0.6 2-0.6 2.1-0.5 2-0.6 2.1-0.6 2-0.6 2.1-0.6 2-0.6 2-0.6 2.1-0.6 2-0.6 2-0.6 2-0.6 2.1-0.6 2-0.6 2-0.7 2-0.6 2-0.6 2-0.6 2.1-0.7 2-0.6 2-0.7 2-0.6 2-0.7 2-0.6 2-0.7 2-0.6 2-0.7 2-0.7 2-0.6 1.9-0.7 2-0.7 2-0.7 2-0.7 2-0.7 2-0.7 2-0.7 1.9-0.7 2-0.7 2-0.7 2-0.7 2-0.7 1.9-0.7 2-0.8 2-0.7 1.9-0.7 2-0.8 2-0.7 2-0.8 1.9-0.7 2-0.8 2-0.7 1.9-0.8 2-0.8 2-0.7 1.9-0.8 2-0.8 2-0.8 1.9-0.8 2-0.8 2-0.7 1.9-0.8 2-0.9 2-0.8 1.9-0.8 2-0.8 2-0.8 1.9-0.8 2-0.9 1.9-0.8 2-0.8 2-0.9 1.9-0.8 2-0.9 2-0.8 1.9-0.9 2-0.9 2-0.8 1.9-0.9 2-0.9 2-0.9 2-0.9 1.9-0.9 2-0.9M522.1,263.5l-1-1.3-0.9-1.3-1-1.4-1-1.3-0.9-1.3-1-1.4-1-1.3-0.9-1.3-1-1.4-0.9-1.3-1-1.3-1-1.4-0.9-1.3-1-1.4-0.9-1.3-1-1.3-0.9-1.4-1-1.3-0.9-1.4-1-1.3-0.9-1.3-1-1.4-0.9-1.3-1-1.4-0.9-1.3-1-1.4-0.9-1.3-0.9-1.4-1-1.3-0.9-1.4-1-1.3-0.9-1.4-0.9-1.3-1-1.4-0.9-1.3-1-1.4-0.9-1.3-0.9-1.4-1-1.4-0.9-1.3-0.9-1.4-1-1.3-0.9-1.4-0.9-1.4-0.9-1.3-1-1.4-0.9-1.4-0.9-1.3-1-1.4-0.9-1.4-0.9-1.3-0.9-1.4-1-1.4-0.9-1.3-0.9-1.4-0.9-1.4-0.9-1.4-1-1.4-0.9-1.3-0.9-1.4-0.9-1.4-0.9-1.4-1-1.4-0.9-1.4-0.9-1.3-0.9-1.4-0.9-1.4-0.9-1.4-1-1.4-0.9-1.4-0.9-1.4-0.9-1.4-0.9-1.4-0.9-1.4-0.9-1.4-0.9-1.4-1-1.4-0.9-1.4-0.9-1.4-0.9-1.4-0.9-1.4-0.9-1.5-0.9-1.4-0.9-1.4-0.9-1.4-0.9-1.4-0.9-1.4-1-1.5-0.9-1.4-0.9-1.4-0.9-1.4-0.9-1.5-0.9-1.4-0.9-1.4-0.9-1.5-0.9-1.4-0.9-1.4-0.9-1.5-0.9-1.4-0.9-1.5M446.5,243.9l2.1-0.5 2.1-0.6 2.1-0.5 2.1-0.5 2.1-0.5 2.1-0.6 2.1-0.5 2.1-0.5 2-0.6 2.1-0.5 2.1-0.5 2.1-0.6 2-0.5 2.1-0.6 2-0.6 2.1-0.5 2.1-0.6 2-0.6 2.1-0.5 2-0.6 2-0.6 2.1-0.6 2-0.5 2.1-0.6 2-0.6 2-0.6 2-0.6 2.1-0.6 2-0.6 2-0.6 2-0.7 2-0.6 2.1-0.6 2-0.6 2-0.6 2-0.7 2-0.6 2-0.6 2-0.7 2-0.6 2-0.7 2-0.6 2-0.7 2-0.7 2-0.6 2-0.7 1.9-0.7 2-0.6 2-0.7 2-0.7 2-0.7 2-0.7 1.9-0.7 2-0.7 2-0.7 2-0.7 1.9-0.7 2-0.7 2-0.7 2-0.8 1.9-0.7 2-0.7 2-0.8 1.9-0.7 2-0.7 2-0.8 1.9-0.7 2-0.8 2-0.7 1.9-0.8 2-0.8 2-0.7 1.9-0.8 2-0.8 2-0.8 1.9-0.8 2-0.8 1.9-0.8 2-0.8 2-0.8 1.9-0.8 2-0.8 1.9-0.8 2-0.8 2-0.9 1.9-0.8 2-0.8 2-0.9 1.9-0.8 2-0.9 1.9-0.8 2-0.9 2-0.8 1.9-0.9 2-0.9 2-0.8 1.9-0.9 2-0.9 2-0.9 1.9-0.9M524.2,262.8l-1-1.3-0.9-1.3-1-1.3-1-1.4-0.9-1.3-1-1.3-1-1.4-0.9-1.3-1-1.3-1-1.4-0.9-1.3-1-1.3-0.9-1.4-1-1.3-1-1.3-0.9-1.4-1-1.3-0.9-1.3-1-1.4-0.9-1.3-1-1.4-0.9-1.3-1-1.3-0.9-1.4-1-1.3-0.9-1.4-1-1.3-0.9-1.3-1-1.4-0.9-1.3-1-1.4-0.9-1.3-0.9-1.4-1-1.3-0.9-1.4-0.9-1.3-1-1.4-0.9-1.3-1-1.4-0.9-1.3-0.9-1.4-1-1.4-0.9-1.3-0.9-1.4-1-1.3-0.9-1.4-0.9-1.4-0.9-1.3-1-1.4-0.9-1.3-0.9-1.4-1-1.4-0.9-1.3-0.9-1.4-0.9-1.4-1-1.4-0.9-1.3-0.9-1.4-0.9-1.4-0.9-1.4-1-1.3-0.9-1.4-0.9-1.4-0.9-1.4-0.9-1.4-1-1.3-0.9-1.4-0.9-1.4-0.9-1.4-0.9-1.4-0.9-1.4-1-1.4-0.9-1.4-0.9-1.4-0.9-1.4-0.9-1.4-0.9-1.4-0.9-1.4-0.9-1.4-1-1.4-0.9-1.4-0.9-1.4-0.9-1.4-0.9-1.4-0.9-1.4-0.9-1.4-0.9-1.4-0.9-1.5-0.9-1.4-0.9-1.4-1-1.4-0.9-1.5-0.9-1.4-0.9-1.4-0.9-1.4-0.9-1.5-0.9-1.4-0.9-1.4-0.9-1.5-0.9-1.4M445.6,242.4l2.1-0.5 2.1-0.5 2.1-0.5 2.1-0.5 2.1-0.6 2.1-0.5 2.1-0.5 2.1-0.5 2-0.6 2.1-0.5 2.1-0.6 2-0.5 2.1-0.5 2.1-0.6 2-0.5 2.1-0.6 2-0.6 2.1-0.5 2-0.6 2.1-0.6 2-0.5 2-0.6 2.1-0.6 2-0.6 2-0.6 2.1-0.6 2-0.6 2-0.6 2-0.6 2.1-0.6 2-0.6 2-0.6 2-0.6 2-0.6 2-0.6 2-0.7 2-0.6 2-0.6 2-0.7 2-0.6 2-0.7 2-0.6 2-0.7 2-0.6 2-0.7 2-0.6 1.9-0.7 2-0.7 2-0.7 2-0.6 2-0.7 2-0.7 1.9-0.7 2-0.7 2-0.7 2-0.7 1.9-0.7 2-0.7 2-0.7 1.9-0.7 2-0.8 2-0.7 1.9-0.7 2-0.8 2-0.7 1.9-0.7 2-0.8 2-0.7 1.9-0.8 2-0.8 1.9-0.7 2-0.8 2-0.8 1.9-0.7 2-0.8 1.9-0.8 2-0.8 2-0.8 1.9-0.8 2-0.8 1.9-0.8 2-0.8 1.9-0.8 2-0.8 2-0.8 1.9-0.9 2-0.8 1.9-0.8 2-0.9 2-0.8 1.9-0.9 2-0.8 1.9-0.9 2-0.8 2-0.9 1.9-0.9 2-0.9 2-0.8 1.9-0.9 2-0.9M526.3,262.1l-1-1.3-1-1.3-0.9-1.3-1-1.4-1-1.3-0.9-1.3-1-1.4-1-1.3-0.9-1.3-1-1.3-1-1.4-0.9-1.3-1-1.3-1-1.3-0.9-1.4-1-1.3-0.9-1.3-1-1.4-0.9-1.3-1-1.3-1-1.4-0.9-1.3-1-1.3-0.9-1.4-1-1.3-0.9-1.4-1-1.3-0.9-1.3-0.9-1.4-1-1.3-0.9-1.4-1-1.3-0.9-1.3-1-1.4-0.9-1.3-0.9-1.4-1-1.3-0.9-1.4-1-1.3-0.9-1.4-0.9-1.3-1-1.4-0.9-1.3-0.9-1.4-1-1.3-0.9-1.4-0.9-1.3-1-1.4-0.9-1.4-0.9-1.3-1-1.4-0.9-1.4-0.9-1.3-0.9-1.4-1-1.3-0.9-1.4-0.9-1.4-0.9-1.3-1-1.4-0.9-1.4-0.9-1.4-0.9-1.3-0.9-1.4-1-1.4-0.9-1.4-0.9-1.4-0.9-1.3-0.9-1.4-1-1.4-0.9-1.4-0.9-1.4-0.9-1.4-0.9-1.3-0.9-1.4-1-1.4-0.9-1.4-0.9-1.4-0.9-1.4-0.9-1.4-0.9-1.4-0.9-1.4-1-1.4-0.9-1.4-0.9-1.4-0.9-1.4-0.9-1.4-0.9-1.5-0.9-1.4-0.9-1.4-0.9-1.4-0.9-1.4-1-1.4-0.9-1.5-0.9-1.4-0.9-1.4-0.9-1.4-0.9-1.5-0.9-1.4-0.9-1.4-0.9-1.5M444.8,240.9l2.1-0.5 2-0.5 2.1-0.5 2.1-0.5 2.1-0.5 2.1-0.5 2.1-0.5 2.1-0.6 2-0.5 2.1-0.5 2.1-0.6 2-0.5 2.1-0.5 2-0.6 2.1-0.5 2.1-0.6 2-0.6 2.1-0.5 2-0.6 2-0.5 2.1-0.6 2-0.6 2-0.6 2.1-0.5 2-0.6 2-0.6 2-0.6 2.1-0.6 2-0.6 2-0.6 2-0.6 2-0.6 2-0.6 2-0.6 2-0.6 2-0.7 2-0.6 2-0.6 2-0.7 2-0.6 2-0.6 2-0.7 2-0.6 2-0.7 2-0.6 2-0.7 2-0.7 1.9-0.6 2-0.7 2-0.7 2-0.7 1.9-0.6 2-0.7 2-0.7 2-0.7 1.9-0.7 2-0.7 2-0.7 1.9-0.7 2-0.7 2-0.8 1.9-0.7 2-0.7 2-0.7 1.9-0.8 2-0.7 1.9-0.8 2-0.7 2-0.8 1.9-0.7 2-0.8 1.9-0.7 2-0.8 2-0.8 1.9-0.7 2-0.8 1.9-0.8 2-0.8 1.9-0.8 2-0.8 1.9-0.8 2-0.8 2-0.8 1.9-0.8 2-0.8 1.9-0.9 2-0.8 1.9-0.8 2-0.8 1.9-0.9 2-0.8 2-0.9 1.9-0.8 2-0.9 1.9-0.9 2-0.8 1.9-0.9 2-0.9 2-0.8 1.9-0.9M528.4,261.4l-1-1.3-1-1.3-0.9-1.4-1-1.3-1-1.3-1-1.3-0.9-1.3-1-1.4-1-1.3-0.9-1.3-1-1.3-1-1.4-0.9-1.3-1-1.3-1-1.3-0.9-1.4-1-1.3-0.9-1.3-1-1.3-1-1.4-0.9-1.3-1-1.3-0.9-1.4-1-1.3-0.9-1.3-1-1.4-0.9-1.3-1-1.3-0.9-1.4-1-1.3-0.9-1.3-1-1.4-0.9-1.3-1-1.4-0.9-1.3-0.9-1.3-1-1.4-0.9-1.3-1-1.4-0.9-1.3-0.9-1.4-1-1.3-0.9-1.3-1-1.4-0.9-1.3-0.9-1.4-1-1.4-0.9-1.3-0.9-1.4-1-1.3-0.9-1.4-0.9-1.3-0.9-1.4-1-1.3-0.9-1.4-0.9-1.4-1-1.3-0.9-1.4-0.9-1.4-0.9-1.3-1-1.4-0.9-1.4-0.9-1.3-0.9-1.4-0.9-1.4-1-1.4-0.9-1.3-0.9-1.4-0.9-1.4-0.9-1.4-1-1.4-0.9-1.3-0.9-1.4-0.9-1.4-0.9-1.4-0.9-1.4-1-1.4-0.9-1.4-0.9-1.4-0.9-1.4-0.9-1.4-0.9-1.4-0.9-1.4-1-1.4-0.9-1.4-0.9-1.4-0.9-1.4-0.9-1.4-0.9-1.4-0.9-1.4-0.9-1.4-0.9-1.4-0.9-1.5-1-1.4-0.9-1.4-0.9-1.4-0.9-1.4-0.9-1.5-0.9-1.4-0.9-1.4M443.9,239.5l2.1-0.5 2.1-0.5 2-0.5 2.1-0.5 2.1-0.5 2.1-0.6 2.1-0.5 2.1-0.5 2-0.5 2.1-0.5 2.1-0.6 2-0.5 2.1-0.6 2-0.5 2.1-0.5 2-0.6 2.1-0.5 2-0.6 2.1-0.5 2-0.6 2-0.6 2.1-0.5 2-0.6 2-0.6 2.1-0.6 2-0.5 2-0.6 2-0.6 2-0.6 2-0.6 2.1-0.6 2-0.6 2-0.6 2-0.6 2-0.7 2-0.6 2-0.6 2-0.6 2-0.6 2-0.7 2-0.6 1.9-0.7 2-0.6 2-0.6 2-0.7 2-0.7 2-0.6 1.9-0.7 2-0.6 2-0.7 2-0.7 1.9-0.7 2-0.6 2-0.7 1.9-0.7 2-0.7 2-0.7 1.9-0.7 2-0.7 2-0.7 1.9-0.7 2-0.8 2-0.7 1.9-0.7 2-0.7 1.9-0.8 2-0.7 2-0.8 1.9-0.7 2-0.8 1.9-0.7 2-0.8 1.9-0.7 2-0.8 1.9-0.8 2-0.7 1.9-0.8 2-0.8 1.9-0.8 2-0.8 2-0.8 1.9-0.8 2-0.8 1.9-0.8 2-0.8 1.9-0.8 2-0.9 1.9-0.8 2-0.8 1.9-0.9 2-0.8 1.9-0.8 2-0.9 1.9-0.8 2-0.9 1.9-0.9 2-0.8 2-0.9 1.9-0.9 2-0.9M530.5,260.7l-1-1.3-1-1.3-1-1.4-0.9-1.3-1-1.3-1-1.3-1-1.3-0.9-1.3-1-1.4-1-1.3-1-1.3-0.9-1.3-1-1.3-1-1.4-0.9-1.3-1-1.3-0.9-1.3-1-1.3-1-1.4-0.9-1.3-1-1.3-0.9-1.3-1-1.4-1-1.3-0.9-1.3-1-1.4-0.9-1.3-1-1.3-0.9-1.3-1-1.4-0.9-1.3-1-1.3-0.9-1.4-1-1.3-0.9-1.4-0.9-1.3-1-1.3-0.9-1.4-1-1.3-0.9-1.3-1-1.4-0.9-1.3-0.9-1.4-1-1.3-0.9-1.4-0.9-1.3-1-1.4-0.9-1.3-0.9-1.4-1-1.3-0.9-1.4-0.9-1.3-1-1.4-0.9-1.3-0.9-1.4-1-1.3-0.9-1.4-0.9-1.4-0.9-1.3-1-1.4-0.9-1.3-0.9-1.4-0.9-1.4-1-1.3-0.9-1.4-0.9-1.4-0.9-1.4-1-1.3-0.9-1.4-0.9-1.4-0.9-1.4-0.9-1.3-1-1.4-0.9-1.4-0.9-1.4-0.9-1.4-0.9-1.4-0.9-1.3-1-1.4-0.9-1.4-0.9-1.4-0.9-1.4-0.9-1.4-0.9-1.4-0.9-1.4-1-1.4-0.9-1.4-0.9-1.4-0.9-1.4-0.9-1.4-0.9-1.4-0.9-1.4-0.9-1.4-1-1.5-0.9-1.4-0.9-1.4-0.9-1.4-0.9-1.4-0.9-1.5-0.9-1.4M443,238l2.1-0.5 2.1-0.5 2-0.5 2.1-0.5 2.1-0.5 2.1-0.5 2.1-0.5 2-0.5 2.1-0.5 2.1-0.6 2-0.5 2.1-0.5 2.1-0.6 2-0.5 2.1-0.5 2-0.6 2.1-0.5 2-0.6 2-0.5 2.1-0.6 2-0.5 2-0.6 2.1-0.6 2-0.5 2-0.6 2-0.6 2.1-0.6 2-0.6 2-0.5 2-0.6 2-0.6 2-0.6 2-0.6 2-0.6 2-0.7 2-0.6 2-0.6 2-0.6 2-0.6 2-0.7 2-0.6 2-0.6 1.9-0.7 2-0.6 2-0.7 2-0.6 2-0.7 1.9-0.6 2-0.7 2-0.7 2-0.6 1.9-0.7 2-0.7 2-0.7 1.9-0.6 2-0.7 2-0.7 1.9-0.7 2-0.7 1.9-0.7 2-0.7 2-0.8 1.9-0.7 2-0.7 1.9-0.7 2-0.7 2-0.8 1.9-0.7 2-0.8 1.9-0.7 2-0.8 1.9-0.7 2-0.8 1.9-0.7 2-0.8 1.9-0.8 2-0.7 1.9-0.8 2-0.8 1.9-0.8 2-0.8 1.9-0.8 2-0.8 1.9-0.8 2-0.8 1.9-0.8 2-0.8 1.9-0.9 2-0.8 1.9-0.8 2-0.9 1.9-0.8 2-0.8 1.9-0.9 2-0.8 1.9-0.9 2-0.9 1.9-0.8 2-0.9 1.9-0.9M532.6,260l-1-1.3-1-1.4-1-1.3-1-1.3-1-1.3-0.9-1.3-1-1.3-1-1.3-1-1.3-0.9-1.4-1-1.3-1-1.3-0.9-1.3-1-1.3-1-1.3-0.9-1.4-1-1.3-1-1.3-0.9-1.3-1-1.3-1-1.3-0.9-1.4-1-1.3-0.9-1.3-1-1.3-0.9-1.4-1-1.3-1-1.3-0.9-1.3-1-1.4-0.9-1.3-1-1.3-0.9-1.4-1-1.3-0.9-1.3-1-1.3-0.9-1.4-0.9-1.3-1-1.4-0.9-1.3-1-1.3-0.9-1.4-1-1.3-0.9-1.3-0.9-1.4-1-1.3-0.9-1.4-0.9-1.3-1-1.4-0.9-1.3-0.9-1.4-1-1.3-0.9-1.4-0.9-1.3-1-1.4-0.9-1.3-0.9-1.4-1-1.3-0.9-1.4-0.9-1.3-1-1.4-0.9-1.4-0.9-1.3-0.9-1.4-1-1.3-0.9-1.4-0.9-1.4-0.9-1.3-0.9-1.4-1-1.4-0.9-1.4-0.9-1.3-0.9-1.4-1-1.4-0.9-1.4-0.9-1.3-0.9-1.4-0.9-1.4-0.9-1.4-1-1.4-0.9-1.4-0.9-1.4-0.9-1.3-0.9-1.4-0.9-1.4-1-1.4-0.9-1.4-0.9-1.4-0.9-1.4-0.9-1.4-0.9-1.4-0.9-1.4-0.9-1.4-1-1.5-0.9-1.4-0.9-1.4-0.9-1.4-0.9-1.4-0.9-1.4-0.9-1.4M442.1,236.5l2.1-0.4 2.1-0.5 2.1-0.5 2-0.5 2.1-0.5 2.1-0.5 2.1-0.5 2-0.6 2.1-0.5 2.1-0.5 2-0.5 2.1-0.5 2-0.6 2.1-0.5 2-0.5 2.1-0.6 2-0.5 2.1-0.6 2-0.5 2-0.6 2.1-0.5 2-0.6 2-0.5 2.1-0.6 2-0.6 2-0.5 2-0.6 2-0.6 2-0.6 2-0.6 2-0.6 2.1-0.6 2-0.6 2-0.6 2-0.6 1.9-0.6 2-0.6 2-0.6 2-0.6 2-0.6 2-0.7 2-0.6 2-0.6 1.9-0.7 2-0.6 2-0.7 2-0.6 1.9-0.7 2-0.6 2-0.7 2-0.7 1.9-0.6 2-0.7 2-0.7 1.9-0.7 2-0.6 1.9-0.7 2-0.7 2-0.7 1.9-0.7 2-0.7 1.9-0.7 2-0.8 1.9-0.7 2-0.7 2-0.7 1.9-0.7 2-0.8 1.9-0.7 2-0.8 1.9-0.7 2-0.8 1.9-0.7 2-0.8 1.9-0.7 1.9-0.8 2-0.8 1.9-0.7 2-0.8 1.9-0.8 2-0.8 1.9-0.8 2-0.8 1.9-0.8 2-0.8 1.9-0.8 2-0.8 1.9-0.8 1.9-0.9 2-0.8 1.9-0.8 2-0.9 1.9-0.8 2-0.8 1.9-0.9 2-0.8 1.9-0.9 2-0.9 1.9-0.8 2-0.9M534.6,259.2l-0.9-1.3-1-1.3-1-1.3-1-1.3-1-1.3-1-1.3-0.9-1.3-1-1.3-1-1.3-1-1.3-0.9-1.3-1-1.4-1-1.3-1-1.3-0.9-1.3-1-1.3-1-1.3-0.9-1.3-1-1.3-1-1.4-0.9-1.3-1-1.3-1-1.3-0.9-1.3-1-1.4-0.9-1.3-1-1.3-0.9-1.3-1-1.3-1-1.4-0.9-1.3-1-1.3-0.9-1.3-1-1.4-0.9-1.3-1-1.3-0.9-1.3-1-1.4-0.9-1.3-0.9-1.3-1-1.4-0.9-1.3-1-1.3-0.9-1.4-1-1.3-0.9-1.3-0.9-1.4-1-1.3-0.9-1.4-0.9-1.3-1-1.3-0.9-1.4-1-1.3-0.9-1.4-0.9-1.3-1-1.4-0.9-1.3-0.9-1.4-0.9-1.3-1-1.4-0.9-1.3-0.9-1.4-1-1.4-0.9-1.3-0.9-1.4-0.9-1.3-1-1.4-0.9-1.4-0.9-1.3-0.9-1.4-1-1.4-0.9-1.3-0.9-1.4-0.9-1.4-0.9-1.3-1-1.4-0.9-1.4-0.9-1.4-0.9-1.4-0.9-1.3-1-1.4-0.9-1.4-0.9-1.4-0.9-1.4-0.9-1.4-0.9-1.4-1-1.4-0.9-1.3-0.9-1.4-0.9-1.4-0.9-1.4-0.9-1.4-0.9-1.4-1-1.5-0.9-1.4-0.9-1.4-0.9-1.4-0.9-1.4-0.9-1.4-0.9-1.4M441.2,235.1l2.1-0.5 2.1-0.5 2.1-0.5 2-0.5 2.1-0.5 2.1-0.5 2.1-0.5 2-0.5 2.1-0.5 2.1-0.5 2-0.5 2.1-0.5 2-0.6 2.1-0.5 2-0.5 2.1-0.6 2-0.5 2-0.5 2.1-0.6 2-0.5 2-0.6 2.1-0.5 2-0.6 2-0.6 2-0.5 2-0.6 2.1-0.6 2-0.5 2-0.6 2-0.6 2-0.6 2-0.6 2-0.6 2-0.6 2-0.6 2-0.6 2-0.6 2-0.6 1.9-0.6 2-0.6 2-0.6 2-0.7 2-0.6 2-0.6 1.9-0.7 2-0.6 2-0.7 2-0.6 1.9-0.7 2-0.6 2-0.7 1.9-0.7 2-0.6 1.9-0.7 2-0.7 2-0.7 1.9-0.6 2-0.7 1.9-0.7 2-0.7 2-0.7 1.9-0.7 2-0.7 1.9-0.7 2-0.8 1.9-0.7 2-0.7 1.9-0.7 2-0.8 1.9-0.7 2-0.8 1.9-0.7 1.9-0.8 2-0.7 1.9-0.8 2-0.7 1.9-0.8 2-0.8 1.9-0.7 2-0.8 1.9-0.8 1.9-0.8 2-0.8 1.9-0.8 2-0.8 1.9-0.8 2-0.8 1.9-0.8 1.9-0.8 2-0.9 1.9-0.8 2-0.8 1.9-0.9 2-0.8 1.9-0.8 1.9-0.9 2-0.8 1.9-0.9 2-0.9 1.9-0.8M536.7,258.5l-1-1.3-1-1.3-0.9-1.3-1-1.3-1-1.3-1-1.3-1-1.3-1-1.3-0.9-1.3-1-1.3-1-1.3-1-1.3-0.9-1.3-1-1.3-1-1.4-1-1.3-0.9-1.3-1-1.3-1-1.3-0.9-1.3-1-1.3-1-1.3-0.9-1.3-1-1.4-1-1.3-0.9-1.3-1-1.3-0.9-1.3-1-1.3-0.9-1.4-1-1.3-1-1.3-0.9-1.3-1-1.3-0.9-1.4-1-1.3-0.9-1.3-1-1.3-0.9-1.4-1-1.3-0.9-1.3-1-1.3-0.9-1.4-0.9-1.3-1-1.3-0.9-1.4-1-1.3-0.9-1.3-0.9-1.4-1-1.3-0.9-1.3-1-1.4-0.9-1.3-0.9-1.4-1-1.3-0.9-1.4-0.9-1.3-1-1.3-0.9-1.4-0.9-1.3-1-1.4-0.9-1.3-0.9-1.4-1-1.4-0.9-1.3-0.9-1.4-0.9-1.3-1-1.4-0.9-1.3-0.9-1.4-0.9-1.4-1-1.3-0.9-1.4-0.9-1.4-0.9-1.3-0.9-1.4-1-1.4-0.9-1.4-0.9-1.3-0.9-1.4-0.9-1.4-1-1.4-0.9-1.3-0.9-1.4-0.9-1.4-0.9-1.4-1-1.4-0.9-1.4-0.9-1.4-0.9-1.4-0.9-1.4-0.9-1.4-0.9-1.4-1-1.4-0.9-1.4-0.9-1.4-0.9-1.4-0.9-1.4-0.9-1.4-0.9-1.4M440.3,233.6l2.1-0.5 2.1-0.4 2.1-0.5 2-0.5 2.1-0.5 2.1-0.5 2.1-0.5 2-0.5 2.1-0.5 2.1-0.5 2-0.5 2.1-0.6 2-0.5 2.1-0.5 2-0.5 2-0.6 2.1-0.5 2-0.5 2.1-0.6 2-0.5 2-0.5 2-0.6 2.1-0.6 2-0.5 2-0.6 2-0.5 2-0.6 2-0.6 2-0.5 2-0.6 2-0.6 2-0.6 2-0.6 2-0.6 2-0.6 2-0.6 2-0.6 2-0.6 2-0.6 2-0.6 1.9-0.6 2-0.7 2-0.6 2-0.6 1.9-0.6 2-0.7 2-0.6 2-0.7 1.9-0.6 2-0.7 2-0.6 1.9-0.7 2-0.7 1.9-0.6 2-0.7 2-0.7 1.9-0.7 2-0.6 1.9-0.7 2-0.7 1.9-0.7 2-0.7 1.9-0.7 2-0.7 1.9-0.7 2-0.8 1.9-0.7 2-0.7 1.9-0.7 2-0.8 1.9-0.7 1.9-0.7 2-0.8 1.9-0.7 2-0.8 1.9-0.8 2-0.7 1.9-0.8 1.9-0.8 2-0.7 1.9-0.8 2-0.8 1.9-0.8 1.9-0.8 2-0.8 1.9-0.8 2-0.8 1.9-0.8 1.9-0.8 2-0.8 1.9-0.8 2-0.9 1.9-0.8 1.9-0.8 2-0.9 1.9-0.8 2-0.9 1.9-0.8 1.9-0.9 2-0.9M538.8,257.8l-1-1.3-1-1.3-1-1.3-1-1.3-1-1.3-0.9-1.3-1-1.3-1-1.3-1-1.3-1-1.3-0.9-1.3-1-1.3-1-1.3-1-1.3-1-1.3-0.9-1.3-1-1.3-1-1.3-0.9-1.3-1-1.3-1-1.4-0.9-1.3-1-1.3-1-1.3-0.9-1.3-1-1.3-1-1.3-0.9-1.3-1-1.3-0.9-1.4-1-1.3-1-1.3-0.9-1.3-1-1.3-0.9-1.3-1-1.4-0.9-1.3-1-1.3-0.9-1.3-1-1.3-0.9-1.4-1-1.3-0.9-1.3-1-1.3-0.9-1.4-1-1.3-0.9-1.3-0.9-1.4-1-1.3-0.9-1.3-1-1.4-0.9-1.3-0.9-1.3-1-1.4-0.9-1.3-1-1.3-0.9-1.4-0.9-1.3-1-1.4-0.9-1.3-0.9-1.4-1-1.3-0.9-1.3-0.9-1.4-0.9-1.3-1-1.4-0.9-1.4-0.9-1.3-1-1.4-0.9-1.3-0.9-1.4-0.9-1.3-1-1.4-0.9-1.4-0.9-1.3-0.9-1.4-1-1.4-0.9-1.3-0.9-1.4-0.9-1.4-0.9-1.4-1-1.3-0.9-1.4-0.9-1.4-0.9-1.4-0.9-1.3-1-1.4-0.9-1.4-0.9-1.4-0.9-1.4-0.9-1.4-0.9-1.4-0.9-1.4-1-1.4-0.9-1.4-0.9-1.4-0.9-1.4-0.9-1.4-0.9-1.4-0.9-1.4M439.4,232.1l2.1-0.4 2.1-0.5 2.1-0.5 2-0.5 2.1-0.5 2.1-0.5 2.1-0.4 2-0.5 2.1-0.5 2-0.5 2.1-0.6 2.1-0.5 2-0.5 2-0.5 2.1-0.5 2-0.5 2.1-0.6 2-0.5 2-0.5 2.1-0.6 2-0.5 2-0.6 2-0.5 2-0.6 2.1-0.5 2-0.6 2-0.5 2-0.6 2-0.6 2-0.6 2-0.5 2-0.6 2-0.6 2-0.6 2-0.6 2-0.6 1.9-0.6 2-0.6 2-0.6 2-0.6 2-0.6 1.9-0.6 2-0.6 2-0.7 2-0.6 1.9-0.6 2-0.7 2-0.6 1.9-0.7 2-0.6 2-0.7 1.9-0.6 2-0.7 1.9-0.6 2-0.7 1.9-0.7 2-0.7 2-0.6 1.9-0.7 2-0.7 1.9-0.7 2-0.7 1.9-0.7 1.9-0.7 2-0.7 1.9-0.7 2-0.7 1.9-0.8 2-0.7 1.9-0.7 1.9-0.8 2-0.7 1.9-0.7 2-0.8 1.9-0.7 1.9-0.8 2-0.7 1.9-0.8 2-0.8 1.9-0.7 1.9-0.8 2-0.8 1.9-0.8 1.9-0.8 2-0.8 1.9-0.8 2-0.8 1.9-0.8 1.9-0.8 2-0.8 1.9-0.8 1.9-0.8 2-0.9 1.9-0.8 2-0.8 1.9-0.9 1.9-0.8 2-0.9 1.9-0.8 2-0.9M540.9,257l-1-1.3-1-1.2-1-1.3-1-1.3-1-1.3-1-1.3-1-1.3-0.9-1.3-1-1.3-1-1.3-1-1.3-1-1.3-1-1.3-0.9-1.3-1-1.3-1-1.3-1-1.3-0.9-1.3-1-1.3-1-1.3-1-1.3-0.9-1.3-1-1.3-1-1.3-0.9-1.3-1-1.3-1-1.3-0.9-1.3-1-1.3-0.9-1.4-1-1.3-1-1.3-0.9-1.3-1-1.3-0.9-1.3-1-1.3-0.9-1.3-1-1.4-1-1.3-0.9-1.3-1-1.3-0.9-1.3-1-1.4-0.9-1.3-0.9-1.3-1-1.3-0.9-1.3-1-1.4-0.9-1.3-1-1.3-0.9-1.4-1-1.3-0.9-1.3-0.9-1.4-1-1.3-0.9-1.3-0.9-1.4-1-1.3-0.9-1.3-1-1.4-0.9-1.3-0.9-1.4-1-1.3-0.9-1.3-0.9-1.4-0.9-1.3-1-1.4-0.9-1.3-0.9-1.4-1-1.3-0.9-1.4-0.9-1.4-0.9-1.3-1-1.4-0.9-1.3-0.9-1.4-0.9-1.4-1-1.3-0.9-1.4-0.9-1.4-0.9-1.3-1-1.4-0.9-1.4-0.9-1.3-0.9-1.4-0.9-1.4-1-1.4-0.9-1.3-0.9-1.4-0.9-1.4-0.9-1.4-0.9-1.4-1-1.4-0.9-1.4-0.9-1.4-0.9-1.4-0.9-1.3-0.9-1.4-0.9-1.4-1-1.4M438.5,230.7l2.1-0.5 2.1-0.5 2.1-0.4 2.1-0.5 2-0.5 2.1-0.5 2.1-0.5 2-0.5 2.1-0.5 2-0.5 2.1-0.5 2-0.5 2.1-0.5 2-0.5 2.1-0.5 2-0.5 2-0.6 2.1-0.5 2-0.5 2-0.6 2.1-0.5 2-0.5 2-0.6 2-0.5 2-0.6 2-0.5 2-0.6 2-0.6 2-0.5 2-0.6 2-0.6 2-0.5 2-0.6 2-0.6 2-0.6 2-0.6 2-0.6 2-0.6 1.9-0.6 2-0.6 2-0.6 2-0.6 1.9-0.6 2-0.6 2-0.7 1.9-0.6 2-0.6 2-0.7 1.9-0.6 2-0.7 2-0.6 1.9-0.7 2-0.6 1.9-0.7 2-0.6 1.9-0.7 2-0.7 1.9-0.6 2-0.7 1.9-0.7 2-0.7 1.9-0.7 2-0.7 1.9-0.7 2-0.7 1.9-0.7 1.9-0.7 2-0.7 1.9-0.7 2-0.8 1.9-0.7 1.9-0.7 2-0.8 1.9-0.7 1.9-0.8 2-0.7 1.9-0.8 2-0.7 1.9-0.8 1.9-0.8 2-0.7 1.9-0.8 1.9-0.8 2-0.8 1.9-0.8 1.9-0.7 2-0.8 1.9-0.8 1.9-0.9 2-0.8 1.9-0.8 1.9-0.8 2-0.8 1.9-0.9 1.9-0.8 2-0.8 1.9-0.9 1.9-0.8 2-0.9 1.9-0.8M542.9,256.3l-0.9-1.3-1-1.3-1-1.3-1-1.3-1-1.2-1-1.3-1-1.3-1-1.3-1-1.3-1-1.3-1-1.3-0.9-1.3-1-1.3-1-1.3-1-1.3-1-1.3-0.9-1.3-1-1.3-1-1.2-1-1.3-0.9-1.3-1-1.3-1-1.3-1-1.3-0.9-1.3-1-1.3-1-1.3-0.9-1.4-1-1.3-0.9-1.3-1-1.3-1-1.3-0.9-1.3-1-1.3-1-1.3-0.9-1.3-1-1.3-0.9-1.3-1-1.3-0.9-1.4-1-1.3-0.9-1.3-1-1.3-0.9-1.3-1-1.3-0.9-1.4-1-1.3-0.9-1.3-1-1.3-0.9-1.3-1-1.4-0.9-1.3-0.9-1.3-1-1.3-0.9-1.4-1-1.3-0.9-1.3-0.9-1.4-1-1.3-0.9-1.3-0.9-1.4-1-1.3-0.9-1.4-1-1.3-0.9-1.3-0.9-1.4-0.9-1.3-1-1.4-0.9-1.3-0.9-1.4-1-1.3-0.9-1.4-0.9-1.3-1-1.4-0.9-1.3-0.9-1.4-0.9-1.3-1-1.4-0.9-1.4-0.9-1.3-0.9-1.4-0.9-1.4-1-1.3-0.9-1.4-0.9-1.4-0.9-1.3-1-1.4-0.9-1.4-0.9-1.4-0.9-1.3-0.9-1.4-0.9-1.4-1-1.4-0.9-1.4-0.9-1.4-0.9-1.4-0.9-1.3-0.9-1.4-1-1.4-0.9-1.4M437.6,229.2l2.1-0.5 2.1-0.4 2.1-0.5 2.1-0.5 2-0.5 2.1-0.4 2.1-0.5 2-0.5 2.1-0.5 2-0.5 2.1-0.5 2-0.5 2.1-0.5 2-0.5 2.1-0.5 2-0.5 2-0.6 2.1-0.5 2-0.5 2-0.5 2-0.6 2-0.5 2.1-0.5 2-0.6 2-0.5 2-0.6 2-0.5 2-0.6 2-0.6 2-0.5 2-0.6 2-0.6 2-0.5 2-0.6 1.9-0.6 2-0.6 2-0.6 2-0.6 2-0.6 1.9-0.6 2-0.6 2-0.6 2-0.6 1.9-0.6 2-0.6 2-0.7 1.9-0.6 2-0.6 2-0.7 1.9-0.6 2-0.6 1.9-0.7 2-0.6 1.9-0.7 2-0.7 1.9-0.6 2-0.7 1.9-0.7 2-0.6 1.9-0.7 2-0.7 1.9-0.7 1.9-0.7 2-0.7 1.9-0.7 2-0.7 1.9-0.7 1.9-0.7 2-0.7 1.9-0.7 2-0.8 1.9-0.7 1.9-0.7 2-0.8 1.9-0.7 1.9-0.7 2-0.8 1.9-0.7 1.9-0.8 1.9-0.8 2-0.7 1.9-0.8 1.9-0.8 2-0.8 1.9-0.7 1.9-0.8 2-0.8 1.9-0.8 1.9-0.8 2-0.8 1.9-0.8 1.9-0.9 2-0.8 1.9-0.8 1.9-0.8 1.9-0.9 2-0.8 1.9-0.8 1.9-0.9 2-0.8M545,255.6l-1-1.3-1-1.3-1-1.3-1-1.3-1-1.3-1-1.2-1-1.3-0.9-1.3-1-1.3-1-1.3-1-1.3-1-1.3-1-1.3-1-1.2-1-1.3-0.9-1.3-1-1.3-1-1.3-1-1.3-0.9-1.3-1-1.3-1-1.3-1-1.3-0.9-1.3-1-1.3-1-1.3-1-1.3-0.9-1.3-1-1.3-1-1.3-0.9-1.3-1-1.3-0.9-1.3-1-1.3-1-1.3-0.9-1.3-1-1.3-0.9-1.3-1-1.3-1-1.3-0.9-1.3-1-1.3-0.9-1.4-1-1.3-0.9-1.3-1-1.3-0.9-1.3-1-1.3-0.9-1.3-1-1.4-0.9-1.3-0.9-1.3-1-1.3-0.9-1.4-1-1.3-0.9-1.3-1-1.3-0.9-1.4-0.9-1.3-1-1.3-0.9-1.3-1-1.4-0.9-1.3-0.9-1.4-1-1.3-0.9-1.3-0.9-1.4-1-1.3-0.9-1.4-0.9-1.3-1-1.3-0.9-1.4-0.9-1.3-0.9-1.4-1-1.3-0.9-1.4-0.9-1.3-1-1.4-0.9-1.4-0.9-1.3-0.9-1.4-0.9-1.3-1-1.4-0.9-1.4-0.9-1.3-0.9-1.4-1-1.4-0.9-1.3-0.9-1.4-0.9-1.4-0.9-1.4-1-1.3-0.9-1.4-0.9-1.4-0.9-1.4-0.9-1.4-1-1.4-0.9-1.3-0.9-1.4-0.9-1.4M436.7,227.7l2.1-0.4 2.1-0.5 2.1-0.5 2.1-0.4 2-0.5 2.1-0.5 2.1-0.5 2-0.4 2.1-0.5 2-0.5 2.1-0.5 2-0.5 2.1-0.5 2-0.5 2-0.5 2.1-0.5 2-0.5 2-0.6 2.1-0.5 2-0.5 2-0.5 2-0.6 2-0.5 2-0.5 2-0.6 2.1-0.5 2-0.6 2-0.5 2-0.6 1.9-0.5 2-0.6 2-0.6 2-0.6 2-0.5 2-0.6 2-0.6 2-0.6 1.9-0.6 2-0.6 2-0.6 2-0.6 1.9-0.6 2-0.6 2-0.6 1.9-0.6 2-0.6 1.9-0.6 2-0.7 2-0.6 1.9-0.6 2-0.7 1.9-0.6 2-0.7 1.9-0.6 2-0.7 1.9-0.6 2-0.7 1.9-0.7 2-0.6 1.9-0.7 1.9-0.7 2-0.7 1.9-0.7 2-0.7 1.9-0.6 1.9-0.7 2-0.8 1.9-0.7 1.9-0.7 2-0.7 1.9-0.7 1.9-0.7 2-0.8 1.9-0.7 1.9-0.7 2-0.8 1.9-0.7 1.9-0.8 1.9-0.7 2-0.8 1.9-0.7 1.9-0.8 2-0.8 1.9-0.8 1.9-0.7 1.9-0.8 2-0.8 1.9-0.8 1.9-0.8 2-0.8 1.9-0.8 1.9-0.8 1.9-0.8 2-0.9 1.9-0.8 1.9-0.8 2-0.8 1.9-0.9 1.9-0.8 1.9-0.9M547.1,254.8l-1-1.3-1-1.2-1-1.3-1-1.3-1-1.3-1-1.3-1-1.2-1-1.3-1-1.3-1-1.3-1-1.3-1-1.3-0.9-1.2-1-1.3-1-1.3-1-1.3-1-1.3-1-1.3-1-1.3-0.9-1.3-1-1.2-1-1.3-1-1.3-0.9-1.3-1-1.3-1-1.3-1-1.3-0.9-1.3-1-1.3-1-1.3-0.9-1.3-1-1.3-1-1.3-0.9-1.3-1-1.3-0.9-1.3-1-1.3-1-1.3-0.9-1.3-1-1.3-0.9-1.3-1-1.3-1-1.3-0.9-1.3-1-1.3-0.9-1.3-1-1.3-0.9-1.4-1-1.3-0.9-1.3-1-1.3-0.9-1.3-0.9-1.3-1-1.4-0.9-1.3-1-1.3-0.9-1.3-1-1.3-0.9-1.4-0.9-1.3-1-1.3-0.9-1.4-1-1.3-0.9-1.3-0.9-1.3-1-1.4-0.9-1.3-0.9-1.4-1-1.3-0.9-1.3-0.9-1.4-1-1.3-0.9-1.4-0.9-1.3-1-1.3-0.9-1.4-0.9-1.3-0.9-1.4-1-1.3-0.9-1.4-0.9-1.4-1-1.3-0.9-1.4-0.9-1.3-0.9-1.4-0.9-1.4-1-1.3-0.9-1.4-0.9-1.4-0.9-1.3-1-1.4-0.9-1.4-0.9-1.3-0.9-1.4-0.9-1.4-1-1.4-0.9-1.4-0.9-1.3-0.9-1.4-0.9-1.4M435.9,226.3l2-0.5 2.1-0.5 2.1-0.4 2.1-0.5 2-0.5 2.1-0.4 2.1-0.5 2-0.5 2.1-0.5 2-0.4 2.1-0.5 2-0.5 2.1-0.5 2-0.5 2-0.5 2.1-0.5 2-0.5 2-0.6 2-0.5 2.1-0.5 2-0.5 2-0.5 2-0.6 2-0.5 2-0.5 2-0.6 2-0.5 2-0.6 2-0.5 2-0.6 2-0.5 2-0.6 2-0.6 2-0.5 1.9-0.6 2-0.6 2-0.6 2-0.6 1.9-0.5 2-0.6 2-0.6 2-0.6 1.9-0.6 2-0.7 1.9-0.6 2-0.6 2-0.6 1.9-0.6 2-0.6 1.9-0.7 2-0.6 1.9-0.7 2-0.6 1.9-0.6 2-0.7 1.9-0.7 2-0.6 1.9-0.7 1.9-0.6 2-0.7 1.9-0.7 2-0.7 1.9-0.6 1.9-0.7 2-0.7 1.9-0.7 1.9-0.7 2-0.7 1.9-0.7 1.9-0.7 2-0.8 1.9-0.7 1.9-0.7 1.9-0.7 2-0.8 1.9-0.7 1.9-0.7 2-0.8 1.9-0.7 1.9-0.8 1.9-0.8 2-0.7 1.9-0.8 1.9-0.8 1.9-0.7 2-0.8 1.9-0.8 1.9-0.8 1.9-0.8 2-0.8 1.9-0.8 1.9-0.8 1.9-0.8 2-0.8 1.9-0.8 1.9-0.9 1.9-0.8 2-0.8 1.9-0.9 1.9-0.8M549.2,254.1l-1-1.3-1-1.3-1.1-1.3-1-1.2-1-1.3-1-1.3-1-1.3-0.9-1.2-1-1.3-1-1.3-1-1.3-1-1.3-1-1.2-1-1.3-1-1.3-1-1.3-1-1.3-0.9-1.2-1-1.3-1-1.3-1-1.3-1-1.3-1-1.3-0.9-1.3-1-1.2-1-1.3-1-1.3-0.9-1.3-1-1.3-1-1.3-0.9-1.3-1-1.3-1-1.3-0.9-1.3-1-1.3-1-1.3-0.9-1.3-1-1.3-1-1.3-0.9-1.3-1-1.3-0.9-1.3-1-1.3-0.9-1.3-1-1.3-1-1.3-0.9-1.3-1-1.3-0.9-1.3-1-1.3-0.9-1.3-1-1.3-0.9-1.3-1-1.4-0.9-1.3-0.9-1.3-1-1.3-0.9-1.3-1-1.4-0.9-1.3-1-1.3-0.9-1.3-0.9-1.3-1-1.4-0.9-1.3-1-1.3-0.9-1.4-0.9-1.3-1-1.3-0.9-1.4-0.9-1.3-1-1.3-0.9-1.4-0.9-1.3-1-1.4-0.9-1.3-0.9-1.3-0.9-1.4-1-1.3-0.9-1.4-0.9-1.3-1-1.4-0.9-1.3-0.9-1.4-0.9-1.4-1-1.3-0.9-1.4-0.9-1.3-0.9-1.4-1-1.4-0.9-1.3-0.9-1.4-0.9-1.4-0.9-1.3-1-1.4-0.9-1.4-0.9-1.4-0.9-1.4-0.9-1.3-1-1.4M435,224.8l2.1-0.5 2-0.4 2.1-0.5 2.1-0.4 2-0.5 2.1-0.5 2.1-0.4 2-0.5 2.1-0.5 2-0.5 2.1-0.5 2-0.4 2-0.5 2.1-0.5 2-0.5 2-0.5 2.1-0.5 2-0.5 2-0.6 2-0.5 2-0.5 2.1-0.5 2-0.5 2-0.6 2-0.5 2-0.5 2-0.6 2-0.5 2-0.6 2-0.5 1.9-0.6 2-0.5 2-0.6 2-0.6 2-0.5 2-0.6 1.9-0.6 2-0.6 2-0.5 1.9-0.6 2-0.6 2-0.6 1.9-0.6 2-0.6 2-0.6 1.9-0.6 2-0.7 1.9-0.6 2-0.6 1.9-0.6 2-0.7 1.9-0.6 2-0.6 1.9-0.7 2-0.6 1.9-0.7 2-0.6 1.9-0.7 1.9-0.6 2-0.7 1.9-0.7 1.9-0.7 2-0.6 1.9-0.7 1.9-0.7 2-0.7 1.9-0.7 1.9-0.7 2-0.7 1.9-0.7 1.9-0.7 1.9-0.7 2-0.8 1.9-0.7 1.9-0.7 1.9-0.7 2-0.8 1.9-0.7 1.9-0.8 1.9-0.7 2-0.8 1.9-0.7 1.9-0.8 1.9-0.8 2-0.7 1.9-0.8 1.9-0.8 1.9-0.8 1.9-0.8 2-0.8 1.9-0.8 1.9-0.8 1.9-0.8 1.9-0.8 2-0.8 1.9-0.8 1.9-0.8 1.9-0.9 2-0.8 1.9-0.8M551.2,253.3l-1-1.3-1-1.2-1-1.3-1-1.3-1-1.2-1-1.3-1-1.3-1-1.3-1-1.2-1-1.3-1-1.3-1-1.3-1-1.2-1-1.3-1-1.3-1-1.3-0.9-1.2-1-1.3-1-1.3-1-1.3-1-1.3-1-1.2-0.9-1.3-1-1.3-1-1.3-1-1.3-1-1.3-0.9-1.2-1-1.3-1-1.3-1-1.3-0.9-1.3-1-1.3-1-1.3-0.9-1.3-1-1.3-1-1.2-0.9-1.3-1-1.3-0.9-1.3-1-1.3-1-1.3-0.9-1.3-1-1.3-0.9-1.3-1-1.3-1-1.3-0.9-1.3-1-1.3-0.9-1.3-1-1.4-0.9-1.3-1-1.3-0.9-1.3-1-1.3-0.9-1.3-1-1.3-0.9-1.3-0.9-1.3-1-1.4-0.9-1.3-1-1.3-0.9-1.3-1-1.3-0.9-1.4-0.9-1.3-1-1.3-0.9-1.3-0.9-1.4-1-1.3-0.9-1.3-1-1.4-0.9-1.3-0.9-1.3-1-1.4-0.9-1.3-0.9-1.4-0.9-1.3-1-1.3-0.9-1.4-0.9-1.3-1-1.4-0.9-1.3-0.9-1.4-0.9-1.3-1-1.4-0.9-1.3-0.9-1.4-0.9-1.4-1-1.3-0.9-1.4-0.9-1.3-0.9-1.4-1-1.4-0.9-1.3-0.9-1.4-0.9-1.4-0.9-1.4-1-1.3-0.9-1.4M434.1,223.3l2.1-0.4 2-0.5 2.1-0.4 2.1-0.5 2-0.5 2.1-0.4 2.1-0.5 2-0.5 2.1-0.4 2-0.5 2.1-0.5 2-0.5 2-0.4 2.1-0.5 2-0.5 2-0.5 2-0.5 2.1-0.5 2-0.5 2-0.5 2-0.6 2-0.5 2-0.5 2-0.5 2-0.6 2-0.5 2-0.5 2-0.6 2-0.5 2-0.6 2-0.5 2-0.6 2-0.5 1.9-0.6 2-0.5 2-0.6 2-0.6 1.9-0.6 2-0.5 2-0.6 1.9-0.6 2-0.6 2-0.6 1.9-0.6 2-0.6 1.9-0.6 2-0.6 2-0.6 1.9-0.6 1.9-0.7 2-0.6 1.9-0.6 2-0.7 1.9-0.6 2-0.6 1.9-0.7 2-0.6 1.9-0.7 1.9-0.7 2-0.6 1.9-0.7 1.9-0.7 2-0.6 1.9-0.7 1.9-0.7 1.9-0.7 2-0.7 1.9-0.7 1.9-0.7 2-0.7 1.9-0.7 1.9-0.7 1.9-0.7 1.9-0.7 2-0.7 1.9-0.8 1.9-0.7 1.9-0.7 2-0.8 1.9-0.7 1.9-0.8 1.9-0.7 1.9-0.8 2-0.8 1.9-0.7 1.9-0.8 1.9-0.8 1.9-0.8 1.9-0.7 2-0.8 1.9-0.8 1.9-0.8 1.9-0.8 1.9-0.8 2-0.8 1.9-0.9 1.9-0.8 1.9-0.8 1.9-0.8 2-0.9M553.3,252.6l-1-1.3-1-1.3-1-1.2-1-1.3-1-1.3-1.1-1.2-1-1.3-1-1.3-1-1.3-1-1.2-1-1.3-1-1.3-1-1.2-0.9-1.3-1-1.3-1-1.3-1-1.2-1-1.3-1-1.3-1-1.3-1-1.2-1-1.3-0.9-1.3-1-1.3-1-1.2-1-1.3-1-1.3-0.9-1.3-1-1.3-1-1.2-1-1.3-0.9-1.3-1-1.3-1-1.3-1-1.3-0.9-1.3-1-1.2-1-1.3-0.9-1.3-1-1.3-0.9-1.3-1-1.3-1-1.3-0.9-1.3-1-1.3-0.9-1.3-1-1.3-1-1.3-0.9-1.3-1-1.3-0.9-1.3-1-1.3-0.9-1.3-1-1.3-0.9-1.3-1-1.3-0.9-1.3-1-1.3-0.9-1.3-1-1.4-0.9-1.3-1-1.3-0.9-1.3-0.9-1.3-1-1.3-0.9-1.4-1-1.3-0.9-1.3-0.9-1.3-1-1.3-0.9-1.4-0.9-1.3-1-1.3-0.9-1.4-1-1.3-0.9-1.3-0.9-1.4-1-1.3-0.9-1.3-0.9-1.4-0.9-1.3-1-1.4-0.9-1.3-0.9-1.4-1-1.3-0.9-1.4-0.9-1.3-0.9-1.4-1-1.3-0.9-1.4-0.9-1.3-0.9-1.4-1-1.3-0.9-1.4-0.9-1.4-0.9-1.3-1-1.4-0.9-1.4-0.9-1.4-0.9-1.3M433.2,221.8l2.1-0.4 2-0.5 2.1-0.4 2.1-0.5 2-0.4 2.1-0.5 2.1-0.4 2-0.5 2.1-0.5 2-0.4 2-0.5 2.1-0.5 2-0.5 2.1-0.4 2-0.5 2-0.5 2-0.5 2-0.5 2.1-0.5 2-0.5 2-0.5 2-0.6 2-0.5 2-0.5 2-0.5 2-0.5 2-0.6 2-0.5 2-0.5 2-0.6 2-0.5 1.9-0.6 2-0.5 2-0.6 2-0.6 1.9-0.5 2-0.6 2-0.6 2-0.5 1.9-0.6 2-0.6 1.9-0.6 2-0.6 2-0.6 1.9-0.6 2-0.6 1.9-0.6 2-0.6 1.9-0.6 2-0.6 1.9-0.6 2-0.7 1.9-0.6 1.9-0.6 2-0.7 1.9-0.6 1.9-0.7 2-0.6 1.9-0.7 1.9-0.6 2-0.7 1.9-0.6 1.9-0.7 2-0.7 1.9-0.7 1.9-0.7 1.9-0.6 2-0.7 1.9-0.7 1.9-0.7 1.9-0.7 2-0.7 1.9-0.7 1.9-0.8 1.9-0.7 1.9-0.7 2-0.7 1.9-0.8 1.9-0.7 1.9-0.7 1.9-0.8 1.9-0.7 2-0.8 1.9-0.8 1.9-0.7 1.9-0.8 1.9-0.8 1.9-0.7 2-0.8 1.9-0.8 1.9-0.8 1.9-0.8 1.9-0.8 1.9-0.8 2-0.8 1.9-0.8 1.9-0.8 1.9-0.9 1.9-0.8 1.9-0.8M555.4,251.8l-1-1.3-1.1-1.2-1-1.3-1-1.3-1-1.2-1-1.3-1-1.2-1-1.3-1-1.3-1-1.2-1-1.3-1-1.3-1-1.2-1-1.3-1-1.3-1-1.2-1-1.3-1-1.3-1-1.3-1-1.2-1-1.3-1-1.3-0.9-1.2-1-1.3-1-1.3-1-1.3-1-1.2-0.9-1.3-1-1.3-1-1.3-1-1.2-1-1.3-0.9-1.3-1-1.3-1-1.3-0.9-1.3-1-1.2-1-1.3-1-1.3-0.9-1.3-1-1.3-0.9-1.3-1-1.3-1-1.3-0.9-1.2-1-1.3-1-1.3-0.9-1.3-1-1.3-0.9-1.3-1-1.3-0.9-1.3-1-1.3-0.9-1.3-1-1.3-0.9-1.3-1-1.3-0.9-1.3-1-1.3-0.9-1.3-1-1.4-0.9-1.3-1-1.3-0.9-1.3-1-1.3-0.9-1.3-1-1.3-0.9-1.4-0.9-1.3-1-1.3-0.9-1.3-0.9-1.3-1-1.4-0.9-1.3-1-1.3-0.9-1.4-0.9-1.3-1-1.3-0.9-1.4-0.9-1.3-1-1.3-0.9-1.4-0.9-1.3-0.9-1.3-1-1.4-0.9-1.3-0.9-1.4-1-1.3-0.9-1.4-0.9-1.3-0.9-1.4-1-1.3-0.9-1.4-0.9-1.4-0.9-1.3-1-1.4-0.9-1.3-0.9-1.4-0.9-1.4-1-1.3M432.3,220.4l2.1-0.5 2.1-0.4 2-0.5 2.1-0.4 2.1-0.5 2-0.4 2.1-0.5 2-0.4 2.1-0.5 2-0.5 2-0.4 2.1-0.5 2-0.5 2-0.5 2.1-0.4 2-0.5 2-0.5 2-0.5 2-0.5 2.1-0.5 2-0.5 2-0.5 2-0.5 2-0.6 2-0.5 2-0.5 2-0.5 2-0.6 1.9-0.5 2-0.5 2-0.6 2-0.5 2-0.6 1.9-0.5 2-0.6 2-0.5 2-0.6 1.9-0.6 2-0.5 2-0.6 1.9-0.6 2-0.6 1.9-0.6 2-0.5 1.9-0.6 2-0.6 1.9-0.6 2-0.6 1.9-0.7 2-0.6 1.9-0.6 2-0.6 1.9-0.6 1.9-0.7 2-0.6 1.9-0.6 1.9-0.7 2-0.6 1.9-0.7 1.9-0.6 2-0.7 1.9-0.6 1.9-0.7 1.9-0.7 2-0.7 1.9-0.6 1.9-0.7 1.9-0.7 2-0.7 1.9-0.7 1.9-0.7 1.9-0.7 1.9-0.7 2-0.7 1.9-0.7 1.9-0.7 1.9-0.8 1.9-0.7 1.9-0.7 1.9-0.8 2-0.7 1.9-0.8 1.9-0.7 1.9-0.8 1.9-0.7 1.9-0.8 1.9-0.8 2-0.7 1.9-0.8 1.9-0.8 1.9-0.8 1.9-0.8 1.9-0.8 1.9-0.8 1.9-0.8 2-0.8 1.9-0.8 1.9-0.8 1.9-0.8 1.9-0.8M557.4,251l-1-1.2-1-1.3-1-1.2-1-1.3-1-1.3-1.1-1.2-1-1.3-1-1.2-1-1.3-1-1.3-1-1.2-1-1.3-1-1.2-1-1.3-1-1.3-1-1.2-1-1.3-1-1.3-1-1.2-1-1.3-1-1.3-0.9-1.2-1-1.3-1-1.3-1-1.2-1-1.3-1-1.3-1-1.3-0.9-1.2-1-1.3-1-1.3-1-1.3-1-1.2-0.9-1.3-1-1.3-1-1.3-0.9-1.2-1-1.3-1-1.3-1-1.3-0.9-1.3-1-1.3-1-1.2-0.9-1.3-1-1.3-0.9-1.3-1-1.3-1-1.3-0.9-1.3-1-1.3-0.9-1.3-1-1.2-1-1.3-0.9-1.3-1-1.3-0.9-1.3-1-1.3-0.9-1.3-1-1.3-0.9-1.3-1-1.3-0.9-1.4-1-1.3-0.9-1.3-1-1.3-0.9-1.3-0.9-1.3-1-1.3-0.9-1.3-1-1.4-0.9-1.3-0.9-1.3-1-1.3-0.9-1.3-1-1.4-0.9-1.3-0.9-1.3-1-1.3-0.9-1.4-0.9-1.3-1-1.3-0.9-1.4-0.9-1.3-1-1.3-0.9-1.4-0.9-1.3-1-1.4-0.9-1.3-0.9-1.3-0.9-1.4-1-1.3-0.9-1.4-0.9-1.3-0.9-1.4-1-1.4-0.9-1.3-0.9-1.4-0.9-1.3-1-1.4-0.9-1.4M431.4,218.9l2.1-0.5 2.1-0.4 2-0.4 2.1-0.5 2.1-0.4 2-0.5 2.1-0.4 2-0.5 2.1-0.4 2-0.5 2-0.5 2.1-0.4 2-0.5 2-0.5 2.1-0.5 2-0.4 2-0.5 2-0.5 2-0.5 2-0.5 2-0.5 2-0.5 2.1-0.5 1.9-0.5 2-0.5 2-0.6 2-0.5 2-0.5 2-0.5 2-0.6 2-0.5 1.9-0.5 2-0.6 2-0.5 2-0.6 1.9-0.5 2-0.6 2-0.6 1.9-0.5 2-0.6 2-0.6 1.9-0.6 2-0.5 1.9-0.6 2-0.6 1.9-0.6 2-0.6 1.9-0.6 2-0.6 1.9-0.6 1.9-0.6 2-0.6 1.9-0.7 1.9-0.6 2-0.6 1.9-0.7 1.9-0.6 2-0.6 1.9-0.7 1.9-0.6 2-0.7 1.9-0.6 1.9-0.7 1.9-0.7 2-0.6 1.9-0.7 1.9-0.7 1.9-0.7 1.9-0.7 1.9-0.6 2-0.7 1.9-0.7 1.9-0.7 1.9-0.8 1.9-0.7 1.9-0.7 2-0.7 1.9-0.7 1.9-0.8 1.9-0.7 1.9-0.7 1.9-0.8 1.9-0.7 1.9-0.8 1.9-0.7 2-0.8 1.9-0.7 1.9-0.8 1.9-0.8 1.9-0.8 1.9-0.7 1.9-0.8 1.9-0.8 1.9-0.8 1.9-0.8 2-0.8 1.9-0.8 1.9-0.8 1.9-0.9 1.9-0.8M559.5,250.3l-1-1.3-1-1.2-1.1-1.3-1-1.3-1-1.2-1-1.3-1-1.2-1-1.3-1-1.2-1.1-1.3-1-1.2-1-1.3-1-1.3-1-1.2-1-1.3-1-1.2-1-1.3-1-1.3-1-1.2-1-1.3-1-1.2-0.9-1.3-1-1.3-1-1.2-1-1.3-1-1.3-1-1.2-1-1.3-1-1.3-0.9-1.2-1-1.3-1-1.3-1-1.2-1-1.3-0.9-1.3-1-1.3-1-1.2-1-1.3-0.9-1.3-1-1.3-1-1.3-0.9-1.2-1-1.3-1-1.3-0.9-1.3-1-1.3-1-1.2-0.9-1.3-1-1.3-1-1.3-0.9-1.3-1-1.3-0.9-1.3-1-1.3-0.9-1.3-1-1.3-0.9-1.3-1-1.2-1-1.3-0.9-1.3-1-1.3-0.9-1.3-1-1.3-0.9-1.4-0.9-1.3-1-1.3-0.9-1.3-1-1.3-0.9-1.3-1-1.3-0.9-1.3-0.9-1.3-1-1.4-0.9-1.3-1-1.3-0.9-1.3-0.9-1.3-1-1.4-0.9-1.3-1-1.3-0.9-1.3-0.9-1.4-1-1.3-0.9-1.3-0.9-1.4-1-1.3-0.9-1.3-0.9-1.4-0.9-1.3-1-1.4-0.9-1.3-0.9-1.3-1-1.4-0.9-1.3-0.9-1.4-0.9-1.3-1-1.4-0.9-1.4-0.9-1.3-0.9-1.4M430.5,217.4l2.1-0.4 2.1-0.5 2-0.4 2.1-0.4 2.1-0.5 2-0.4 2.1-0.5 2-0.4 2.1-0.5 2-0.4 2-0.5 2.1-0.4 2-0.5 2-0.5 2-0.5 2.1-0.4 2-0.5 2-0.5 2-0.5 2-0.5 2-0.5 2-0.5 2-0.5 2-0.5 2-0.5 2-0.5 2-0.5 2-0.5 2-0.6 1.9-0.5 2-0.5 2-0.6 2-0.5 1.9-0.6 2-0.5 2-0.6 1.9-0.5 2-0.6 2-0.5 1.9-0.6 2-0.6 1.9-0.5 2-0.6 1.9-0.6 2-0.6 1.9-0.6 2-0.6 1.9-0.6 2-0.6 1.9-0.6 1.9-0.6 2-0.6 1.9-0.6 2-0.6 1.9-0.6 1.9-0.7 1.9-0.6 2-0.6 1.9-0.7 1.9-0.6 1.9-0.7 2-0.6 1.9-0.7 1.9-0.7 1.9-0.6 2-0.7 1.9-0.7 1.9-0.6 1.9-0.7 1.9-0.7 1.9-0.7 1.9-0.7 2-0.7 1.9-0.7 1.9-0.7 1.9-0.7 1.9-0.7 1.9-0.8 1.9-0.7 1.9-0.7 1.9-0.7 1.9-0.8 2-0.7 1.9-0.8 1.9-0.7 1.9-0.8 1.9-0.7 1.9-0.8 1.9-0.8 1.9-0.7 1.9-0.8 1.9-0.8 1.9-0.8 1.9-0.8 1.9-0.8 2-0.8 1.9-0.8 1.9-0.8 1.9-0.8 1.9-0.8M561.6,249.5l-1.1-1.3-1-1.2-1-1.3-1-1.2-1-1.3-1.1-1.2-1-1.3-1-1.2-1-1.3-1-1.2-1-1.3-1-1.2-1-1.3-1.1-1.2-1-1.3-1-1.2-1-1.3-1-1.2-1-1.3-1-1.3-1-1.2-0.9-1.3-1-1.2-1-1.3-1-1.3-1-1.2-1-1.3-1-1.2-1-1.3-1-1.3-0.9-1.2-1-1.3-1-1.3-1-1.2-1-1.3-0.9-1.3-1-1.3-1-1.2-1-1.3-0.9-1.3-1-1.2-1-1.3-1-1.3-0.9-1.3-1-1.2-1-1.3-0.9-1.3-1-1.3-1-1.3-0.9-1.3-1-1.2-0.9-1.3-1-1.3-1-1.3-0.9-1.3-1-1.3-0.9-1.3-1-1.3-0.9-1.3-1-1.3-0.9-1.2-1-1.3-0.9-1.3-1-1.3-0.9-1.3-1-1.3-0.9-1.3-1-1.4-0.9-1.3-1-1.3-0.9-1.3-1-1.3-0.9-1.3-0.9-1.3-1-1.3-0.9-1.3-1-1.4-0.9-1.3-0.9-1.3-1-1.3-0.9-1.3-0.9-1.4-1-1.3-0.9-1.3-0.9-1.4-1-1.3-0.9-1.3-0.9-1.4-1-1.3-0.9-1.3-0.9-1.4-1-1.3-0.9-1.3-0.9-1.4-0.9-1.3-1-1.4-0.9-1.3-0.9-1.4-1-1.3-0.9-1.4M429.7,215.9l2-0.4 2.1-0.4 2.1-0.5 2-0.4 2.1-0.4 2-0.5 2.1-0.4 2-0.5 2.1-0.4 2-0.5 2-0.4 2.1-0.5 2-0.4 2-0.5 2-0.5 2.1-0.4 2-0.5 2-0.5 2-0.5 2-0.5 2-0.5 2-0.5 2-0.5 2-0.5 2-0.5 2-0.5 2-0.5 1.9-0.5 2-0.5 2-0.5 2-0.6 2-0.5 1.9-0.5 2-0.6 2-0.5 1.9-0.6 2-0.5 2-0.6 1.9-0.5 2-0.6 1.9-0.6 2-0.5 1.9-0.6 2-0.6 1.9-0.6 2-0.5 1.9-0.6 2-0.6 1.9-0.6 1.9-0.6 2-0.6 1.9-0.6 1.9-0.6 2-0.7 1.9-0.6 1.9-0.6 1.9-0.6 2-0.7 1.9-0.6 1.9-0.6 1.9-0.7 2-0.6 1.9-0.7 1.9-0.6 1.9-0.7 1.9-0.7 1.9-0.6 2-0.7 1.9-0.7 1.9-0.7 1.9-0.7 1.9-0.6 1.9-0.7 1.9-0.7 1.9-0.7 1.9-0.8 2-0.7 1.9-0.7 1.9-0.7 1.9-0.7 1.9-0.8 1.9-0.7 1.9-0.7 1.9-0.8 1.9-0.7 1.9-0.8 1.9-0.7 1.9-0.8 1.9-0.8 1.9-0.7 1.9-0.8 1.9-0.8 1.9-0.8 1.9-0.7 1.9-0.8 1.9-0.8 2-0.8 1.9-0.8 1.9-0.8 1.9-0.9M563.6,248.7l-1-1.2-1-1.3-1.1-1.2-1-1.3-1-1.2-1-1.3-1-1.2-1.1-1.2-1-1.3-1-1.2-1-1.3-1-1.2-1-1.3-1-1.2-1-1.3-1-1.2-1-1.3-1-1.2-1.1-1.3-1-1.2-1-1.3-0.9-1.3-1-1.2-1-1.3-1-1.2-1-1.3-1-1.2-1-1.3-1-1.3-1-1.2-1-1.3-1-1.2-0.9-1.3-1-1.3-1-1.2-1-1.3-1-1.3-0.9-1.2-1-1.3-1-1.3-1-1.2-0.9-1.3-1-1.3-1-1.3-0.9-1.2-1-1.3-1-1.3-1-1.3-0.9-1.2-1-1.3-0.9-1.3-1-1.3-1-1.3-0.9-1.2-1-1.3-0.9-1.3-1-1.3-1-1.3-0.9-1.3-1-1.3-0.9-1.3-1-1.2-0.9-1.3-1-1.3-0.9-1.3-1-1.3-0.9-1.3-1-1.3-0.9-1.3-1-1.3-0.9-1.3-1-1.3-0.9-1.3-0.9-1.4-1-1.3-0.9-1.3-1-1.3-0.9-1.3-1-1.3-0.9-1.3-0.9-1.4-1-1.3-0.9-1.3-0.9-1.3-1-1.4-0.9-1.3-0.9-1.3-1-1.3-0.9-1.4-0.9-1.3-1-1.3-0.9-1.4-0.9-1.3-1-1.4-0.9-1.3-0.9-1.3-0.9-1.4-1-1.3-0.9-1.4-0.9-1.3M428.8,214.4l2-0.4 2.1-0.4 2.1-0.4 2-0.5 2.1-0.4 2-0.4 2.1-0.5 2-0.4 2.1-0.4 2-0.5 2-0.4 2.1-0.5 2-0.5 2-0.4 2-0.5 2-0.4 2.1-0.5 2-0.5 2-0.5 2-0.5 2-0.4 2-0.5 2-0.5 2-0.5 2-0.5 1.9-0.5 2-0.5 2-0.5 2-0.6 2-0.5 1.9-0.5 2-0.5 2-0.6 2-0.5 1.9-0.5 2-0.6 1.9-0.5 2-0.6 2-0.5 1.9-0.6 2-0.5 1.9-0.6 2-0.6 1.9-0.5 2-0.6 1.9-0.6 1.9-0.6 2-0.6 1.9-0.6 1.9-0.6 2-0.6 1.9-0.6 1.9-0.6 2-0.6 1.9-0.6 1.9-0.6 2-0.7 1.9-0.6 1.9-0.6 1.9-0.6 1.9-0.7 2-0.6 1.9-0.7 1.9-0.6 1.9-0.7 1.9-0.7 1.9-0.6 1.9-0.7 1.9-0.7 2-0.6 1.9-0.7 1.9-0.7 1.9-0.7 1.9-0.7 1.9-0.7 1.9-0.7 1.9-0.7 1.9-0.7 1.9-0.7 1.9-0.8 1.9-0.7 1.9-0.7 1.9-0.7 1.9-0.8 1.9-0.7 1.9-0.8 1.9-0.7 1.9-0.8 1.9-0.7 1.9-0.8 1.9-0.8 1.9-0.7 1.9-0.8 1.9-0.8 1.9-0.8 1.9-0.8 2-0.8 1.9-0.8 1.9-0.8 1.9-0.8M565.7,247.9l-1.1-1.2-1-1.2-1-1.3-1-1.2-1.1-1.3-1-1.2-1-1.2-1-1.3-1-1.2-1.1-1.3-1-1.2-1-1.3-1-1.2-1-1.3-1-1.2-1-1.2-1-1.3-1-1.2-1-1.3-1-1.2-1.1-1.3-1-1.2-0.9-1.3-1-1.2-1-1.3-1-1.2-1-1.3-1-1.3-1-1.2-1-1.3-1-1.2-1-1.3-1-1.2-1-1.3-0.9-1.3-1-1.2-1-1.3-1-1.2-1-1.3-0.9-1.3-1-1.2-1-1.3-1-1.3-0.9-1.2-1-1.3-1-1.3-0.9-1.2-1-1.3-1-1.3-0.9-1.3-1-1.2-1-1.3-0.9-1.3-1-1.3-1-1.3-0.9-1.2-1-1.3-0.9-1.3-1-1.3-1-1.3-0.9-1.3-1-1.2-0.9-1.3-1-1.3-0.9-1.3-1-1.3-0.9-1.3-1-1.3-0.9-1.3-1-1.3-0.9-1.3-1-1.3-0.9-1.3-1-1.3-0.9-1.3-0.9-1.3-1-1.3-0.9-1.3-1-1.4-0.9-1.3-1-1.3-0.9-1.3-0.9-1.3-1-1.3-0.9-1.4-0.9-1.3-1-1.3-0.9-1.3-0.9-1.4-1-1.3-0.9-1.3-0.9-1.3-1-1.4-0.9-1.3-0.9-1.3-1-1.4-0.9-1.3-0.9-1.4-0.9-1.3-1-1.4M427.9,213l2.1-0.5 2-0.4 2.1-0.4 2-0.4 2.1-0.4 2-0.5 2.1-0.4 2-0.4 2.1-0.5 2-0.4 2-0.5 2-0.4 2.1-0.5 2-0.4 2-0.5 2-0.5 2-0.4 2-0.5 2.1-0.5 2-0.4 2-0.5 2-0.5 1.9-0.5 2-0.5 2-0.5 2-0.5 2-0.5 2-0.5 2-0.5 1.9-0.5 2-0.5 2-0.6 1.9-0.5 2-0.5 2-0.6 1.9-0.5 2-0.5 1.9-0.6 2-0.5 2-0.6 1.9-0.5 2-0.6 1.9-0.6 1.9-0.5 2-0.6 1.9-0.6 2-0.6 1.9-0.5 1.9-0.6 2-0.6 1.9-0.6 1.9-0.6 2-0.6 1.9-0.6 1.9-0.6 1.9-0.7 2-0.6 1.9-0.6 1.9-0.6 1.9-0.7 1.9-0.6 1.9-0.6 2-0.7 1.9-0.6 1.9-0.7 1.9-0.6 1.9-0.7 1.9-0.7 1.9-0.6 1.9-0.7 1.9-0.7 1.9-0.7 2-0.6 1.9-0.7 1.9-0.7 1.9-0.7 1.9-0.7 1.9-0.7 1.9-0.8 1.9-0.7 1.9-0.7 1.9-0.7 1.9-0.7 1.9-0.8 1.9-0.7 1.9-0.8 1.9-0.7 1.9-0.8 1.9-0.7 1.9-0.8 1.9-0.7 1.9-0.8 1.9-0.8 1.9-0.8 1.9-0.8 1.9-0.7 1.8-0.8 1.9-0.8 1.9-0.8 1.9-0.8M567.7,247.2l-1-1.3-1-1.2-1.1-1.3-1-1.2-1-1.2-1-1.3-1.1-1.2-1-1.2-1-1.3-1-1.2-1-1.3-1.1-1.2-1-1.2-1-1.3-1-1.2-1-1.3-1-1.2-1-1.2-1-1.3-1-1.2-1.1-1.3-1-1.2-1-1.3-1-1.2-1-1.3-1-1.2-0.9-1.3-1-1.2-1-1.3-1-1.2-1-1.3-1-1.2-1-1.3-1-1.2-1-1.3-1-1.2-0.9-1.3-1-1.3-1-1.2-1-1.3-1-1.2-0.9-1.3-1-1.3-1-1.2-1-1.3-0.9-1.3-1-1.2-1-1.3-0.9-1.3-1-1.2-1-1.3-1-1.3-0.9-1.2-1-1.3-0.9-1.3-1-1.3-1-1.3-0.9-1.2-1-1.3-0.9-1.3-1-1.3-1-1.3-0.9-1.2-1-1.3-0.9-1.3-1-1.3-0.9-1.3-1-1.3-0.9-1.3-1-1.3-0.9-1.3-1-1.3-0.9-1.3-1-1.3-0.9-1.3-1-1.3-0.9-1.3-1-1.3-0.9-1.3-0.9-1.3-1-1.3-0.9-1.3-1-1.3-0.9-1.3-0.9-1.4-1-1.3-0.9-1.3-0.9-1.3-1-1.3-0.9-1.4-0.9-1.3-1-1.3-0.9-1.3-0.9-1.4-1-1.3-0.9-1.3-0.9-1.4-1-1.3-0.9-1.4-0.9-1.3M427,211.5l2.1-0.4 2-0.4 2.1-0.5 2-0.4 2.1-0.4 2-0.4 2.1-0.5 2-0.4 2.1-0.4 2-0.5 2-0.4 2-0.4 2.1-0.5 2-0.4 2-0.5 2-0.5 2-0.4 2-0.5 2-0.5 2-0.4 2-0.5 2-0.5 2-0.5 2-0.5 2-0.5 2-0.5 2-0.4 1.9-0.6 2-0.5 2-0.5 2-0.5 1.9-0.5 2-0.5 2-0.5 1.9-0.6 2-0.5 1.9-0.5 2-0.6 1.9-0.5 2-0.6 1.9-0.5 2-0.6 1.9-0.5 2-0.6 1.9-0.6 2-0.5 1.9-0.6 1.9-0.6 2-0.6 1.9-0.6 1.9-0.6 1.9-0.6 2-0.6 1.9-0.6 1.9-0.6 1.9-0.6 2-0.6 1.9-0.6 1.9-0.6 1.9-0.7 1.9-0.6 1.9-0.6 2-0.7 1.9-0.6 1.9-0.7 1.9-0.6 1.9-0.7 1.9-0.6 1.9-0.7 1.9-0.7 1.9-0.6 1.9-0.7 1.9-0.7 1.9-0.7 1.9-0.7 1.9-0.7 1.9-0.7 1.9-0.7 1.9-0.7 1.9-0.7 1.9-0.7 1.9-0.7 1.9-0.8 1.9-0.7 1.9-0.7 1.9-0.8 1.9-0.7 1.9-0.8 1.9-0.7 1.9-0.8 1.9-0.7 1.9-0.8 1.9-0.8 1.9-0.7 1.9-0.8 1.9-0.8 1.9-0.8 1.8-0.8 1.9-0.8 1.9-0.8M569.8,246.4l-1-1.3-1.1-1.2-1-1.2-1-1.3-1.1-1.2-1-1.2-1-1.3-1.1-1.2-1-1.2-1-1.3-1-1.2-1-1.2-1.1-1.3-1-1.2-1-1.2-1-1.3-1-1.2-1-1.3-1-1.2-1-1.2-1.1-1.3-1-1.2-1-1.3-1-1.2-1-1.2-1-1.3-1-1.2-1-1.3-1-1.2-1-1.3-0.9-1.2-1-1.3-1-1.2-1-1.3-1-1.2-1-1.3-1-1.2-1-1.3-0.9-1.2-1-1.3-1-1.2-1-1.3-1-1.3-0.9-1.2-1-1.3-1-1.2-1-1.3-0.9-1.3-1-1.2-1-1.3-1-1.3-0.9-1.2-1-1.3-1-1.3-0.9-1.2-1-1.3-1-1.3-0.9-1.3-1-1.2-0.9-1.3-1-1.3-1-1.3-0.9-1.3-1-1.2-0.9-1.3-1-1.3-0.9-1.3-1-1.3-0.9-1.3-1-1.3-0.9-1.2-1-1.3-0.9-1.3-1-1.3-0.9-1.3-1-1.3-0.9-1.3-1-1.3-0.9-1.3-1-1.3-0.9-1.3-0.9-1.3-1-1.3-0.9-1.4-1-1.3-0.9-1.3-0.9-1.3-1-1.3-0.9-1.3-1-1.3-0.9-1.4-0.9-1.3-1-1.3-0.9-1.3-0.9-1.4-1-1.3-0.9-1.3-0.9-1.4-1-1.3-0.9-1.3M426.1,210l2.1-0.4 2-0.4 2.1-0.4 2.1-0.4 2-0.5 2-0.4 2.1-0.4 2-0.4 2.1-0.5 2-0.4 2-0.4 2-0.5 2.1-0.4 2-0.5 2-0.4 2-0.5 2-0.4 2-0.5 2-0.5 2-0.4 2-0.5 2-0.5 2-0.5 2-0.4 2-0.5 2-0.5 1.9-0.5 2-0.5 2-0.5 2-0.5 1.9-0.5 2-0.5 2-0.6 1.9-0.5 2-0.5 1.9-0.5 2-0.6 1.9-0.5 2-0.5 1.9-0.6 2-0.5 1.9-0.6 2-0.5 1.9-0.6 1.9-0.6 2-0.5 1.9-0.6 2-0.6 1.9-0.5 1.9-0.6 1.9-0.6 2-0.6 1.9-0.6 1.9-0.6 1.9-0.6 1.9-0.6 2-0.6 1.9-0.6 1.9-0.7 1.9-0.6 1.9-0.6 1.9-0.6 1.9-0.7 2-0.6 1.9-0.7 1.9-0.6 1.9-0.7 1.9-0.6 1.9-0.7 1.9-0.6 1.9-0.7 1.9-0.7 1.9-0.7 1.9-0.6 1.9-0.7 1.9-0.7 1.9-0.7 1.9-0.7 1.9-0.7 1.9-0.7 1.9-0.7 1.9-0.8 1.9-0.7 1.8-0.7 1.9-0.7 1.9-0.8 1.9-0.7 1.9-0.7 1.9-0.8 1.9-0.7 1.9-0.8 1.9-0.8 1.9-0.7 1.9-0.8 1.9-0.8 1.9-0.8 1.9-0.7 1.8-0.8 1.9-0.8 1.9-0.8M571.9,245.6l-1.1-1.2-1-1.3-1.1-1.2-1-1.2-1-1.3-1.1-1.2-1-1.2-1-1.2-1.1-1.3-1-1.2-1-1.2-1-1.3-1-1.2-1.1-1.2-1-1.3-1-1.2-1-1.2-1-1.3-1-1.2-1.1-1.2-1-1.3-1-1.2-1-1.2-1-1.3-1-1.2-1-1.3-1-1.2-1-1.2-1-1.3-1-1.2-1-1.3-1-1.2-1-1.3-1-1.2-0.9-1.3-1-1.2-1-1.2-1-1.3-1-1.2-1-1.3-1-1.3-0.9-1.2-1-1.3-1-1.2-1-1.3-1-1.2-0.9-1.3-1-1.2-1-1.3-1-1.3-0.9-1.2-1-1.3-1-1.3-0.9-1.2-1-1.3-1-1.3-0.9-1.2-1-1.3-1-1.3-0.9-1.2-1-1.3-1-1.3-0.9-1.3-1-1.2-0.9-1.3-1-1.3-0.9-1.3-1-1.3-1-1.2-0.9-1.3-1-1.3-0.9-1.3-1-1.3-0.9-1.3-1-1.3-0.9-1.3-1-1.3-0.9-1.3-0.9-1.3-1-1.3-0.9-1.3-1-1.3-0.9-1.3-1-1.3-0.9-1.3-0.9-1.3-1-1.3-0.9-1.3-1-1.3-0.9-1.3-0.9-1.4-1-1.3-0.9-1.3-0.9-1.3-1-1.3-0.9-1.4-0.9-1.3-1-1.3-0.9-1.4-0.9-1.3M425.2,208.5l2.1-0.4 2.1-0.4 2-0.4 2.1-0.4 2-0.4 2-0.4 2.1-0.5 2-0.4 2.1-0.4 2-0.4 2-0.5 2-0.4 2.1-0.4 2-0.5 2-0.4 2-0.5 2-0.4 2-0.5 2-0.5 2-0.4 2-0.5 2-0.5 2-0.4 2-0.5 1.9-0.5 2-0.5 2-0.5 2-0.5 2-0.5 1.9-0.5 2-0.5 2-0.5 1.9-0.5 2-0.5 1.9-0.5 2-0.5 1.9-0.6 2-0.5 1.9-0.5 2-0.6 1.9-0.5 2-0.6 1.9-0.5 1.9-0.6 2-0.5 1.9-0.6 2-0.6 1.9-0.5 1.9-0.6 1.9-0.6 2-0.6 1.9-0.6 1.9-0.5 1.9-0.6 1.9-0.6 2-0.6 1.9-0.6 1.9-0.7 1.9-0.6 1.9-0.6 1.9-0.6 1.9-0.6 1.9-0.7 1.9-0.6 2-0.6 1.9-0.7 1.9-0.6 1.9-0.7 1.9-0.6 1.9-0.7 1.9-0.7 1.9-0.6 1.9-0.7 1.9-0.7 1.8-0.7 1.9-0.7 1.9-0.7 1.9-0.6 1.9-0.7 1.9-0.8 1.9-0.7 1.9-0.7 1.9-0.7 1.9-0.7 1.9-0.7 1.9-0.8 1.9-0.7 1.8-0.7 1.9-0.8 1.9-0.7 1.9-0.8 1.9-0.7 1.9-0.8 1.9-0.8 1.9-0.7 1.9-0.8 1.9-0.8 1.9-0.8 1.8-0.8 1.9-0.8M573.9,244.8l-1-1.2-1.1-1.3-1-1.2-1.1-1.2-1-1.2-1-1.3-1.1-1.2-1-1.2-1-1.2-1.1-1.3-1-1.2-1-1.2-1-1.2-1-1.3-1.1-1.2-1-1.2-1-1.2-1-1.3-1-1.2-1.1-1.2-1-1.3-1-1.2-1-1.2-1-1.3-1-1.2-1-1.2-1-1.3-1-1.2-1-1.3-1-1.2-1-1.2-1-1.3-1-1.2-1-1.3-1-1.2-1-1.2-1-1.3-1-1.2-1-1.3-0.9-1.2-1-1.3-1-1.2-1-1.3-1-1.2-1-1.3-0.9-1.2-1-1.3-1-1.2-1-1.3-0.9-1.2-1-1.3-1-1.3-1-1.2-0.9-1.3-1-1.2-1-1.3-0.9-1.3-1-1.2-1-1.3-0.9-1.3-1-1.2-1-1.3-0.9-1.3-1-1.3-0.9-1.2-1-1.3-1-1.3-0.9-1.3-1-1.2-0.9-1.3-1-1.3-0.9-1.3-1-1.3-0.9-1.3-1-1.2-0.9-1.3-1-1.3-0.9-1.3-1-1.3-0.9-1.3-1-1.3-0.9-1.3-1-1.3-0.9-1.3-0.9-1.3-1-1.3-0.9-1.3-1-1.3-0.9-1.3-0.9-1.3-1-1.3-0.9-1.4-1-1.3-0.9-1.3-0.9-1.3-1-1.3-0.9-1.4-0.9-1.3-1-1.3-0.9-1.3M424.4,207l2-0.4 2.1-0.4 2-0.4 2.1-0.4 2-0.4 2.1-0.4 2-0.4 2-0.4 2.1-0.4 2-0.5 2-0.4 2-0.4 2.1-0.5 2-0.4 2-0.4 2-0.5 2-0.4 2-0.5 2-0.4 2-0.5 2-0.5 2-0.4 2-0.5 1.9-0.5 2-0.5 2-0.4 2-0.5 1.9-0.5 2-0.5 2-0.5 2-0.5 1.9-0.5 2-0.5 1.9-0.5 2-0.5 1.9-0.6 2-0.5 1.9-0.5 2-0.5 1.9-0.6 2-0.5 1.9-0.6 1.9-0.5 2-0.6 1.9-0.5 2-0.6 1.9-0.5 1.9-0.6 1.9-0.6 2-0.5 1.9-0.6 1.9-0.6 1.9-0.6 1.9-0.6 2-0.6 1.9-0.6 1.9-0.6 1.9-0.6 1.9-0.6 1.9-0.6 1.9-0.6 1.9-0.6 1.9-0.7 1.9-0.6 1.9-0.6 1.9-0.7 1.9-0.6 1.9-0.7 1.9-0.6 1.9-0.7 1.9-0.6 1.9-0.7 1.9-0.7 1.9-0.6 1.9-0.7 1.9-0.7 1.9-0.7 1.9-0.7 1.9-0.7 1.9-0.7 1.9-0.7 1.9-0.7 1.8-0.7 1.9-0.7 1.9-0.7 1.9-0.8 1.9-0.7 1.9-0.7 1.9-0.8 1.9-0.7 1.8-0.8 1.9-0.7 1.9-0.8 1.9-0.7 1.9-0.8 1.9-0.8 1.9-0.8 1.9-0.7 1.8-0.8 1.9-0.8M576,244l-1.1-1.2-1-1.2-1.1-1.3-1-1.2-1.1-1.2-1-1.2-1-1.2-1.1-1.3-1-1.2-1-1.2-1.1-1.2-1-1.3-1-1.2-1-1.2-1.1-1.2-1-1.2-1-1.3-1-1.2-1-1.2-1.1-1.2-1-1.3-1-1.2-1-1.2-1-1.3-1-1.2-1-1.2-1-1.3-1-1.2-1-1.2-1-1.3-1-1.2-1-1.2-1-1.3-1-1.2-1-1.2-1-1.3-1-1.2-1-1.3-1-1.2-1-1.2-1-1.3-1-1.2-1-1.3-0.9-1.2-1-1.3-1-1.2-1-1.3-1-1.2-0.9-1.3-1-1.2-1-1.3-1-1.2-0.9-1.3-1-1.2-1-1.3-1-1.3-0.9-1.2-1-1.3-1-1.2-0.9-1.3-1-1.3-1-1.2-0.9-1.3-1-1.3-0.9-1.2-1-1.3-1-1.3-0.9-1.3-1-1.2-0.9-1.3-1-1.3-0.9-1.3-1-1.2-1-1.3-0.9-1.3-1-1.3-0.9-1.3-1-1.3-0.9-1.3-1-1.2-0.9-1.3-0.9-1.3-1-1.3-0.9-1.3-1-1.3-0.9-1.3-1-1.3-0.9-1.3-1-1.3-0.9-1.3-0.9-1.3-1-1.4-0.9-1.3-0.9-1.3-1-1.3-0.9-1.3-1-1.3-0.9-1.3-0.9-1.4-1-1.3M423.5,205.5l2-0.4 2.1-0.4 2-0.4 2.1-0.4 2-0.4 2.1-0.4 2-0.4 2-0.4 2.1-0.4 2-0.4 2-0.4 2-0.5 2-0.4 2.1-0.4 2-0.5 2-0.4 2-0.4 2-0.5 2-0.4 2-0.5 2-0.5 1.9-0.4 2-0.5 2-0.5 2-0.4 2-0.5 1.9-0.5 2-0.5 2-0.5 2-0.5 1.9-0.4 2-0.5 1.9-0.6 2-0.5 1.9-0.5 2-0.5 1.9-0.5 2-0.5 1.9-0.6 2-0.5 1.9-0.5 2-0.6 1.9-0.5 1.9-0.5 2-0.6 1.9-0.5 1.9-0.6 1.9-0.6 2-0.5 1.9-0.6 1.9-0.6 1.9-0.5 1.9-0.6 2-0.6 1.9-0.6 1.9-0.6 1.9-0.6 1.9-0.6 1.9-0.6 1.9-0.6 1.9-0.6 1.9-0.6 1.9-0.7 1.9-0.6 1.9-0.6 1.9-0.7 1.9-0.6 1.9-0.6 1.9-0.7 1.9-0.6 1.9-0.7 1.9-0.7 1.9-0.6 1.9-0.7 1.9-0.7 1.9-0.7 1.9-0.6 1.9-0.7 1.8-0.7 1.9-0.7 1.9-0.7 1.9-0.7 1.9-0.7 1.9-0.7 1.9-0.7 1.8-0.8 1.9-0.7 1.9-0.7 1.9-0.8 1.9-0.7 1.9-0.7 1.9-0.8 1.8-0.7 1.9-0.8 1.9-0.8 1.9-0.7 1.9-0.8 1.9-0.8 1.8-0.8 1.9-0.8M578,243.2l-1-1.2-1.1-1.2-1-1.3-1.1-1.2-1-1.2-1.1-1.2-1-1.2-1-1.2-1.1-1.2-1-1.3-1-1.2-1.1-1.2-1-1.2-1-1.2-1.1-1.3-1-1.2-1-1.2-1-1.2-1-1.2-1.1-1.3-1-1.2-1-1.2-1-1.2-1-1.3-1-1.2-1-1.2-1.1-1.2-1-1.3-1-1.2-1-1.2-1-1.3-1-1.2-1-1.2-1-1.3-1-1.2-1-1.2-1-1.3-1-1.2-1-1.2-0.9-1.3-1-1.2-1-1.2-1-1.3-1-1.2-1-1.3-1-1.2-1-1.3-0.9-1.2-1-1.3-1-1.2-1-1.2-1-1.3-0.9-1.2-1-1.3-1-1.3-0.9-1.2-1-1.3-1-1.2-1-1.3-0.9-1.2-1-1.3-1-1.3-0.9-1.2-1-1.3-1-1.3-0.9-1.2-1-1.3-0.9-1.3-1-1.2-1-1.3-0.9-1.3-1-1.2-0.9-1.3-1-1.3-0.9-1.3-1-1.3-0.9-1.2-1-1.3-0.9-1.3-1-1.3-0.9-1.3-1-1.3-0.9-1.3-1-1.3-0.9-1.2-1-1.3-0.9-1.3-1-1.3-0.9-1.3-0.9-1.3-1-1.3-0.9-1.3-1-1.4-0.9-1.3-0.9-1.3-1-1.3-0.9-1.3-1-1.3-0.9-1.3-0.9-1.3M422.6,204l2-0.4 2.1-0.3 2-0.4 2.1-0.4 2-0.4 2.1-0.4 2-0.4 2-0.4 2.1-0.4 2-0.5 2-0.4 2-0.4 2-0.4 2.1-0.4 2-0.5 2-0.4 2-0.5 2-0.4 2-0.4 2-0.5 1.9-0.4 2-0.5 2-0.5 2-0.4 2-0.5 1.9-0.5 2-0.5 2-0.4 2-0.5 1.9-0.5 2-0.5 1.9-0.5 2-0.5 1.9-0.5 2-0.5 2-0.5 1.9-0.5 1.9-0.5 2-0.6 1.9-0.5 2-0.5 1.9-0.5 1.9-0.6 2-0.5 1.9-0.6 1.9-0.5 1.9-0.6 2-0.5 1.9-0.6 1.9-0.6 1.9-0.5 1.9-0.6 2-0.6 1.9-0.6 1.9-0.5 1.9-0.6 1.9-0.6 1.9-0.6 1.9-0.6 1.9-0.6 1.9-0.6 1.9-0.7 1.9-0.6 1.9-0.6 1.9-0.6 1.9-0.7 1.9-0.6 1.9-0.6 1.9-0.7 1.9-0.6 1.9-0.7 1.9-0.6 1.9-0.7 1.9-0.7 1.9-0.6 1.8-0.7 1.9-0.7 1.9-0.7 1.9-0.6 1.9-0.7 1.9-0.7 1.9-0.7 1.8-0.7 1.9-0.7 1.9-0.8 1.9-0.7 1.9-0.7 1.9-0.7 1.8-0.8 1.9-0.7 1.9-0.7 1.9-0.8 1.9-0.7 1.8-0.8 1.9-0.7 1.9-0.8 1.9-0.8 1.9-0.7 1.9-0.8 1.8-0.8M580.1,242.4l-1.1-1.2-1-1.2-1.1-1.2-1-1.3-1.1-1.2-1-1.2-1.1-1.2-1-1.2-1-1.2-1.1-1.2-1-1.2-1.1-1.3-1-1.2-1-1.2-1-1.2-1.1-1.2-1-1.2-1-1.2-1-1.3-1.1-1.2-1-1.2-1-1.2-1-1.2-1-1.3-1.1-1.2-1-1.2-1-1.2-1-1.2-1-1.3-1-1.2-1-1.2-1-1.3-1-1.2-1-1.2-1-1.2-1-1.3-1-1.2-1-1.2-1-1.3-1-1.2-1-1.2-1-1.3-1-1.2-1-1.2-1-1.3-0.9-1.2-1-1.3-1-1.2-1-1.2-1-1.3-1-1.2-0.9-1.3-1-1.2-1-1.3-1-1.2-0.9-1.3-1-1.2-1-1.3-1-1.2-0.9-1.3-1-1.2-1-1.3-0.9-1.3-1-1.2-1-1.3-0.9-1.2-1-1.3-1-1.3-0.9-1.2-1-1.3-0.9-1.3-1-1.2-1-1.3-0.9-1.3-1-1.3-0.9-1.2-1-1.3-0.9-1.3-1-1.3-0.9-1.2-1-1.3-0.9-1.3-1-1.3-0.9-1.3-1-1.3-0.9-1.3-1-1.3-0.9-1.3-1-1.3-0.9-1.2-0.9-1.3-1-1.3-0.9-1.4-1-1.3-0.9-1.3-0.9-1.3-1-1.3-0.9-1.3-1-1.3-0.9-1.3M421.7,202.5l2.1-0.3 2-0.4 2.1-0.4 2-0.4 2-0.4 2.1-0.4 2-0.4 2-0.4 2.1-0.4 2-0.4 2-0.4 2-0.4 2-0.4 2-0.5 2.1-0.4 2-0.4 2-0.5 2-0.4 1.9-0.4 2-0.5 2-0.4 2-0.5 2-0.5 2-0.4 1.9-0.5 2-0.4 2-0.5 2-0.5 1.9-0.5 2-0.5 1.9-0.4 2-0.5 2-0.5 1.9-0.5 2-0.5 1.9-0.5 2-0.5 1.9-0.5 1.9-0.6 2-0.5 1.9-0.5 1.9-0.5 2-0.6 1.9-0.5 1.9-0.6 2-0.5 1.9-0.5 1.9-0.6 1.9-0.6 1.9-0.5 2-0.6 1.9-0.5 1.9-0.6 1.9-0.6 1.9-0.6 1.9-0.6 1.9-0.6 1.9-0.5 1.9-0.6 1.9-0.6 1.9-0.7 1.9-0.6 1.9-0.6 1.9-0.6 1.9-0.6 1.9-0.6 1.9-0.7 1.9-0.6 1.9-0.6 1.9-0.7 1.9-0.6 1.9-0.7 1.9-0.6 1.8-0.7 1.9-0.7 1.9-0.6 1.9-0.7 1.9-0.7 1.9-0.7 1.8-0.7 1.9-0.7 1.9-0.7 1.9-0.7 1.9-0.7 1.9-0.7 1.8-0.7 1.9-0.7 1.9-0.7 1.9-0.7 1.8-0.8 1.9-0.7 1.9-0.8 1.9-0.7 1.9-0.8 1.8-0.7 1.9-0.8 1.9-0.7 1.9-0.8 1.9-0.8 1.8-0.7M582.1,241.6l-1-1.2-1.1-1.2-1-1.2-1.1-1.2-1-1.3-1.1-1.2-1-1.2-1.1-1.2-1-1.2-1.1-1.2-1-1.2-1-1.2-1.1-1.2-1-1.2-1-1.2-1.1-1.2-1-1.3-1-1.2-1.1-1.2-1-1.2-1-1.2-1-1.2-1-1.2-1.1-1.3-1-1.2-1-1.2-1-1.2-1-1.2-1-1.3-1-1.2-1.1-1.2-1-1.2-1-1.2-1-1.3-1-1.2-1-1.2-1-1.2-1-1.3-1-1.2-1-1.2-1-1.3-1-1.2-0.9-1.2-1-1.3-1-1.2-1-1.2-1-1.3-1-1.2-1-1.2-1-1.3-0.9-1.2-1-1.3-1-1.2-1-1.2-1-1.3-0.9-1.2-1-1.3-1-1.2-1-1.3-0.9-1.2-1-1.3-1-1.2-0.9-1.3-1-1.2-1-1.3-0.9-1.3-1-1.2-1-1.3-0.9-1.2-1-1.3-1-1.3-0.9-1.2-1-1.3-0.9-1.3-1-1.2-1-1.3-0.9-1.3-1-1.3-0.9-1.2-1-1.3-0.9-1.3-1-1.3-0.9-1.2-1-1.3-0.9-1.3-1-1.3-0.9-1.3-1-1.3-0.9-1.3-0.9-1.3-1-1.3-0.9-1.3-1-1.3-0.9-1.3-1-1.3-0.9-1.3-0.9-1.3-1-1.3-0.9-1.3-1-1.3M420.8,201l2.1-0.3 2-0.4 2.1-0.4 2-0.4 2.1-0.4 2-0.3 2-0.4 2-0.4 2.1-0.4 2-0.4 2-0.5 2-0.4 2-0.4 2-0.4 2-0.4 2.1-0.4 1.9-0.5 2-0.4 2-0.4 2-0.5 2-0.4 2-0.5 2-0.4 1.9-0.5 2-0.4 2-0.5 2-0.5 1.9-0.4 2-0.5 2-0.5 1.9-0.5 2-0.5 1.9-0.5 2-0.5 1.9-0.4 2-0.6 1.9-0.5 1.9-0.5 2-0.5 1.9-0.5 2-0.5 1.9-0.5 1.9-0.6 1.9-0.5 2-0.5 1.9-0.6 1.9-0.5 1.9-0.6 2-0.5 1.9-0.6 1.9-0.5 1.9-0.6 1.9-0.6 1.9-0.5 1.9-0.6 1.9-0.6 1.9-0.6 1.9-0.6 1.9-0.6 1.9-0.6 1.9-0.6 1.9-0.6 1.9-0.6 1.9-0.6 1.9-0.6 1.9-0.6 1.9-0.7 1.9-0.6 1.9-0.6 1.9-0.7 1.9-0.6 1.8-0.7 1.9-0.6 1.9-0.7 1.9-0.6 1.9-0.7 1.9-0.7 1.8-0.6 1.9-0.7 1.9-0.7 1.9-0.7 1.9-0.7 1.8-0.7 1.9-0.7 1.9-0.7 1.9-0.7 1.9-0.7 1.8-0.7 1.9-0.7 1.9-0.8 1.9-0.7 1.8-0.7 1.9-0.8 1.9-0.7 1.9-0.8 1.8-0.7 1.9-0.8 1.9-0.8 1.9-0.7 1.8-0.8M584.2,240.8l-1.1-1.2-1-1.2-1.1-1.2-1.1-1.2-1-1.2-1.1-1.2-1-1.2-1.1-1.2-1-1.3-1-1.2-1.1-1.2-1-1.2-1.1-1.2-1-1.2-1-1.2-1.1-1.2-1-1.2-1-1.2-1.1-1.2-1-1.2-1-1.2-1-1.2-1.1-1.3-1-1.2-1-1.2-1-1.2-1-1.2-1.1-1.2-1-1.2-1-1.3-1-1.2-1-1.2-1-1.2-1-1.2-1-1.3-1-1.2-1-1.2-1-1.2-1-1.2-1-1.3-1-1.2-1-1.2-1-1.2-1-1.3-1-1.2-1-1.2-1-1.3-1-1.2-1-1.2-0.9-1.3-1-1.2-1-1.2-1-1.3-1-1.2-1-1.3-0.9-1.2-1-1.2-1-1.3-1-1.2-0.9-1.3-1-1.2-1-1.3-1-1.2-0.9-1.3-1-1.2-1-1.3-0.9-1.2-1-1.3-1-1.2-0.9-1.3-1-1.3-0.9-1.2-1-1.3-1-1.3-0.9-1.2-1-1.3-0.9-1.3-1-1.2-1-1.3-0.9-1.3-1-1.2-0.9-1.3-1-1.3-0.9-1.3-1-1.3-0.9-1.2-1-1.3-0.9-1.3-1-1.3-0.9-1.3-1-1.3-0.9-1.3-0.9-1.3-1-1.2-0.9-1.3-1-1.3-0.9-1.3-0.9-1.3-1-1.3-0.9-1.4M419.9,199.6l2.1-0.4 2-0.4 2.1-0.4 2-0.3 2.1-0.4 2-0.4 2-0.4 2.1-0.4 2-0.4 2-0.4 2-0.4 2-0.4 2-0.4 2-0.4 2-0.4 2-0.5 2-0.4 2-0.4 2-0.5 2-0.4 2-0.4 2-0.5 2-0.4 1.9-0.5 2-0.4 2-0.5 1.9-0.4 2-0.5 2-0.5 1.9-0.5 2-0.4 1.9-0.5 2-0.5 1.9-0.5 2-0.5 1.9-0.5 2-0.5 1.9-0.5 1.9-0.5 2-0.5 1.9-0.5 1.9-0.5 2-0.6 1.9-0.5 1.9-0.5 1.9-0.6 2-0.5 1.9-0.5 1.9-0.6 1.9-0.5 1.9-0.6 1.9-0.6 1.9-0.5 1.9-0.6 1.9-0.6 1.9-0.5 2-0.6 1.9-0.6 1.9-0.6 1.8-0.6 1.9-0.6 1.9-0.6 1.9-0.6 1.9-0.6 1.9-0.6 1.9-0.6 1.9-0.6 1.9-0.7 1.9-0.6 1.9-0.6 1.8-0.7 1.9-0.6 1.9-0.7 1.9-0.6 1.9-0.7 1.9-0.6 1.8-0.7 1.9-0.7 1.9-0.7 1.9-0.6 1.8-0.7 1.9-0.7 1.9-0.7 1.9-0.7 1.9-0.7 1.8-0.7 1.9-0.7 1.9-0.7 1.8-0.7 1.9-0.8 1.9-0.7 1.9-0.7 1.8-0.8 1.9-0.7 1.9-0.7 1.9-0.8 1.8-0.7 1.9-0.8 1.9-0.8 1.9-0.7M586.2,239.9l-1-1.1-1.1-1.2-1.1-1.2-1-1.2-1.1-1.2-1-1.2-1.1-1.2-1-1.2-1.1-1.2-1-1.2-1.1-1.2-1-1.2-1.1-1.2-1-1.2-1-1.2-1.1-1.2-1-1.2-1-1.2-1.1-1.2-1-1.3-1-1.2-1.1-1.2-1-1.2-1-1.2-1-1.2-1-1.2-1.1-1.2-1-1.2-1-1.2-1-1.2-1-1.3-1-1.2-1.1-1.2-1-1.2-1-1.2-1-1.2-1-1.3-1-1.2-1-1.2-1-1.2-1-1.2-1-1.3-1-1.2-1-1.2-1-1.2-1-1.3-1-1.2-1-1.2-0.9-1.2-1-1.3-1-1.2-1-1.2-1-1.3-1-1.2-1-1.2-0.9-1.3-1-1.2-1-1.3-1-1.2-0.9-1.2-1-1.3-1-1.2-1-1.3-0.9-1.2-1-1.3-1-1.2-0.9-1.3-1-1.2-1-1.3-0.9-1.2-1-1.3-1-1.2-0.9-1.3-1-1.2-1-1.3-0.9-1.3-1-1.2-0.9-1.3-1-1.3-1-1.2-0.9-1.3-1-1.3-0.9-1.2-1-1.3-0.9-1.3-1-1.3-0.9-1.3-1-1.2-0.9-1.3-1-1.3-0.9-1.3-1-1.3-0.9-1.3-0.9-1.3-1-1.2-0.9-1.3-1-1.3-0.9-1.3-1-1.3-0.9-1.3M419.1,198.1l2-0.4 2.1-0.4 2-0.3 2-0.4 2.1-0.4 2-0.4 2-0.4 2.1-0.3 2-0.4 2-0.4 2-0.4 2-0.4 2-0.4 2-0.5 2-0.4 2-0.4 2-0.4 2-0.4 2-0.5 2-0.4 2-0.4 2-0.5 1.9-0.4 2-0.4 2-0.5 1.9-0.5 2-0.4 2-0.5 1.9-0.4 2-0.5 1.9-0.5 2-0.5 1.9-0.4 2-0.5 1.9-0.5 2-0.5 1.9-0.5 2-0.5 1.9-0.5 1.9-0.5 2-0.5 1.9-0.5 1.9-0.6 1.9-0.5 2-0.5 1.9-0.5 1.9-0.6 1.9-0.5 1.9-0.6 1.9-0.5 1.9-0.6 2-0.5 1.9-0.6 1.9-0.5 1.9-0.6 1.9-0.6 1.9-0.5 1.9-0.6 1.9-0.6 1.9-0.6 1.9-0.6 1.8-0.6 1.9-0.6 1.9-0.6 1.9-0.6 1.9-0.6 1.9-0.6 1.9-0.7 1.9-0.6 1.8-0.6 1.9-0.7 1.9-0.6 1.9-0.6 1.9-0.7 1.9-0.6 1.8-0.7 1.9-0.7 1.9-0.6 1.9-0.7 1.8-0.7 1.9-0.6 1.9-0.7 1.9-0.7 1.8-0.7 1.9-0.7 1.9-0.7 1.8-0.7 1.9-0.7 1.9-0.7 1.9-0.8 1.8-0.7 1.9-0.7 1.9-0.7 1.8-0.8 1.9-0.7 1.9-0.8 1.9-0.7 1.8-0.8 1.9-0.7 1.9-0.8M588.3,239.1l-1.1-1.2-1.1-1.2-1-1.1-1.1-1.2-1-1.2-1.1-1.2-1.1-1.2-1-1.2-1.1-1.2-1-1.2-1.1-1.2-1-1.2-1-1.2-1.1-1.2-1-1.2-1.1-1.2-1-1.2-1-1.2-1.1-1.2-1-1.2-1-1.2-1.1-1.2-1-1.2-1-1.2-1.1-1.2-1-1.2-1-1.2-1-1.2-1-1.2-1.1-1.2-1-1.2-1-1.3-1-1.2-1-1.2-1-1.2-1-1.2-1-1.2-1-1.2-1-1.2-1.1-1.3-1-1.2-1-1.2-1-1.2-1-1.2-0.9-1.3-1-1.2-1-1.2-1-1.2-1-1.2-1-1.3-1-1.2-1-1.2-1-1.3-1-1.2-0.9-1.2-1-1.2-1-1.3-1-1.2-1-1.3-1-1.2-0.9-1.2-1-1.3-1-1.2-1-1.3-0.9-1.2-1-1.2-1-1.3-0.9-1.2-1-1.3-1-1.2-0.9-1.3-1-1.2-1-1.3-0.9-1.2-1-1.3-1-1.3-0.9-1.2-1-1.3-0.9-1.2-1-1.3-1-1.3-0.9-1.2-1-1.3-0.9-1.3-1-1.2-0.9-1.3-1-1.3-0.9-1.3-1-1.2-0.9-1.3-1-1.3-0.9-1.3-1-1.3-0.9-1.3-1-1.2-0.9-1.3-0.9-1.3-1-1.3-0.9-1.3-1-1.3M418.2,196.6l2-0.4 2.1-0.4 2-0.3 2-0.4 2.1-0.4 2-0.3 2-0.4 2.1-0.4 2-0.4 2-0.4 2-0.4 2-0.4 2-0.4 2-0.4 2-0.4 2-0.4 2-0.4 2-0.4 2-0.5 2-0.4 2-0.4 1.9-0.5 2-0.4 2-0.4 2-0.5 1.9-0.4 2-0.5 1.9-0.4 2-0.5 2-0.5 1.9-0.4 2-0.5 1.9-0.5 2-0.5 1.9-0.4 1.9-0.5 2-0.5 1.9-0.5 1.9-0.5 2-0.5 1.9-0.5 1.9-0.5 2-0.6 1.9-0.5 1.9-0.5 1.9-0.5 1.9-0.6 1.9-0.5 2-0.5 1.9-0.6 1.9-0.5 1.9-0.6 1.9-0.5 1.9-0.6 1.9-0.5 1.9-0.6 1.9-0.6 1.9-0.6 1.9-0.5 1.9-0.6 1.9-0.6 1.9-0.6 1.8-0.6 1.9-0.6 1.9-0.6 1.9-0.6 1.9-0.6 1.9-0.6 1.9-0.7 1.8-0.6 1.9-0.6 1.9-0.7 1.9-0.6 1.9-0.6 1.8-0.7 1.9-0.6 1.9-0.7 1.9-0.7 1.8-0.6 1.9-0.7 1.9-0.7 1.8-0.7 1.9-0.6 1.9-0.7 1.9-0.7 1.8-0.7 1.9-0.7 1.9-0.7 1.8-0.7 1.9-0.7 1.9-0.8 1.8-0.7 1.9-0.7 1.9-0.7 1.8-0.8 1.9-0.7 1.9-0.8 1.8-0.7 1.9-0.8 1.9-0.7M590.3,238.3l-1.1-1.2-1-1.2-1.1-1.2-1-1.1-1.1-1.2-1.1-1.2-1-1.2-1.1-1.2-1-1.2-1.1-1.2-1-1.2-1.1-1.2-1-1.2-1.1-1.2-1-1.1-1.1-1.2-1-1.2-1-1.2-1.1-1.2-1-1.2-1.1-1.2-1-1.2-1-1.2-1-1.2-1.1-1.2-1-1.2-1-1.2-1.1-1.2-1-1.2-1-1.2-1-1.2-1-1.2-1-1.2-1.1-1.2-1-1.3-1-1.2-1-1.2-1-1.2-1-1.2-1-1.2-1-1.2-1-1.2-1-1.2-1-1.3-1-1.2-1-1.2-1-1.2-1-1.2-1-1.3-1-1.2-1-1.2-1-1.2-1-1.2-1-1.3-0.9-1.2-1-1.2-1-1.3-1-1.2-1-1.2-1-1.3-0.9-1.2-1-1.2-1-1.3-1-1.2-0.9-1.2-1-1.3-1-1.2-1-1.3-0.9-1.2-1-1.2-1-1.3-0.9-1.2-1-1.3-1-1.2-0.9-1.3-1-1.3-1-1.2-0.9-1.3-1-1.2-0.9-1.3-1-1.2-1-1.3-0.9-1.3-1-1.2-0.9-1.3-1-1.3-0.9-1.2-1-1.3-0.9-1.3-1-1.3-0.9-1.2-1-1.3-0.9-1.3-1-1.3-0.9-1.3-1-1.2-0.9-1.3-1-1.3-0.9-1.3-1-1.3M417.3,195.1l2-0.4 2.1-0.3 2-0.4 2.1-0.4 2-0.3 2-0.4 2-0.4 2.1-0.4 2-0.3 2-0.4 2-0.4 2-0.4 2-0.4 2-0.4 2-0.4 2-0.4 2-0.4 2-0.4 2-0.5 2-0.4 2-0.4 1.9-0.4 2-0.5 2-0.4 1.9-0.5 2-0.4 2-0.4 1.9-0.5 2-0.5 1.9-0.4 2-0.5 1.9-0.4 2-0.5 1.9-0.5 2-0.5 1.9-0.5 1.9-0.4 2-0.5 1.9-0.5 1.9-0.5 2-0.5 1.9-0.5 1.9-0.5 1.9-0.6 1.9-0.5 2-0.5 1.9-0.5 1.9-0.6 1.9-0.5 1.9-0.5 1.9-0.6 1.9-0.5 1.9-0.6 1.9-0.5 1.9-0.6 1.9-0.6 1.9-0.5 1.9-0.6 1.9-0.6 1.9-0.5 1.9-0.6 1.9-0.6 1.9-0.6 1.8-0.6 1.9-0.6 1.9-0.6 1.9-0.6 1.9-0.6 1.8-0.7 1.9-0.6 1.9-0.6 1.9-0.6 1.9-0.7 1.8-0.6 1.9-0.6 1.9-0.7 1.9-0.7 1.8-0.6 1.9-0.7 1.9-0.6 1.8-0.7 1.9-0.7 1.9-0.7 1.8-0.6 1.9-0.7 1.9-0.7 1.8-0.7 1.9-0.7 1.9-0.7 1.8-0.7 1.9-0.8 1.9-0.7 1.8-0.7 1.9-0.7 1.9-0.8 1.8-0.7 1.9-0.7 1.9-0.8 1.8-0.7 1.9-0.8M592.4,237.5l-1.1-1.2-1.1-1.2-1-1.2-1.1-1.2-1.1-1.1-1-1.2-1.1-1.2-1.1-1.2-1-1.2-1.1-1.2-1-1.2-1.1-1.1-1-1.2-1.1-1.2-1-1.2-1.1-1.2-1-1.2-1.1-1.2-1-1.2-1-1.2-1.1-1.2-1-1.2-1-1.1-1.1-1.2-1-1.2-1-1.2-1.1-1.2-1-1.2-1-1.2-1-1.2-1.1-1.2-1-1.2-1-1.2-1-1.2-1-1.2-1-1.2-1.1-1.2-1-1.2-1-1.3-1-1.2-1-1.2-1-1.2-1-1.2-1-1.2-1-1.2-1-1.2-1-1.2-1-1.3-1-1.2-1-1.2-1-1.2-1-1.2-1-1.2-1-1.3-0.9-1.2-1-1.2-1-1.2-1-1.3-1-1.2-1-1.2-1-1.2-0.9-1.3-1-1.2-1-1.2-1-1.3-0.9-1.2-1-1.3-1-1.2-1-1.2-0.9-1.3-1-1.2-1-1.3-0.9-1.2-1-1.3-1-1.2-0.9-1.2-1-1.3-1-1.3-0.9-1.2-1-1.3-1-1.2-0.9-1.3-1-1.2-0.9-1.3-1-1.3-0.9-1.2-1-1.3-0.9-1.3-1-1.2-1-1.3-0.9-1.3-1-1.2-0.9-1.3-1-1.3-0.9-1.3-0.9-1.3-1-1.2-0.9-1.3-1-1.3-0.9-1.3M416.4,193.6l2.1-0.4 2-0.3 2-0.4 2.1-0.3 2-0.4 2-0.4 2.1-0.3 2-0.4 2-0.4 2-0.4 2-0.4 2-0.4 2-0.3 2-0.4 2-0.4 2-0.4 2-0.5 2-0.4 2-0.4 2-0.4 1.9-0.4 2-0.4 2-0.5 2-0.4 1.9-0.4 2-0.5 1.9-0.4 2-0.5 2-0.4 1.9-0.5 2-0.4 1.9-0.5 1.9-0.5 2-0.4 1.9-0.5 2-0.5 1.9-0.5 1.9-0.5 2-0.4 1.9-0.5 1.9-0.5 1.9-0.5 1.9-0.5 2-0.6 1.9-0.5 1.9-0.5 1.9-0.5 1.9-0.5 1.9-0.6 1.9-0.5 1.9-0.5 1.9-0.6 1.9-0.5 1.9-0.6 1.9-0.5 1.9-0.6 1.9-0.6 1.9-0.5 1.9-0.6 1.9-0.6 1.9-0.5 1.9-0.6 1.9-0.6 1.8-0.6 1.9-0.6 1.9-0.6 1.9-0.6 1.9-0.6 1.8-0.6 1.9-0.7 1.9-0.6 1.9-0.6 1.8-0.6 1.9-0.7 1.9-0.6 1.9-0.7 1.8-0.6 1.9-0.7 1.9-0.6 1.8-0.7 1.9-0.6 1.9-0.7 1.8-0.7 1.9-0.7 1.9-0.6 1.8-0.7 1.9-0.7 1.9-0.7 1.8-0.7 1.9-0.7 1.8-0.7 1.9-0.8 1.9-0.7 1.8-0.7 1.9-0.7 1.9-0.8 1.8-0.7 1.9-0.7 1.9-0.8 1.8-0.7M594.4,236.6l-1.1-1.1-1-1.2-1.1-1.2-1.1-1.2-1-1.1-1.1-1.2-1.1-1.2-1-1.2-1.1-1.2-1.1-1.2-1-1.1-1.1-1.2-1-1.2-1.1-1.2-1-1.2-1.1-1.2-1-1.1-1.1-1.2-1-1.2-1-1.2-1.1-1.2-1-1.2-1.1-1.2-1-1.2-1-1.2-1.1-1.1-1-1.2-1-1.2-1.1-1.2-1-1.2-1-1.2-1-1.2-1-1.2-1.1-1.2-1-1.2-1-1.2-1-1.2-1-1.2-1-1.2-1.1-1.2-1-1.2-1-1.2-1-1.2-1-1.2-1-1.2-1-1.3-1-1.2-1-1.2-1-1.2-1-1.2-1-1.2-1-1.2-1-1.2-1-1.3-1-1.2-0.9-1.2-1-1.2-1-1.2-1-1.3-1-1.2-1-1.2-1-1.2-0.9-1.3-1-1.2-1-1.2-1-1.3-0.9-1.2-1-1.2-1-1.3-1-1.2-0.9-1.2-1-1.3-1-1.2-0.9-1.3-1-1.2-1-1.2-1-1.3-0.9-1.2-1-1.3-0.9-1.2-1-1.3-1-1.2-0.9-1.3-1-1.3-0.9-1.2-1-1.3-1-1.2-0.9-1.3-1-1.3-0.9-1.2-1-1.3-0.9-1.3-1-1.2-0.9-1.3-1-1.3-0.9-1.3-1-1.2-0.9-1.3-1-1.3-0.9-1.3M415.5,192.1l2.1-0.4 2-0.3 2.1-0.4 2-0.3 2-0.4 2-0.3 2.1-0.4 2-0.4 2-0.4 2-0.3 2-0.4 2-0.4 2-0.4 2-0.4 2-0.4 2-0.4 2-0.4 2-0.4 2-0.4 1.9-0.4 2-0.4 2-0.4 2-0.5 1.9-0.4 2-0.4 2-0.5 1.9-0.4 2-0.4 1.9-0.5 2-0.4 1.9-0.5 2-0.4 1.9-0.5 1.9-0.5 2-0.4 1.9-0.5 2-0.5 1.9-0.5 1.9-0.5 1.9-0.5 2-0.4 1.9-0.5 1.9-0.5 1.9-0.6 1.9-0.5 1.9-0.5 2-0.5 1.9-0.5 1.9-0.5 1.9-0.6 1.9-0.5 1.9-0.5 1.9-0.6 1.9-0.5 1.9-0.6 1.9-0.5 1.8-0.6 1.9-0.6 1.9-0.5 1.9-0.6 1.9-0.6 1.9-0.5 1.9-0.6 1.8-0.6 1.9-0.6 1.9-0.6 1.9-0.6 1.9-0.6 1.8-0.6 1.9-0.6 1.9-0.7 1.9-0.6 1.8-0.6 1.9-0.6 1.9-0.7 1.8-0.6 1.9-0.7 1.9-0.6 1.8-0.7 1.9-0.6 1.9-0.7 1.8-0.6 1.9-0.7 1.9-0.7 1.8-0.7 1.9-0.6 1.8-0.7 1.9-0.7 1.9-0.7 1.8-0.7 1.9-0.7 1.9-0.7 1.8-0.8 1.9-0.7 1.8-0.7 1.9-0.7 1.9-0.8 1.8-0.7 1.9-0.8 1.8-0.7M596.5,235.8l-1.1-1.2-1.1-1.1-1.1-1.2-1-1.2-1.1-1.2-1.1-1.1-1-1.2-1.1-1.2-1.1-1.2-1-1.1-1.1-1.2-1.1-1.2-1-1.2-1.1-1.2-1-1.1-1.1-1.2-1-1.2-1.1-1.2-1-1.2-1.1-1.2-1-1.1-1-1.2-1.1-1.2-1-1.2-1.1-1.2-1-1.2-1-1.2-1.1-1.1-1-1.2-1-1.2-1-1.2-1.1-1.2-1-1.2-1-1.2-1-1.2-1.1-1.2-1-1.2-1-1.2-1-1.2-1-1.2-1-1.2-1-1.2-1.1-1.2-1-1.2-1-1.2-1-1.2-1-1.2-1-1.2-1-1.2-1-1.2-1-1.2-1-1.2-1-1.3-1-1.2-1-1.2-0.9-1.2-1-1.2-1-1.2-1-1.2-1-1.3-1-1.2-1-1.2-1-1.2-0.9-1.3-1-1.2-1-1.2-1-1.2-1-1.3-0.9-1.2-1-1.2-1-1.3-0.9-1.2-1-1.2-1-1.3-1-1.2-0.9-1.3-1-1.2-1-1.2-0.9-1.3-1-1.2-1-1.3-0.9-1.2-1-1.3-0.9-1.2-1-1.3-1-1.2-0.9-1.3-1-1.3-0.9-1.2-1-1.3-0.9-1.2-1-1.3-0.9-1.3-1-1.2-1-1.3-0.9-1.3-1-1.3-0.9-1.2-0.9-1.3-1-1.3M414.6,190.6l2.1-0.4 2-0.3 2.1-0.4 2-0.3 2-0.4 2.1-0.3 2-0.4 2-0.3 2-0.4 2-0.4 2-0.4 2-0.3 2-0.4 2-0.4 2-0.4 2-0.4 2-0.4 2-0.4 2-0.4 1.9-0.4 2-0.4 2-0.4 2-0.4 1.9-0.5 2-0.4 1.9-0.4 2-0.5 1.9-0.4 2-0.4 1.9-0.5 2-0.4 1.9-0.5 2-0.5 1.9-0.4 2-0.5 1.9-0.4 1.9-0.5 1.9-0.5 2-0.5 1.9-0.5 1.9-0.5 1.9-0.4 1.9-0.5 2-0.5 1.9-0.6 1.9-0.5 1.9-0.5 1.9-0.5 1.9-0.5 1.9-0.5 1.9-0.6 1.9-0.5 1.9-0.5 1.9-0.6 1.9-0.5 1.9-0.6 1.9-0.5 1.9-0.6 1.8-0.5 1.9-0.6 1.9-0.6 1.9-0.6 1.9-0.5 1.9-0.6 1.8-0.6 1.9-0.6 1.9-0.6 1.9-0.6 1.8-0.6 1.9-0.6 1.9-0.6 1.9-0.6 1.8-0.7 1.9-0.6 1.9-0.6 1.8-0.7 1.9-0.6 1.9-0.6 1.8-0.7 1.9-0.6 1.8-0.7 1.9-0.7 1.9-0.6 1.8-0.7 1.9-0.7 1.8-0.7 1.9-0.6 1.9-0.7 1.8-0.7 1.9-0.7 1.8-0.7 1.9-0.7 1.9-0.7 1.8-0.8 1.9-0.7 1.8-0.7 1.9-0.7 1.8-0.8 1.9-0.7 1.9-0.8M598.5,235l-1.1-1.2-1.1-1.2-1-1.1-1.1-1.2-1.1-1.2-1.1-1.2-1-1.1-1.1-1.2-1.1-1.2-1-1.1-1.1-1.2-1.1-1.2-1-1.2-1.1-1.1-1-1.2-1.1-1.2-1-1.2-1.1-1.2-1-1.1-1.1-1.2-1-1.2-1.1-1.2-1-1.2-1.1-1.1-1-1.2-1-1.2-1.1-1.2-1-1.2-1-1.2-1.1-1.1-1-1.2-1-1.2-1-1.2-1.1-1.2-1-1.2-1-1.2-1-1.2-1.1-1.2-1-1.2-1-1.1-1-1.2-1-1.2-1-1.2-1-1.2-1-1.2-1.1-1.2-1-1.2-1-1.2-1-1.2-1-1.2-1-1.2-1-1.3-1-1.2-1-1.2-1-1.2-1-1.2-0.9-1.2-1-1.2-1-1.2-1-1.2-1-1.3-1-1.2-1-1.2-1-1.2-0.9-1.2-1-1.3-1-1.2-1-1.2-1-1.2-0.9-1.3-1-1.2-1-1.2-1-1.3-0.9-1.2-1-1.2-1-1.3-0.9-1.2-1-1.2-1-1.3-0.9-1.2-1-1.3-1-1.2-0.9-1.3-1-1.2-1-1.3-0.9-1.2-1-1.3-0.9-1.2-1-1.3-1-1.2-0.9-1.3-1-1.2-0.9-1.3-1-1.3-0.9-1.2-1-1.3-0.9-1.3-1-1.2-0.9-1.3-1-1.3M413.8,189.1l2-0.4 2-0.3 2.1-0.3 2-0.4 2-0.3 2.1-0.4 2-0.4 2-0.3 2-0.4 2-0.3 2-0.4 2-0.4 2-0.4 2-0.3 2-0.4 2-0.4 2-0.4 2-0.4 2-0.4 1.9-0.4 2-0.4 2-0.4 1.9-0.4 2-0.5 2-0.4 1.9-0.4 2-0.4 1.9-0.5 2-0.4 1.9-0.5 2-0.4 1.9-0.4 1.9-0.5 2-0.5 1.9-0.4 1.9-0.5 2-0.5 1.9-0.4 1.9-0.5 1.9-0.5 2-0.5 1.9-0.5 1.9-0.4 1.9-0.5 1.9-0.5 1.9-0.5 1.9-0.6 1.9-0.5 1.9-0.5 1.9-0.5 1.9-0.5 1.9-0.6 1.9-0.5 1.9-0.5 1.9-0.6 1.9-0.5 1.9-0.6 1.9-0.5 1.9-0.6 1.8-0.5 1.9-0.6 1.9-0.6 1.9-0.6 1.9-0.5 1.8-0.6 1.9-0.6 1.9-0.6 1.9-0.6 1.8-0.6 1.9-0.6 1.9-0.6 1.8-0.6 1.9-0.6 1.9-0.7 1.8-0.6 1.9-0.6 1.9-0.7 1.8-0.6 1.9-0.6 1.9-0.7 1.8-0.6 1.9-0.7 1.8-0.7 1.9-0.6 1.8-0.7 1.9-0.7 1.9-0.7 1.8-0.6 1.9-0.7 1.8-0.7 1.9-0.7 1.8-0.7 1.9-0.7 1.8-0.7 1.9-0.8 1.9-0.7 1.8-0.7 1.9-0.7 1.8-0.8 1.9-0.7M600.6,234.1l-1.1-1.1-1.1-1.2-1.1-1.2-1.1-1.1-1.1-1.2-1-1.2-1.1-1.1-1.1-1.2-1-1.2-1.1-1.1-1.1-1.2-1-1.2-1.1-1.2-1.1-1.1-1-1.2-1.1-1.2-1-1.1-1.1-1.2-1-1.2-1.1-1.2-1-1.1-1.1-1.2-1-1.2-1.1-1.2-1-1.2-1.1-1.1-1-1.2-1-1.2-1.1-1.2-1-1.2-1-1.1-1.1-1.2-1-1.2-1-1.2-1.1-1.2-1-1.2-1-1.1-1-1.2-1-1.2-1.1-1.2-1-1.2-1-1.2-1-1.2-1-1.2-1-1.2-1-1.2-1-1.2-1.1-1.2-1-1.2-1-1.2-1-1.2-1-1.2-1-1.2-1-1.2-1-1.2-1-1.2-1-1.2-0.9-1.2-1-1.2-1-1.2-1-1.2-1-1.3-1-1.2-1-1.2-1-1.2-1-1.2-0.9-1.2-1-1.3-1-1.2-1-1.2-1-1.2-0.9-1.3-1-1.2-1-1.2-1-1.2-0.9-1.3-1-1.2-1-1.2-0.9-1.3-1-1.2-1-1.3-0.9-1.2-1-1.2-1-1.3-0.9-1.2-1-1.3-1-1.2-0.9-1.3-1-1.2-0.9-1.3-1-1.2-0.9-1.3-1-1.2-1-1.3-0.9-1.3-1-1.2-0.9-1.3-1-1.3-0.9-1.2-1-1.3M412.9,187.6l2-0.4 2.1-0.3 2-0.3 2-0.4 2.1-0.3 2-0.4 2-0.3 2-0.4 2-0.3 2-0.4 2-0.4 2-0.3 2-0.4 2-0.4 2-0.4 2-0.3 2-0.4 2-0.4 1.9-0.4 2-0.4 2-0.4 2-0.4 1.9-0.4 2-0.5 1.9-0.4 2-0.4 2-0.4 1.9-0.4 2-0.5 1.9-0.4 1.9-0.5 2-0.4 1.9-0.4 1.9-0.5 2-0.5 1.9-0.4 1.9-0.5 2-0.4 1.9-0.5 1.9-0.5 1.9-0.5 1.9-0.5 1.9-0.4 2-0.5 1.9-0.5 1.9-0.5 1.9-0.5 1.9-0.6 1.9-0.5 1.9-0.5 1.9-0.5 1.9-0.5 1.9-0.6 1.9-0.5 1.8-0.5 1.9-0.6 1.9-0.5 1.9-0.6 1.9-0.5 1.9-0.6 1.8-0.5 1.9-0.6 1.9-0.6 1.9-0.5 1.9-0.6 1.8-0.6 1.9-0.6 1.9-0.6 1.8-0.6 1.9-0.6 1.9-0.6 1.8-0.6 1.9-0.6 1.9-0.6 1.8-0.7 1.9-0.6 1.8-0.6 1.9-0.6 1.9-0.7 1.8-0.6 1.9-0.7 1.8-0.6 1.9-0.7 1.9-0.7 1.8-0.6 1.9-0.7 1.8-0.7 1.9-0.7 1.8-0.6 1.9-0.7 1.8-0.7 1.9-0.7 1.8-0.7 1.9-0.7 1.8-0.7 1.9-0.8 1.8-0.7 1.9-0.7 1.9-0.7 1.8-0.8M602.6,233.3l-1.1-1.2-1.1-1.1-1.1-1.2-1-1.2-1.1-1.1-1.1-1.2-1.1-1.2-1.1-1.1-1-1.2-1.1-1.1-1.1-1.2-1-1.2-1.1-1.1-1.1-1.2-1-1.2-1.1-1.1-1-1.2-1.1-1.2-1.1-1.2-1-1.1-1.1-1.2-1-1.2-1.1-1.1-1-1.2-1.1-1.2-1-1.2-1-1.1-1.1-1.2-1-1.2-1.1-1.2-1-1.1-1-1.2-1.1-1.2-1-1.2-1-1.2-1-1.2-1.1-1.1-1-1.2-1-1.2-1-1.2-1.1-1.2-1-1.2-1-1.2-1-1.1-1-1.2-1-1.2-1-1.2-1-1.2-1.1-1.2-1-1.2-1-1.2-1-1.2-1-1.2-1-1.2-1-1.2-1-1.2-1-1.2-1-1.2-1-1.2-1-1.2-0.9-1.2-1-1.2-1-1.2-1-1.3-1-1.2-1-1.2-1-1.2-1-1.2-0.9-1.2-1-1.3-1-1.2-1-1.2-0.9-1.2-1-1.2-1-1.3-1-1.2-0.9-1.2-1-1.3-1-1.2-1-1.2-0.9-1.3-1-1.2-1-1.2-0.9-1.3-1-1.2-1-1.3-0.9-1.2-1-1.2-0.9-1.3-1-1.2-1-1.3-0.9-1.2-1-1.3-0.9-1.2-1-1.3-0.9-1.3-1-1.2-1-1.3-0.9-1.2-1-1.3M412,186.1l2-0.4 2.1-0.3 2-0.3 2-0.4 2.1-0.3 2-0.3 2-0.4 2-0.3 2-0.4 2-0.4 2-0.3 2-0.4 2-0.3 2-0.4 2-0.4 2-0.4 2-0.4 2-0.3 1.9-0.4 2-0.4 2-0.4 1.9-0.4 2-0.4 2-0.4 1.9-0.5 2-0.4 1.9-0.4 2-0.4 1.9-0.4 2-0.5 1.9-0.4 1.9-0.5 2-0.4 1.9-0.4 1.9-0.5 2-0.5 1.9-0.4 1.9-0.5 1.9-0.4 2-0.5 1.9-0.5 1.9-0.5 1.9-0.5 1.9-0.4 1.9-0.5 1.9-0.5 1.9-0.5 1.9-0.5 1.9-0.5 1.9-0.6 1.9-0.5 1.9-0.5 1.9-0.5 1.9-0.5 1.9-0.6 1.9-0.5 1.8-0.6 1.9-0.5 1.9-0.5 1.9-0.6 1.9-0.6 1.8-0.5 1.9-0.6 1.9-0.6 1.9-0.5 1.8-0.6 1.9-0.6 1.9-0.6 1.8-0.6 1.9-0.6 1.9-0.6 1.8-0.6 1.9-0.6 1.9-0.6 1.8-0.6 1.9-0.6 1.8-0.7 1.9-0.6 1.8-0.6 1.9-0.7 1.9-0.6 1.8-0.7 1.9-0.6 1.8-0.7 1.9-0.6 1.8-0.7 1.9-0.7 1.8-0.7 1.9-0.6 1.8-0.7 1.9-0.7 1.8-0.7 1.9-0.7 1.8-0.7 1.9-0.7 1.8-0.7 1.9-0.8 1.8-0.7 1.9-0.7 1.8-0.7M604.6,232.4l-1-1.1-1.1-1.2-1.1-1.1-1.1-1.2-1.1-1.2-1.1-1.1-1.1-1.2-1-1.1-1.1-1.2-1.1-1.2-1.1-1.1-1-1.2-1.1-1.1-1.1-1.2-1-1.2-1.1-1.1-1.1-1.2-1-1.2-1.1-1.1-1-1.2-1.1-1.2-1-1.1-1.1-1.2-1-1.2-1.1-1.1-1-1.2-1.1-1.2-1-1.1-1.1-1.2-1-1.2-1-1.2-1.1-1.1-1-1.2-1-1.2-1.1-1.2-1-1.1-1-1.2-1.1-1.2-1-1.2-1-1.2-1-1.2-1-1.1-1.1-1.2-1-1.2-1-1.2-1-1.2-1-1.2-1-1.2-1-1.1-1.1-1.2-1-1.2-1-1.2-1-1.2-1-1.2-1-1.2-1-1.2-1-1.2-1-1.2-1-1.2-1-1.2-1-1.2-1-1.2-0.9-1.2-1-1.2-1-1.2-1-1.2-1-1.3-1-1.2-1-1.2-1-1.2-0.9-1.2-1-1.2-1-1.3-1-1.2-1-1.2-0.9-1.2-1-1.2-1-1.3-0.9-1.2-1-1.2-1-1.3-1-1.2-0.9-1.2-1-1.3-1-1.2-0.9-1.2-1-1.3-1-1.2-0.9-1.3-1-1.2-0.9-1.2-1-1.3-1-1.2-0.9-1.3-1-1.2-0.9-1.3-1-1.2-0.9-1.3-1-1.3-0.9-1.2M411.1,184.6l2.1-0.4 2-0.3 2-0.3 2.1-0.4 2-0.3 2-0.3 2-0.4 2-0.3 2-0.4 2-0.3 2-0.4 2-0.3 2-0.4 2-0.4 2-0.3 2-0.4 2-0.4 2-0.4 1.9-0.3 2-0.4 2-0.4 1.9-0.4 2-0.4 2-0.4 1.9-0.4 2-0.5 1.9-0.4 2-0.4 1.9-0.4 1.9-0.4 2-0.5 1.9-0.4 2-0.4 1.9-0.5 1.9-0.4 1.9-0.5 2-0.4 1.9-0.5 1.9-0.5 1.9-0.4 1.9-0.5 1.9-0.5 2-0.5 1.9-0.4 1.9-0.5 1.9-0.5 1.9-0.5 1.9-0.5 1.9-0.5 1.9-0.5 1.9-0.5 1.8-0.6 1.9-0.5 1.9-0.5 1.9-0.5 1.9-0.6 1.9-0.5 1.9-0.5 1.8-0.6 1.9-0.5 1.9-0.6 1.9-0.5 1.8-0.6 1.9-0.6 1.9-0.5 1.8-0.6 1.9-0.6 1.9-0.6 1.8-0.6 1.9-0.6 1.9-0.6 1.8-0.6 1.9-0.6 1.8-0.6 1.9-0.6 1.9-0.6 1.8-0.6 1.9-0.7 1.8-0.6 1.9-0.6 1.8-0.7 1.9-0.6 1.8-0.7 1.9-0.6 1.8-0.7 1.9-0.6 1.8-0.7 1.9-0.7 1.8-0.6 1.9-0.7 1.8-0.7 1.9-0.7 1.8-0.7 1.9-0.7 1.8-0.7 1.9-0.7 1.8-0.7 1.9-0.7 1.8-0.8 1.9-0.7M606.7,231.6l-1.1-1.2-1.1-1.1-1.1-1.2-1.1-1.1-1.1-1.2-1.1-1.1-1-1.2-1.1-1.2-1.1-1.1-1.1-1.2-1.1-1.1-1-1.2-1.1-1.1-1.1-1.2-1-1.2-1.1-1.1-1.1-1.2-1-1.1-1.1-1.2-1-1.2-1.1-1.1-1.1-1.2-1-1.1-1.1-1.2-1-1.2-1.1-1.1-1-1.2-1.1-1.2-1-1.1-1-1.2-1.1-1.2-1-1.2-1.1-1.1-1-1.2-1-1.2-1.1-1.1-1-1.2-1-1.2-1.1-1.2-1-1.2-1-1.1-1-1.2-1-1.2-1.1-1.2-1-1.2-1-1.1-1-1.2-1-1.2-1-1.2-1.1-1.2-1-1.2-1-1.2-1-1.1-1-1.2-1-1.2-1-1.2-1-1.2-1-1.2-1-1.2-1-1.2-1-1.2-1-1.2-1-1.2-1-1.2-1-1.2-0.9-1.2-1-1.2-1-1.2-1-1.2-1-1.3-1-1.2-1-1.2-0.9-1.2-1-1.2-1-1.2-1-1.2-1-1.3-0.9-1.2-1-1.2-1-1.2-1-1.3-0.9-1.2-1-1.2-1-1.2-0.9-1.3-1-1.2-1-1.2-0.9-1.3-1-1.2-1-1.3-0.9-1.2-1-1.2-0.9-1.3-1-1.2-1-1.3-0.9-1.2-1-1.3-0.9-1.2-1-1.3-0.9-1.2M410.2,183l2.1-0.3 2-0.3 2-0.3 2.1-0.3 2-0.4 2-0.3 2-0.3 2-0.4 2-0.3 2-0.4 2-0.3 2-0.4 2-0.3 2-0.4 2-0.4 2-0.3 2-0.4 1.9-0.4 2-0.4 2-0.4 2-0.3 1.9-0.4 2-0.4 1.9-0.4 2-0.4 1.9-0.4 2-0.5 1.9-0.4 2-0.4 1.9-0.4 2-0.4 1.9-0.5 1.9-0.4 2-0.4 1.9-0.5 1.9-0.4 1.9-0.5 1.9-0.4 2-0.5 1.9-0.5 1.9-0.4 1.9-0.5 1.9-0.5 1.9-0.4 1.9-0.5 1.9-0.5 1.9-0.5 1.9-0.5 1.9-0.5 1.9-0.5 1.9-0.5 1.9-0.5 1.9-0.5 1.9-0.6 1.8-0.5 1.9-0.5 1.9-0.5 1.9-0.6 1.9-0.5 1.8-0.6 1.9-0.5 1.9-0.6 1.8-0.5 1.9-0.6 1.9-0.5 1.9-0.6 1.8-0.6 1.9-0.6 1.8-0.6 1.9-0.5 1.9-0.6 1.8-0.6 1.9-0.6 1.8-0.6 1.9-0.6 1.9-0.7 1.8-0.6 1.9-0.6 1.8-0.6 1.9-0.7 1.8-0.6 1.9-0.6 1.8-0.7 1.9-0.6 1.8-0.7 1.9-0.7 1.8-0.6 1.9-0.7 1.8-0.7 1.8-0.6 1.9-0.7 1.8-0.7 1.9-0.7 1.8-0.7 1.9-0.7 1.8-0.7 1.9-0.7 1.8-0.7 1.8-0.7 1.9-0.8M608.7,230.7l-1.1-1.1-1.1-1.2-1.1-1.1-1-1.2-1.1-1.1-1.1-1.2-1.1-1.1-1.1-1.2-1.1-1.1-1.1-1.2-1-1.1-1.1-1.2-1.1-1.1-1.1-1.2-1-1.1-1.1-1.2-1.1-1.2-1-1.1-1.1-1.2-1.1-1.1-1-1.2-1.1-1.1-1-1.2-1.1-1.2-1.1-1.1-1-1.2-1.1-1.2-1-1.1-1-1.2-1.1-1.1-1-1.2-1.1-1.2-1-1.1-1.1-1.2-1-1.2-1-1.2-1.1-1.1-1-1.2-1-1.2-1.1-1.1-1-1.2-1-1.2-1-1.2-1.1-1.1-1-1.2-1-1.2-1-1.2-1-1.2-1-1.1-1.1-1.2-1-1.2-1-1.2-1-1.2-1-1.2-1-1.1-1-1.2-1-1.2-1-1.2-1-1.2-1-1.2-1-1.2-1-1.2-1-1.2-1-1.2-1-1.2-1-1.2-1-1.2-1-1.2-1-1.2-0.9-1.2-1-1.2-1-1.2-1-1.2-1-1.3-1-1.2-0.9-1.2-1-1.2-1-1.2-1-1.2-0.9-1.2-1-1.3-1-1.2-1-1.2-0.9-1.2-1-1.3-1-1.2-0.9-1.2-1-1.3-1-1.2-0.9-1.2-1-1.3-1-1.2-0.9-1.2-1-1.3-0.9-1.2-1-1.3-1-1.2-0.9-1.3-1-1.2-0.9-1.3M409.4,181.5l2-0.3 2-0.3 2.1-0.3 2-0.3 2-0.4 2-0.3 2-0.3 2-0.3 2-0.4 2-0.3 2-0.4 2-0.3 2-0.4 2-0.3 2-0.4 2-0.4 2-0.3 1.9-0.4 2-0.4 2-0.4 1.9-0.3 2-0.4 2-0.4 1.9-0.4 2-0.4 1.9-0.4 2-0.4 1.9-0.4 2-0.5 1.9-0.4 1.9-0.4 2-0.4 1.9-0.5 1.9-0.4 2-0.4 1.9-0.5 1.9-0.4 1.9-0.5 1.9-0.4 1.9-0.5 1.9-0.4 2-0.5 1.9-0.5 1.9-0.4 1.9-0.5 1.9-0.5 1.9-0.5 1.9-0.5 1.9-0.5 1.8-0.5 1.9-0.5 1.9-0.5 1.9-0.5 1.9-0.5 1.9-0.5 1.9-0.6 1.8-0.5 1.9-0.5 1.9-0.6 1.9-0.5 1.8-0.5 1.9-0.6 1.9-0.5 1.8-0.6 1.9-0.6 1.9-0.5 1.8-0.6 1.9-0.6 1.8-0.6 1.9-0.5 1.9-0.6 1.8-0.6 1.9-0.6 1.8-0.6 1.9-0.6 1.8-0.6 1.9-0.6 1.8-0.7 1.9-0.6 1.8-0.6 1.9-0.6 1.8-0.7 1.9-0.6 1.8-0.7 1.9-0.6 1.8-0.7 1.9-0.6 1.8-0.7 1.9-0.7 1.8-0.6 1.8-0.7 1.9-0.7 1.8-0.7 1.9-0.7 1.8-0.7 1.9-0.7 1.8-0.7 1.8-0.7 1.9-0.7 1.8-0.7M610.8,229.9l-1.1-1.2-1.1-1.1-1.1-1.2-1.1-1.1-1.1-1.2-1.1-1.1-1.1-1.2-1.1-1.1-1.1-1.2-1.1-1.1-1-1.1-1.1-1.2-1.1-1.1-1.1-1.2-1-1.1-1.1-1.2-1.1-1.1-1.1-1.2-1-1.2-1.1-1.1-1.1-1.2-1-1.1-1.1-1.2-1-1.1-1.1-1.2-1-1.1-1.1-1.2-1-1.2-1.1-1.1-1-1.2-1.1-1.1-1-1.2-1.1-1.2-1-1.1-1.1-1.2-1-1.2-1-1.1-1.1-1.2-1-1.2-1-1.1-1.1-1.2-1-1.2-1-1.1-1-1.2-1.1-1.2-1-1.2-1-1.1-1-1.2-1-1.2-1.1-1.2-1-1.1-1-1.2-1-1.2-1-1.2-1-1.2-1-1.2-1-1.1-1-1.2-1-1.2-1-1.2-1-1.2-1-1.2-1-1.2-1-1.2-1-1.2-1-1.2-1-1.2-1-1.2-1-1.2-1-1.2-1-1.2-1-1.2-0.9-1.2-1-1.2-1-1.2-1-1.2-1-1.2-0.9-1.2-1-1.3-1-1.2-1-1.2-1-1.2-0.9-1.2-1-1.2-1-1.3-0.9-1.2-1-1.2-1-1.2-1-1.3-0.9-1.2-1-1.2-0.9-1.3-1-1.2-1-1.2-0.9-1.3-1-1.2-1-1.3-0.9-1.2-1-1.3-0.9-1.2M408.5,180l2-0.3 2-0.3 2.1-0.3 2-0.3 2-0.3 2-0.4 2-0.3 2-0.3 2.1-0.4 2-0.3 2-0.3 1.9-0.4 2-0.3 2-0.4 2-0.3 2-0.4 2-0.4 1.9-0.3 2-0.4 2-0.4 1.9-0.4 2-0.3 2-0.4 1.9-0.4 2-0.4 1.9-0.4 2-0.4 1.9-0.4 1.9-0.4 2-0.4 1.9-0.5 1.9-0.4 2-0.4 1.9-0.4 1.9-0.5 1.9-0.4 2-0.5 1.9-0.4 1.9-0.4 1.9-0.5 1.9-0.5 1.9-0.4 1.9-0.5 1.9-0.5 1.9-0.4 1.9-0.5 1.9-0.5 1.9-0.5 1.9-0.5 1.9-0.5 1.9-0.5 1.9-0.5 1.8-0.5 1.9-0.5 1.9-0.5 1.9-0.5 1.9-0.5 1.8-0.6 1.9-0.5 1.9-0.5 1.8-0.6 1.9-0.5 1.9-0.6 1.8-0.5 1.9-0.6 1.9-0.5 1.8-0.6 1.9-0.6 1.9-0.5 1.8-0.6 1.9-0.6 1.8-0.6 1.9-0.6 1.8-0.6 1.9-0.6 1.8-0.6 1.9-0.6 1.8-0.6 1.9-0.6 1.8-0.7 1.9-0.6 1.8-0.6 1.9-0.7 1.8-0.6 1.9-0.6 1.8-0.7 1.8-0.6 1.9-0.7 1.8-0.7 1.9-0.6 1.8-0.7 1.8-0.7 1.9-0.7 1.8-0.7 1.9-0.7 1.8-0.7 1.8-0.7 1.9-0.7 1.8-0.7 1.9-0.7M612.8,229l-1.1-1.1-1.1-1.2-1.1-1.1-1.1-1.2-1.1-1.1-1.1-1.2-1.1-1.1-1.1-1.1-1.1-1.2-1-1.1-1.1-1.2-1.1-1.1-1.1-1.2-1.1-1.1-1-1.1-1.1-1.2-1.1-1.1-1.1-1.2-1-1.1-1.1-1.2-1.1-1.1-1-1.2-1.1-1.1-1.1-1.2-1-1.1-1.1-1.2-1-1.2-1.1-1.1-1-1.2-1.1-1.1-1-1.2-1.1-1.1-1-1.2-1.1-1.1-1-1.2-1.1-1.2-1-1.1-1-1.2-1.1-1.2-1-1.1-1-1.2-1.1-1.2-1-1.1-1-1.2-1.1-1.2-1-1.1-1-1.2-1-1.2-1-1.1-1.1-1.2-1-1.2-1-1.2-1-1.1-1-1.2-1-1.2-1-1.2-1-1.2-1.1-1.2-1-1.1-1-1.2-1-1.2-1-1.2-1-1.2-1-1.2-1-1.2-1-1.2-1-1.2-0.9-1.1-1-1.2-1-1.2-1-1.2-1-1.2-1-1.2-1-1.2-1-1.2-0.9-1.3-1-1.2-1-1.2-1-1.2-1-1.2-0.9-1.2-1-1.2-1-1.2-1-1.3-0.9-1.2-1-1.2-1-1.2-1-1.2-0.9-1.3-1-1.2-1-1.2-0.9-1.2-1-1.3-1-1.2-0.9-1.2-1-1.3-0.9-1.2-1-1.3-1-1.2-0.9-1.2M407.6,178.5l2-0.3 2.1-0.3 2-0.3 2-0.3 2-0.3 2-0.3 2.1-0.4 2-0.3 2-0.3 2-0.4 2-0.3 1.9-0.3 2-0.4 2-0.3 2-0.4 2-0.3 2-0.4 1.9-0.4 2-0.3 2-0.4 1.9-0.4 2-0.3 1.9-0.4 2-0.4 1.9-0.4 2-0.4 1.9-0.4 2-0.4 1.9-0.4 2-0.4 1.9-0.4 1.9-0.4 1.9-0.5 2-0.4 1.9-0.4 1.9-0.5 1.9-0.4 1.9-0.4 2-0.5 1.9-0.4 1.9-0.5 1.9-0.4 1.9-0.5 1.9-0.5 1.9-0.4 1.9-0.5 1.9-0.5 1.9-0.5 1.8-0.4 1.9-0.5 1.9-0.5 1.9-0.5 1.9-0.5 1.9-0.5 1.8-0.5 1.9-0.6 1.9-0.5 1.9-0.5 1.8-0.5 1.9-0.6 1.9-0.5 1.8-0.5 1.9-0.6 1.9-0.5 1.8-0.6 1.9-0.5 1.8-0.6 1.9-0.6 1.9-0.5 1.8-0.6 1.9-0.6 1.8-0.6 1.9-0.6 1.8-0.6 1.9-0.6 1.8-0.6 1.9-0.6 1.8-0.6 1.9-0.6 1.8-0.6 1.9-0.6 1.8-0.7 1.8-0.6 1.9-0.6 1.8-0.7 1.9-0.6 1.8-0.7 1.8-0.6 1.9-0.7 1.8-0.6 1.9-0.7 1.8-0.7 1.8-0.7 1.9-0.7 1.8-0.6 1.8-0.7 1.9-0.7 1.8-0.7 1.9-0.7 1.8-0.8M614.9,228.1l-1.1-1.1-1.1-1.1-1.2-1.2-1.1-1.1-1.1-1.2-1.1-1.1-1.1-1.1-1-1.2-1.1-1.1-1.1-1.1-1.1-1.2-1.1-1.1-1.1-1.2-1.1-1.1-1.1-1.2-1-1.1-1.1-1.1-1.1-1.2-1.1-1.1-1-1.2-1.1-1.1-1.1-1.2-1-1.1-1.1-1.2-1.1-1.1-1-1.2-1.1-1.1-1-1.2-1.1-1.1-1-1.2-1.1-1.1-1-1.2-1.1-1.1-1-1.2-1.1-1.1-1-1.2-1.1-1.1-1-1.2-1-1.2-1.1-1.1-1-1.2-1.1-1.1-1-1.2-1-1.2-1-1.1-1.1-1.2-1-1.2-1-1.1-1-1.2-1.1-1.2-1-1.1-1-1.2-1-1.2-1-1.2-1-1.1-1.1-1.2-1-1.2-1-1.2-1-1.2-1-1.1-1-1.2-1-1.2-1-1.2-1-1.2-1-1.2-1-1.1-1-1.2-1-1.2-1-1.2-1-1.2-1-1.2-1-1.2-0.9-1.2-1-1.2-1-1.2-1-1.2-1-1.2-1-1.2-1-1.2-0.9-1.2-1-1.2-1-1.2-1-1.2-0.9-1.3-1-1.2-1-1.2-1-1.2-0.9-1.2-1-1.2-1-1.3-1-1.2-0.9-1.2-1-1.2-1-1.3-0.9-1.2-1-1.2-0.9-1.3-1-1.2-1-1.2-0.9-1.3M406.7,177l2.1-0.3 2-0.3 2-0.3 2-0.3 2-0.3 2.1-0.3 2-0.3 2-0.4 2-0.3 2-0.3 2-0.4 2-0.3 1.9-0.3 2-0.4 2-0.3 2-0.4 2-0.3 1.9-0.4 2-0.3 2-0.4 1.9-0.4 2-0.4 1.9-0.3 2-0.4 1.9-0.4 2-0.4 1.9-0.4 2-0.4 1.9-0.4 1.9-0.4 2-0.4 1.9-0.4 1.9-0.4 1.9-0.4 2-0.5 1.9-0.4 1.9-0.4 1.9-0.5 1.9-0.4 1.9-0.4 1.9-0.5 1.9-0.5 1.9-0.4 1.9-0.5 1.9-0.4 1.9-0.5 1.9-0.5 1.9-0.5 1.9-0.4 1.9-0.5 1.9-0.5 1.8-0.5 1.9-0.5 1.9-0.5 1.9-0.5 1.9-0.5 1.8-0.5 1.9-0.5 1.9-0.6 1.8-0.5 1.9-0.5 1.9-0.6 1.8-0.5 1.9-0.6 1.8-0.5 1.9-0.6 1.9-0.5 1.8-0.6 1.9-0.5 1.8-0.6 1.9-0.6 1.8-0.6 1.9-0.5 1.8-0.6 1.9-0.6 1.8-0.6 1.9-0.6 1.8-0.6 1.9-0.6 1.8-0.7 1.8-0.6 1.9-0.6 1.8-0.6 1.9-0.7 1.8-0.6 1.8-0.6 1.9-0.7 1.8-0.6 1.9-0.7 1.8-0.7 1.8-0.6 1.9-0.7 1.8-0.7 1.8-0.6 1.9-0.7 1.8-0.7 1.8-0.7 1.9-0.7 1.8-0.7 1.8-0.7M616.9,227.3l-1.1-1.2-1.1-1.1-1.1-1.1-1.1-1.2-1.1-1.1-1.1-1.1-1.1-1.2-1.1-1.1-1.1-1.1-1.1-1.2-1.1-1.1-1.1-1.2-1.1-1.1-1.1-1.1-1.1-1.2-1-1.1-1.1-1.1-1.1-1.2-1.1-1.1-1.1-1.2-1-1.1-1.1-1.1-1.1-1.2-1-1.1-1.1-1.2-1.1-1.1-1-1.2-1.1-1.1-1-1.2-1.1-1.1-1-1.2-1.1-1.1-1.1-1.2-1-1.1-1-1.2-1.1-1.1-1-1.2-1.1-1.1-1-1.2-1.1-1.1-1-1.2-1-1.1-1.1-1.2-1-1.2-1-1.1-1.1-1.2-1-1.1-1-1.2-1-1.2-1.1-1.1-1-1.2-1-1.2-1-1.1-1-1.2-1.1-1.2-1-1.2-1-1.1-1-1.2-1-1.2-1-1.2-1-1.1-1-1.2-1-1.2-1-1.2-1-1.2-1-1.1-1-1.2-1-1.2-1-1.2-1-1.2-1-1.2-1-1.2-1-1.2-1-1.2-1-1.2-1-1.1-1-1.2-0.9-1.2-1-1.2-1-1.3-1-1.2-1-1.2-0.9-1.2-1-1.2-1-1.2-1-1.2-1-1.2-0.9-1.2-1-1.2-1-1.3-0.9-1.2-1-1.2-1-1.2-0.9-1.2-1-1.3-1-1.2-0.9-1.2-1-1.3-1-1.2-0.9-1.2M405.8,175.5l2.1-0.3 2-0.3 2-0.3 2-0.3 2.1-0.3 2-0.3 2-0.3 2-0.3 2-0.4 2-0.3 2-0.3 2-0.3 1.9-0.4 2-0.3 2-0.4 2-0.3 2-0.4 1.9-0.3 2-0.4 2-0.3 1.9-0.4 2-0.4 1.9-0.3 2-0.4 1.9-0.4 2-0.4 1.9-0.4 1.9-0.4 2-0.4 1.9-0.4 1.9-0.4 2-0.4 1.9-0.4 1.9-0.4 1.9-0.4 1.9-0.4 2-0.5 1.9-0.4 1.9-0.4 1.9-0.5 1.9-0.4 1.9-0.5 1.9-0.4 1.9-0.5 1.9-0.4 1.9-0.5 1.9-0.5 1.9-0.4 1.8-0.5 1.9-0.5 1.9-0.5 1.9-0.5 1.9-0.5 1.8-0.5 1.9-0.5 1.9-0.5 1.9-0.5 1.8-0.5 1.9-0.5 1.9-0.5 1.8-0.6 1.9-0.5 1.8-0.5 1.9-0.6 1.9-0.5 1.8-0.6 1.9-0.5 1.8-0.6 1.9-0.5 1.8-0.6 1.9-0.6 1.8-0.6 1.9-0.5 1.8-0.6 1.9-0.6 1.8-0.6 1.9-0.6 1.8-0.6 1.8-0.6 1.9-0.6 1.8-0.6 1.9-0.6 1.8-0.7 1.8-0.6 1.9-0.6 1.8-0.7 1.8-0.6 1.9-0.7 1.8-0.6 1.9-0.7 1.8-0.6 1.8-0.7 1.9-0.7 1.8-0.6 1.8-0.7 1.8-0.7 1.9-0.7 1.8-0.7 1.8-0.7 1.9-0.7M619,226.4l-1.2-1.2-1.1-1.1-1.1-1.1-1.1-1.1-1.1-1.2-1.1-1.1-1.1-1.1-1.1-1.2-1.1-1.1-1.1-1.1-1.1-1.1-1.1-1.2-1.1-1.1-1.1-1.1-1.1-1.2-1-1.1-1.1-1.1-1.1-1.2-1.1-1.1-1.1-1.2-1-1.1-1.1-1.1-1.1-1.2-1.1-1.1-1-1.1-1.1-1.2-1.1-1.1-1-1.2-1.1-1.1-1-1.2-1.1-1.1-1.1-1.1-1-1.2-1.1-1.1-1-1.2-1.1-1.1-1-1.2-1.1-1.1-1-1.2-1-1.1-1.1-1.2-1-1.1-1.1-1.2-1-1.1-1-1.2-1.1-1.2-1-1.1-1-1.2-1-1.1-1.1-1.2-1-1.2-1-1.1-1-1.2-1.1-1.2-1-1.1-1-1.2-1-1.2-1-1.1-1-1.2-1-1.2-1-1.1-1.1-1.2-1-1.2-1-1.2-1-1.2-1-1.1-1-1.2-1-1.2-1-1.2-1-1.2-1-1.2-1-1.1-1-1.2-0.9-1.2-1-1.2-1-1.2-1-1.2-1-1.2-1-1.2-1-1.2-1-1.2-0.9-1.2-1-1.2-1-1.2-1-1.2-1-1.2-0.9-1.2-1-1.2-1-1.2-1-1.3-0.9-1.2-1-1.2-1-1.2-0.9-1.2-1-1.2-1-1.3-0.9-1.2-1-1.2-1-1.2-0.9-1.3M405,174l2-0.3 2-0.3 2-0.3 2.1-0.3 2-0.3 2-0.3 2-0.3 2-0.3 2-0.3 2-0.4 2-0.3 2-0.3 1.9-0.3 2-0.4 2-0.3 2-0.4 2-0.3 1.9-0.3 2-0.4 1.9-0.4 2-0.3 2-0.4 1.9-0.3 2-0.4 1.9-0.4 1.9-0.4 2-0.4 1.9-0.3 2-0.4 1.9-0.4 1.9-0.4 1.9-0.4 2-0.4 1.9-0.5 1.9-0.4 1.9-0.4 1.9-0.4 1.9-0.4 1.9-0.5 2-0.4 1.9-0.4 1.9-0.5 1.9-0.4 1.8-0.5 1.9-0.4 1.9-0.5 1.9-0.5 1.9-0.4 1.9-0.5 1.9-0.5 1.9-0.5 1.8-0.4 1.9-0.5 1.9-0.5 1.9-0.5 1.8-0.5 1.9-0.5 1.9-0.5 1.8-0.6 1.9-0.5 1.9-0.5 1.8-0.5 1.9-0.6 1.8-0.5 1.9-0.5 1.8-0.6 1.9-0.5 1.8-0.6 1.9-0.5 1.8-0.6 1.9-0.6 1.8-0.5 1.9-0.6 1.8-0.6 1.9-0.6 1.8-0.6 1.9-0.6 1.8-0.6 1.8-0.6 1.9-0.6 1.8-0.6 1.8-0.6 1.9-0.6 1.8-0.6 1.9-0.7 1.8-0.6 1.8-0.6 1.9-0.7 1.8-0.6 1.8-0.7 1.8-0.6 1.9-0.7 1.8-0.7 1.8-0.6 1.9-0.7 1.8-0.7 1.8-0.7 1.9-0.7 1.8-0.7 1.8-0.7M621,225.5l-1.1-1.1-1.1-1.2-1.2-1.1-1.1-1.1-1.1-1.1-1.1-1.2-1.1-1.1-1.1-1.1-1.1-1.1-1.1-1.2-1.1-1.1-1.1-1.1-1.1-1.1-1.1-1.2-1.1-1.1-1.1-1.1-1-1.2-1.1-1.1-1.1-1.1-1.1-1.2-1.1-1.1-1-1.1-1.1-1.2-1.1-1.1-1.1-1.1-1-1.2-1.1-1.1-1.1-1.1-1-1.2-1.1-1.1-1.1-1.2-1-1.1-1.1-1.1-1-1.2-1.1-1.1-1-1.2-1.1-1.1-1-1.2-1.1-1.1-1-1.1-1.1-1.2-1-1.1-1-1.2-1.1-1.1-1-1.2-1-1.1-1.1-1.2-1-1.2-1-1.1-1.1-1.2-1-1.1-1-1.2-1-1.1-1.1-1.2-1-1.2-1-1.1-1-1.2-1-1.2-1.1-1.1-1-1.2-1-1.2-1-1.1-1-1.2-1-1.2-1-1.2-1-1.1-1-1.2-1-1.2-1-1.2-1-1.1-1-1.2-1-1.2-1-1.2-1-1.2-1-1.2-1-1.2-1-1.1-1-1.2-1-1.2-0.9-1.2-1-1.2-1-1.2-1-1.2-1-1.2-1-1.2-0.9-1.2-1-1.2-1-1.2-1-1.2-0.9-1.3-1-1.2-1-1.2-1-1.2-0.9-1.2-1-1.2-1-1.2-0.9-1.3-1-1.2-1-1.2-0.9-1.2M404.1,172.4l2-0.2 2-0.3 2.1-0.3 2-0.3 2-0.3 2-0.3 2-0.3 2-0.3 2-0.3 2-0.3 2-0.3 2-0.4 2-0.3 1.9-0.3 2-0.4 2-0.3 1.9-0.3 2-0.4 2-0.3 1.9-0.4 2-0.3 1.9-0.4 2-0.4 1.9-0.3 2-0.4 1.9-0.4 2-0.3 1.9-0.4 1.9-0.4 2-0.4 1.9-0.4 1.9-0.4 1.9-0.4 2-0.4 1.9-0.4 1.9-0.4 1.9-0.5 1.9-0.4 1.9-0.4 1.9-0.4 1.9-0.5 1.9-0.4 1.9-0.5 1.9-0.4 1.9-0.4 1.9-0.5 1.9-0.5 1.9-0.4 1.8-0.5 1.9-0.5 1.9-0.4 1.9-0.5 1.8-0.5 1.9-0.5 1.9-0.5 1.9-0.5 1.8-0.5 1.9-0.5 1.9-0.5 1.8-0.5 1.9-0.5 1.8-0.6 1.9-0.5 1.9-0.5 1.8-0.6 1.9-0.5 1.8-0.5 1.9-0.6 1.8-0.5 1.9-0.6 1.8-0.6 1.8-0.5 1.9-0.6 1.8-0.6 1.9-0.6 1.8-0.5 1.9-0.6 1.8-0.6 1.8-0.6 1.9-0.6 1.8-0.6 1.8-0.6 1.9-0.7 1.8-0.6 1.8-0.6 1.9-0.6 1.8-0.7 1.8-0.6 1.9-0.6 1.8-0.7 1.8-0.6 1.8-0.7 1.9-0.7 1.8-0.6 1.8-0.7 1.9-0.7 1.8-0.7 1.8-0.6 1.8-0.7 1.9-0.7M623,224.6l-1.1-1.1-1.1-1.1-1.1-1.2-1.1-1.1-1.1-1.1-1.2-1.1-1.1-1.1-1.1-1.2-1.1-1.1-1.1-1.1-1.1-1.1-1.1-1.1-1.1-1.2-1.1-1.1-1.1-1.1-1.1-1.1-1.1-1.2-1-1.1-1.1-1.1-1.1-1.2-1.1-1.1-1.1-1.1-1.1-1.1-1-1.2-1.1-1.1-1.1-1.1-1-1.2-1.1-1.1-1.1-1.1-1-1.2-1.1-1.1-1.1-1.1-1-1.2-1.1-1.1-1-1.2-1.1-1.1-1.1-1.1-1-1.2-1.1-1.1-1-1.2-1-1.1-1.1-1.2-1-1.1-1.1-1.1-1-1.2-1-1.1-1.1-1.2-1-1.1-1-1.2-1.1-1.1-1-1.2-1-1.2-1.1-1.1-1-1.2-1-1.1-1-1.2-1-1.1-1.1-1.2-1-1.2-1-1.1-1-1.2-1-1.2-1-1.1-1-1.2-1.1-1.2-1-1.1-1-1.2-1-1.2-1-1.2-1-1.1-1-1.2-1-1.2-1-1.2-1-1.2-1-1.1-1-1.2-0.9-1.2-1-1.2-1-1.2-1-1.2-1-1.2-1-1.2-1-1.2-1-1.1-0.9-1.2-1-1.2-1-1.2-1-1.2-1-1.2-0.9-1.3-1-1.2-1-1.2-1-1.2-0.9-1.2-1-1.2-1-1.2-0.9-1.2-1-1.2-1-1.3-0.9-1.2M403.2,170.9l2-0.2 2.1-0.3 2-0.3 2-0.3 2-0.3 2-0.3 2-0.3 2-0.3 2-0.3 2-0.3 2-0.3 2-0.3 2-0.4 1.9-0.3 2-0.3 2-0.3 1.9-0.4 2-0.3 2-0.4 1.9-0.3 2-0.4 1.9-0.3 2-0.4 1.9-0.3 2-0.4 1.9-0.4 2-0.3 1.9-0.4 1.9-0.4 1.9-0.4 2-0.4 1.9-0.4 1.9-0.4 1.9-0.4 1.9-0.4 2-0.4 1.9-0.4 1.9-0.4 1.9-0.4 1.9-0.5 1.9-0.4 1.9-0.4 1.9-0.5 1.9-0.4 1.9-0.5 1.8-0.4 1.9-0.5 1.9-0.4 1.9-0.5 1.9-0.5 1.8-0.4 1.9-0.5 1.9-0.5 1.9-0.5 1.8-0.5 1.9-0.4 1.9-0.5 1.8-0.5 1.9-0.6 1.9-0.5 1.8-0.5 1.9-0.5 1.8-0.5 1.9-0.5 1.8-0.6 1.9-0.5 1.8-0.6 1.9-0.5 1.8-0.5 1.9-0.6 1.8-0.6 1.9-0.5 1.8-0.6 1.8-0.6 1.9-0.5 1.8-0.6 1.8-0.6 1.9-0.6 1.8-0.6 1.9-0.6 1.8-0.6 1.8-0.6 1.9-0.6 1.8-0.6 1.8-0.6 1.8-0.7 1.9-0.6 1.8-0.6 1.8-0.7 1.9-0.6 1.8-0.7 1.8-0.6 1.8-0.7 1.9-0.6 1.8-0.7 1.8-0.7 1.8-0.6 1.9-0.7 1.8-0.7 1.8-0.7M625.1,223.7l-1.1-1.1-1.2-1.1-1.1-1.1-1.1-1.1-1.1-1.2-1.1-1.1-1.1-1.1-1.2-1.1-1.1-1.1-1.1-1.1-1.1-1.2-1.1-1.1-1.1-1.1-1.1-1.1-1.1-1.1-1.1-1.2-1.1-1.1-1.1-1.1-1.1-1.1-1-1.2-1.1-1.1-1.1-1.1-1.1-1.1-1.1-1.2-1-1.1-1.1-1.1-1.1-1.1-1.1-1.2-1-1.1-1.1-1.1-1.1-1.2-1-1.1-1.1-1.1-1.1-1.2-1-1.1-1.1-1.1-1-1.2-1.1-1.1-1-1.1-1.1-1.2-1-1.1-1.1-1.2-1-1.1-1.1-1.1-1-1.2-1-1.1-1.1-1.2-1-1.1-1.1-1.2-1-1.1-1-1.2-1-1.1-1.1-1.2-1-1.1-1-1.2-1-1.1-1.1-1.2-1-1.1-1-1.2-1-1.2-1-1.1-1.1-1.2-1-1.2-1-1.1-1-1.2-1-1.1-1-1.2-1-1.2-1-1.2-1-1.1-1-1.2-1-1.2-1-1.2-1-1.1-1-1.2-1-1.2-1-1.2-1-1.2-1-1.1-1-1.2-1-1.2-1-1.2-0.9-1.2-1-1.2-1-1.2-1-1.2-1-1.2-1-1.2-0.9-1.2-1-1.2-1-1.2-1-1.2-1-1.2-0.9-1.2-1-1.2-1-1.2-0.9-1.2-1-1.2-1-1.2-0.9-1.3M402.3,169.4l2-0.3 2.1-0.2 2-0.3 2-0.3 2-0.3 2-0.3 2-0.3 2-0.3 2-0.3 2-0.3 2-0.3 2-0.3 2-0.3 1.9-0.3 2-0.4 2-0.3 1.9-0.3 2-0.3 2-0.4 1.9-0.3 2-0.4 1.9-0.3 2-0.4 1.9-0.3 2-0.4 1.9-0.4 1.9-0.3 2-0.4 1.9-0.4 1.9-0.4 2-0.3 1.9-0.4 1.9-0.4 1.9-0.4 1.9-0.4 1.9-0.4 1.9-0.4 1.9-0.5 1.9-0.4 1.9-0.4 1.9-0.4 1.9-0.5 1.9-0.4 1.9-0.4 1.9-0.5 1.9-0.4 1.9-0.5 1.9-0.4 1.8-0.5 1.9-0.4 1.9-0.5 1.9-0.5 1.8-0.5 1.9-0.4 1.9-0.5 1.8-0.5 1.9-0.5 1.9-0.5 1.8-0.5 1.9-0.5 1.8-0.5 1.9-0.5 1.8-0.5 1.9-0.6 1.8-0.5 1.9-0.5 1.8-0.6 1.9-0.5 1.8-0.5 1.9-0.6 1.8-0.6 1.9-0.5 1.8-0.6 1.8-0.5 1.9-0.6 1.8-0.6 1.8-0.6 1.9-0.5 1.8-0.6 1.8-0.6 1.9-0.6 1.8-0.6 1.8-0.6 1.9-0.7 1.8-0.6 1.8-0.6 1.9-0.6 1.8-0.6 1.8-0.7 1.8-0.6 1.9-0.7 1.8-0.6 1.8-0.7 1.8-0.6 1.8-0.7 1.9-0.7 1.8-0.6 1.8-0.7 1.8-0.7 1.9-0.7M627.1,222.8l-1.1-1.1-1.1-1.1-1.1-1.1-1.2-1.1-1.1-1.1-1.1-1.1-1.1-1.2-1.1-1.1-1.2-1.1-1.1-1.1-1.1-1.1-1.1-1.1-1.1-1.1-1.1-1.2-1.1-1.1-1.1-1.1-1.1-1.1-1.1-1.1-1.1-1.1-1.1-1.2-1-1.1-1.1-1.1-1.1-1.1-1.1-1.2-1.1-1.1-1.1-1.1-1-1.1-1.1-1.1-1.1-1.2-1.1-1.1-1-1.1-1.1-1.2-1.1-1.1-1-1.1-1.1-1.1-1-1.2-1.1-1.1-1.1-1.1-1-1.2-1.1-1.1-1-1.1-1.1-1.2-1-1.1-1.1-1.2-1-1.1-1-1.1-1.1-1.2-1-1.1-1.1-1.2-1-1.1-1-1.2-1.1-1.1-1-1.1-1-1.2-1-1.1-1.1-1.2-1-1.1-1-1.2-1-1.2-1.1-1.1-1-1.2-1-1.1-1-1.2-1-1.1-1-1.2-1-1.2-1.1-1.1-1-1.2-1-1.2-1-1.1-1-1.2-1-1.2-1-1.1-1-1.2-1-1.2-1-1.2-1-1.1-1-1.2-1-1.2-1-1.2-1-1.2-0.9-1.1-1-1.2-1-1.2-1-1.2-1-1.2-1-1.2-1-1.2-0.9-1.2-1-1.2-1-1.2-1-1.2-0.9-1.2-1-1.2-1-1.2-1-1.2-0.9-1.2-1-1.2-1-1.2-1-1.2M401.4,167.9l2.1-0.3 2-0.3 2-0.2 2-0.3 2-0.3 2-0.3 2-0.3 2-0.3 2-0.2 2-0.3 2-0.4 2-0.3 2-0.3 1.9-0.3 2-0.3 2-0.3 1.9-0.4 2-0.3 2-0.3 1.9-0.4 2-0.3 1.9-0.3 2-0.4 1.9-0.3 2-0.4 1.9-0.4 1.9-0.3 2-0.4 1.9-0.4 1.9-0.3 1.9-0.4 2-0.4 1.9-0.4 1.9-0.4 1.9-0.4 1.9-0.4 1.9-0.4 1.9-0.4 1.9-0.4 1.9-0.4 1.9-0.5 1.9-0.4 1.9-0.4 1.9-0.4 1.9-0.5 1.9-0.4 1.8-0.5 1.9-0.4 1.9-0.5 1.9-0.4 1.8-0.5 1.9-0.5 1.9-0.4 1.8-0.5 1.9-0.5 1.9-0.5 1.8-0.5 1.9-0.5 1.9-0.4 1.8-0.5 1.9-0.6 1.8-0.5 1.9-0.5 1.8-0.5 1.9-0.5 1.8-0.5 1.9-0.6 1.8-0.5 1.9-0.6 1.8-0.5 1.8-0.5 1.9-0.6 1.8-0.6 1.8-0.5 1.9-0.6 1.8-0.6 1.8-0.5 1.9-0.6 1.8-0.6 1.8-0.6 1.9-0.6 1.8-0.6 1.8-0.6 1.9-0.6 1.8-0.6 1.8-0.6 1.8-0.6 1.9-0.7 1.8-0.6 1.8-0.6 1.8-0.7 1.8-0.6 1.9-0.7 1.8-0.6 1.8-0.7 1.8-0.6 1.8-0.7 1.9-0.7 1.8-0.7 1.8-0.6M629.2,221.9l-1.2-1.1-1.1-1.1-1.1-1.1-1.1-1.1-1.2-1.1-1.1-1.1-1.1-1.1-1.1-1.1-1.1-1.1-1.2-1.2-1.1-1.1-1.1-1.1-1.1-1.1-1.1-1.1-1.1-1.1-1.1-1.1-1.1-1.1-1.1-1.2-1.1-1.1-1.1-1.1-1.1-1.1-1.1-1.1-1.1-1.1-1-1.1-1.1-1.2-1.1-1.1-1.1-1.1-1.1-1.1-1-1.1-1.1-1.2-1.1-1.1-1-1.1-1.1-1.1-1.1-1.2-1-1.1-1.1-1.1-1.1-1.1-1-1.2-1.1-1.1-1-1.1-1.1-1.2-1-1.1-1.1-1.1-1-1.2-1.1-1.1-1-1.1-1.1-1.2-1-1.1-1.1-1.2-1-1.1-1-1.1-1.1-1.2-1-1.1-1-1.2-1.1-1.1-1-1.2-1-1.1-1-1.2-1.1-1.1-1-1.2-1-1.1-1-1.2-1.1-1.1-1-1.2-1-1.1-1-1.2-1-1.1-1-1.2-1-1.2-1-1.1-1-1.2-1-1.2-1-1.1-1.1-1.2-1-1.2-1-1.1-0.9-1.2-1-1.2-1-1.2-1-1.1-1-1.2-1-1.2-1-1.2-1-1.2-1-1.1-1-1.2-1-1.2-0.9-1.2-1-1.2-1-1.2-1-1.2-1-1.2-0.9-1.2-1-1.2-1-1.2-1-1.2-1-1.2-0.9-1.2-1-1.2-1-1.2M400.6,166.4l2-0.3 2-0.3 2-0.2 2-0.3 2-0.3 2-0.3 2-0.3 2-0.2 2-0.3 2-0.3 2-0.3 2-0.3 2-0.3 1.9-0.3 2-0.4 2-0.3 1.9-0.3 2-0.3 2-0.3 1.9-0.4 2-0.3 1.9-0.4 2-0.3 1.9-0.4 1.9-0.3 2-0.4 1.9-0.3 1.9-0.4 2-0.4 1.9-0.3 1.9-0.4 1.9-0.4 1.9-0.4 2-0.4 1.9-0.3 1.9-0.4 1.9-0.4 1.9-0.4 1.9-0.5 1.9-0.4 1.9-0.4 1.9-0.4 1.9-0.4 1.8-0.5 1.9-0.4 1.9-0.4 1.9-0.5 1.9-0.4 1.8-0.5 1.9-0.4 1.9-0.5 1.9-0.4 1.8-0.5 1.9-0.5 1.9-0.5 1.8-0.4 1.9-0.5 1.8-0.5 1.9-0.5 1.8-0.5 1.9-0.5 1.9-0.5 1.8-0.5 1.9-0.5 1.8-0.5 1.8-0.6 1.9-0.5 1.8-0.5 1.9-0.6 1.8-0.5 1.8-0.5 1.9-0.6 1.8-0.5 1.9-0.6 1.8-0.6 1.8-0.5 1.9-0.6 1.8-0.6 1.8-0.6 1.8-0.6 1.9-0.5 1.8-0.6 1.8-0.6 1.8-0.6 1.9-0.6 1.8-0.7 1.8-0.6 1.8-0.6 1.9-0.6 1.8-0.7 1.8-0.6 1.8-0.6 1.8-0.7 1.9-0.6 1.8-0.7 1.8-0.6 1.8-0.7 1.8-0.7 1.8-0.6 1.9-0.7M631.2,221l-1.1-1.1-1.1-1.1-1.2-1.1-1.1-1.1-1.1-1.1-1.2-1.1-1.1-1.1-1.1-1.1-1.1-1.1-1.1-1.1-1.2-1.1-1.1-1.1-1.1-1.1-1.1-1.1-1.1-1.1-1.1-1.2-1.1-1.1-1.1-1.1-1.1-1.1-1.1-1.1-1.1-1.1-1.1-1.1-1.1-1.1-1.1-1.1-1.1-1.2-1-1.1-1.1-1.1-1.1-1.1-1.1-1.1-1.1-1.1-1-1.2-1.1-1.1-1.1-1.1-1-1.1-1.1-1.1-1.1-1.2-1-1.1-1.1-1.1-1.1-1.1-1-1.2-1.1-1.1-1-1.1-1.1-1.2-1-1.1-1.1-1.1-1-1.1-1.1-1.2-1-1.1-1.1-1.1-1-1.2-1-1.1-1.1-1.2-1-1.1-1.1-1.1-1-1.2-1-1.1-1-1.2-1.1-1.1-1-1.2-1-1.1-1-1.1-1.1-1.2-1-1.1-1-1.2-1-1.2-1-1.1-1.1-1.2-1-1.1-1-1.2-1-1.1-1-1.2-1-1.2-1-1.1-1-1.2-1-1.1-1-1.2-1-1.2-1-1.2-1-1.1-1-1.2-1-1.2-1-1.1-1-1.2-1-1.2-1-1.2-1-1.2-0.9-1.1-1-1.2-1-1.2-1-1.2-1-1.2-1-1.2-0.9-1.2-1-1.2-1-1.2-1-1.2-1-1.2-0.9-1.2-1-1.2-1-1.2M399.7,164.8l2-0.2 2-0.3 2-0.3 2-0.2 2.1-0.3 2-0.3 2-0.2 2-0.3 1.9-0.3 2-0.3 2-0.3 2-0.3 2-0.3 1.9-0.3 2-0.3 2-0.3 1.9-0.3 2-0.4 2-0.3 1.9-0.3 2-0.3 1.9-0.4 2-0.3 1.9-0.4 1.9-0.3 2-0.4 1.9-0.3 1.9-0.4 2-0.3 1.9-0.4 1.9-0.4 1.9-0.4 1.9-0.3 1.9-0.4 1.9-0.4 1.9-0.4 2-0.4 1.9-0.4 1.9-0.4 1.8-0.4 1.9-0.4 1.9-0.4 1.9-0.5 1.9-0.4 1.9-0.4 1.9-0.4 1.8-0.5 1.9-0.4 1.9-0.5 1.9-0.4 1.8-0.5 1.9-0.4 1.9-0.5 1.8-0.5 1.9-0.4 1.9-0.5 1.8-0.5 1.9-0.5 1.8-0.5 1.9-0.4 1.8-0.5 1.9-0.5 1.8-0.5 1.9-0.6 1.8-0.5 1.9-0.5 1.8-0.5 1.9-0.5 1.8-0.6 1.8-0.5 1.9-0.5 1.8-0.6 1.8-0.5 1.9-0.6 1.8-0.6 1.8-0.5 1.9-0.6 1.8-0.6 1.8-0.5 1.8-0.6 1.9-0.6 1.8-0.6 1.8-0.6 1.8-0.6 1.9-0.6 1.8-0.6 1.8-0.6 1.8-0.6 1.8-0.6 1.8-0.7 1.9-0.6 1.8-0.6 1.8-0.7 1.8-0.6 1.8-0.7 1.8-0.6 1.9-0.7 1.8-0.7 1.8-0.6 1.8-0.7M633.3,220.1l-1.2-1.1-1.1-1.1-1.1-1.1-1.2-1.1-1.1-1.1-1.1-1.1-1.2-1.1-1.1-1.1-1.1-1.1-1.1-1.1-1.2-1.1-1.1-1.1-1.1-1.1-1.1-1.1-1.1-1.1-1.1-1.1-1.1-1.1-1.1-1.1-1.1-1.1-1.1-1.1-1.1-1.1-1.1-1.1-1.1-1.1-1.1-1.2-1.1-1.1-1.1-1.1-1.1-1.1-1.1-1.1-1-1.1-1.1-1.1-1.1-1.1-1.1-1.2-1-1.1-1.1-1.1-1.1-1.1-1.1-1.1-1-1.1-1.1-1.2-1-1.1-1.1-1.1-1.1-1.1-1-1.2-1.1-1.1-1-1.1-1.1-1.1-1-1.2-1.1-1.1-1-1.1-1.1-1.1-1-1.2-1.1-1.1-1-1.1-1-1.2-1.1-1.1-1-1.2-1-1.1-1.1-1.1-1-1.2-1-1.1-1.1-1.2-1-1.1-1-1.1-1-1.2-1.1-1.1-1-1.2-1-1.1-1-1.2-1-1.1-1-1.2-1-1.1-1.1-1.2-1-1.2-1-1.1-1-1.2-1-1.1-1-1.2-1-1.2-1-1.1-1-1.2-1-1.2-1-1.1-1-1.2-1-1.2-1-1.2-1-1.1-0.9-1.2-1-1.2-1-1.2-1-1.1-1-1.2-1-1.2-1-1.2-0.9-1.2-1-1.2-1-1.2-1-1.2-1-1.2-0.9-1.2-1-1.2-1-1.2M398.8,163.3l2-0.2 2-0.3 2.1-0.3 2-0.2 2-0.3 2-0.3 2-0.2 2-0.3 2-0.3 1.9-0.3 2-0.3 2-0.3 2-0.3 1.9-0.3 2-0.3 2-0.3 1.9-0.3 2-0.3 2-0.3 1.9-0.3 2-0.4 1.9-0.3 1.9-0.3 2-0.4 1.9-0.3 2-0.4 1.9-0.3 1.9-0.4 1.9-0.3 2-0.4 1.9-0.4 1.9-0.3 1.9-0.4 1.9-0.4 1.9-0.4 1.9-0.4 1.9-0.3 1.9-0.4 1.9-0.4 1.9-0.4 1.9-0.5 1.9-0.4 1.9-0.4 1.9-0.4 1.8-0.4 1.9-0.5 1.9-0.4 1.9-0.4 1.9-0.5 1.8-0.4 1.9-0.5 1.9-0.4 1.8-0.5 1.9-0.4 1.8-0.5 1.9-0.5 1.9-0.4 1.8-0.5 1.9-0.5 1.8-0.5 1.9-0.5 1.8-0.5 1.9-0.5 1.8-0.5 1.9-0.5 1.8-0.5 1.8-0.5 1.9-0.6 1.8-0.5 1.8-0.5 1.9-0.5 1.8-0.6 1.8-0.5 1.9-0.6 1.8-0.5 1.8-0.6 1.9-0.6 1.8-0.5 1.8-0.6 1.8-0.6 1.9-0.6 1.8-0.5 1.8-0.6 1.8-0.6 1.8-0.6 1.9-0.6 1.8-0.6 1.8-0.7 1.8-0.6 1.8-0.6 1.8-0.6 1.9-0.7 1.8-0.6 1.8-0.6 1.8-0.7 1.8-0.6 1.8-0.7 1.8-0.6 1.9-0.7 1.8-0.7M635.3,219.2l-1.1-1.1-1.2-1.1-1.1-1.1-1.1-1.1-1.2-1.1-1.1-1.1-1.1-1.1-1.2-1.1-1.1-1-1.1-1.1-1.1-1.1-1.2-1.1-1.1-1.1-1.1-1.1-1.1-1.1-1.1-1.1-1.1-1.1-1.1-1.1-1.1-1.1-1.2-1.1-1.1-1.1-1.1-1.2-1-1.1-1.1-1.1-1.1-1.1-1.1-1.1-1.1-1.1-1.1-1.1-1.1-1.1-1.1-1.1-1-1.1-1.1-1.1-1.1-1.1-1.1-1.2-1.1-1.1-1-1.1-1.1-1.1-1.1-1.1-1-1.1-1.1-1.1-1.1-1.2-1-1.1-1.1-1.1-1-1.1-1.1-1.2-1-1.1-1.1-1.1-1-1.1-1.1-1.2-1-1.1-1.1-1.1-1-1.1-1.1-1.2-1-1.1-1-1.1-1.1-1.2-1-1.1-1-1.1-1.1-1.2-1-1.1-1-1.1-1-1.2-1.1-1.1-1-1.2-1-1.1-1-1.2-1.1-1.1-1-1.2-1-1.1-1-1.2-1-1.1-1-1.2-1-1.1-1-1.2-1.1-1.1-1-1.2-1-1.2-1-1.1-1-1.2-1-1.1-1-1.2-1-1.2-1-1.1-1-1.2-0.9-1.2-1-1.2-1-1.1-1-1.2-1-1.2-1-1.2-1-1.1-1-1.2-1-1.2-0.9-1.2-1-1.2-1-1.2-1-1.2-1-1.2-0.9-1.1-1-1.2M397.9,161.8l2-0.3 2.1-0.2 2-0.3 2-0.2 2-0.3 2-0.3 2-0.2 2-0.3 2-0.3 1.9-0.3 2-0.2 2-0.3 2-0.3 2-0.3 1.9-0.3 2-0.3 1.9-0.3 2-0.3 2-0.4 1.9-0.3 2-0.3 1.9-0.3 1.9-0.4 2-0.3 1.9-0.3 1.9-0.4 2-0.3 1.9-0.4 1.9-0.3 1.9-0.4 2-0.3 1.9-0.4 1.9-0.4 1.9-0.4 1.9-0.3 1.9-0.4 1.9-0.4 1.9-0.4 1.9-0.4 1.9-0.4 1.9-0.4 1.9-0.4 1.8-0.4 1.9-0.4 1.9-0.4 1.9-0.5 1.9-0.4 1.8-0.4 1.9-0.5 1.9-0.4 1.8-0.4 1.9-0.5 1.9-0.4 1.8-0.5 1.9-0.5 1.8-0.4 1.9-0.5 1.9-0.5 1.8-0.5 1.9-0.4 1.8-0.5 1.9-0.5 1.8-0.5 1.8-0.5 1.9-0.5 1.8-0.5 1.9-0.5 1.8-0.6 1.8-0.5 1.9-0.5 1.8-0.6 1.8-0.5 1.9-0.5 1.8-0.6 1.8-0.5 1.8-0.6 1.9-0.5 1.8-0.6 1.8-0.6 1.8-0.5 1.9-0.6 1.8-0.6 1.8-0.6 1.8-0.6 1.8-0.6 1.8-0.6 1.9-0.6 1.8-0.6 1.8-0.6 1.8-0.6 1.8-0.6 1.8-0.7 1.8-0.6 1.9-0.6 1.8-0.7 1.8-0.6 1.8-0.7 1.8-0.6 1.8-0.7 1.8-0.7M637.4,218.3l-1.2-1.1-1.1-1.1-1.2-1.1-1.1-1.1-1.2-1.1-1.1-1.1-1.1-1-1.2-1.1-1.1-1.1-1.1-1.1-1.1-1.1-1.2-1.1-1.1-1.1-1.1-1.1-1.1-1.1-1.1-1.1-1.1-1.1-1.2-1.1-1.1-1.1-1.1-1.1-1.1-1.1-1.1-1.1-1.1-1.1-1.1-1.1-1.1-1.1-1.1-1.1-1.1-1.1-1-1.1-1.1-1.1-1.1-1.1-1.1-1.1-1.1-1.1-1.1-1.1-1-1.1-1.1-1.1-1.1-1.1-1.1-1.2-1-1.1-1.1-1.1-1.1-1.1-1-1.1-1.1-1.1-1.1-1.1-1-1.2-1.1-1.1-1-1.1-1.1-1.1-1-1.1-1.1-1.2-1-1.1-1.1-1.1-1-1.1-1.1-1.2-1-1.1-1.1-1.1-1-1.1-1-1.2-1.1-1.1-1-1.1-1-1.2-1.1-1.1-1-1.1-1-1.2-1-1.1-1.1-1.2-1-1.1-1-1.1-1-1.2-1-1.1-1.1-1.2-1-1.1-1-1.2-1-1.1-1-1.2-1-1.1-1-1.2-1-1.1-1-1.2-1-1.2-1-1.1-1-1.2-1-1.1-1-1.2-1-1.2-1-1.1-1-1.2-1-1.2-1-1.1-1-1.2-1-1.2-1-1.2-1-1.1-1-1.2-0.9-1.2-1-1.2-1-1.2-1-1.2-1-1.2-0.9-1.1-1-1.2M397,160.2l2.1-0.2 2-0.2 2-0.3 2-0.2 2-0.3 2-0.3 2-0.2 2-0.3 2-0.3 2-0.2 1.9-0.3 2-0.3 2-0.3 2-0.3 1.9-0.3 2-0.3 1.9-0.3 2-0.3 2-0.3 1.9-0.3 2-0.3 1.9-0.3 1.9-0.4 2-0.3 1.9-0.3 1.9-0.4 2-0.3 1.9-0.4 1.9-0.3 1.9-0.4 1.9-0.3 2-0.4 1.9-0.4 1.9-0.3 1.9-0.4 1.9-0.4 1.9-0.4 1.9-0.3 1.9-0.4 1.9-0.4 1.8-0.4 1.9-0.4 1.9-0.4 1.9-0.4 1.9-0.5 1.8-0.4 1.9-0.4 1.9-0.4 1.9-0.5 1.8-0.4 1.9-0.4 1.9-0.5 1.8-0.4 1.9-0.5 1.8-0.4 1.9-0.5 1.8-0.5 1.9-0.4 1.8-0.5 1.9-0.5 1.8-0.5 1.9-0.5 1.8-0.5 1.9-0.5 1.8-0.5 1.8-0.5 1.9-0.5 1.8-0.5 1.9-0.5 1.8-0.5 1.8-0.6 1.8-0.5 1.9-0.5 1.8-0.6 1.8-0.5 1.8-0.6 1.9-0.5 1.8-0.6 1.8-0.5 1.8-0.6 1.9-0.6 1.8-0.6 1.8-0.5 1.8-0.6 1.8-0.6 1.8-0.6 1.8-0.6 1.9-0.6 1.8-0.6 1.8-0.6 1.8-0.7 1.8-0.6 1.8-0.6 1.8-0.6 1.8-0.7 1.8-0.6 1.9-0.7 1.8-0.6 1.8-0.7 1.8-0.6M639.4,217.4l-1.1-1.1-1.2-1.1-1.1-1.1-1.2-1.1-1.1-1.1-1.2-1-1.1-1.1-1.1-1.1-1.2-1.1-1.1-1.1-1.1-1.1-1.2-1.1-1.1-1.1-1.1-1.1-1.1-1-1.1-1.1-1.2-1.1-1.1-1.1-1.1-1.1-1.1-1.1-1.1-1.1-1.1-1.1-1.1-1.1-1.1-1.1-1.1-1.1-1.1-1.1-1.1-1.1-1.1-1.1-1.1-1.1-1.1-1.1-1.1-1.1-1-1.1-1.1-1.1-1.1-1.1-1.1-1.1-1.1-1.1-1-1.1-1.1-1.1-1.1-1.1-1.1-1.1-1-1.2-1.1-1.1-1.1-1.1-1-1.1-1.1-1.1-1-1.1-1.1-1.1-1-1.2-1.1-1.1-1-1.1-1.1-1.1-1-1.1-1.1-1.2-1-1.1-1.1-1.1-1-1.1-1.1-1.2-1-1.1-1-1.1-1.1-1.1-1-1.2-1-1.1-1.1-1.1-1-1.2-1-1.1-1-1.1-1.1-1.2-1-1.1-1-1.2-1-1.1-1-1.1-1.1-1.2-1-1.1-1-1.2-1-1.1-1-1.2-1-1.1-1-1.2-1-1.1-1-1.2-1-1.2-1-1.1-1-1.2-1-1.1-1-1.2-1-1.2-1-1.1-1-1.2-1-1.2-1-1.1-1-1.2-1-1.2-1-1.2-0.9-1.1-1-1.2-1-1.2-1-1.2-1-1.2-1-1.1-0.9-1.2M396.2,158.7l2-0.2 2-0.3 2-0.2 2-0.3 2-0.2 2-0.3 2-0.2 2-0.3 2-0.3 2-0.2 1.9-0.3 2-0.3 2-0.3 2-0.2 1.9-0.3 2-0.3 1.9-0.3 2-0.3 2-0.3 1.9-0.3 1.9-0.4 2-0.3 1.9-0.3 2-0.3 1.9-0.4 1.9-0.3 1.9-0.3 2-0.4 1.9-0.3 1.9-0.4 1.9-0.3 1.9-0.4 1.9-0.3 1.9-0.4 2-0.4 1.9-0.3 1.8-0.4 1.9-0.4 1.9-0.4 1.9-0.4 1.9-0.4 1.9-0.4 1.9-0.4 1.9-0.4 1.8-0.4 1.9-0.4 1.9-0.4 1.9-0.4 1.8-0.5 1.9-0.4 1.9-0.4 1.8-0.5 1.9-0.4 1.8-0.5 1.9-0.4 1.8-0.5 1.9-0.4 1.8-0.5 1.9-0.5 1.8-0.4 1.9-0.5 1.8-0.5 1.9-0.5 1.8-0.5 1.8-0.5 1.9-0.5 1.8-0.5 1.8-0.5 1.9-0.5 1.8-0.5 1.8-0.6 1.9-0.5 1.8-0.5 1.8-0.6 1.8-0.5 1.9-0.5 1.8-0.6 1.8-0.5 1.8-0.6 1.8-0.6 1.9-0.5 1.8-0.6 1.8-0.6 1.8-0.6 1.8-0.6 1.8-0.6 1.8-0.5 1.8-0.6 1.9-0.7 1.8-0.6 1.8-0.6 1.8-0.6 1.8-0.6 1.8-0.7 1.8-0.6 1.8-0.6 1.8-0.7 1.8-0.6 1.8-0.7 1.8-0.6M641.5,216.4l-1.2-1-1.1-1.1-1.2-1.1-1.1-1.1-1.2-1.1-1.1-1-1.2-1.1-1.1-1.1-1.2-1.1-1.1-1.1-1.1-1.1-1.2-1-1.1-1.1-1.1-1.1-1.1-1.1-1.2-1.1-1.1-1.1-1.1-1.1-1.1-1.1-1.1-1-1.1-1.1-1.1-1.1-1.1-1.1-1.1-1.1-1.2-1.1-1.1-1.1-1-1.1-1.1-1.1-1.1-1.1-1.1-1.1-1.1-1.1-1.1-1.1-1.1-1.1-1.1-1.1-1.1-1.1-1-1.1-1.1-1.1-1.1-1.1-1.1-1.1-1-1.1-1.1-1.1-1.1-1.1-1-1.1-1.1-1.1-1.1-1.1-1-1.1-1.1-1.2-1-1.1-1.1-1.1-1.1-1.1-1-1.1-1.1-1.1-1-1.2-1.1-1.1-1-1.1-1-1.1-1.1-1.1-1-1.2-1.1-1.1-1-1.1-1-1.1-1.1-1.2-1-1.1-1-1.1-1.1-1.2-1-1.1-1-1.1-1-1.2-1.1-1.1-1-1.1-1-1.2-1-1.1-1-1.2-1-1.1-1.1-1.1-1-1.2-1-1.1-1-1.2-1-1.1-1-1.2-1-1.1-1-1.2-1-1.1-1-1.2-1-1.2-1-1.1-1-1.2-1-1.1-1-1.2-1-1.2-1-1.1-1-1.2-1-1.2-1-1.2-0.9-1.1-1-1.2-1-1.2-1-1.2-1-1.1-1-1.2M395.3,157.2l2-0.3 2-0.2 2-0.2 2-0.3 2-0.2 2-0.3 2-0.2 2-0.3 2-0.2 2-0.3 2-0.3 1.9-0.3 2-0.2 2-0.3 1.9-0.3 2-0.3 1.9-0.3 2-0.3 2-0.3 1.9-0.3 1.9-0.3 2-0.3 1.9-0.3 2-0.3 1.9-0.4 1.9-0.3 1.9-0.3 2-0.4 1.9-0.3 1.9-0.3 1.9-0.4 1.9-0.3 1.9-0.4 1.9-0.4 1.9-0.3 1.9-0.4 1.9-0.4 1.9-0.3 1.9-0.4 1.9-0.4 1.9-0.4 1.9-0.4 1.8-0.4 1.9-0.4 1.9-0.4 1.9-0.4 1.8-0.4 1.9-0.4 1.9-0.5 1.8-0.4 1.9-0.4 1.9-0.5 1.8-0.4 1.9-0.4 1.8-0.5 1.9-0.4 1.8-0.5 1.9-0.5 1.8-0.4 1.9-0.5 1.8-0.5 1.9-0.5 1.8-0.4 1.8-0.5 1.9-0.5 1.8-0.5 1.8-0.5 1.9-0.5 1.8-0.5 1.8-0.5 1.9-0.6 1.8-0.5 1.8-0.5 1.8-0.6 1.9-0.5 1.8-0.5 1.8-0.6 1.8-0.5 1.8-0.6 1.8-0.5 1.9-0.6 1.8-0.6 1.8-0.5 1.8-0.6 1.8-0.6 1.8-0.6 1.8-0.6 1.8-0.6 1.8-0.6 1.9-0.6 1.8-0.6 1.8-0.6 1.8-0.6 1.8-0.7 1.8-0.6 1.8-0.6 1.8-0.7 1.8-0.6 1.8-0.7 1.8-0.6M643.5,215.5l-1.2-1.1-1.1-1-1.2-1.1-1.1-1.1-1.2-1.1-1.1-1-1.2-1.1-1.1-1.1-1.1-1.1-1.2-1.1-1.1-1-1.2-1.1-1.1-1.1-1.1-1.1-1.1-1.1-1.2-1.1-1.1-1-1.1-1.1-1.1-1.1-1.1-1.1-1.2-1.1-1.1-1.1-1.1-1.1-1.1-1-1.1-1.1-1.1-1.1-1.1-1.1-1.1-1.1-1.1-1.1-1.1-1.1-1.1-1.1-1.1-1.1-1.1-1.1-1-1.1-1.1-1.1-1.1-1.1-1.1-1.1-1.1-1.1-1-1.1-1.1-1.1-1.1-1.1-1.1-1.1-1-1.1-1.1-1.1-1.1-1.1-1-1.1-1.1-1.1-1.1-1.1-1-1.1-1.1-1.1-1-1.1-1.1-1.1-1-1.2-1.1-1.1-1-1.1-1.1-1.1-1-1.1-1.1-1.1-1-1.2-1-1.1-1.1-1.1-1-1.1-1-1.2-1.1-1.1-1-1.1-1-1.1-1.1-1.2-1-1.1-1-1.1-1-1.2-1.1-1.1-1-1.1-1-1.2-1-1.1-1-1.2-1-1.1-1.1-1.1-1-1.2-1-1.1-1-1.2-1-1.1-1-1.2-1-1.1-1-1.2-1-1.1-1-1.2-1-1.1-1-1.2-1-1.2-1-1.1-1-1.2-1-1.2-1-1.1-1-1.2-0.9-1.2-1-1.1-1-1.2-1-1.2-1-1.2-1-1.1M394.4,155.6l2-0.2 2-0.2 2-0.3 2-0.2 2-0.2 2-0.3 2-0.2 2-0.3 2-0.2 2-0.3 2-0.3 1.9-0.2 2-0.3 2-0.3 1.9-0.3 2-0.2 1.9-0.3 2-0.3 2-0.3 1.9-0.3 1.9-0.3 2-0.3 1.9-0.3 1.9-0.4 2-0.3 1.9-0.3 1.9-0.3 1.9-0.4 2-0.3 1.9-0.3 1.9-0.4 1.9-0.3 1.9-0.4 1.9-0.3 1.9-0.4 1.9-0.4 1.9-0.3 1.9-0.4 1.9-0.4 1.9-0.4 1.9-0.3 1.8-0.4 1.9-0.4 1.9-0.4 1.9-0.4 1.8-0.4 1.9-0.4 1.9-0.5 1.8-0.4 1.9-0.4 1.9-0.4 1.8-0.5 1.9-0.4 1.8-0.4 1.9-0.5 1.8-0.4 1.9-0.5 1.8-0.4 1.9-0.5 1.8-0.5 1.9-0.4 1.8-0.5 1.8-0.5 1.9-0.5 1.8-0.5 1.8-0.4 1.9-0.5 1.8-0.5 1.8-0.6 1.9-0.5 1.8-0.5 1.8-0.5 1.8-0.5 1.8-0.5 1.9-0.6 1.8-0.5 1.8-0.6 1.8-0.5 1.8-0.6 1.8-0.5 1.9-0.6 1.8-0.5 1.8-0.6 1.8-0.6 1.8-0.6 1.8-0.5 1.8-0.6 1.8-0.6 1.8-0.6 1.8-0.6 1.8-0.6 1.8-0.6 1.9-0.7 1.8-0.6 1.8-0.6 1.8-0.6 1.8-0.7 1.8-0.6 1.8-0.6 1.8-0.7M645.6,214.6l-1.2-1.1-1.2-1.1-1.1-1-1.2-1.1-1.1-1.1-1.2-1-1.1-1.1-1.2-1.1-1.1-1.1-1.2-1.1-1.1-1-1.1-1.1-1.2-1.1-1.1-1.1-1.1-1-1.2-1.1-1.1-1.1-1.1-1.1-1.1-1.1-1.2-1-1.1-1.1-1.1-1.1-1.1-1.1-1.1-1.1-1.1-1.1-1.1-1-1.1-1.1-1.1-1.1-1.1-1.1-1.1-1.1-1.1-1.1-1.1-1.1-1.1-1.1-1.1-1.1-1.1-1-1.1-1.1-1.1-1.1-1-1.1-1.1-1.1-1.1-1.1-1.1-1.1-1.1-1.1-1-1.1-1.1-1.1-1.1-1.1-1-1.1-1.1-1.1-1.1-1.1-1-1.1-1.1-1.1-1-1.1-1.1-1.2-1-1.1-1.1-1.1-1-1.1-1.1-1.1-1-1.1-1.1-1.1-1-1.1-1.1-1.2-1-1.1-1.1-1.1-1-1.1-1-1.1-1.1-1.2-1-1.1-1-1.1-1-1.1-1.1-1.2-1-1.1-1-1.1-1-1.2-1.1-1.1-1-1.1-1-1.2-1-1.1-1-1.1-1-1.2-1.1-1.1-1-1.2-1-1.1-1-1.2-1-1.1-1-1.2-1-1.1-1-1.2-1-1.1-1-1.2-1-1.1-1-1.2-1-1.1-1-1.2-1-1.2-1-1.1-1-1.2-0.9-1.2-1-1.1-1-1.2-1-1.2-1-1.1M393.5,154.1l2-0.2 2-0.2 2.1-0.3 2-0.2 2-0.2 2-0.3 1.9-0.2 2-0.3 2-0.2 2-0.3 2-0.2 1.9-0.3 2-0.3 2-0.3 1.9-0.2 2-0.3 2-0.3 1.9-0.3 1.9-0.3 2-0.3 1.9-0.3 2-0.3 1.9-0.3 1.9-0.3 2-0.3 1.9-0.3 1.9-0.3 1.9-0.4 2-0.3 1.9-0.3 1.9-0.4 1.9-0.3 1.9-0.4 1.9-0.3 1.9-0.4 1.9-0.3 1.9-0.4 1.9-0.4 1.9-0.3 1.8-0.4 1.9-0.4 1.9-0.4 1.9-0.4 1.9-0.4 1.8-0.4 1.9-0.4 1.9-0.4 1.8-0.4 1.9-0.4 1.9-0.4 1.8-0.4 1.9-0.4 1.8-0.5 1.9-0.4 1.8-0.5 1.9-0.4 1.8-0.4 1.9-0.5 1.8-0.5 1.9-0.4 1.8-0.5 1.8-0.5 1.9-0.4 1.8-0.5 1.8-0.5 1.9-0.5 1.8-0.5 1.8-0.5 1.9-0.5 1.8-0.5 1.8-0.5 1.8-0.5 1.8-0.5 1.9-0.5 1.8-0.6 1.8-0.5 1.8-0.5 1.8-0.6 1.8-0.5 1.9-0.6 1.8-0.5 1.8-0.6 1.8-0.6 1.8-0.5 1.8-0.6 1.8-0.6 1.8-0.6 1.8-0.6 1.8-0.5 1.8-0.6 1.8-0.6 1.8-0.7 1.8-0.6 1.8-0.6 1.8-0.6 1.8-0.6 1.8-0.7 1.8-0.6 1.8-0.6 1.8-0.7M647.6,213.7l-1.2-1.1-1.1-1.1-1.2-1.1-1.1-1-1.2-1.1-1.2-1.1-1.1-1-1.2-1.1-1.1-1.1-1.2-1-1.1-1.1-1.1-1.1-1.2-1.1-1.1-1-1.1-1.1-1.2-1.1-1.1-1.1-1.1-1-1.2-1.1-1.1-1.1-1.1-1.1-1.1-1-1.1-1.1-1.2-1.1-1.1-1.1-1.1-1.1-1.1-1.1-1.1-1-1.1-1.1-1.1-1.1-1.1-1.1-1.1-1.1-1.1-1.1-1.1-1-1.1-1.1-1.1-1.1-1-1.1-1.1-1.1-1.1-1.1-1.1-1.1-1.1-1.1-1-1.1-1.1-1.1-1.1-1.1-1.1-1.1-1-1.1-1.1-1.1-1.1-1.1-1-1.1-1.1-1.1-1.1-1.1-1-1.1-1.1-1.1-1-1.1-1.1-1.1-1-1.1-1.1-1.1-1-1.1-1.1-1.1-1-1.1-1.1-1.2-1-1.1-1-1.1-1.1-1.1-1-1.1-1-1.2-1.1-1.1-1-1.1-1-1.1-1.1-1.1-1-1.2-1-1.1-1-1.1-1.1-1.2-1-1.1-1-1.1-1-1.2-1-1.1-1-1.1-1.1-1.2-1-1.1-1-1.2-1-1.1-1-1.1-1-1.2-1-1.1-1-1.2-1-1.1-1-1.2-1-1.1-1-1.2-1-1.1-1-1.2-1-1.2-1-1.1-1-1.2-1-1.2-0.9-1.1-1-1.2-1-1.2M392.6,152.6l2.1-0.3 2-0.2 2-0.2 2-0.2 2-0.3 2-0.2 2-0.2 1.9-0.3 2-0.2 2-0.3 2-0.2 1.9-0.3 2-0.3 2-0.2 1.9-0.3 2-0.3 2-0.2 1.9-0.3 1.9-0.3 2-0.3 1.9-0.3 2-0.3 1.9-0.3 1.9-0.3 2-0.3 1.9-0.3 1.9-0.3 1.9-0.4 1.9-0.3 1.9-0.3 2-0.4 1.9-0.3 1.9-0.3 1.9-0.4 1.9-0.3 1.9-0.4 1.9-0.4 1.8-0.3 1.9-0.4 1.9-0.4 1.9-0.3 1.9-0.4 1.8-0.4 1.9-0.4 1.9-0.4 1.9-0.4 1.8-0.4 1.9-0.4 1.9-0.4 1.8-0.4 1.9-0.4 1.8-0.4 1.9-0.5 1.8-0.4 1.9-0.4 1.8-0.5 1.9-0.4 1.8-0.5 1.9-0.4 1.8-0.5 1.8-0.4 1.9-0.5 1.8-0.5 1.8-0.5 1.9-0.4 1.8-0.5 1.8-0.5 1.9-0.5 1.8-0.5 1.8-0.5 1.8-0.5 1.8-0.5 1.9-0.5 1.8-0.5 1.8-0.6 1.8-0.5 1.8-0.5 1.8-0.6 1.9-0.5 1.8-0.6 1.8-0.5 1.8-0.6 1.8-0.5 1.8-0.6 1.8-0.6 1.8-0.5 1.8-0.6 1.8-0.6 1.8-0.6 1.8-0.6 1.8-0.6 1.8-0.6 1.8-0.6 1.8-0.6 1.8-0.6 1.8-0.6 1.8-0.7 1.8-0.6 1.8-0.6 1.8-0.7M649.7,212.7l-1.2-1-1.2-1.1-1.1-1.1-1.2-1-1.2-1.1-1.1-1.1-1.2-1-1.1-1.1-1.2-1.1-1.1-1-1.2-1.1-1.1-1.1-1.2-1-1.1-1.1-1.2-1.1-1.1-1.1-1.1-1-1.2-1.1-1.1-1.1-1.1-1-1.1-1.1-1.2-1.1-1.1-1.1-1.1-1-1.1-1.1-1.1-1.1-1.1-1.1-1.1-1.1-1.1-1-1.1-1.1-1.1-1.1-1.1-1.1-1.1-1.1-1.1-1-1.1-1.1-1.1-1.1-1.1-1.1-1.1-1.1-1.1-1.1-1.1-1.1-1.1-1.1-1-1-1.1-1.1-1.1-1.1-1.1-1.1-1-1.1-1.1-1.1-1.1-1.1-1-1.1-1.1-1.1-1.1-1.1-1-1.1-1.1-1.1-1-1.1-1.1-1.1-1.1-1.1-1-1.1-1.1-1.1-1-1.1-1.1-1.1-1-1.1-1-1.2-1.1-1.1-1-1.1-1.1-1.1-1-1.1-1-1.1-1.1-1.1-1-1.2-1-1.1-1.1-1.1-1-1.1-1-1.2-1-1.1-1-1.1-1.1-1.1-1-1.2-1-1.1-1-1.1-1-1.2-1.1-1.1-1-1.1-1-1.2-1-1.1-1-1.2-1-1.1-1-1.2-1-1.1-1-1.1-1-1.2-1-1.1-1-1.2-1-1.2-1-1.1-1-1.2-1-1.1-1-1.2-1-1.2-0.9-1.1-1-1.2M391.8,151l2-0.2 2-0.2 2-0.2 2-0.3 2-0.2 2-0.2 2-0.2 2-0.3 1.9-0.2 2-0.3 2-0.2 2-0.3 1.9-0.2 2-0.3 1.9-0.3 2-0.2 2-0.3 1.9-0.3 1.9-0.3 2-0.3 1.9-0.2 2-0.3 1.9-0.3 1.9-0.3 2-0.3 1.9-0.3 1.9-0.4 1.9-0.3 1.9-0.3 1.9-0.3 1.9-0.4 1.9-0.3 1.9-0.3 1.9-0.4 1.9-0.3 1.9-0.4 1.9-0.3 1.9-0.4 1.9-0.3 1.9-0.4 1.9-0.4 1.8-0.4 1.9-0.3 1.9-0.4 1.9-0.4 1.8-0.4 1.9-0.4 1.9-0.4 1.8-0.4 1.9-0.4 1.8-0.4 1.9-0.4 1.8-0.5 1.9-0.4 1.8-0.4 1.9-0.5 1.8-0.4 1.9-0.4 1.8-0.5 1.8-0.4 1.9-0.5 1.8-0.5 1.8-0.4 1.9-0.5 1.8-0.5 1.8-0.4 1.9-0.5 1.8-0.5 1.8-0.5 1.8-0.5 1.8-0.5 1.9-0.5 1.8-0.5 1.8-0.5 1.8-0.6 1.8-0.5 1.8-0.5 1.9-0.5 1.8-0.6 1.8-0.5 1.8-0.6 1.8-0.5 1.8-0.6 1.8-0.5 1.8-0.6 1.8-0.6 1.8-0.6 1.8-0.5 1.8-0.6 1.8-0.6 1.8-0.6 1.8-0.6 1.8-0.6 1.8-0.6 1.8-0.6 1.8-0.6 1.8-0.7 1.8-0.6 1.8-0.6 1.8-0.7M651.7,211.8l-1.2-1.1-1.1-1-1.2-1.1-1.2-1.1-1.1-1-1.2-1.1-1.2-1.1-1.1-1-1.2-1.1-1.1-1-1.2-1.1-1.1-1.1-1.2-1-1.1-1.1-1.2-1.1-1.1-1-1.1-1.1-1.2-1.1-1.1-1-1.1-1.1-1.2-1.1-1.1-1-1.1-1.1-1.1-1.1-1.1-1.1-1.2-1-1.1-1.1-1.1-1.1-1.1-1.1-1.1-1-1.1-1.1-1.1-1.1-1.1-1.1-1.1-1-1.1-1.1-1.1-1.1-1.1-1.1-1.1-1.1-1.1-1.1-1.1-1-1-1.1-1.1-1.1-1.1-1.1-1.1-1.1-1.1-1.1-1-1.1-1.1-1.1-1.1-1-1.1-1.1-1-1.1-1.1-1.1-1-1.1-1.1-1.1-1.1-1.1-1-1.1-1.1-1.1-1-1.1-1.1-1.1-1-1.1-1.1-1.1-1-1.1-1.1-1.1-1-1.2-1.1-1.1-1-1.1-1-1.1-1.1-1.1-1-1.1-1.1-1.1-1-1.1-1-1.2-1-1.1-1.1-1.1-1-1.1-1-1.1-1-1.2-1.1-1.1-1-1.1-1-1.2-1-1.1-1-1.1-1.1-1.1-1-1.2-1-1.1-1-1.2-1-1.1-1-1.1-1-1.2-1-1.1-1-1.2-1-1.1-1-1.2-1-1.1-1-1.2-1-1.1-1-1.2-1-1.1-1-1.2-1-1.1-1-1.2M390.9,149.5l2-0.2 2-0.2 2-0.3 2-0.2 2-0.2 2-0.2 2-0.3 2-0.2 1.9-0.2 2-0.3 2-0.2 2-0.3 1.9-0.2 2-0.3 1.9-0.2 2-0.3 2-0.3 1.9-0.2 1.9-0.3 2-0.3 1.9-0.3 2-0.3 1.9-0.3 1.9-0.3 1.9-0.3 2-0.3 1.9-0.3 1.9-0.3 1.9-0.3 1.9-0.3 1.9-0.3 1.9-0.4 1.9-0.3 1.9-0.3 1.9-0.4 1.9-0.3 1.9-0.4 1.9-0.3 1.9-0.4 1.9-0.4 1.8-0.3 1.9-0.4 1.9-0.4 1.9-0.4 1.8-0.3 1.9-0.4 1.9-0.4 1.8-0.4 1.9-0.4 1.8-0.4 1.9-0.4 1.8-0.4 1.9-0.5 1.8-0.4 1.9-0.4 1.8-0.4 1.9-0.5 1.8-0.4 1.9-0.5 1.8-0.4 1.8-0.5 1.9-0.4 1.8-0.5 1.8-0.4 1.8-0.5 1.9-0.5 1.8-0.5 1.8-0.4 1.8-0.5 1.9-0.5 1.8-0.5 1.8-0.5 1.8-0.5 1.8-0.5 1.8-0.6 1.8-0.5 1.9-0.5 1.8-0.5 1.8-0.6 1.8-0.5 1.8-0.5 1.8-0.6 1.8-0.5 1.8-0.6 1.8-0.6 1.8-0.5 1.8-0.6 1.8-0.6 1.8-0.6 1.8-0.5 1.8-0.6 1.8-0.6 1.8-0.6 1.8-0.6 1.8-0.6 1.8-0.7 1.8-0.6 1.7-0.6 1.8-0.6 1.8-0.7M653.8,210.8l-1.2-1-1.2-1.1-1.2-1-1.1-1.1-1.2-1.1-1.2-1-1.1-1.1-1.2-1-1.2-1.1-1.1-1.1-1.2-1-1.1-1.1-1.2-1-1.1-1.1-1.2-1.1-1.1-1-1.1-1.1-1.2-1-1.1-1.1-1.1-1.1-1.2-1-1.1-1.1-1.1-1.1-1.2-1-1.1-1.1-1.1-1.1-1.1-1-1.1-1.1-1.1-1.1-1.2-1.1-1.1-1-1.1-1.1-1.1-1.1-1.1-1.1-1.1-1-1.1-1.1-1.1-1.1-1.1-1.1-1.1-1-1-1.1-1.1-1.1-1.1-1.1-1.1-1.1-1.1-1.1-1.1-1-1-1.1-1.1-1.1-1.1-1.1-1.1-1.1-1-1.1-1.1-1.1-1.1-1.1-1-1-1.1-1.1-1.1-1.1-1-1.1-1.1-1.1-1-1.1-1.1-1.1-1-1.1-1.1-1.1-1-1.1-1.1-1.1-1-1.1-1.1-1.1-1-1.2-1-1.1-1.1-1.1-1-1.1-1-1.1-1.1-1.1-1-1.1-1-1.1-1.1-1.2-1-1.1-1-1.1-1-1.1-1.1-1.1-1-1.2-1-1.1-1-1.1-1-1.2-1.1-1.1-1-1.1-1-1.1-1-1.2-1-1.1-1-1.2-1-1.1-1-1.1-1-1.2-1-1.1-1-1.2-1-1.1-1-1.2-1-1.1-1-1.2-1-1.1-1-1.2-1-1.1M390,147.9l2-0.2 2-0.2 2-0.2 2-0.2 2-0.2 2-0.2 2-0.3 2-0.2 2-0.2 1.9-0.3 2-0.2 2-0.2 1.9-0.3 2-0.2 2-0.3 1.9-0.3 2-0.2 1.9-0.3 1.9-0.3 2-0.2 1.9-0.3 2-0.3 1.9-0.3 1.9-0.3 1.9-0.3 2-0.3 1.9-0.3 1.9-0.3 1.9-0.3 1.9-0.3 1.9-0.3 1.9-0.4 1.9-0.3 1.9-0.3 1.9-0.4 1.9-0.3 1.9-0.4 1.9-0.3 1.9-0.4 1.8-0.3 1.9-0.4 1.9-0.3 1.9-0.4 1.8-0.4 1.9-0.4 1.9-0.4 1.8-0.3 1.9-0.4 1.8-0.4 1.9-0.4 1.8-0.4 1.9-0.4 1.8-0.5 1.9-0.4 1.8-0.4 1.9-0.4 1.8-0.4 1.9-0.5 1.8-0.4 1.8-0.5 1.9-0.4 1.8-0.5 1.8-0.4 1.9-0.5 1.8-0.5 1.8-0.4 1.8-0.5 1.8-0.5 1.9-0.5 1.8-0.4 1.8-0.5 1.8-0.5 1.8-0.5 1.8-0.5 1.9-0.6 1.8-0.5 1.8-0.5 1.8-0.5 1.8-0.5 1.8-0.6 1.8-0.5 1.8-0.6 1.8-0.5 1.8-0.6 1.8-0.5 1.8-0.6 1.8-0.5 1.8-0.6 1.8-0.6 1.8-0.6 1.8-0.6 1.8-0.6 1.8-0.5 1.8-0.6 1.8-0.7 1.7-0.6 1.8-0.6 1.8-0.6 1.8-0.6 1.8-0.6M655.8,209.9l-1.2-1.1-1.2-1-1.1-1.1-1.2-1-1.2-1.1-1.1-1-1.2-1.1-1.2-1.1-1.1-1-1.2-1.1-1.2-1-1.1-1.1-1.2-1-1.1-1.1-1.2-1-1.1-1.1-1.2-1.1-1.1-1-1.1-1.1-1.2-1-1.1-1.1-1.1-1.1-1.2-1-1.1-1.1-1.1-1.1-1.1-1-1.2-1.1-1.1-1.1-1.1-1-1.1-1.1-1.1-1.1-1.1-1-1.1-1.1-1.1-1.1-1.1-1-1.1-1.1-1.1-1.1-1.1-1.1-1.1-1-1.1-1.1-1.1-1.1-1.1-1.1-1.1-1-1.1-1.1-1.1-1.1-1-1.1-1.1-1.1-1.1-1-1.1-1.1-1-1.1-1.1-1.1-1.1-1.1-1.1-1.1-1-1.1-1.1-1.1-1-1.1-1.1-1-1.1-1.1-1-1.1-1.1-1.1-1-1.1-1.1-1.1-1-1.1-1.1-1.1-1-1.1-1.1-1.1-1-1.1-1-1.1-1.1-1.1-1-1.2-1-1.1-1.1-1.1-1-1.1-1-1.1-1.1-1.1-1-1.1-1-1.2-1.1-1.1-1-1.1-1-1.1-1-1.1-1-1.2-1-1.1-1.1-1.1-1-1.1-1-1.2-1-1.1-1-1.1-1-1.2-1-1.1-1-1.2-1-1.1-1-1.1-1-1.2-1-1.1-1-1.2-1-1.1-1-1.2-1-1.1-1-1.2M389.1,146.4l2-0.2 2-0.2 2-0.2 2-0.2 2-0.2 2-0.3 2-0.2 2-0.2 2-0.2 1.9-0.3 2-0.2 2-0.2 1.9-0.3 2-0.2 2-0.3 1.9-0.2 2-0.3 1.9-0.3 1.9-0.2 2-0.3 1.9-0.3 2-0.2 1.9-0.3 1.9-0.3 1.9-0.3 2-0.3 1.9-0.3 1.9-0.3 1.9-0.3 1.9-0.3 1.9-0.3 1.9-0.4 1.9-0.3 1.9-0.3 1.9-0.3 1.9-0.4 1.9-0.3 1.8-0.4 1.9-0.3 1.9-0.4 1.9-0.3 1.9-0.4 1.8-0.4 1.9-0.3 1.9-0.4 1.8-0.4 1.9-0.4 1.8-0.3 1.9-0.4 1.9-0.4 1.8-0.4 1.9-0.4 1.8-0.4 1.9-0.5 1.8-0.4 1.8-0.4 1.9-0.4 1.8-0.5 1.8-0.4 1.9-0.4 1.8-0.5 1.8-0.4 1.9-0.5 1.8-0.4 1.8-0.5 1.8-0.5 1.9-0.4 1.8-0.5 1.8-0.5 1.8-0.5 1.8-0.5 1.8-0.5 1.9-0.5 1.8-0.5 1.8-0.5 1.8-0.5 1.8-0.5 1.8-0.5 1.8-0.5 1.8-0.6 1.8-0.5 1.8-0.5 1.8-0.6 1.8-0.5 1.8-0.6 1.8-0.5 1.8-0.6 1.8-0.6 1.8-0.5 1.8-0.6 1.8-0.6 1.8-0.6 1.8-0.6 1.7-0.6 1.8-0.6 1.8-0.6 1.8-0.6 1.8-0.6 1.8-0.6 1.8-0.6M657.9,208.9l-1.2-1-1.2-1.1-1.2-1-1.2-1.1-1.1-1-1.2-1.1-1.2-1-1.2-1.1-1.1-1-1.2-1.1-1.1-1-1.2-1.1-1.2-1-1.1-1.1-1.2-1-1.1-1.1-1.2-1-1.1-1.1-1.2-1.1-1.1-1-1.1-1.1-1.2-1-1.1-1.1-1.1-1-1.2-1.1-1.1-1.1-1.1-1-1.1-1.1-1.1-1.1-1.2-1-1.1-1.1-1.1-1-1.1-1.1-1.1-1.1-1.1-1-1.1-1.1-1.1-1.1-1.1-1.1-1.1-1-1.1-1.1-1.1-1.1-1.1-1-1.1-1.1-1.1-1.1-1.1-1.1-1-1-1.1-1.1-1.1-1.1-1.1-1.1-1.1-1.1-1-1-1.1-1.1-1.1-1.1-1-1.1-1.1-1.1-1.1-1.1-1-1.1-1.1-1.1-1.1-1-1-1.1-1.1-1.1-1-1.1-1.1-1.1-1-1.1-1.1-1.1-1-1.1-1.1-1.1-1-1.1-1-1.1-1.1-1.1-1-1.1-1.1-1.1-1-1.1-1-1.2-1-1.1-1.1-1.1-1-1.1-1-1.1-1.1-1.1-1-1.1-1-1.2-1-1.1-1-1.1-1.1-1.1-1-1.1-1-1.2-1-1.1-1-1.1-1-1.2-1-1.1-1-1.1-1-1.2-1-1.1-1-1.1-1-1.2-1-1.1-1-1.2-1-1.1-1-1.2-1-1.1M388.2,144.8l2-0.2 2.1-0.2 2-0.2 2-0.2 1.9-0.2 2-0.2 2-0.2 2-0.2 2-0.2 2-0.3 1.9-0.2 2-0.2 1.9-0.3 2-0.2 2-0.3 1.9-0.2 2-0.3 1.9-0.2 1.9-0.3 2-0.2 1.9-0.3 2-0.3 1.9-0.3 1.9-0.3 1.9-0.2 1.9-0.3 2-0.3 1.9-0.3 1.9-0.3 1.9-0.3 1.9-0.3 1.9-0.4 1.9-0.3 1.9-0.3 1.9-0.3 1.9-0.4 1.8-0.3 1.9-0.3 1.9-0.4 1.9-0.3 1.9-0.4 1.8-0.3 1.9-0.4 1.9-0.4 1.8-0.3 1.9-0.4 1.9-0.4 1.8-0.4 1.9-0.4 1.8-0.3 1.9-0.4 1.8-0.4 1.9-0.4 1.8-0.5 1.8-0.4 1.9-0.4 1.8-0.4 1.9-0.4 1.8-0.5 1.8-0.4 1.9-0.4 1.8-0.5 1.8-0.4 1.8-0.5 1.9-0.4 1.8-0.5 1.8-0.5 1.8-0.4 1.8-0.5 1.8-0.5 1.9-0.5 1.8-0.5 1.8-0.5 1.8-0.5 1.8-0.5 1.8-0.5 1.8-0.5 1.8-0.5 1.8-0.5 1.8-0.5 1.8-0.6 1.8-0.5 1.8-0.5 1.8-0.6 1.8-0.5 1.8-0.6 1.8-0.5 1.8-0.6 1.8-0.6 1.8-0.6 1.8-0.5 1.8-0.6 1.7-0.6 1.8-0.6 1.8-0.6 1.8-0.6 1.8-0.6 1.8-0.6 1.8-0.6 1.8-0.6M659.9,208l-1.2-1.1-1.2-1-1.1-1.1-1.2-1-1.2-1.1-1.2-1-1.2-1.1-1.1-1-1.2-1-1.2-1.1-1.1-1-1.2-1.1-1.2-1-1.1-1.1-1.2-1-1.1-1.1-1.2-1-1.1-1.1-1.2-1-1.1-1.1-1.2-1-1.1-1.1-1.1-1.1-1.2-1-1.1-1.1-1.1-1-1.1-1.1-1.2-1-1.1-1.1-1.1-1.1-1.1-1-1.1-1.1-1.2-1-1.1-1.1-1.1-1.1-1.1-1-1.1-1.1-1.1-1.1-1.1-1-1.1-1.1-1.1-1.1-1.1-1-1.1-1.1-1.1-1.1-1.1-1-1-1.1-1.1-1.1-1.1-1.1-1.1-1-1.1-1.1-1-1.1-1.1-1.1-1.1-1.1-1.1-1-1-1.1-1.1-1.1-1.1-1.1-1-1.1-1.1-1.1-1-1-1.1-1.1-1.1-1.1-1-1.1-1.1-1.1-1-1.1-1.1-1.1-1-1.1-1.1-1.1-1-1.1-1-1.1-1.1-1.1-1-1.1-1.1-1.1-1-1.1-1-1.1-1.1-1.1-1-1.1-1-1.1-1-1.2-1.1-1.1-1-1.1-1-1.1-1-1.1-1.1-1.1-1-1.2-1-1.1-1-1.1-1-1.1-1-1.2-1-1.1-1-1.1-1.1-1.1-1-1.2-1-1.1-1-1.1-1-1.2-1-1.1-1-1.2-1-1.1-1-1.2M387.4,143.3l2-0.2 2-0.2 2-0.2 2-0.2 2-0.2 1.9-0.2 2-0.2 2-0.2 2-0.2 2-0.3 1.9-0.2 2-0.2 2-0.3 1.9-0.2 2-0.2 1.9-0.3 2-0.2 1.9-0.3 1.9-0.2 2-0.3 1.9-0.3 1.9-0.2 2-0.3 1.9-0.3 1.9-0.3 1.9-0.3 1.9-0.2 2-0.3 1.9-0.3 1.9-0.3 1.9-0.3 1.9-0.4 1.9-0.3 1.9-0.3 1.9-0.3 1.8-0.3 1.9-0.4 1.9-0.3 1.9-0.3 1.9-0.4 1.8-0.3 1.9-0.4 1.9-0.3 1.8-0.4 1.9-0.4 1.9-0.3 1.8-0.4 1.9-0.4 1.8-0.4 1.9-0.4 1.8-0.4 1.9-0.3 1.8-0.4 1.9-0.5 1.8-0.4 1.8-0.4 1.9-0.4 1.8-0.4 1.8-0.4 1.9-0.5 1.8-0.4 1.8-0.4 1.9-0.5 1.8-0.4 1.8-0.5 1.8-0.4 1.8-0.5 1.9-0.5 1.8-0.4 1.8-0.5 1.8-0.5 1.8-0.5 1.8-0.5 1.8-0.5 1.8-0.5 1.8-0.5 1.8-0.5 1.8-0.5 1.8-0.5 1.8-0.5 1.8-0.5 1.8-0.6 1.8-0.5 1.8-0.6 1.8-0.5 1.8-0.5 1.8-0.6 1.8-0.6 1.8-0.5 1.8-0.6 1.8-0.6 1.7-0.5 1.8-0.6 1.8-0.6 1.8-0.6 1.8-0.6 1.8-0.6 1.8-0.6 1.7-0.6 1.8-0.6M662,207l-1.2-1.1-1.2-1-1.2-1-1.2-1.1-1.2-1-1.2-1.1-1.1-1-1.2-1-1.2-1.1-1.2-1-1.1-1.1-1.2-1-1.2-1.1-1.1-1-1.2-1-1.1-1.1-1.2-1-1.1-1.1-1.2-1-1.1-1.1-1.2-1-1.1-1.1-1.2-1-1.1-1.1-1.1-1-1.2-1.1-1.1-1-1.1-1.1-1.1-1-1.2-1.1-1.1-1.1-1.1-1-1.1-1.1-1.1-1-1.1-1.1-1.2-1-1.1-1.1-1.1-1.1-1.1-1-1.1-1.1-1.1-1.1-1.1-1-1.1-1.1-1.1-1.1-1.1-1-1-1.1-1.1-1.1-1.1-1-1.1-1.1-1.1-1.1-1.1-1-1-1.1-1.1-1.1-1.1-1.1-1.1-1.1-1-1-1.1-1.1-1.1-1.1-1-1.1-1.1-1.1-1-1-1.1-1.1-1.1-1.1-1-1.1-1.1-1.1-1-1.1-1.1-1.1-1-1.1-1.1-1.1-1-1.1-1-1.1-1.1-1.1-1-1.1-1.1-1.1-1-1.1-1-1.1-1.1-1.1-1-1.1-1-1.1-1.1-1.1-1-1.1-1-1.1-1-1.1-1-1.2-1.1-1.1-1-1.1-1-1.1-1-1.1-1-1.1-1-1.2-1.1-1.1-1-1.1-1-1.2-1-1.1-1-1.1-1-1.1-1-1.2-1-1.1-1-1.2-1-1.1M386.5,141.7l2-0.2 2-0.1 2-0.2 2-0.2 2-0.2 2-0.2 1.9-0.2 2-0.2 2-0.2 2-0.3 1.9-0.2 2-0.2 2-0.2 1.9-0.3 2-0.2 1.9-0.3 2-0.2 1.9-0.2 1.9-0.3 2-0.3 1.9-0.2 1.9-0.3 2-0.2 1.9-0.3 1.9-0.3 1.9-0.3 1.9-0.3 2-0.3 1.9-0.2 1.9-0.3 1.9-0.3 1.9-0.4 1.9-0.3 1.8-0.3 1.9-0.3 1.9-0.3 1.9-0.3 1.9-0.4 1.9-0.3 1.8-0.3 1.9-0.4 1.9-0.3 1.8-0.4 1.9-0.3 1.9-0.4 1.8-0.4 1.9-0.3 1.8-0.4 1.9-0.4 1.8-0.4 1.9-0.4 1.8-0.4 1.9-0.4 1.8-0.4 1.9-0.4 1.8-0.4 1.8-0.4 1.9-0.4 1.8-0.4 1.8-0.4 1.9-0.5 1.8-0.4 1.8-0.4 1.8-0.5 1.8-0.4 1.9-0.5 1.8-0.4 1.8-0.5 1.8-0.5 1.8-0.4 1.8-0.5 1.8-0.5 1.8-0.5 1.8-0.5 1.8-0.5 1.9-0.5 1.8-0.5 1.8-0.5 1.8-0.5 1.7-0.5 1.8-0.5 1.8-0.6 1.8-0.5 1.8-0.5 1.8-0.6 1.8-0.5 1.8-0.6 1.8-0.5 1.8-0.6 1.8-0.5 1.8-0.6 1.7-0.6 1.8-0.6 1.8-0.5 1.8-0.6 1.8-0.6 1.8-0.6 1.7-0.6 1.8-0.6 1.8-0.6M664,206l-1.2-1-1.2-1.1-1.2-1-1.1-1-1.2-1.1-1.2-1-1.2-1-1.2-1.1-1.2-1-1.1-1-1.2-1.1-1.2-1-1.1-1.1-1.2-1-1.2-1-1.1-1.1-1.2-1-1.1-1.1-1.2-1-1.1-1.1-1.2-1-1.1-1.1-1.2-1-1.1-1-1.2-1.1-1.1-1-1.1-1.1-1.2-1-1.1-1.1-1.1-1-1.1-1.1-1.2-1-1.1-1.1-1.1-1.1-1.1-1-1.1-1.1-1.1-1-1.2-1.1-1.1-1-1.1-1.1-1.1-1.1-1.1-1-1.1-1.1-1.1-1-1.1-1.1-1-1.1-1.1-1-1.1-1.1-1.1-1.1-1.1-1-1.1-1.1-1.1-1.1-1-1.1-1.1-1-1.1-1.1-1.1-1.1-1-1-1.1-1.1-1.1-1.1-1-1.1-1.1-1.1-1.1-1-1-1.1-1.1-1.1-1-1.1-1.1-1.1-1-1.1-1.1-1.1-1-1.1-1.1-1-1-1.1-1.1-1.1-1-1.1-1-1.1-1.1-1.1-1-1.1-1-1.1-1.1-1.1-1-1.1-1-1.1-1.1-1.1-1-1.2-1-1.1-1-1.1-1.1-1.1-1-1.1-1-1.1-1-1.1-1-1.1-1.1-1.2-1-1.1-1-1.1-1-1.1-1-1.2-1-1.1-1-1.1-1-1.2-1-1.1-1-1.1-1-1.2M385.6,140.2l2-0.2 2-0.2 2-0.2 2-0.2 2-0.1 2-0.2 2-0.2 1.9-0.2 2-0.3 2-0.2 1.9-0.2 2-0.2 2-0.2 1.9-0.3 2-0.2 1.9-0.2 2-0.3 1.9-0.2 2-0.3 1.9-0.2 1.9-0.3 1.9-0.2 2-0.3 1.9-0.3 1.9-0.2 1.9-0.3 1.9-0.3 1.9-0.3 1.9-0.3 1.9-0.3 1.9-0.3 1.9-0.3 1.9-0.3 1.9-0.3 1.9-0.3 1.9-0.3 1.9-0.3 1.9-0.3 1.8-0.4 1.9-0.3 1.9-0.4 1.9-0.3 1.8-0.3 1.9-0.4 1.8-0.4 1.9-0.3 1.9-0.4 1.8-0.3 1.9-0.4 1.8-0.4 1.9-0.4 1.8-0.4 1.8-0.4 1.9-0.4 1.8-0.3 1.9-0.5 1.8-0.4 1.8-0.4 1.8-0.4 1.9-0.4 1.8-0.4 1.8-0.5 1.8-0.4 1.9-0.4 1.8-0.5 1.8-0.4 1.8-0.5 1.8-0.4 1.8-0.5 1.8-0.5 1.9-0.4 1.8-0.5 1.8-0.5 1.8-0.5 1.8-0.5 1.8-0.5 1.8-0.5 1.8-0.5 1.8-0.5 1.8-0.5 1.8-0.5 1.8-0.5 1.7-0.6 1.8-0.5 1.8-0.5 1.8-0.6 1.8-0.5 1.8-0.6 1.8-0.5 1.8-0.6 1.8-0.5 1.7-0.6 1.8-0.6 1.8-0.6 1.8-0.5 1.8-0.6 1.7-0.6 1.8-0.6 1.8-0.6 1.8-0.6M666.1,205l-1.2-1-1.2-1-1.2-1.1-1.2-1-1.2-1-1.2-1-1.2-1.1-1.2-1-1.1-1-1.2-1.1-1.2-1-1.2-1.1-1.1-1-1.2-1-1.2-1.1-1.1-1-1.2-1-1.2-1.1-1.1-1-1.2-1.1-1.1-1-1.2-1-1.1-1.1-1.2-1-1.1-1.1-1.1-1-1.2-1.1-1.1-1-1.1-1-1.2-1.1-1.1-1-1.1-1.1-1.1-1-1.2-1.1-1.1-1-1.1-1.1-1.1-1-1.1-1.1-1.1-1-1.1-1.1-1.2-1.1-1.1-1-1.1-1.1-1.1-1-1.1-1.1-1-1.1-1.1-1-1.1-1.1-1.1-1-1.1-1.1-1.1-1.1-1.1-1-1.1-1.1-1-1.1-1.1-1-1.1-1.1-1.1-1.1-1-1.1-1.1-1-1.1-1.1-1-1.1-1.1-1.1-1.1-1-1-1.1-1.1-1.1-1-1.1-1.1-1.1-1-1.1-1.1-1-1-1.1-1.1-1.1-1-1.1-1.1-1.1-1-1.1-1.1-1.1-1-1.1-1-1.1-1.1-1.1-1-1.1-1-1.1-1.1-1.1-1-1.1-1-1.1-1-1.1-1.1-1.1-1-1.1-1-1.1-1-1.1-1-1.2-1.1-1.1-1-1.1-1-1.1-1-1.1-1-1.1-1-1.2-1-1.1-1-1.1-1-1.1-1-1.2-1-1.1M384.7,138.6l2-0.2 2-0.1 2-0.2 2-0.2 2-0.2 2-0.2 2-0.2 1.9-0.2 2-0.2 2-0.2 2-0.2 1.9-0.2 2-0.2 1.9-0.2 2-0.3 1.9-0.2 2-0.2 1.9-0.3 2-0.2 1.9-0.3 1.9-0.2 1.9-0.3 2-0.2 1.9-0.3 1.9-0.3 1.9-0.2 1.9-0.3 1.9-0.3 1.9-0.3 1.9-0.3 1.9-0.3 1.9-0.3 1.9-0.3 1.9-0.3 1.9-0.3 1.9-0.3 1.9-0.3 1.8-0.3 1.9-0.3 1.9-0.4 1.9-0.3 1.8-0.4 1.9-0.3 1.9-0.3 1.8-0.4 1.9-0.3 1.8-0.4 1.9-0.4 1.8-0.3 1.9-0.4 1.8-0.4 1.9-0.4 1.8-0.4 1.8-0.4 1.9-0.3 1.8-0.4 1.8-0.4 1.9-0.5 1.8-0.4 1.8-0.4 1.8-0.4 1.9-0.4 1.8-0.5 1.8-0.4 1.8-0.4 1.8-0.5 1.9-0.4 1.8-0.5 1.8-0.4 1.8-0.5 1.8-0.5 1.8-0.4 1.8-0.5 1.8-0.5 1.8-0.5 1.8-0.5 1.8-0.5 1.8-0.5 1.8-0.5 1.8-0.5 1.8-0.5 1.8-0.5 1.8-0.5 1.8-0.6 1.7-0.5 1.8-0.5 1.8-0.6 1.8-0.5 1.8-0.6 1.8-0.5 1.8-0.6 1.7-0.5 1.8-0.6 1.8-0.6 1.8-0.6 1.8-0.6 1.7-0.5 1.8-0.6 1.8-0.6 1.8-0.6M668.1,204.1l-1.2-1.1-1.2-1-1.2-1-1.2-1-1.2-1.1-1.2-1-1.1-1-1.2-1.1-1.2-1-1.2-1-1.2-1-1.2-1.1-1.1-1-1.2-1-1.2-1.1-1.1-1-1.2-1-1.2-1.1-1.1-1-1.2-1-1.1-1.1-1.2-1-1.1-1.1-1.2-1-1.1-1-1.2-1.1-1.1-1-1.2-1.1-1.1-1-1.1-1-1.2-1.1-1.1-1-1.1-1.1-1.1-1-1.2-1.1-1.1-1-1.1-1.1-1.1-1-1.1-1.1-1.1-1-1.1-1.1-1.1-1-1.1-1.1-1.2-1-1.1-1.1-1-1-1.1-1.1-1.1-1.1-1.1-1-1.1-1.1-1.1-1-1.1-1.1-1.1-1.1-1.1-1-1-1.1-1.1-1.1-1.1-1-1.1-1.1-1-1.1-1.1-1-1.1-1.1-1-1.1-1.1-1.1-1.1-1-1-1.1-1.1-1.1-1-1.1-1.1-1.1-1.1-1-1-1.1-1.1-1.1-1-1.1-1-1.1-1.1-1.1-1-1.1-1.1-1-1-1.1-1.1-1.1-1-1.1-1-1.1-1.1-1.1-1-1.1-1-1.1-1-1.1-1.1-1.1-1-1.1-1-1.1-1-1.2-1.1-1.1-1-1.1-1-1.1-1-1.1-1-1.1-1-1.1-1-1.2-1.1-1.1-1-1.1-1-1.1-1-1.1-1-1.2M383.8,137.1l2-0.2 2-0.2 2-0.2 2-0.1 2-0.2 2-0.2 2-0.2 2-0.2 1.9-0.2 2-0.2 2-0.2 1.9-0.2 2-0.2 1.9-0.2 2-0.3 1.9-0.2 2-0.2 1.9-0.2 2-0.3 1.9-0.2 1.9-0.3 1.9-0.2 2-0.3 1.9-0.2 1.9-0.3 1.9-0.3 1.9-0.2 1.9-0.3 1.9-0.3 1.9-0.3 1.9-0.3 1.9-0.3 1.9-0.3 1.9-0.3 1.9-0.3 1.9-0.3 1.8-0.3 1.9-0.3 1.9-0.3 1.9-0.3 1.8-0.4 1.9-0.3 1.9-0.3 1.8-0.4 1.9-0.3 1.8-0.4 1.9-0.3 1.8-0.4 1.9-0.4 1.8-0.3 1.9-0.4 1.8-0.4 1.9-0.4 1.8-0.4 1.8-0.3 1.9-0.4 1.8-0.4 1.8-0.4 1.9-0.5 1.8-0.4 1.8-0.4 1.8-0.4 1.8-0.4 1.9-0.5 1.8-0.4 1.8-0.4 1.8-0.5 1.8-0.4 1.8-0.5 1.8-0.4 1.8-0.5 1.8-0.5 1.8-0.4 1.8-0.5 1.8-0.5 1.8-0.5 1.8-0.5 1.8-0.5 1.8-0.5 1.8-0.5 1.8-0.5 1.8-0.5 1.8-0.5 1.8-0.5 1.8-0.6 1.7-0.5 1.8-0.5 1.8-0.6 1.8-0.5 1.8-0.6 1.8-0.5 1.7-0.6 1.8-0.5 1.8-0.6 1.8-0.6 1.7-0.6 1.8-0.6 1.8-0.5 1.8-0.6 1.8-0.6M670.2,203.1l-1.2-1-1.2-1.1-1.2-1-1.2-1-1.2-1-1.2-1.1-1.2-1-1.2-1-1.2-1-1.2-1.1-1.2-1-1.1-1-1.2-1-1.2-1.1-1.2-1-1.1-1-1.2-1.1-1.2-1-1.1-1-1.2-1-1.2-1.1-1.1-1-1.2-1-1.1-1.1-1.2-1-1.1-1.1-1.2-1-1.1-1-1.1-1.1-1.2-1-1.1-1-1.1-1.1-1.2-1-1.1-1.1-1.1-1-1.1-1-1.2-1.1-1.1-1-1.1-1.1-1.1-1-1.1-1.1-1.1-1-1.1-1.1-1.1-1-1.1-1.1-1.2-1-1-1.1-1.1-1-1.1-1.1-1.1-1.1-1.1-1-1.1-1.1-1.1-1-1.1-1.1-1.1-1-1-1.1-1.1-1.1-1.1-1-1.1-1.1-1-1.1-1.1-1-1.1-1.1-1.1-1.1-1-1.1-1.1-1-1-1.1-1.1-1.1-1.1-1.1-1-1-1.1-1.1-1-1.1-1.1-1.1-1-1.1-1.1-1-1-1.1-1.1-1.1-1-1.1-1-1.1-1.1-1.1-1-1.1-1-1.1-1.1-1.1-1-1.1-1-1.1-1.1-1.1-1-1.1-1-1.1-1-1.1-1.1-1.1-1-1.1-1-1.1-1-1.1-1-1.1-1.1-1.1-1-1.1-1-1.2-1-1.1-1-1.1-1-1.1-1-1.1M383,135.5l2-0.2 2-0.1 2-0.2 1.9-0.2 2-0.1 2-0.2 2-0.2 2-0.2 1.9-0.2 2-0.2 2-0.2 1.9-0.2 2-0.2 1.9-0.2 2-0.2 1.9-0.3 2-0.2 1.9-0.2 2-0.3 1.9-0.2 1.9-0.2 1.9-0.3 2-0.2 1.9-0.3 1.9-0.2 1.9-0.3 1.9-0.3 1.9-0.2 1.9-0.3 1.9-0.3 1.9-0.3 1.9-0.3 1.9-0.3 1.9-0.2 1.9-0.3 1.8-0.4 1.9-0.3 1.9-0.3 1.9-0.3 1.8-0.3 1.9-0.3 1.9-0.4 1.8-0.3 1.9-0.3 1.9-0.4 1.8-0.3 1.9-0.4 1.8-0.3 1.9-0.4 1.8-0.4 1.8-0.3 1.9-0.4 1.8-0.4 1.9-0.4 1.8-0.3 1.8-0.4 1.9-0.4 1.8-0.4 1.8-0.4 1.8-0.4 1.8-0.5 1.9-0.4 1.8-0.4 1.8-0.4 1.8-0.4 1.8-0.5 1.8-0.4 1.8-0.5 1.9-0.4 1.8-0.5 1.8-0.4 1.8-0.5 1.8-0.5 1.8-0.4 1.8-0.5 1.8-0.5 1.7-0.5 1.8-0.5 1.8-0.5 1.8-0.5 1.8-0.5 1.8-0.5 1.8-0.5 1.8-0.5 1.8-0.5 1.7-0.6 1.8-0.5 1.8-0.5 1.8-0.6 1.8-0.5 1.8-0.6 1.7-0.5 1.8-0.6 1.8-0.6 1.8-0.5 1.7-0.6 1.8-0.6 1.8-0.6 1.8-0.6 1.7-0.5M672.3,202.1l-1.3-1-1.2-1-1.2-1.1-1.2-1-1.2-1-1.2-1-1.2-1-1.2-1.1-1.2-1-1.2-1-1.1-1-1.2-1-1.2-1.1-1.2-1-1.2-1-1.1-1-1.2-1.1-1.2-1-1.1-1-1.2-1.1-1.2-1-1.1-1-1.2-1-1.1-1.1-1.2-1-1.1-1-1.2-1.1-1.1-1-1.2-1-1.1-1.1-1.2-1-1.1-1-1.1-1.1-1.2-1-1.1-1-1.1-1.1-1.1-1-1.2-1.1-1.1-1-1.1-1.1-1.1-1-1.1-1-1.1-1.1-1.1-1-1.1-1.1-1.2-1-1.1-1.1-1.1-1-1-1.1-1.1-1-1.1-1.1-1.1-1-1.1-1.1-1.1-1.1-1.1-1-1.1-1.1-1.1-1-1-1.1-1.1-1-1.1-1.1-1.1-1.1-1-1-1.1-1.1-1.1-1.1-1-1-1.1-1.1-1.1-1.1-1-1.1-1.1-1-1-1.1-1.1-1.1-1-1.1-1.1-1-1-1.1-1.1-1.1-1-1.1-1.1-1.1-1-1.1-1.1-1-1-1.1-1-1.1-1.1-1.1-1-1.1-1-1.1-1.1-1.1-1-1.1-1-1.1-1.1-1.1-1-1.1-1-1.1-1-1.1-1-1.1-1.1-1.1-1-1.1-1-1.1-1-1.1-1-1.2-1-1.1-1-1.1-1-1.1M382.1,133.9l2-0.1 2-0.2 2-0.1 2-0.2 1.9-0.2 2-0.2 2-0.1 2-0.2 2-0.2 1.9-0.2 2-0.2 1.9-0.2 2-0.2 1.9-0.2 2-0.2 1.9-0.2 2-0.3 1.9-0.2 2-0.2 1.9-0.3 1.9-0.2 1.9-0.2 2-0.3 1.9-0.2 1.9-0.3 1.9-0.2 1.9-0.3 1.9-0.3 1.9-0.2 1.9-0.3 1.9-0.3 1.9-0.3 1.9-0.3 1.9-0.2 1.9-0.3 1.8-0.3 1.9-0.3 1.9-0.4 1.9-0.3 1.8-0.3 1.9-0.3 1.9-0.3 1.8-0.4 1.9-0.3 1.8-0.3 1.9-0.4 1.8-0.3 1.9-0.4 1.8-0.3 1.9-0.4 1.8-0.3 1.8-0.4 1.9-0.4 1.8-0.4 1.9-0.3 1.8-0.4 1.8-0.4 1.8-0.4 1.9-0.4 1.8-0.4 1.8-0.4 1.8-0.4 1.8-0.5 1.8-0.4 1.9-0.4 1.8-0.4 1.8-0.5 1.8-0.4 1.8-0.5 1.8-0.4 1.8-0.5 1.8-0.4 1.8-0.5 1.8-0.4 1.8-0.5 1.8-0.5 1.8-0.5 1.8-0.5 1.8-0.5 1.7-0.5 1.8-0.5 1.8-0.5 1.8-0.5 1.8-0.5 1.8-0.5 1.8-0.5 1.7-0.6 1.8-0.5 1.8-0.5 1.8-0.6 1.8-0.5 1.7-0.6 1.8-0.5 1.8-0.6 1.8-0.5 1.7-0.6 1.8-0.6 1.8-0.6 1.7-0.6 1.8-0.6M674.3,201.1l-1.2-1-1.2-1-1.2-1-1.2-1.1-1.2-1-1.2-1-1.2-1-1.2-1-1.2-1-1.2-1.1-1.2-1-1.2-1-1.2-1-1.2-1-1.2-1.1-1.1-1-1.2-1-1.2-1-1.2-1-1.1-1.1-1.2-1-1.2-1-1.1-1-1.2-1.1-1.1-1-1.2-1-1.1-1-1.2-1.1-1.1-1-1.2-1-1.1-1.1-1.2-1-1.1-1-1.1-1.1-1.2-1-1.1-1-1.1-1.1-1.1-1-1.2-1-1.1-1.1-1.1-1-1.1-1.1-1.1-1-1.1-1-1.1-1.1-1.2-1-1.1-1.1-1.1-1-1.1-1.1-1.1-1-1.1-1.1-1-1-1.1-1.1-1.1-1-1.1-1.1-1.1-1-1.1-1.1-1.1-1-1-1.1-1.1-1.1-1.1-1-1.1-1.1-1-1-1.1-1.1-1.1-1.1-1.1-1-1-1.1-1.1-1.1-1-1-1.1-1.1-1.1-1.1-1-1.1-1.1-1-1-1.1-1.1-1.1-1-1.1-1.1-1-1-1.1-1-1.1-1.1-1.1-1-1.1-1.1-1.1-1-1.1-1-1-1.1-1.1-1-1.1-1-1.1-1.1-1.1-1-1.1-1-1.1-1-1.1-1.1-1.1-1-1.1-1-1.1-1-1.1-1-1.1-1-1.2-1.1-1.1-1-1.1-1-1.1M381.2,132.4l2-0.2 2-0.1 2-0.2 2-0.2 2-0.1 1.9-0.2 2-0.2 2-0.2 2-0.1 1.9-0.2 2-0.2 2-0.2 1.9-0.2 2-0.2 1.9-0.2 1.9-0.2 2-0.2 1.9-0.3 2-0.2 1.9-0.2 1.9-0.3 1.9-0.2 2-0.2 1.9-0.3 1.9-0.2 1.9-0.3 1.9-0.2 1.9-0.3 1.9-0.3 1.9-0.2 1.9-0.3 1.9-0.3 1.9-0.3 1.9-0.2 1.8-0.3 1.9-0.3 1.9-0.3 1.9-0.3 1.8-0.3 1.9-0.4 1.9-0.3 1.8-0.3 1.9-0.3 1.8-0.3 1.9-0.4 1.9-0.3 1.8-0.4 1.8-0.3 1.9-0.4 1.8-0.3 1.9-0.4 1.8-0.3 1.8-0.4 1.9-0.4 1.8-0.3 1.8-0.4 1.9-0.4 1.8-0.4 1.8-0.4 1.8-0.4 1.9-0.4 1.8-0.4 1.8-0.4 1.8-0.4 1.8-0.5 1.8-0.4 1.8-0.4 1.8-0.5 1.8-0.4 1.8-0.4 1.8-0.5 1.8-0.4 1.8-0.5 1.8-0.5 1.8-0.4 1.8-0.5 1.8-0.5 1.8-0.5 1.8-0.5 1.8-0.4 1.8-0.5 1.7-0.5 1.8-0.5 1.8-0.6 1.8-0.5 1.8-0.5 1.8-0.5 1.7-0.5 1.8-0.6 1.8-0.5 1.8-0.6 1.7-0.5 1.8-0.6 1.8-0.5 1.8-0.6 1.7-0.5 1.8-0.6 1.8-0.6 1.7-0.6 1.8-0.6M676.4,200.1l-1.2-1-1.3-1-1.2-1-1.2-1-1.2-1-1.2-1.1-1.2-1-1.2-1-1.2-1-1.2-1-1.2-1-1.2-1-1.2-1.1-1.2-1-1.2-1-1.1-1-1.2-1-1.2-1-1.2-1.1-1.1-1-1.2-1-1.2-1-1.1-1-1.2-1.1-1.2-1-1.1-1-1.2-1-1.1-1.1-1.2-1-1.1-1-1.2-1-1.1-1.1-1.1-1-1.2-1-1.1-1-1.2-1.1-1.1-1-1.1-1-1.1-1.1-1.2-1-1.1-1-1.1-1.1-1.1-1-1.1-1.1-1.1-1-1.2-1-1.1-1.1-1.1-1-1.1-1.1-1.1-1-1.1-1.1-1.1-1-1.1-1-1.1-1.1-1-1-1.1-1.1-1.1-1-1.1-1.1-1.1-1-1.1-1.1-1-1.1-1.1-1-1.1-1.1-1.1-1-1-1.1-1.1-1.1-1.1-1-1-1.1-1.1-1.1-1.1-1-1-1.1-1.1-1.1-1-1-1.1-1.1-1-1.1-1.1-1-1-1.1-1.1-1.1-1-1.1-1.1-1.1-1-1-1.1-1.1-1-1.1-1-1.1-1.1-1.1-1-1.1-1-1.1-1.1-1.1-1-1-1-1.1-1-1.1-1.1-1.1-1-1.1-1-1.1-1-1.1-1-1.1-1.1-1.1-1-1.2-1-1.1-1-1.1M380.3,130.8l2-0.1 2-0.2 2-0.1 2-0.2 2-0.2 2-0.1 1.9-0.2 2-0.2 2-0.2 1.9-0.1 2-0.2 2-0.2 1.9-0.2 2-0.2 1.9-0.2 2-0.2 1.9-0.2 1.9-0.2 2-0.3 1.9-0.2 1.9-0.2 1.9-0.2 2-0.3 1.9-0.2 1.9-0.3 1.9-0.2 1.9-0.3 1.9-0.2 1.9-0.3 1.9-0.2 1.9-0.3 1.9-0.3 1.9-0.3 1.8-0.2 1.9-0.3 1.9-0.3 1.9-0.3 1.8-0.3 1.9-0.3 1.9-0.3 1.8-0.3 1.9-0.4 1.9-0.3 1.8-0.3 1.9-0.3 1.8-0.4 1.9-0.3 1.8-0.3 1.9-0.4 1.8-0.3 1.8-0.4 1.9-0.3 1.8-0.4 1.8-0.4 1.9-0.4 1.8-0.3 1.8-0.4 1.8-0.4 1.9-0.4 1.8-0.4 1.8-0.4 1.8-0.4 1.8-0.4 1.8-0.4 1.9-0.4 1.8-0.4 1.8-0.5 1.8-0.4 1.8-0.4 1.8-0.5 1.8-0.4 1.8-0.5 1.8-0.4 1.8-0.5 1.8-0.5 1.7-0.4 1.8-0.5 1.8-0.5 1.8-0.5 1.8-0.4 1.8-0.5 1.8-0.5 1.7-0.5 1.8-0.5 1.8-0.5 1.8-0.6 1.8-0.5 1.7-0.5 1.8-0.5 1.8-0.6 1.8-0.5 1.7-0.6 1.8-0.5 1.8-0.6 1.8-0.5 1.7-0.6 1.8-0.5 1.8-0.6 1.7-0.6 1.8-0.6" stroke="#000" stroke-width="0.5" stroke-opacity="0.68" fill="none"/>
<circle cx="380.3" cy="130.8" r="2.6" fill="#c00000" stroke="#4a0000" stroke-width="0.8"/>
<circle cx="565.5" cy="93.3" r="2.6" fill="#c00000" stroke="#4a0000" stroke-width="0.8"/>
<circle cx="577.7" cy="241.1" r="2.6" fill="#c00000" stroke="#4a0000" stroke-width="0.8"/>
<circle cx="423.4" cy="203.2" r="2.6" fill="#c00000" stroke="#4a0000" stroke-width="0.8"/>
<circle cx="471.4" cy="280.6" r="2.6" fill="#d88a98" stroke="#5a2020" stroke-width="0.8"/>
<circle cx="676.3" cy="200.4" r="3.0" fill="#fff" stroke="#7a3030" stroke-width="1.1"/>
<circle cx="616.7" cy="147.5" r="2.0" fill="#e09aa0" stroke="#a05050" stroke-width="0.8"/>
<text x="383.2" y="175.3" font-size="11" text-anchor="end" fill="#222">0.035</text>
<text x="380.4" y="160.8" font-size="11" text-anchor="end" fill="#222">0.04</text>
<text x="377.5" y="146.3" font-size="11" text-anchor="end" fill="#222">0.045</text>
<text x="374.7" y="131.8" font-size="11" text-anchor="end" fill="#222">0.05</text>
<text x="371.8" y="117.2" font-size="11" text-anchor="end" fill="#222">0.055</text>
<text x="368.9" y="102.7" font-size="11" text-anchor="end" fill="#222">0.06</text>
<text x="366.1" y="88.2" font-size="11" text-anchor="end" fill="#222">0.065</text>
<text transform="translate(338.5,151.2) rotate(-90)" font-size="14.5" text-anchor="middle" textLength="47.6" lengthAdjust="spacingAndGlyphs" fill="#111">DS (%)</text>
<text x="473.3" y="375.3" font-size="11" text-anchor="end" fill="#222">5</text>
<text x="456.4" y="343" font-size="11" text-anchor="end" fill="#222">7</text>
<text x="439.4" y="310.8" font-size="11" text-anchor="end" fill="#222">9</text>
<text x="422.5" y="278.5" font-size="11" text-anchor="end" fill="#222">11</text>
<text x="405.6" y="246.3" font-size="11" text-anchor="end" fill="#222">13</text>
<text x="388.7" y="214" font-size="11" text-anchor="end" fill="#222">15</text>
<text x="485.3" y="375.5" font-size="11" fill="#222">0.05</text>
<text x="520.9" y="358.1" font-size="11" fill="#222">0.056</text>
<text x="556.5" y="340.6" font-size="11" fill="#222">0.062</text>
<text x="592.1" y="323.2" font-size="11" fill="#222">0.068</text>
<text x="627.7" y="305.8" font-size="11" fill="#222">0.074</text>
<text x="663.3" y="288.4" font-size="11" fill="#222">0.08</text>
<text x="350.8" y="319.9" font-size="14" textLength="60.2" lengthAdjust="spacingAndGlyphs" fill="#111">B: FA (%)</text>
<text x="567.2" y="386" font-size="14" textLength="66.4" lengthAdjust="spacingAndGlyphs" fill="#111">A: GO (%)</text>
<text x="472.4" y="400.5" font-size="15" font-family="Liberation Serif" font-weight="bold" textLength="20.2" lengthAdjust="spacingAndGlyphs" fill="#000">(b)</text>
<text x="328.5" y="11.4" font-size="15" textLength="162" lengthAdjust="spacingAndGlyphs" fill="#111">Design-Expert® Software</text>
<text x="331.7" y="28.5" font-size="9" textLength="23.3" lengthAdjust="spacingAndGlyphs" fill="#111">DS:</text>
<rect x="335.5" y="31.5" width="12.8" height="37.8" fill="url(#cb)" stroke="#000" stroke-width="1"/>
<text x="353.2" y="40.8" font-size="10.6" textLength="37" lengthAdjust="spacingAndGlyphs" fill="#ff2020">0.062</text>
<text x="353.2" y="64.5" font-size="10.6" textLength="37" lengthAdjust="spacingAndGlyphs" fill="#3030ff">0.038</text>
</svg></body></html>
